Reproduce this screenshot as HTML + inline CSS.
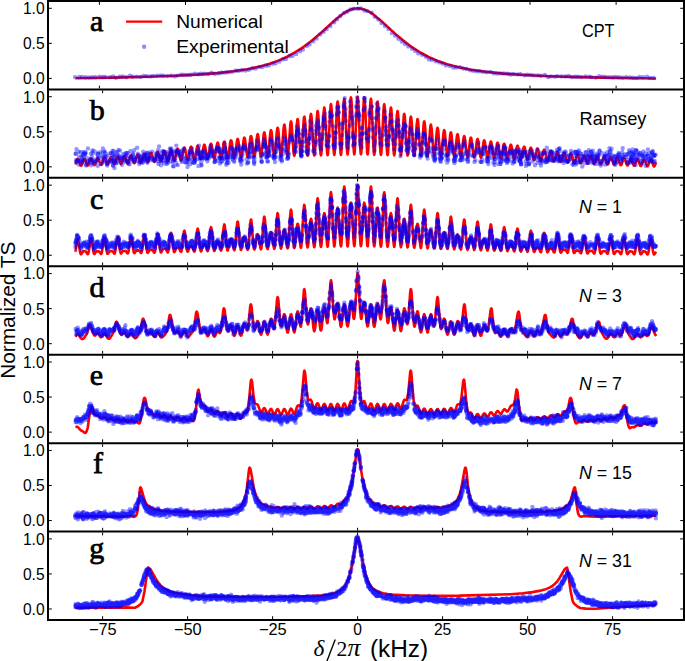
<!DOCTYPE html><html><head><meta charset="utf-8"><style>html,body{margin:0;padding:0;background:#fff;overflow:hidden}svg{display:block}</style></head><body>
<svg width="685" height="661" viewBox="0 0 685 661">
<rect width="685" height="661" fill="#fff"/>
<defs>
<clipPath id="c0"><rect x="48.0" y="1.00" width="636.0" height="88.43"/></clipPath>
<clipPath id="c1"><rect x="48.0" y="89.43" width="636.0" height="88.43"/></clipPath>
<clipPath id="c2"><rect x="48.0" y="177.86" width="636.0" height="88.43"/></clipPath>
<clipPath id="c3"><rect x="48.0" y="266.29" width="636.0" height="88.43"/></clipPath>
<clipPath id="c4"><rect x="48.0" y="354.72" width="636.0" height="88.43"/></clipPath>
<clipPath id="c5"><rect x="48.0" y="443.15" width="636.0" height="88.43"/></clipPath>
<clipPath id="c6"><rect x="48.0" y="531.58" width="636.0" height="88.43"/></clipPath>
</defs>
<g clip-path="url(#c0)">
<path fill="none" stroke="#f00" stroke-width="2.6" stroke-linejoin="round" d="M75.4 78.3l 39-.7 32.4-.8 27.4-1 23.2-1.2 19.5-1.5 16.2-1.8 14.1-2.1 12.5-2.7 10-2.8 9.1-3.3 8.3-3.7 8.3-4.5 8.3-5.4 8.3-6.3 7.5-6.4 15.8-14.3 7-5.6 4.2-2.7 3.7-1.7 3.7-1.1 3.8-.4 3.7 .4 3.7 1.1 3.8 1.8 4.1 2.6 7.1 5.7 15.3 14 7.9 6.7 8.7 6.6 8.3 5.3 8.3 4.5 9.2 4 9.5 3.3 10.4 2.7 13.3 2.7 14.9 2.1 17.5 1.8 20.7 1.4 24.9 1.2 29.5 .9 35.3 .8 42.3 .6"/>
<path fill="none" stroke="#00f" stroke-opacity="0.42" stroke-width="4.4" stroke-linecap="round" d="M75 77.1h0m14 .3h0m13.7-.4h0m13.3 .8h0m14-2h0m13.8 .2h0m13.2-.3h0m14.1 .1h0m12.8-1h0m14.1-.6h0m13.5-1.4h0m13.5-.2h0m13.6-1.8h0m13.7-2.5h0m13.6-2.6h0m13.5-4.1h0m13.2-5.8h0m14.2-9.9h0m13.4-11.5h0m14-12.1h0m13.1-10.5h0m13.5-3.4h0m14 8.4h0m13.6 12.1h0m13.3 12.6h0m13.6 9.5h0m13.6 8.4h0m13.8 4.2h0m13.5 3.9h0m14 2.7h0m13 1.7h0m13.8 1.6h0m13.3 1h0m14.3 .7h0m13.3 .2h0m13.3 1h0m14.1 0h0m12.9 .2h0m13.4 .5h0m14-.2h0m13.5 .4h0m13.9 .5h0m13.9-1h0"/>
<path fill="none" stroke="#00f" stroke-opacity="0.42" stroke-width="4.4" stroke-linecap="round" d="M79.1 77h0m13.1 .2h0m13.3-.3h0m14.3-.2h0m13.1 0h0m13.8-.5h0m13.8-.8h0m14.2 1h0m12.6-1.5h0m13.7-1.2h0m13.8 0h0m13.3-1.4h0m13.9-2.1h0m13.7-1.6h0m13.1-3.2h0m14.1-6h0m13.3-5.3h0m13.4-9.9h0m14.1-12.4h0m13.4-12.6h0m13.5-9.7h0m13.8 1.1h0m13.9 8.8h0m13.6 13.6h0m13.1 11h0m13.3 9.4h0m13.6 6.3h0m14 5.7h0m13.9 1.9h0m13.6 3.5h0m13.4 1.5h0m13.7 1.1h0m13 .6h0m14.1 .7h0m13.4 1h0m13.9 .9h0m13.7-.6h0m13 1.1h0m14.2 .5h0m13.3-.5h0m13.5 .5h0m13.8 .3h0m13.6 0h0"/>
<path fill="none" stroke="#00f" stroke-opacity="0.42" stroke-width="4.4" stroke-linecap="round" d="M82 76.9h0m13.4 .3h0m14.6-.1h0m12.9-.6h0m13.9 .1h0m13.6-.2h0m13-.7h0m14.2-.1h0m13-.8h0m13.7-1h0m14.2-.4h0m13.3-1.5h0m13.7-1.4h0m13.7-3.6h0m13.5-3.1h0m13.4-4.9h0m13.9-7.6h0m13.2-10.1h0m13.5-12.2h0m13.7-13h0m13.3-7.3h0m13.8 2.4h0m13.9 12h0m13.7 12.5h0m13.2 10.8h0m13.9 8.4h0m13.6 6.4h0m14.1 4.8h0m13.2 2.5h0m13.5 2.8h0m13.9 .6h0m13.3 1.6h0m13.5 .9h0m13.6 .5h0m14 .1h0m12.6 1.1h0m14.3 1h0m13.7-.6h0m13.7-.2h0m13.4 .9h0m13.6-.1h0m13.4-.1h0m13.8 1h0"/>
<path fill="none" stroke="#00f" stroke-opacity="0.42" stroke-width="4.4" stroke-linecap="round" d="M85.5 77.2h0m13.9-.6h0m13.7-.2h0m13.3 .8h0m14-.3h0m12.8-.9h0m14 .1h0m13.8-1.3h0m13.5-1h0m13.6 .2h0m13.5-1.2h0m14-2h0m13.3-1.1h0m13.3-2.6h0m13.5-3.9h0m13.9-6.9h0m13.3-6.7h0m13.6-11.1h0m13.9-12.4h0m13.7-13.1h0m13.7-4.2h0m13.8 4h0m13.3 13.3h0m13.5 12.6h0m13.7 10.1h0m13.8 8h0m13.5 5.6h0m13.9 5.2h0m13.3 1.4h0m13.2 2.2h0m13.9 2.1h0m13.6 .5h0m13.2 .5h0m13.5 1.1h0m14.2 1.6h0m13.2-.6h0m13.8 .4h0m14.1-.2h0m13.4 .2h0m13 .1h0m14 .5h0m13.3-.1h0"/>
</g>
<g clip-path="url(#c1)">
<path fill="none" stroke="#f00" stroke-width="2.6" stroke-linejoin="round" d="M75.4 164.5l 1.5-4.5 .5-.8 .4-.2 .4 .3 .5 .9 1.6 4.7 .4 .7 .5 .1 .8-1.3 1.6-4.9 .5-.7 .4-.1 .3 .2 .5 .9 1.7 5 .5 .6 .3 .1 .8-1.3 1.7-5 .4-.7 .4-.2 .3 .2 .5 .8 1.7 5.1 .5 .7 .4 .1 .3-.3 .5-.9 1.7-5.3 .7-.8 .4 .1 .4 .8 1.9 5.5 .3 .5 .4 .1 .3-.2 .5-.9 1.7-5.5 .5-.7 .3-.2 .4 .3 .5 .9 1.7 5.3 .3 .5 .4 .2 .3-.2 .5-.9 1.9-5.8 .3-.6 .4-.2 .3 .3 .5 .8 1.7 5.4 .5 .8 .3 .1 .4-.3 .4-1 1.8-5.7 .3-.6 .4-.2 .3 .1 .5 .8 1.9 5.8 .3 .6 .4 .2 .3-.3 .5-.9 1.7-5.9 .5-.8 .3-.2 .4 .3 .4 .9 1.8 5.7 .3 .6 .4 .2 .3-.2 .4-.6 1.8-6.4 .5-.9 .3-.2 .4 .2 .5 .9 1.7 5.8 .5 .9 .3 .1 .4-.3 .4-1.1 1.8-6.3 .7-1 .3 .2 .5 .9 1.7 6.1 .5 .9 .3 .2 .4-.3 .4-1 1.8-6.6 .5-1 .3-.2 .4 .2 .3 .7 1.7 6.4 .5 1.1 .4 .2 .3-.2 .5-1 1.7-7 .5-1.1 .3-.2 .4 .2 .4 1 1.9 7 .3 .7 .4 .2 .3-.4 .5-1.2 1.7-7.3 .5-1 .4-.2 .3 .3 .5 1.2 1.7 7.1 .4 .8 .3 .2 .4-.3 .4-1.2 1.9-8.1 .3-.8 .4-.2 .3 .3 .4 .8 1.7 7.5 .5 1.3 .3 .3 .4-.3 .4-1.1 1.8-8.2 .5-1.3 .3-.4 .4 .3 .4 1.2 1.9 8.3 .3 .8 .4 .3 .3-.4 .5-1.4 1.7-8.6 .5-1.2 .3-.3 .4 .4 .5 1.4 1.7 8.4 .3 1 .4 .3 .3-.4 .4-.9 1.9-9.5 .4-1.4 .4-.3 .3 .3 .5 1.4 1.7 9 .5 1.2 .3 .2 .4-.5 .4-1.6 1.8-9.5 .3-1.1 .4-.4 .3 .3 .4 .9 1.8 9.9 .5 1.4 .4 .3 .3-.4 .5-1.6 1.7-10 .5-1.5 .3-.3 .4 .5 .4 1.6 1.8 9.9 .3 1.1 .4 .4 .3-.4 .5-1.6 1.7-10.5 .5-1.6 .3-.4 .4 .4 .5 1.6 1.7 10.4 .5 1.5 .3 .2 .4-.5 .4-1.8 1.8-11 .3-1.3 .4-.5 .3 .3 .5 1.6 1.7 10.9 .5 1.6 .3 .4 .4-.4 .4-1.8 1.8-11.6 .5-1.7 .3-.4 .4 .5 .3 1.3 1.7 11.4 .5 1.9 .4 .5 .3-.4 .5-1.7 1.7-12.2 .5-1.9 .3-.5 .4 .4 .4 1.8 1.9 12.7 .3 1.2 .4 .3 .3-.6 .4-1.4 1.7-12.8 .5-2.2 .3-.6 .4 .3 .5 1.8 1.7 12.8 .5 2 .3 .4 .4-.5 .4-2.1 1.9-14.2 .3-1.4 .4-.4 .3 .5 .4 1.5 1.7 13.5 .5 2.2 .3 .6 .4-.4 .5-2 1.7-14.4 .5-2.3 .3-.6 .4 .4 .3 1.4 1.9 15.1 .4 2.2 .4 .4 .3-.7 .5-2.4 1.7-15.4 .5-2.2 .3-.4 .4 .7 .5 2.5 1.7 15.4 .3 1.7 .4 .6 .3-.6 .4-1.7 1.9-17.2 .4-2.6 .4-.6 .3 .6 .5 2.6 1.7 16.5 .5 2.3 .3 .4 .4-.8 .4-3 1.8-17.6 .3-2.1 .4-.8 .3 .5 .5 2.6 1.7 17.7 .5 2.8 .4 .5 .3-.7 .5-3 1.7-19.1 .5-2.8 .3-.6 .4 .8 .3 2.2 1.8 19.1 .4 3.2 .4 .8 .3-.7 .5-3 1.7-20.7 .5-3.3 .3-.8 .4 .6 .5 3.2 1.8 21.9 .4 2.1 .3 .5 .4-1 .4-3.7 1.8-22.8 .4-3.3 .4-.6 .3 1.1 .5 3.9 1.7 23 .4 2.5 .3 .8 .4-.9 .5-3.9 1.8-26.4 .4-2.6 .3-.8 .4 1.1 .3 2.7 1.7 25.4 .5 4.2 .4 1.1 .3-.8 .5-3.8 1.7-26.9 .5-4.2 .3-1.1 .4 .9 .4 4 1.9 28.3 .3 2.7 .4 .8 .3-1.3 .5-4.6 1.8-28.5 .4-4 .4-.7 .3 1.3 .5 4.8 1.7 28.7 .4 3.1 .3 1.1 .4-1.1 .4-4.6 1.9-32 .3-3.1 .4-1 .3 1.2 .4 3.3 1.7 30.5 .5 5.2 .3 1.4 .4-.9 .5-4.5 1.7-32.4 .5-5.2 .3-1.4 .4 .9 .3 3.3 1.9 34.1 .4 4.9 .4 1 .3-1.4 .5-5.5 1.7-34.8 .5-5 .3-1 .4 1.6 .5 5.7 1.7 35 .4 3.9 .3 1.4 .3-1.3 .4-3.7 1.9-39 .4-5.7 .4-1.3 .3 1.4 .5 5.8 1.7 37.3 .5 5.3 .3 .9 .4-1.9 .4-6.5 1.8-38.9 .3-4.4 .4-1.7 .3 1.1 .5 5.7 1.7 39.2 .5 6 .4 1.3 .3-1.7 .5-6.4 1.7-40.9 .5-5.9 .3-1.1 .4 1.9 .4 6.7 1.8 40.9 .3 4.5 .4 1.7 .3-1.3 .4-4.2 1.8-43.7 .5-6.4 .3-1.5 .4 1.6 .5 6.5 1.7 41.7 .5 6 .3 1.1 .4-2 .4-7 1.8-42 .3-4.7 .4-1.9 .3 1.3 .4 4.3 1.8 44.1 .5 6.4 .3 1.5 .4-1.6 .5-6.5 1.7-41.7 .5-6 .3-1.1 .4 2 .4 6.9 1.8 41.7 .3 4.7 .4 1.8 .3-1.2 .4-4 1.8-42.9 .5-6.2 .3-1.4 .4 1.6 .4 6.4 1.8 40.9 .4 5.9 .4 1.2 .3-1.8 .5-6.5 1.8-39.1 .3-4.3 .4-1.6 .3 1.2 .3 4 1.9 40.8 .5 6 .3 1.5 .4-1.4 .4-5.8 1.8-37.3 .4-5.3 .4-1 .3 1.8 .5 6.2 1.7 37.1 .4 4.2 .3 1.6 .4-.9 .3-3.5 1.9-36.7 .5-5.2 .3-1.2 .4 1.4 .4 5.5 1.8 34.7 .4 5.1 .4 1 .3-1.4 .5-5.3 1.7-32.6 .4-3.6 .3-1.3 .4 1 .4 4.8 1.8 32.3 .5 5 .3 1.3 .3-1 .5-4.7 1.8-30.7 .4-4.4 .4-.8 .3 1.4 .4 3.4 1.7 30.5 .5 5 .3 1.4 .4-.7 .4-4.1 1.8-28.7 .4-4.4 .4-1.1 .3 1.1 .5 4.4 1.7 28.5 .5 4.3 .4 .9 .3-1.1 .4-3 1.7-27 .5-4.4 .3-1.2 .4 .7 .4 3.9 1.8 26.8 .4 4.3 .4 1.1 .3-.8 .5-3.8 1.9-26.6 .3-2.5 .4-.8 .3 1.1 .5 4.1 1.7 25.2 .5 3.5 .3 .7 .4-1.1 .4-4 1.8-23 .3-2.4 .4-.8 .3 .9 .5 3.5 1.7 22.8 .5 3.4 .3 .8 .4-.8 .3-2.3 1.8-20.9 .4-3.4 .4-.9 .3 .5 .5 3 1.7 20.8 .5 3.3 .4 .9 .3-.6 .4-1.9 1.8-20.1 .5-2.9 .3-.6 .4 .8 .4 3.1 1.8 19.1 .5 2.7 .3 .5 .3-.8 .5-2.9 1.8-17.7 .3-2 .4-.7 .3 .6 .3 1.8 1.9 18.6 .5 2.7 .3 .6 .4-.5 .4-2.6 1.8-16.5 .4-2.3 .4-.5 .3 .8 .5 2.8 1.7 16.4 .4 1.9 .3 .7 .4-.4 .3-1.5 1.9-16.1 .5-2.3 .3-.5 .4 .6 .4 2.4 1.8 15.4 .4 2.2 .4 .5 .3-.6 .5-2.4 1.7-14.3 .4-1.6 .3-.6 .4 .4 .4 2.1 1.8 14.4 .5 2.3 .3 .5 .4-.4 .4-2.1 1.8-13.5 .4-1.9 .4-.4 .3 .6 .4 1.5 1.7 13.6 .5 2.2 .3 .7 .4-.3 .4-1.8 1.8-12.8 .4-1.9 .4-.5 .3 .5 .5 1.9 1.9 13.5 .3 1.3 .4 .4 .3-.5 .4-1.3 1.7-12 .5-2 .3-.6 .4 .3 .4 1.8 1.8 12.1 .4 2 .4 .5 .3-.3 .5-1.8 1.9-12 .3-1.1 .4-.4 .3 .5 .5 1.9 1.7 11.5 .5 1.7 .3 .3 .4-.5 .4-1.8 1.8-10.9 .3-1.2 .4-.4 .3 .4 .4 1.1 1.8 11.5 .5 1.7 .3 .4 .4-.3 .3-1.2 1.8-10.3 .4-1.8 .4-.5 .3 .3 .5 1.5 1.8 10.5 .4 1.7 .4 .4 .3-.2 .4-1 1.8-10.4 .5-1.5 .3-.3 .4 .4 .4 1.6 1.8 10 .5 1.5 .3 .3 .3-.4 .5-1.6 1.8-9.4 .3-1 .4-.4 .3 .3 .4 1 1.8 10 .5 1.4 .3 .4 .4-.3 .4-1.4 1.8-8.9 .4-1.3 .4-.2 .3 .4 .5 1.5 1.7 9.1 .4 1 .3 .5 .4-.2 .5-1.3 1.7-8.4 .5-1.3 .3-.3 .4 .3 .4 1.4 1.8 8.6 .4 1.3 .4 .3 .3-.4 .4-.8 1.7-8 .5-1.3 .3-.4 .4 .3 .4 1.2 1.8 8.1 .5 1.3 .3 .4 .4-.2 .4-1.2 1.8-7.5 .4-1.1 .4-.2 .3 .3 .4 .9 1.7 7.7 .5 1.3 .3 .4 .4-.1 .4-1 1.8-7.2 .4-1.1 .4-.2 .3 .3 .5 1.1 1.9 7.7 .3 .7 .4 .3 .3-.3 .4-.7 1.7-6.7 .5-1.1 .3-.3 .4 .2 .4 1 1.8 6.9 .4 1.1 .4 .3 .3-.2 .4-.6 1.8-6.7 .5-.9 .4-.2 .3 .3 .5 1 1.7 6.6 .5 1 .3 .2 .4-.3 .4-1 1.8-6.1 .3-.6 .4-.3 .3 .2 .4 .7 1.8 6.6 .5 1 .3 .2 .4-.2 .3-.6 1.8-5.9 .4-.9 .4-.3 .3 .1 .5 .9 1.8 6 .4 1 .4 .3 .3-.2 .5-.8 1.7-5.6 .5-.9 .3-.2 .4 .3 .4 .9 1.8 5.8 .5 .9 .3 .2 .4-.3 .3-.6 1.7-5.5 .5-.9 .4-.2 .3 .1 .5 .9 1.7 5.7 .5 .8 .3 .3 .4-.2 .4-.8 1.7-5.1 .4-1 .4-.2 .3 .1 .5 .7 1.7 5.6 .5 .9 .3 .3 .4-.1 .5-.8 1.7-5.3 .5-.8 .3-.2 .4 .2 .4 .9 1.9 5.7 .3 .5 .4 .2 .3-.2 .4-.6 1.7-5.1 .5-.9 .3-.2 .4 .1 .4 .8 1.8 5.3 .5 .9 .3 .2 .4-.1 .4-.8 1.6-4.8 .5-.9 .4-.3 .3 .1 .5 .7 1.7 5.2 .5 .9 .3 .3 .4-.1 .4-.7 1.8-5 .4-.8 .4-.2 .3 .2 .4 .5 1.9 5.4 .4 .8 .4 .2 .3-.2 .4-.5 1.7-5 .5-.8 .3-.3 .4 .2 .4 .7 1.8 5.1 .4 .8 .4 .2 .3-.1 .5-.7 1.6-4.7 .5-.9 .3-.3 .4 .1 .5 .7 1.7 5 .5 .9 .3 .3 .4-.1 .4-.7 1.6-4.6 .9-1.3 .4 .1 .5 .7 1.6 4.8 .8 1.3 .4-.1 .4-.6 1.3-3.6"/>
<path fill="none" stroke="#00f" stroke-opacity="0.42" stroke-width="4.4" stroke-linecap="round" d="M75.7 153.4h0m.8 8.4h0m1.6-1.4h0m1-3.6h0m1.6 .9h0m1.3 1.6h0m1.4-7.4h0m1.6 1h0m.6 11.5h0m1.7-2h0m2.4-2.8h0m1.4 5.6h0m1.6-12h0m1.1 8.4h0m3.3-.9h0m.9-.7h0m2.3-7.8h0m2.6 4.9h0m1 3.7h0m1.2-4.9h0m1.1 4h0m1.1-3.9h0m3.3-3h0m1.1 7.8h0m1.1 4.3h0m.7-5.4h0m.4 1.3h0m.8-4.5h0m1.6 6.8h0m1.8-7.5h0m1.2 1.4h0m.8-6.6h0m2.3 7.6h0m2.1 1.7h0m1.7-4.1h0m1 6.1h0m2.1-1h0m1.9-1.3h0m2-3.2h0m.7 3.5h0m.8-1.2h0m3.1-5.1h0m1.7 8h0m.6-3.6h0m1.6-1.6h0m1.5-4.7h0m.9 8.3h0m.5-.8h0m1.1-6h0m.7 6.6h0m.8-2.7h0m1.4-3.9h0m1.2-.8h0m2.3-.7h0m2.9 7.7h0m1.2-6.3h0m1.9-2.8h0m.4 4.9h0m1.1 1.3h0m1.4 8.7h0m.2-3.4h0m1.2-4.1h0m1.2-6.1h0m.5 .8h0m.9 .4h0m1.3-.9h0m.4 4.6h0m1.2 6h0m1-8.7h0m1.1-.8h0m.5 1.4h0m.8-5.9h0m1.2 1.9h0m.8 10.4h0m.9-1.1h0m1.8-7.5h0m.6 2.5h0m1.2 10.4h0m1.5-8.8h0m1.9 4.2h0m1.4-4.6h0m1.8 2.7h0m3 3.5h0m.5 .7h0m1.5-8h0m.7 9.5h0m1.7-9.8h0m1.1-.4h0m1.2 8.6h0m.9-4.5h0m2.8-4.5h0m.6 12.3h0m.6-20.3h0m1.8 19.5h0m.6-7.3h0m1.2-6.3h0m1.2 4.1h0m1.3 2.7h0m1.9-1.6h0m.8 .2h0m2-3.8h0m.8-7.5h0m1.1 5.2h0m2.8 .6h0m.8 9.3h0m1.7-12.6h0m1.5 1.2h0m.6 1.5h0m.8 12.7h0m.8-5.1h0m1.6-5.2h0m.9 4.8h0m.5-7.1h0m1.3-3.2h0m.8 11.3h0m.9 4h0m.6-4.3h0m.8-.4h0m2.7-8.9h0m1.2 3.1h0m.6 4.1h0m1-5.1h0m1.8 .7h0m1.1-2.9h0m.4 .1h0m2.1 .2h0m1.5 9.2h0m.6-1h0m1.3-4.4h0m1.3-4.9h0m1-1.6h0m1.8 12.1h0m2.1-1.7h0m1-9.5h0m.7-3h0m.7-.9h0m1.7 8h0m1.3 9.4h0m.5-.1h0m2.1-11.1h0m.7-3h0m3.9 10h0m1.2-2.7h0m1.3-8h0m.4-2.6h0m1.1 3.4h0m1.1 5.7h0m.9 2.8h0m1.5 0h0m.5-4.5h0m1.5-11.3h0m1.2 5h0m1.8 13.3h0m1.1-4.6h0m.8 3.1h0m1.1-8.7h0m1.2-9.5h0m.9 6.1h0m2.1 13.6h0m.9 3.1h0m1.1-12.2h0m2.2-10.6h0m.6 1.2h0m1.3 19h0m1-1.4h0m1.5-15h0m1.5-5.5h0m1.3 3.1h0m3.3 7.5h0m.7-6.5h0m.7-5.9h0m.1-3.2h0m.9-2h0m1.4 12.1h0m1.8 13.3h0m.6-8.3h0m.5 4.6h0m.7-21.6h0m1.2-2h0m1.3 2.5h0m.9 16.7h0m1.1 3.2h0m.9-.8h0m1-10.9h0m1.5-11.2h0m1.8 10.1h0m1.4 9.5h0m1.6-2.4h0m.7-10.8h0m1.4-13.4h0m1.3 19.3h0m1.2 4.6h0m1.5-5.4h0m1.4-14.5h0m.8-5.9h0m1.3 9.9h0m1.3 12.5h0m2.1 5.9h0m1.3-34.6h0m1 5.1h0m1.1 8.2h0m2.3 19.7h0m.8-3.6h0m.4-8.5h0m1.5-19.3h0m.8-2.4h0m.9 1.1h0m2.4 31.8h0m1-20h0m1.6-17.1h0m.9 5.3h0m1.2 8.3h0m1.3 14.1h0m1 6.1h0m1.5-15.5h0m1.9-9.1h0m1.2 7.2h0m.6 13.3h0m1.1 7.3h0m1.8-38.2h0m1.1-4.1h0m1.4 12.9h0m.6 .6h0m.9 28.5h0m1.3-16.2h0m.5 6.4h0m1.8-36.1h0m2.2 34.4h0m2.2 8.8h0m.8-28.2h0m2.5-6.4h0m1.3 31.1h0m1.6 12.6h0m1.1-23.9h0m1.6-16.5h0m1-1.6h0m1.4 20.1h0m1 13.7h0m4.1-24.6h0m.7 10h0m1.1 12.6h0m.4 4.4h0m2.8-7.8h0m1.7-14.8h0m1.3 17.7h0m.8 4.1h0m2.2-13.5h0m1.2-3.4h0m1.7 7.2h0m.9 2.5h0m.7 8.4h0m.3 3.1h0m.8-1.1h0m1.7-13.6h0m1.3-9.6h0m.1 2.7h0m1.6 5.7h0m.4 18.2h0m.9-.1h0m1.5-1.7h0m.5-9.3h0m1.4-9.6h0m1.8 9.5h0m.4 11.3h0m1.2-1.1h0m1.2-1.3h0m1.8-14h0m.3-4.9h0m.5 4.4h0m.6 2.9h0m1.7 18.6h0m1.4-6.5h0m.9-6.7h0m1.4-8.1h0m.9 1.2h0m1.3 9.2h0m.6 10.8h0m.9 3.6h0m2.4-20.5h0m2.5 12.7h0m1-1.6h0m1.2 11.8h0m.7-2.9h0m1.5-9.1h0m2.7 4.8h0m.6 4.7h0m.5 3.4h0m.8-3.4h0m.8-5.3h0m1.1-3.6h0m1.3-4.7h0m1.8 9.5h0m1.4 4.3h0m1.5-7.9h0m.9-5.8h0m1.1-.4h0m.8 8h0m1.8 8.4h0m.7-2h0m.8-2.2h0m.4-7.1h0m1.8-1.9h0m2.3 6.3h0m1.3 3.9h0m.9-1.1h0m1.1-12.5h0m1.1-3h0m1.7 18.2h0m1.8 2.3h0m1.4-10.3h0m2.4-6.8h0m3.2 10.7h0m1.5-2.6h0m2.1-3.7h0m1.8 12.3h0m2.1-11.8h0m1 .5h0m2-3h0m2.3 14.2h0m1-3.8h0m1.1-9.5h0m1.2-.1h0m1.3-.5h0m1.2 5.5h0m1.4 9h0m2.8-12.5h0m.7-3.5h0m.7 6.7h0m1.3 11.3h0m.8-10.9h0m1.1 5.7h0m1.3-4.4h0m.3-6.2h0m.7 6.4h0m.8-6.1h0m1 10.6h0m.5 4h0m1.2-2.2h0m1.4-8h0m1.9 3.9h0m1.1-2.5h0m1.3 7.2h0m.7 .4h0m.9-11.7h0m1.6 2h0m1.5 1h0m1 7h0m.4 .9h0m.5-9.4h0m1 12h0m.9-6.6h0m1-3.9h0m1.7-1h0m1.9 6.2h0m.9-6.1h0m1.2 11.6h0m.8-12.6h0m2.1 4h0m1.8 1h0m1.5-1.8h0m3 2.1h0m1.8 4.4h0m.9 4.5h0m.9-5.4h0m2.9-7.8h0m1 6.7h0m.8 2.9h0m1.9-1.4h0m1.1-.5h0m.8-1.6h0m1.6-6.4h0m1.6 8.8h0m2.5-.6h0m1.4-8.2h0m.9 9.2h0m.7-12.2h0m.8 9.6h0m1.8-2.4h0m1.5 4.1h0m.7-1.1h0m1.8-6.3h0m2 9.2h0m1.3-6.7h0m1.8-.9h0m2.9 10.3h0m1.1-2.9h0m.5-10h0m.7 12.6h0m.9-11.1h0m1.2 9.1h0m2-9.3h0m.9 .6h0m1.3 6h0m1.7-2h0m2-.7h0m.8 1.8h0m1.3 4h0m.9-7.9h0m1.2-1.4h0m1.6 4.8h0m.5-4.1h0m1.3 2.5h0m1.3 4.5h0m.2-2.6h0m1.1 1.9h0m.4-1.6h0m.7-.9h0m1.6-3.1h0m1.5 6.4h0m1.6-.8h0m2.8-4.2h0m.4 2h0m.6-2.2h0m1.7 3.6h0m.8-4.6h0m1.2-6.9h0m.8 7.5h0m2.2 .9h0m1.8 6.1h0m.8-6.4h0m1 6.7h0m2.2-6.9h0m.6-3.3h0m2.5 8.9h0m1.2-4.5h0m2.5-2.9h0m2.7-.4h0m1.4-3.8h0m1.9 5.9h0m.2 3.2h0m.8-7h0m.5 7.2h0m1 2.8h0m.5-2.2h0m.5-5.1h0m.8 .3h0m.7-5h0m1.9 6.5h0m1.4-1.4h0m1.8 7.3h0m1.4-7.5h0m1-3.7h0m2.2 14.2h0m1.9-9.8h0m.8 2.6h0m1.7 2h0m1.4-8.3h0m.6 7.5h0m.6-8.7h0m1.7 4.3h0"/>
<path fill="none" stroke="#00f" stroke-opacity="0.42" stroke-width="4.4" stroke-linecap="round" d="M75.7 153.9h0m.8-4.7h0m2.2 2.5h0m.9 8.9h0m1.9-3.8h0m1.2 4.1h0m1-7.1h0m1.4 .7h0m1.1 11h0m1.7-17.1h0m2.5 12.6h0m1.5-4.3h0m1.2 6.2h0m2.8-1.1h0m1.8-6.5h0m.5-1.5h0m3.6 2.1h0m1.1-7.5h0m1.4 2.6h0m1 6.1h0m1.4 6.9h0m1.1-2h0m2.8-8.2h0m1.2 1.1h0m1.1-2.1h0m.8-1.6h0m.8 16.9h0m.9-6.7h0m1.2-8.9h0m1.9-2.6h0m.9 8.4h0m2.4-1.6h0m.7 3h0m3.1-5.2h0m.8 6.5h0m1.5-8h0m1.5 11.2h0m2-8h0m1.8-2h0m.8 3.4h0m2 3.4h0m2.5-2h0m1.1 1.6h0m1.2 1h0m1.2 1.3h0m1.2-4.4h0m.9 2.7h0m.7-3.1h0m.9-3.3h0m1.1 1.1h0m.5 6.9h0m1.6-3h0m1.1-1.8h0m2.5 2.3h0m2.8-.8h0m1.6-2h0m1.5 .7h0m.3 3h0m1.1-2.7h0m1.2 .4h0m.4-5.4h0m1.7-.8h0m.6 3.4h0m.5-.1h0m1 1.9h0m1.1 2.9h0m.6 3.3h0m1.1-2.9h0m1.2-3.6h0m.9 4h0m.5-7.1h0m.9 0h0m1.4-2.2h0m.7 6.8h0m1.5 .4h0m1.2-13.9h0m.7 5.1h0m1.6 1.5h0m.8 2.3h0m2.1-3.5h0m1.1-.9h0m2.5 11.9h0m2.4 .4h0m1.4-2.3h0m.7-7.1h0m.7 6.6h0m1.7-7.4h0m1.1 10.6h0m1.1-.6h0m1-1.8h0m2.7-9h0m.6 3.4h0m1.4 3.6h0m1-5.7h0m.8 12.5h0m1.9-7.5h0m.6-7.2h0m1.4 3h0m1.4 5h0m1.8 .1h0m1-2.2h0m1.2-4h0m1.1 1.6h0m2.5 8.1h0m.8-11.4h0m2.1-2.9h0m1.1 4.1h0m.5-3.6h0m1 9.5h0m.8 3.5h0m1.5 0h0m1.1-9.8h0m.5 1.1h0m1.3-3.8h0m.7 6.8h0m.7 2.8h0m.6 4.1h0m1.3 0h0m2.3-11h0m1.4 1.9h0m.5 5.9h0m1 1.3h0m1.7-2.8h0m1.1-9h0m1.6 2h0m.9-3.3h0m1.5 12.4h0m.6 4.7h0m1.7-16.2h0m1.1-3.5h0m.8 .8h0m2 17.8h0m2.3-6h0m.5-3.8h0m.8-2.8h0m1.1-2.8h0m1.7 8.6h0m.9 5.9h0m2-14.2h0m.8-.8h0m.8-1.8h0m3.7 15h0m1.3-6.8h0m1-10h0m.9-2.5h0m.7 4.7h0m1.1 11.1h0m1-3.1h0m1.5 1.8h0m.4-3.2h0m1.6-13.8h0m1.6 10.3h0m1.2 7.8h0m1.3 4.9h0m1.2-10.1h0m.6-8.3h0m1.1-.9h0m1 4.1h0m2.4 8.8h0m.8 4.3h0m1.2-16.5h0m2.1-1.7h0m.9 10.3h0m.7 1.6h0m1.1 5h0m1.8-18.7h0m1.3-.9h0m3.4 12.8h0m1.2-5.2h0m.5-9.9h0m.7-10.1h0m.4 6.8h0m.8-.3h0m1.8 8.5h0m1.3 13.7h0m.5-4.1h0m.7-17.4h0m.8-.3h0m1-3.5h0m1.6 3.5h0m.7 17.4h0m1 3.2h0m1.3-10.5h0m.8-7.7h0m1.7-6.5h0m1.9 21.4h0m1.1-.7h0m1.4-24.2h0m1.1 4.6h0m1.5-3.8h0m.8 7.4h0m1.2 13.7h0m2-13.3h0m1-12.3h0m.6-5h0m1.8 8.9h0m1.1 19.4h0m2.2-9.1h0m1-19.6h0m1.2-.7h0m1.9 28.8h0m1.4 3.3h0m.7-10.4h0m.4-5.7h0m1.9-24.2h0m.4-.2h0m1.3 16.3h0m2 24h0m1-19.8h0m1.8-21.6h0m1 8h0m1.6 17.3h0m.6 10.7h0m1.1-5.9h0m1.6-35.3h0m2.1 16.6h0m.9 27.6h0m.6-8h0m1 5.6h0m1.8-35.7h0m1.4-6.2h0m1.2 12.6h0m.8 21.5h0m1 10.1h0m.8 1.9h0m.5-13.2h0m2.7-32.8h0m1.5 32.2h0m2.3 3.4h0m.9-21.5h0m2.5 2.7h0m1.2 10.1h0m1.6 15.3h0m1.3-25.9h0m1.1-5.5h0m1.2 2.5h0m1.4 18.5h0m2 12h0m3.5-27.1h0m.7 16.5h0m.5-8h0m1.8 18.5h0m1.4-19.9h0m1.9-4.6h0m1.2 10h0m1.4 18.8h0m1.6-15.6h0m1.4-8.8h0m1.6 .5h0m.8 24.7h0m.6 .2h0m.4-.5h0m2.1-13.4h0m.4-7.7h0m1.2 .6h0m.3-1.9h0m1.4-1.2h0m.4 14h0m.9 8h0m1.7-5.8h0m1.1-9.7h0m.7 .4h0m1.8 1.4h0m.4 10h0m1.2 10.7h0m1.6-11.6h0m1.3-9.9h0m.3 .9h0m.6 2.8h0m1.1 6.7h0m1.4 10h0m1.2-1.3h0m1-15.7h0m1.4-2.7h0m1.1 7h0m1.1 10.2h0m.4-1.9h0m1.7 1.6h0m2.6-11.6h0m1.6 8.4h0m1.2 10.4h0m1.1 .6h0m.5-10.9h0m1.8-8.5h0m2.9 19.4h0m.3-.8h0m.6-.5h0m.6-3.5h0m1.2-8.6h0m1.1-5.1h0m1.2 .7h0m1.4 15h0m1.5-1h0m1.7-8.4h0m.6-4h0m1.3 4.8h0m1 3.2h0m1.9 12h0m.3-3.5h0m.7 .9h0m.4-5h0m3-10.1h0m1.4 14.9h0m1.3-.1h0m.7-2.2h0m1.3-10.9h0m1.2 .4h0m2.9 12.5h0m.4 .9h0m3.3-13.2h0m.9 7.4h0m3 5.1h0m2.4-11.7h0m.8 .1h0m2.7 13.6h0m1.4-7.6h0m.9-2.9h0m2.9 9.6h0m1.9-2h0m.8-.9h0m.9-.8h0m1.1-9.7h0m2 10.8h0m1.4 6.4h0m1.4-10.6h0m2-8h0m.6 12.4h0m1.6-7.2h0m.3 10.1h0m1.2-.3h0m.9-.6h0m1.2-8.7h0m.5 .3h0m.5-4.5h0m1 6.2h0m.8 4.9h0m.8 1.4h0m.9-1h0m1.5-8h0m2.1 1.3h0m.8 10.8h0m1.4-1.2h0m1-10.5h0m.6 .9h0m1.9-.2h0m1.3 4.9h0m.8 2.1h0m.3 .9h0m.7 1.5h0m.9-5.2h0m.8-4.5h0m1.4 .5h0m1.9 8.5h0m1.5 .1h0m1-2.5h0m.9-.5h0m2-7.7h0m1 .1h0m1.8 7.8h0m3.5 4.4h0m1.1-7.1h0m1.6 7h0m.9 0h0m1-8.7h0m3.1 7.1h0m1 .2h0m.7-1.4h0m1.9-3.5h0m1.2-.6h0m1.1 .2h0m1.6 4.6h0m1.2-7.5h0m3.1-3.3h0m.9 7.1h0m.7-7.9h0m.7 11.7h0m1.3-3.6h0m1.5-.7h0m1.6-2.6h0m.8 5.7h0m1.3-3.7h0m2 4.9h0m1.3-.6h0m2.1-9.2h0m2.8 12h0m1.3-1.7h0m.3-8.8h0m.8 .8h0m.8-1h0m1.1 2.2h0m2.1 7.3h0m1.2 .5h0m.9 4.3h0m2.6-3.4h0m1-11.1h0m1.2 .5h0m1.3 3h0m.7 .6h0m1.6-4.4h0m1.1 2.6h0m.5 8.4h0m1.4-5.5h0m1.1-.9h0m.4 3.6h0m1-3.9h0m.3 3.2h0m1.5-3h0m1.4-5.1h0m1.4 14.4h0m1.4-1.5h0m2.6-8.5h0m.4 8.9h0m.9-1.1h0m1.3-1.6h0m.8-5.9h0m1.5-3.5h0m.7-.6h0m3 7.7h0m1.1-2.8h0m.8 4.1h0m2.1-5.7h0m.8 6.7h0m1.3-7h0m2.1 3.9h0m1.1-10.4h0m3.8 8.7h0m1.2 5.8h0m2-10.5h0m1.3 5.1h0m.3 3.9h0m.8-4.1h0m.4-1.2h0m1-1.8h0m.7 3.5h0m.3 .6h0m1 2.5h0m.8-.6h0m2.1-5.9h0m1.3 6.4h0m1.7-5h0m1.2 7.1h0m2.4-5.6h0m.7-.2h0m2-1.3h0m.9 4.8h0m1.8-2.8h0m1.2-2.4h0m.9-3.3h0m1.4 10h0m.7-6.2h0"/>
<path fill="none" stroke="#00f" stroke-opacity="0.42" stroke-width="4.4" stroke-linecap="round" d="M76.3 160h0m.4 .8h0m2 3.7h0m1.8-.5h0m1.3-1.8h0m1.1-6.9h0m1.1-1.7h0m1.4 .1h0m1.2 7.8h0m2-.2h0m2 1.6h0m1.8-12.4h0m.8 10.4h0m2.8-1.5h0m1.8-4.1h0m.7-1.4h0m3.3 9.8h0m1.2-11.4h0m1.3-.4h0m1.2 4.7h0m1.4 6.3h0m2.7-2.8h0m1.7 1.1h0m1.3-7.8h0m.5 12.4h0m.8-9.3h0m.6 2.7h0m1 2h0m1.5-9.3h0m1.6 3.4h0m1 2.9h0m2.4 6.6h0m1.1-2.4h0m2.7-9.5h0m.6 8.2h0m2.1 2.7h0m1.7-6.7h0m1.2 1.6h0m2 3.1h0m.8-11.5h0m2.4 6.6h0m2.3-1.8h0m.8 7h0m1.2-5.5h0m1.7 2.3h0m.9-4.3h0m1 4.2h0m.5-2.1h0m1.1 2.4h0m1-6.3h0m.7 8.5h0m1.2-3.4h0m2.2 1.4h0m3.2-.8h0m1.2-3.1h0m1.5-1.8h0m1.3 10.4h0m.5-7.4h0m1.9 1h0m.3-.9h0m.8 2.7h0m1.6 1.3h0m.4-.5h0m.4-8.4h0m1.3 8.4h0m.9 1.1h0m1.1-1.6h0m1.1-2.4h0m.9-5h0m.7 1.1h0m.3-3.9h0m.9 3.1h0m1.4 9.5h0m.8 4.3h0m2.3-3.6h0m.4 1.5h0m.6-12h0m1.9 1.5h0m.6-2.3h0m2.2 7h0m1.4-7.3h0m2.1 7.1h0m2.3 8.6h0m1.9-8h0m.5-6.7h0m.9 5.2h0m1.2-8.9h0m1.9 11h0m.5 .9h0m3.3-1.3h0m.6-9.6h0m.4 3h0m1.6 3.5h0m.7 6.2h0m1.1-2.3h0m1.5-3.1h0m.8-3.1h0m2 1.5h0m.8 3.1h0m2.1-3.5h0m.7-6.6h0m1.3 4.8h0m.9 3.2h0m2.4 5.9h0m2.2-1.2h0m.8-12.4h0m1 9h0m.7-5.9h0m1.3 8.5h0m.8 1.4h0m1.3-2.7h0m.8-1.6h0m.9-13.7h0m1 8.4h0m.9 12.8h0m.5-7.7h0m.7 6.4h0m2.2-6.4h0m1.5-8.9h0m1.3 7.4h0m.4-6.2h0m1.4 8.4h0m1.5-3.2h0m.9-3.6h0m1.8-1.6h0m1.5 8.8h0m.9 3.2h0m1.2-.9h0m.9-12.3h0m1.5 1.4h0m.4 .9h0m3.1 12.2h0m1.3-6.4h0m.4-2.6h0m.8-9.4h0m1.1 .1h0m1.7 12.7h0m.9 7.1h0m2.2-14.9h0m.8-3.7h0m.7-1.8h0m3.8 18.4h0m1.4-15.2h0m.9-3.9h0m.8 .9h0m1.2 7.3h0m.7 6.6h0m.7 3.5h0m1.6-6.4h0m.6-7h0m1.4-5.9h0m2.1 13.9h0m.8 .2h0m1.5 1.1h0m1-14.4h0m.7-2.7h0m1.3 5.9h0m1.8 13.5h0m1.1-2.6h0m1.3-6.6h0m1.4-12.7h0m1.5 8.8h0m.9 5h0m1.4 5.4h0m.8-1.5h0m2.1-18h0m.9-.1h0m3.1 13.5h0m1.2-6.3h0m.5-9.7h0m.6-3.5h0m.4 2.1h0m1.2 .8h0m1.9 15.9h0m.8 6.6h0m.8-5.8h0m.6-8.9h0m.8-6.2h0m1.1-10.5h0m1.7 15.6h0m.3 11h0m1.1-.9h0m1.6-11.8h0m1-17.8h0m1.1 1.7h0m2.1 17.9h0m1.7 12.7h0m.8-11.6h0m1.4-18.9h0m1.2 4.1h0m.9 13.8h0m1 3.6h0m1.9-7.1h0m1.1-20.5h0m.5 2.2h0m2.5 14.9h0m.6 10.6h0m2.2-8.8h0m1.3-22.6h0m.9 2h0m2.7 30.4h0m.5-7.2h0m.6 5.4h0m.7-17.1h0m1.8-19.5h0m.4-.6h0m1.8 37.1h0m1.5-.4h0m1.3-20.5h0m1.6-20.5h0m.8 14.2h0m1.9 29.4h0m.2-1.5h0m1.1-7.1h0m2.2-31.2h0m1.9 14.3h0m.5 15h0m.7 8.2h0m1.1-6.9h0m1.7-23.1h0m1.7-6.8h0m.9 12.9h0m1 21.7h0m.8-1h0m1-12.4h0m1.7-17.8h0m1.3-2.9h0m1.8 31h0m2.1-9.5h0m.8-18.5h0m2.4-3.8h0m1.3 23.6h0m1.8 10.8h0m1.3-22.4h0m1.4-11h0m.7 .8h0m1.4 29.3h0m2.8-2.2h0m2.6-18.2h0m.7 13.5h0m.8 13.8h0m1.7-8.4h0m1.9-13.9h0m1.6 6h0m.8 5.1h0m2.7 10.7h0m.8-8.1h0m1.5-11.5h0m1.4 7.5h0m.9 17.3h0m.2-.6h0m.8 1.7h0m1.7-16.4h0m.4-4.5h0m1.1-5.3h0m.7 1.7h0m1.1 17.3h0m.8 2.2h0m1.1 4.2h0m1-2.8h0m1.3-18.5h0m.7 1.2h0m1.7 14.4h0m.6 7.4h0m1 3.1h0m2.4-16.1h0m.5-1.4h0m.2-3.7h0m.8 .8h0m1 10.9h0m2 10.6h0m.7-1.7h0m1.2-10.7h0m1.5-7.3h0m.8 2.9h0m.9 14h0m.7 3.4h0m1.9-4.3h0m2.4-10.8h0m1.3 12.8h0m1.8 2.4h0m.9 2.2h0m.7-9.3h0m1.3-5.8h0m2.8 5.9h0m.4 11.5h0m.8-2.1h0m.5-5.6h0m1.4-9.4h0m.8-2.8h0m2.4 14.7h0m.2 .1h0m1.7 4.7h0m1.4-16h0m.8 .8h0m1.3 4.7h0m1.1-3.2h0m1.6 12.5h0m.4-1h0m.6-2.8h0m.6-8h0m3.1 0h0m1.1 12.9h0m1.3-3h0m1-2.2h0m1.5-11h0m1.6 9.5h0m2.1 5.2h0m.7-4h0m3.2-8.3h0m1.4 9.9h0m3.1-5.4h0m1.5-.6h0m1.8 1.7h0m2.3 9.9h0m.9-8.3h0m1.1-5.9h0m3.1 10.2h0m1.4 3.5h0m.8-10.2h0m1.5 1.4h0m.5-6.7h0m2 3.8h0m1.4 9.6h0m2.3-9.5h0m1.5 7.5h0m.3-2.6h0m1.6 6.9h0m.7-1.3h0m.8-.7h0m1.6-3.8h0m.5-3.3h0m.6-2.5h0m.6 2.8h0m1 7.9h0m.7-3.6h0m.6 2.2h0m1.3-6.9h0m1.4-.8h0m1.9-.9h0m.7 0h0m1.5 7.4h0m.9 1.1h0m.8-2h0m2.2-5.1h0m1.4 .8h0m.3 7.4h0m.6 .4h0m.6 3.9h0m.9-8.5h0m1.2-1.6h0m1.4-2.1h0m1.5 13.5h0m1.2-9.8h0m1.3 5.4h0m.7 2.2h0m2-10.6h0m1.4 8.3h0m2.2-4.6h0m2.7-7.4h0m1.3 8.2h0m1.6 1.1h0m1-6h0m1.3 1h0m2.4 6.6h0m1.2-7.5h0m.6-5h0m2.2 3.7h0m.8 5.4h0m1.3 3.1h0m1.7-6.5h0m2.3 4h0m1.7-2.6h0m1.1 4h0m.5 1.2h0m1.1-8.9h0m1.1 5.3h0m2 .8h0m1-5h0m.8 8.6h0m2.8 0h0m.9 .7h0m1.7-2.1h0m2.1-6.3h0m2.5 8.3h0m.7-9.7h0m.4 10.7h0m1-9.3h0m.7 6.2h0m1.8-8.9h0m1.8 3.2h0m.7 2.5h0m1 3.7h0m2.9-7.4h0m1 7.2h0m.9-3.8h0m1.1 6.9h0m.9-1h0m2-9.8h0m.6 1.1h0m.5 8.1h0m2-6.3h0m.5 9.1h0m.5-4.8h0m.9-5.5h0m.9 10.2h0m1-10.1h0m1.5-3.4h0m2 10.9h0m2-4h0m1.1-.7h0m.7-.5h0m1.8-3.8h0m.4 10.5h0m.6-3.4h0m1.7-.5h0m1.6-10.2h0m2.1 12.4h0m1-1.6h0m.7 5.2h0m2.5-8.5h0m.8-2.1h0m1.5 4.2h0m1.5 .7h0m1.1-3.7h0m3.7-.5h0m1.7 5.2h0m1.9 2.8h0m.9-3h0m.6-3h0m.8-5.5h0m.2-1.9h0m1.2 8.5h0m.5-1.4h0m.5-3.4h0m.9 11.8h0m1.3-13.7h0m1.7 1.5h0m1.5 1.1h0m1.8 1h0m1.2 3.4h0m2.1 2.3h0m.4-4.3h0m2.2-6.8h0m.8 3.2h0m2.2 3.5h0m1-1.4h0m.6 5.8h0m1.4-5.6h0m.9 6h0"/>
<path fill="none" stroke="#00f" stroke-opacity="0.42" stroke-width="4.4" stroke-linecap="round" d="M76.4 160.9h0m.3 .2h0m2.2 .1h0m1.6-9h0m1.4 8.2h0m1.1-6.5h0m1.2 3.1h0m1.4-4.7h0m1 5.8h0m2.1 .6h0m2.1-5.1h0m1.7 6h0m1.3-8.6h0m2.3 1.5h0m1.7 13.3h0m1.3-7.7h0m3.8 2h0m.5 1.3h0m1.4-8.1h0m1.2 .2h0m1.2 12h0m3.2-5h0m1.1 1.5h0m1.1-11.2h0m.8 9.2h0m.5 .7h0m.7-5.6h0m1.1 5.1h0m1.3 2.4h0m1.9-1h0m.9-1.6h0m2.5-2.4h0m.9-3.7h0m2.8 3.1h0m1-3.8h0m1.6 5h0m1.9-7.2h0m2 2.2h0m1 6.7h0m.8-.2h0m2.8-11.9h0m2.1 16.2h0m.9-7.2h0m1.2 3.3h0m1.8 1.9h0m.6-3.1h0m.9 .5h0m.7-3.4h0m.9 1h0m.9-1.4h0m1.1-1.5h0m1.2 3.6h0m2.4-.1h0m2.6 2.1h0m1.2 1h0m1.8-5.4h0m1.1 4h0m.6-12.9h0m1.9 10.2h0m.1 2.2h0m1.1-7.9h0m1.4 3.7h0m.3 8.1h0m.7 .8h0m1.3-1h0m.6-8.5h0m1.3 6.2h0m1.1-3.7h0m.9-7.9h0m.6 9.1h0m.8-4.2h0m1.1 4.4h0m.7 8.2h0m.8-10h0m2.2-4.6h0m.5-1.4h0m1.3 1.9h0m1.1 .1h0m2.2 1.9h0m.9 7.9h0m2-13.5h0m1.8 14.2h0m1.9-3.3h0m1.7-8.3h0m.5 1h0m1.4 .3h0m1.2 9.8h0m1.4-.7h0m1.1 .6h0m2.8-9.6h0m.6 1.9h0m.6-1.1h0m1.3 5.1h0m.9-1.1h0m1.3-5.5h0m1.2 .6h0m1.1 5.1h0m1.9 2.1h0m.6 1.7h0m2.1-5.4h0m1.2-3.8h0m.9-2.3h0m1.9 6.9h0m1.6 3h0m1.8-11.2h0m1.4 1.2h0m.7-1.4h0m.9 9.8h0m.8 .5h0m1.5-.6h0m.7-8.1h0m.9 1h0m.7-.3h0m1.1 3.1h0m1.2 4.4h0m.4-2.2h0m.6 4.2h0m2.7-4.5h0m1-7.8h0m1.2 10.5h0m.4 1.7h0m1.3 1.9h0m2.1-7.2h0m.5-6.5h0m1.7-2.5h0m1.6 15.6h0m.9-1h0m1.2-4.4h0m1.3-8.2h0m.9 1.1h0m.5-.1h0m3.3 13.6h0m1.1-10.1h0m.4-.5h0m.7-4.1h0m1.4 3.1h0m1.8 8.4h0m.8-1.1h0m2-10.5h0m.7-6.9h0m1.5 9.1h0m3 12h0m1.5-6.8h0m.8-15.7h0m1 5.7h0m1.2 2.3h0m.7 9.8h0m1.1 4.5h0m1.1-9.4h0m1.6-7.2h0m.6-3.5h0m2.3 14h0m.7 3.1h0m1.1-6.9h0m1.1-6.2h0m1.3-6.9h0m.9 10.4h0m1.5 7.6h0m1.3-3.1h0m1.2 .6h0m2.3-12.3h0m.5 2.1h0m1 6.1h0m1.4 7.8h0m.9-4h0m2.1-18.3h0m1.3 5h0m2.9 8.3h0m.9 3.1h0m.4-9.6h0m.6-4.4h0m.8-8.2h0m1.3 9.1h0m1.5 14.5h0m1.1 2.4h0m.5-9.8h0m.6-3.3h0m.9-7.7h0m1.4-4.5h0m1.3 8.4h0m1 13.8h0m.3 1.3h0m1.6-15.4h0m1.3-7.8h0m1.7 3.1h0m1.3 17.9h0m2-9.4h0m.5-11.9h0m1.7-7.5h0m1 5.8h0m1 6.2h0m1.4 14.7h0m1.9-22.8h0m.5-6.9h0m1-5.9h0m2 31.5h0m1.9-4.4h0m1.1-19.3h0m1-6.2h0m1.4 .2h0m2.2 31.4h0m.7 .1h0m.6-14.3h0m1.4-18h0m1-8.1h0m.8 5.4h0m2.4 32.2h0m1-9.1h0m1.6-30.1h0m1-6.8h0m.9 10.8h0m1.5 28.8h0m.8 10.3h0m.8-9.8h0m2.6-26.2h0m1.3 21h0m.6 3.7h0m.6 2.7h0m2-23.7h0m1.3-18.3h0m1.3 14.6h0m1 4.2h0m.8 23.4h0m.9-.2h0m.9-6.4h0m1.8-23.4h0m1.2-11.6h0m1.9 40.4h0m1.9-8.5h0m1.1-17h0m2.6 10h0m1.5 23.1h0m1.5-12.4h0m1.2-30h0m1.4 7h0m1.2 20.3h0m.9 13h0m4.4-32.6h0m.7 9.6h0m.8 10.1h0m.8 8.5h0m2.2-3.8h0m1.5-20.9h0m1.6 14.8h0m1.1 10.5h0m2.4-2.8h0m.9-16.1h0m1.5-1.4h0m1.1 11.8h0m1 18.1h0m.2 6.4h0m.8-9h0m1.6-9.8h0m1-9.1h0m.5 1.6h0m.8-3.8h0m1.2 17h0m.9 6.7h0m.9 2.9h0m.9-10.8h0m1.6-7.4h0m1.2-.7h0m1.1 12.7h0m1 7.9h0m1.4-5.8h0m1.6-13h0m.4-1.2h0m.5-2.4h0m.5 1.6h0m1.8 23.8h0m1.1-1.6h0m.9-5.6h0m1.6-16.5h0m1.1 3.5h0m1 7.6h0m.6 8.3h0m.6 2.4h0m2.1-7.9h0m2.3-7.6h0m1.8 16.4h0m1.3 3.6h0m.9-5.8h0m1.3-8.1h0m2.7 6.7h0m.8 3.4h0m.4 2h0m.8-.1h0m.6-.7h0m1.4-13.6h0m1.1-3.4h0m2 19.9h0m.6 2.1h0m1.4-8.5h0m1.5-7.1h0m.8-4.6h0m1.1 5.5h0m1.9 12h0m.8 1.1h0m.8-4.7h0m.4 .6h0m1.7-12.6h0m1.8 8.4h0m1.5 7h0m1.4 .2h0m1.1-5.6h0m.9-8.8h0m1.6 6.3h0m2.1 4.1h0m.6 .4h0m3.2-11.8h0m2.8 17.5h0m1.9-9.2h0m2-9.7h0m1.2 9.2h0m2.7 7.2h0m.7-5.3h0m1.9-6.6h0m2.3 12.1h0m1.1 4.5h0m1-17h0m1.5 2.8h0m1 4.1h0m1.6 8.8h0m1.5-4.1h0m2.8-5.9h0m.7 11.3h0m.3-8.7h0m1.5 8.5h0m.7-1.7h0m1.3-9h0m1.3 0h0m.3-6.7h0m.7 1.7h0m.8-.5h0m.7 12.7h0m.9 .6h0m.9 .7h0m1.6-1.3h0m1.2-6.8h0m1.9-1h0m.9 8.7h0m.9-7.2h0m1 3.5h0m.8-6.2h0m2.1 5.8h0m1.2 3.7h0m.4-10.9h0m.6 11.2h0m.7 2.7h0m1-9.3h0m1.1 1.4h0m1.5-4.1h0m1.9 12h0m.9-8.3h0m1.1 8.8h0m.8-6.4h0m2.4-3.6h0m.7-.4h0m2.4 11.2h0m3-5.4h0m1.2-1.1h0m1.4 1h0m1.2 1.7h0m2.1-8.1h0m1.4 9h0m1.1-.3h0m1.4-.6h0m1.4-1.8h0m.7-6.1h0m1.6-2.3h0m1.5 8.7h0m2.5-2.2h0m1.5 1.3h0m1.3-3.4h0m.5 2.8h0m1-10.1h0m1.3 12.7h0m1.6 .1h0m1.1 2h0m1.8-11.7h0m1.9 10.2h0m1.2-5.8h0m1.7 3h0m2.2 5.4h0m2-8.3h0m.6-.1h0m.6 7.2h0m1-8.4h0m.9-2.8h0m1.8 10.4h0m1.5-2.9h0m1.1-3.1h0m1.9-.3h0m1.6 4.1h0m1.1-.2h0m1.3-4.1h0m.9-5.4h0m.9 8.8h0m1.9-1.7h0m.4-.7h0m.9-6.1h0m1.6 11.3h0m.5-1.6h0m.9 .4h0m.5-5h0m.8 3h0m1.2-3.9h0m1.7 8.8h0m1.7-10.3h0m2.5 .5h0m.7 1.7h0m.5 4.7h0m1.8 1.7h0m.8-1.9h0m1.2-5h0m.8-3.8h0m1.5 3.5h0m2.6 1.6h0m.7 5.3h0m.7-3.8h0m2.5-1.3h0m.7 .2h0m1.5 1.6h0m2-6.1h0m1.9 4.7h0m2.9 5.4h0m1.7-8.5h0m1.9-.6h0m.5 7.9h0m.5-3.3h0m.7 3.4h0m.7-7.6h0m.9 6h0m.4 1.5h0m.6-9.3h0m1-1.7h0m1.7 7.9h0m1.4-4.2h0m1.3-1.1h0m1.9 6.8h0m1.2-3.4h0m1.9-2.6h0m1 .5h0m1.8 5.2h0m.8 2.6h0m2-3.4h0m1.1-5.7h0m.5 9.3h0m1.5-6.2h0m1.6-1.2h0"/>
</g>
<g clip-path="url(#c2)">
<path fill="none" stroke="#f00" stroke-width="2.6" stroke-linejoin="round" d="M75.4 251.8l 1.5-10.2 .5-2 .3-.5 .4 .5 .3 1.4 1.5 10.2 .8 2.9 .3 .2 .3-.2 1.2-1.9 .6-.7 .5-.2 1.2 0 1.1 .3 1.5 2.4 .3 .2 .2-.1 .5-1.1 .4-1.6 1.6-11.1 .3-1.4 .4-.4 .6 1.6 1.6 11 .5 2.1 .3 .7 .2 .2 .4-.2 1.1-2 .6-.5 2-.2 .9 .4 1.3 2 .4 .4 .2-.1 .5-.9 .3-1.4 1.6-11.5 .4-1.6 .3-.6 .4 .3 .3 1.4 1.5 10.7 .8 3.3 .3 .2 .3-.1 1.2-1.9 .6-.6 2.2-.1 .8 .3 1.3 2 .4 .3 .5-.7 .3-1.3 1.8-12.4 .3-1.6 .4-.6 .3 .5 .4 1.5 1.5 11.1 .8 3.1 .2 .2 .4-.1 1.1-1.9 .6-.5 2.4-.1 .6 .3 1.3 2 .5 .2 .5-.8 .3-1.4 1.6-12.1 .5-2.3 .3-.5 .4 .6 .3 1.6 1.6 11.4 .4 2.3 .4 .8 .2 .2 .3-.1 1.1-1.8 .6-.7 2.4-.2 .7 .3 1.2 2 .4 .4 .5-.6 .5-1.9 1.6-12.6 .5-2.2 .3-.4 .4 .7 .3 1.7 1.4 11.1 .8 3.6 .4 .4 .3-.2 1.2-2.2 .5-.6 2.1-.3 .9 .4 1.2 2.4 .5 .3 .5-.7 .4-2.1 1.6-13.2 .4-1.8 .3-.7 .4 .4 .3 1.6 1.6 12.3 .8 3.7 .3 .3 .4-.3 1.1-2.4 .6-.7 .6-.3 1.3-.1 .4 .1 .5 .4 1.4 2.8 .5 .3 .4-.9 .4-1.5 1.7-14.6 .4-1.8 .3-.7 .4 .6 .3 1.7 1.5 13 .8 3.8 .4 .2 .3-.3 1.2-2.8 .6-.9 .5-.4 1.1-.1 .6 .1 .4 .5 1.4 3.2 .5 .5 .5-.6 .4-2.2 1.7-15.1 .4-2.7 .4-.6 .3 .7 .4 2 1.5 14.2 .4 2.8 .4 1.1 .3 .2 .4-.4 1.7-4.5 .6-.6 .8-.2 .6 .2 .6 .7 1.5 4.1 .5 .6 .4-.9 .4-1.7 1.7-17.1 .5-2.7 .3-.5 .4 .9 .3 2.2 1.4 14.2 .8 4.9 .4 .5 .3-.4 1.8-5.5 .7-1.1 .7-.4 .5 .3 .5 .7 1.6 5.4 .4 .7 .2 0 .5-1 .3-1.9 1.8-17.8 .3-2.3 .4-.9 .3 .6 .4 2 1.5 15.8 .8 4.9 .3 .4 .4-.4 1.8-7 .6-1.2 .6-.4 .6 .3 .6 1.2 1.5 6.1 .6 1.2 .4-.8 .5-2.7 1.6-18.5 .5-3.4 .3-.9 .4 .8 .3 2.3 1.5 17.3 .8 5.3 .4 .4 .3-.6 1.9-8.4 .6-1.5 .6-.4 .5 .5 .5 1.2 1.6 7.7 .6 1.3 .5-1.1 .3-2.2 1.8-21.1 .4-3.5 .4-.8 .3 1 .4 2.6 1.5 19 .8 5.5 .4 .3 .3-.7 1.9-10.1 .5-1.8 .6-.5 .5 .5 .5 1.5 1.6 9.1 .3 1.4 .4 .4 .4-1.3 .4-2.5 1.7-22.4 .5-3.5 .3-.6 .4 1.2 .3 2.9 1.6 20 .4 4.1 .4 1.6 .3 .2 .4-.9 1.8-11.7 .6-2.1 .5-.6 .4 .5 .5 1.6 1.7 11.2 .4 1.4 .3 .4 .4-.9 .4-3.5 1.7-22.8 .4-4.3 .4-1.1 .3 .8 .4 2.6 1.6 22.9 .7 5.5 .4 .6 .4-1.2 1.9-13 .6-2.3 .4-.5 .5 .6 .5 1.9 1.6 11.7 .3 1.8 .4 .7 .2-.2 .2-1 .4-2.7 1.7-26.2 .5-4.4 .3-1.1 .4 1.1 .3 3 1.6 23.5 .8 7.2 .3 .6 .5-1.5 1.8-14.6 .6-2.6 .5-.5 .4 .8 .5 2.2 1.6 13.3 .4 1.9 .3 .7 .5-1.5 .4-3.1 1.7-28.5 .5-4.6 .3-.9 .4 1.3 .3 3.5 1.5 25.4 .8 7.7 .4 .4 .4-1.9 1.9-18.3 .5-2.9 .4-1.1 .3 .1 .2 .7 .5 2.6 1.7 17.7 .3 2.2 .4 .6 .3-1.1 .5-4.5 1.6-29.9 .5-5.7 .3-1.7 .4 .8 .5 4.8 1.5 28.3 .4 6 .4 2.3 .1 .4 .2-.1 .5-2.3 1.9-21.7 .4-3.3 .5-1.2 .3 .7 .5 2.8 1.7 20.8 .4 2.8 .3 1.3 .4-.9 .5-4.4 1.7-35.7 .5-6.1 .3-1.7 .4 1.2 .3 3.9 1.6 33.9 .5 6.7 .3 2.5 .2 .3 .2-.2 .5-2.9 1.8-25.6 .5-3.8 .2-1 .2-.2 .4 .9 .5 3.6 1.7 24.7 .4 3.1 .3 1.2 .3-1.1 .5-5.3 1.8-40 .4-6.6 .4-1.5 .3 1.7 .4 4.5 1.6 38.1 .7 9.2 .3 .8 .5-2.6 1.9-29.5 .4-4.9 .5-1.9 .3 .7 .5 3.6 1.7 28.4 .5 5 .4 1.1 .3-1.5 .5-6.3 1.7-44.1 .5-6.7 .3-1.2 .4 2.2 .3 5.4 1.5 39.2 .8 12.1 .2 .6 .1 .2 .1-.1 .5-3.2 1.8-33 .5-5.4 .4-1.9 .4 1 .5 4.5 1.7 31.8 .5 5.2 .3 1 .4-1.9 .4-6.9 1.7-42.6 .4-7.6 .4-2 .3 1.4 .5 7 1.7 44.9 .5 6.3 .3 1.4 .4-1.4 .5-5.6 1.6-30.2 .4-4.9 .4-1.4 .2 .3 .3 1.2 .4 4.9 1.9 33.2 .4 3.7 .3 .2 .2-1 .7-10.5 1.6-41.6 .4-4.9 .3-1.6 .4 1.8 .4 7.3 1.8 43.9 .4 5.7 .4 1.1 .3-1.5 .4-3.8 1.7-28.5 .5-4 .4-1 .4 1.5 .5 4.5 1.8 29.7 .5 3.1 .1 .2 .1-.2 .2-.4 .3-2.9 .5-7.8 1.5-35.8 .4-6.1 .4-1.1 .3 2 .5 7.1 1.6 37.9 .5 5.9 .3 1.5 .4-.8 .5-4.2 1.7-24.6 .5-3.2 .3-.7 .5 1.5 .4 4.1 1.9 25.5 .5 2.6 .2-.2 .1-.4 .8-9.9 1.5-32 .4-4.3 .3-1.7 .4 1.2 .4 5.6 1.8 35.8 .5 5 .3 1.2 .3-.9 .4-2.6 1.7-20.9 .5-3.1 .4-.9 .2 .2 .2 .7 .6 4.1 1.9 21.6 .4 2 .4-.6 .7-7.2 1.6-30 .3-3.6 .4-1.2 .3 1.2 .5 5.2 1.7 31.6 .5 4.1 .4 .9 .3-1 .4-2.3 1.7-17.7 .5-2.4 .3-.6 .5 .8 .4 2.7 2 19.2 .5 1.6 .3-.8 .7-6.6 1.7-26.9 .3-3.1 .4-1 .3 1.3 .5 5 1.6 27 .5 4.1 .2 1 .2 .2 .4-.9 .3-2.1 1.6-13.2 .5-2.1 .5-.6 .4 .7 .6 2.7 1.9 14.6 .3 1.1 .3 0 .1-.3 .3-1.8 .5-4.9 1.6-24.8 .4-2.7 .3-.8 .4 1.4 .4 4.9 1.6 24.8 .4 3 .5 1.5 .3-.5 .4-1.6 1.7-12.4 .5-1.7 .4-.5 .5 .6 .6 2.5 1.8 12.9 .4 .9 .3-.3 .8-6.4 1.6-21.6 .3-2.9 .4-1.1 .3 .8 .5 3.9 1.7 24.1 .4 2.6 .4 1.2 .4-.5 .3-1.6 1.6-10.6 .5-1.7 .5-.7 .4 .5 .6 1.9 2 12.2 .3 .8 .4-.5 .8-6.1 1.5-20 .4-2.6 .3-.9 .4 .9 .4 3.8 1.8 22.3 .3 2.3 .5 1 .6-1.5 1.7-9.7 .5-1.3 .4-.4 .5 .4 .6 1.7 2 10.5 .3 .5 .4-.5 .8-6 1.5-18.8 .3-2.4 .4-.7 .3 1 .5 3.8 1.6 20.1 .4 2.4 .4 1.4 .4-.4 .3-1.1 1.6-7.7 .5-1.1 .6-.4 .6 .5 .6 1.6 1.7 8 .3 .8 .4-.2 .3-1.4 .5-3.5 1.5-17.4 .4-2.5 .3-1.1 .4 .6 .4 3.1 1.8 19.5 .3 2.1 .5 1 .2-.1 .4-.9 1.6-6.4 .5-1 .5-.4 .7 .5 .6 1.2 1.8 6.8 .3 .5 .4-.2 .3-1.3 .5-3.3 1.5-15.8 .3-2.2 .4-.9 .3 .7 .5 2.9 1.6 16.9 .5 2.6 .4 .9 .6-1 1.5-5 .6-.9 .6-.3 .7 .4 .6 1 1.8 5.7 .4 .2 .2-.3 .8-4.4 1.5-15.2 .4-2.1 .3-.7 .4 .8 .4 3 1.7 16.2 .4 2.3 .5 .7 .5-.7 1.5-4.1 .6-.7 .5-.1 .7 .2 .6 .5 .6 1.1 1.3 3.6 .3 .4 .4-.4 .8-4.3 1.5-14.1 .3-1.8 .4-.5 .3 .8 .4 2.1 1.6 15.1 .5 2.4 .4 .8 .5-.4 1.5-3.4 .5-.4 .6-.1 .9 .1 .6 .4 .6 .8 1.2 3 .4 .2 .3-.4 .8-4 1.4-12.2 .4-1.9 .3-.8 .4 .4 .4 2.5 1.7 13.8 .4 2.1 .5 .7 .5-.4 1.2-2.6 .5-.5 .6-.1 1.3 .1 .6 .3 .5 .8 1.2 2.4 .3 .2 .3-.2 .3-.9 .5-2.5 1.5-12.3 .3-1.8 .4-.6 .3 .5 .5 2.4 1.6 13.1 .5 1.9 .5 .6 .4-.4 1.2-2.2 .8-.5 2.2 .3 .6 .7 1.2 2.1 .3 .2 .2-.3 .8-3.3 1.6-11.8 .3-1.6 .4-.5 .3 .6 .4 1.6 1.7 13.3 .3 1.4 .5 .7 .5-.2 1.2-2.1 .7-.3 2.4 .2 .5 .6 1.2 1.9 .4 .1 .2-.3 .8-3.3 1.5-11.4 .4-1.4 .3-.5 .4 .7 .3 1.7 1.6 12.1 .5 1.9 .5 .7 .4-.3 1.2-1.9 .7-.3 2.4 .1 .6 .6 1.2 1.9 .3 0 .3-.3 .8-3.4 1.4-10.4 .3-1.6 .4-.7 .3 .5 .5 2 1.6 11.8 .5 1.7 .4 .6 .5-.4 1.2-1.8 .8-.4 2.2 .1 .6 .6 1.1 1.9 .4 .1 .2-.2 .3-.8 .5-2.1 1.5-10.8 .4-1.5 .3-.5 .4 .4 .4 2.2 1.7 11.4 .3 1.3 .5 .7 .4-.2 1.4-2.1 .8-.4 1.7 0 .4 .2 .6 .6 1.2 2 .3 .1 .3-.3 .8-3 1.5-10.5 .3-1.3 .4-.5 .3 .6 .4 1.5 1.7 11.7 .4 1.2 .4 .7 .5-.3 1.4-2.2 .9-.4 1.9 .2 .6 .6 1.1 2 .4 .2 .3-.3 .8-3.1 1.5-10.2 .6-1.6 .4 .3 .3 1.2 1.6 10.9 .5 2 .5 .8 .2 0 .4-.3 1.5-2.3 .4-.3 .7 0 1 0 .5 .2 .6 .7 1.2 1.9 .3 .2 .3-.1 .3-.8 .5-1.9 1.6-10.6 .6-1.5 .3 .4 .4 1.3 1.5 10 .7 2.8 .3 .5 .4-.1 1.7-2.6"/>
<path fill="none" stroke="#00f" stroke-opacity="0.42" stroke-width="4.4" stroke-linecap="round" d="M75.4 246.9h0m.7-5.2h0m.6-2h0m.4-3.9h0m.4 1.5h0m.7 .3h0m1.3 3.1h0m1.4 5.7h0m1-1.2h0m1.7 .8h0m.4-2.8h0m1.1 .6h0m1.1 1.3h0m.4-.6h0m.4 .4h0m.7 1.5h0m1.3-.1h0m1.1-8.6h0m.5-2h0m.5 2h0m.8-.3h0m1.1 4.8h0m1.2 5.5h0m.6-1.9h0m.2 .5h0m.8-.7h0m.4-2.5h0m.8-1.6h0m.5 2.3h0m.6 .2h0m.8 1.2h0m1.3-.2h0m.6 2.4h0m1.5-3.3h0m.5-3.1h0m1.2-3.7h0m.6-1.4h0m.6 3.3h0m.5 2.3h0m.7-.7h0m.5 6h0m.6 2.1h0m.3 .1h0m.9-.7h0m.9-1.6h0m1.6-.1h0m.7-1.2h0m.5 .8h0m.7 .4h0m.7 0h0m.5-1.9h0m.2 3.6h0m.9-3.2h0m.8-5.4h0m2.3-1.5h0m.5 2h0m1 4.6h0m.5 2.9h0m.9 .4h0m1.2-3.7h0m1.1-.1h0m1-1h0m.4-.7h0m.9 3.3h0m.9-.3h0m1.2 .9h0m.4-.1h0m1-3.5h0m1.4-8.3h0m.7 3.2h0m.8 4.5h0m.8 3.3h0m1.1-2.3h0m.2 1.5h0m1.6 3.2h0m.4-4.8h0m1.3-1.3h0m.5 3.1h0m.7-.7h0m.4-.8h0m.6 1.8h0m.5-.3h0m.3 2.1h0m1.1-.7h0m2-11.1h0m1.2-.1h0m.1 3.5h0m.7 1.2h0m1 3.9h0m.2 4.2h0m1.1-2h0m.6-.8h0m.7 1h0m.4-2.5h0m.7 1.3h0m.5-1h0m.3-1h0m1.1 .5h0m.4 2.3h0m1.4 1.1h0m.6 1.8h0m.8-5.1h0m.5-3.4h0m.6 .5h0m1-5.9h0m.9 2.5h0m.7 4.5h0m.8 5.1h0m1.1-.2h0m.9-.8h0m.7-.7h0m.9-2.1h0m.6-.4h0m.6 1.3h0m1.3 0h0m.7 .6h0m.4 1.2h0m1.4 2.1h0m.9-8.9h0m.2 .3h0m.3-2.5h0m.4-1.8h0m.4 1.1h0m1.1 1.8h0m1.1 5.9h0m1 3h0m1.3 .5h0m1-4h0m.8 .6h0m.8 .8h0m.7 .8h0m.8-.9h0m.7 .7h0m.3 2.2h0m1-2.9h0m.7-1.2h0m1.5-7.8h0m1.2 .7h0m1.3 5.8h0m.6 2.5h0m.5 1.6h0m.9 1h0m.6-3.1h0m1.8-1.9h0m.7-.9h0m.3 2.5h0m.4 2.6h0m.3-4.7h0m.2 3h0m.6 .8h0m.4 .8h0m.5-1.1h0m.9 1.3h0m.9-4.1h0m1-8.5h0m1.2-.8h0m1.2 6.9h0m.5 4h0m.7 1.4h0m1.4-.2h0m1.5-4h0m.8 1.4h0m.3-.1h0m.4 .9h0m.6 1.9h0m.4-1.1h0m.9 .7h0m.5 1.2h0m.3-.9h0m.9-.6h0m.7-3.7h0m.5-8h0m.4 4.1h0m.5-3.6h0m.6 .9h0m.6 1.1h0m.2 1h0m.5 3.4h0m.7 5.8h0m.5 1.2h0m.3-2.2h0m.7 3h0m.7-2.9h0m1-2.8h0m.3 .8h0m.6 .3h0m.7-.9h0m.3 .4h0m1.6 2.9h0m.6 2.8h0m.5-1.3h0m.6 .5h0m.7-4.5h0m.8-7.7h0m1.4-1.5h0m.6 2.3h0m.5-.3h0m.6 6.7h0m.4-.7h0m.3 1.4h0m1.7 2h0m.6-3.7h0m.4-.1h0m.7-1h0m.8 1.7h0m.7-2.6h0m.5 2.9h0m.9 2.6h0m1 1.2h0m.7-.5h0m.6-2.3h0m1.2-10.3h0m.5-2.6h0m.7-1.1h0m.4 3h0m.7 7h0m1.3 4.5h0m1.2 .9h0m.3-1.8h0m.9-4.3h0m.8 1.2h0m1.1-3.3h0m.5 1.1h0m1.6 9.3h0m1 .9h0m.7-2.2h0m1.4-12.2h0m.6-4.6h0m1 .2h0m1.5 13.5h0m.5-.5h0m1.1 4.1h0m.8-4.4h0m2.6-4.8h0m1.3 2.3h0m1.5 2.9h0m1.1 0h0m1-6.2h0m.7-8.7h0m1.1-.4h0m.3-.1h0m.7 5.7h0m.2 2.4h0m.8 5.8h0m.7 2.5h0m.7 1.9h0m.1 .5h0m1.3-7.1h0m.3-3.4h0m1.9-1.6h0m1.3 5.2h0m.6 3h0m1.2 3.2h0m.7-4.9h0m.8-5.5h0m.9-12.6h0m.2-.7h0m.9 3.1h0m.9 9.5h0m.9 3.7h0m.7 7.1h0m.9-.5h0m.6-6.2h0m1.7-5.7h0m.8 1.8h0m1.3 1.2h0m.4 4.6h0m.8 3.5h0m.4 3.2h0m1.2-8.9h0m.4-1.4h0m.7-14.4h0m.5 1.6h0m.8-2.7h0m.5-1.2h0m.6 9.5h0m.7 .6h0m.5 11h0m.2 1.5h0m1.2-.7h0m.6-5.1h0m1-2h0m.3-5.5h0m.3 3.5h0m1.2-4.1h0m.6 5.2h0m.8 1h0m.8 4h0m.5 1.9h0m.7-4.5h0m1.9-21.5h0m.6 3.1h0m.3-5.8h0m1.4 15h0m.1-.4h0m1 12.6h0m1.5-4.2h0m.8-4.2h0m.7-2.5h0m1.1-3.2h0m.9 2.5h0m.8 3.4h0m.9 7.9h0m.5 .8h0m.1-1.4h0m.9-3.9h0m.5-2.6h0m.8-18.9h0m.6-4.5h0m.9-.9h0m.4 7.9h0m.9 7.8h0m1 9.1h0m1.4 2.2h0m1-8.5h0m.7-5.4h0m.8-3.9h0m.5 2.2h0m1 3.9h0m.7 4.9h0m.2 8.7h0m1.4 2.3h0m1.3-21.2h0m1-17.8h0m.3-1h0m.8 1.3h0m.5 8.3h0m.5 8.1h0m.7 12.2h0m.9 9.1h0m1-4.4h0m1.1-12h0m.8-7.4h0m.8 .2h0m.4-3.7h0m.2 3.5h0m1 7.2h0m.5 7.8h0m.7 4.2h0m1.1-1.9h0m.3-6.6h0m.3-1.7h0m1.1-23.1h0m.4-7.7h0m1.2 1.5h0m.5 8.1h0m.8 17.2h0m.4 3.3h0m.4 10.6h0m.4 1.5h0m.9-2.2h0m.6-8.5h0m1-7.2h0m.4-8.4h0m.7-3.9h0m.3 4.8h0m1.2 8.5h0m1.5 16.6h0m.7-1.3h0m1-12.1h0m.3-6.7h0m.4-10h0m.5-8.3h0m.7-9.4h0m.9 20.1h0m.3-.9h0m1.1 19.9h0m1 8.3h0m.9-3.2h0m.2-8.2h0m.6-4.7h0m1-4.5h0m1.6-2.5h0m.7 11.7h0m1 7.6h0m.6 5.6h0m.6-3.8h0m.5-2.3h0m.8-19.1h0m.7-10.7h0m.1 2h0m.8-6.8h0m.6 3.6h0m.4-1.1h0m.7 16.5h0m.2 3.5h0m.4 11.1h0m.7 4.6h0m.7 2.5h0m.8-9.5h0m.5-.6h0m.9-15.7h0m.5 4.8h0m.9-.2h0m.7 2.8h0m.1 1.5h0m.4 5.1h0m.3 1.4h0m.4 5.7h0m.2 4h0m.6-1h0m1.9-24.9h0m.8-8.4h0m.4-.6h0m.4 1h0m.7 6h0m.7 7.6h0m.8 19.3h0m.9 7.4h0m.8-7h0m1.3-6.7h0m.6-7.7h0m.6-.4h0m1 3.2h0m.4 5.4h0m.5 .6h0m.9 8.1h0m.5 3h0m.6-3h0m1-16.2h0m.3 .1h0m.8-12.1h0m1.9 8.3h0m.7 13.8h0m.7 6.8h0m1 3.2h0m.3-2.4h0m.5-2.7h0m.3-3h0m.6-2.1h0m.5-2h0m.5-7.9h0m1.1 7.3h0m.5-.4h0m.3 4.4h0m.4 2.1h0m.6 5.3h0m.6 2.2h0m.2 .8h0m.4-2.8h0m.6-3h0m.7-9h0m1-14.1h0m.7-1.6h0m1.1 8h0m2 23.9h0m1.4-4.4h0m.8-7.8h0m.6-3.7h0m1.1 1.3h0m2.1 9.4h0m2.6-9.6h0m.6-4.4h0m.8-4.3h0m.4-1.2h0m1 11.1h0m.9 6h0m.5 7.5h0m.8-2.4h0m1.2-5.9h0m.3 1.2h0m1-5.2h0m.4 3.5h0m1.7 3h0m1.1 5.8h0m.8 4.5h0m.6-5.5h0m.6-4.9h0m.6-4.7h0m1.5-9.2h0m.3-1.7h0m.6 6.8h0m.4 1.1h0m.7 6h0m.5 8.6h0m.9 3.8h0m.5-7.5h0m.7 .4h0m.3-.5h0m.7-3.4h0m1.7-3.2h0m.8 8.4h0m1-1.2h0m.7 3.1h0m.8-.6h0m.9-3.8h0m.8-8.2h0m.8-4.5h0m.9 .3h0m.8 10.9h0m.2-2.1h0m.3 6h0m.8 1.9h0m1.1-.6h0m1-4.9h0m.2 3.2h0m.5-2h0m1-1.9h0m.7 0h0m.8 3.7h0m.5-.9h0m1.1 5.8h0m1.4-4.8h0m1.4-10.3h0m1.2-4h0m.5 .8h0m.8 5.3h0m1.8 14.1h0m1-3.6h0m.8-1.7h0m.2-2.2h0m1-.1h0m.4-1h0m.2 1.1h0m1.4 3.5h0m.3-1.9h0m.8 4.3h0m.4-.4h0m1.7-4.7h0m1.1-7.9h0m.3-3.1h0m.8-1.5h0m.7 5.5h0m.1 1h0m.8 7h0m.9 4.1h0m2-3.2h0m1.4-1.6h0m.9-2h0m.5 .4h0m.9 3.1h0m1 3.2h0m.9-1.4h0m1.1-4.2h0m.9-5.2h0m.3-1h0m.5-2h0m.9 4.3h0m.7 6.8h0m.8 .7h0m1 2.1h0m.7 2.2h0m.4-2.8h0m1-4.4h0m.5 .8h0m.8 .3h0m.8-1.1h0m.5 3.9h0m.6-.9h0m.6 1.7h0m.3 3.3h0m.8-.5h0m1-6.5h0m.4 1.1h0m.7-10.3h0m.8 1.1h0m1 2.1h0m.6 6.3h0m1.2 2.3h0m.4 1.1h0m.2 1.6h0m.8-2.4h0m.8-1h0m.3 .9h0m.6 1.1h0m1-3.7h0m.2 1.8h0m1-.7h0m1.2 3.8h0m1.1-.6h0m.7-.2h0m.4-1.2h0m.4-5.4h0m.2-2.5h0m.4 .3h0m.2-1.2h0m.4-2.8h0m.6 1.2h0m.6 .5h0m.7 8.3h0m1.3 2.9h0m.4-.4h0m.9 .3h0m1.4-3.2h0m.2-.1h0m1.1-.2h0m.8 3.7h0m.9-1.8h0m.6 .8h0m.9 1.9h0m1.2-2.6h0m1.7-9.7h0m.9-.4h0m.3 3h0m.3 4h0m.7 3.5h0m.5 1.6h0m.9 .3h0m1.5-.8h0m.8-3.1h0m.5 .5h0m1-3.2h0m1.2 5.5h0m1.3 1.9h0m.4-1.4h0m.6-1.6h0m.7-2.3h0m.9-4.4h0m.3-.8h0m1.5-1.5h0m.8 1.8h0m.4 5.8h0m.6 3.5h0m1.2-.6h0m.4 .9h0m1.7-2.7h0m.9-.7h0m.2 .8h0m.7-4.1h0m.7 6.7h0m.8-1h0m.7 .7h0m.8-1.2h0m.9-3.8h0m.5-1.7h0m1-6.4h0m.4 2h0m.2 .4h0m.5 3.2h0m.9-1.6h0m.5 8.3h0m.5 .1h0m.1-.7h0m.9-.3h0m.3 2.5h0m.7-1.4h0m.5-1h0m.4-2.2h0m1.2 1.5h0m.5 .1h0m.5-1h0m.5-.6h0m.5 3.6h0m1.5-2.4h0m.6-.6h0m.7-1h0m.8-4.6h0m.4-.5h0m.4-1.6h0m.2-.8h0m.4 2.7h0m.5 .7h0m.5 3.1h0m.4 5.9h0m2-.7h0m.7-.7h0m.6-1.2h0m.5-.6h0m1.9 1h0m.4-2.1h0m.7 3h0m.6-1.1h0m.8 1.9h0m.8 .6h0m.5-4h0m.8-6.4h0m1.6 .2h0m1.4 6.5h0m1.5 4.5h0m.9-3.6h0m1.3 .2h0m1.9 .1h0m1.5-.3h0m1 1.4h0m.6 .4h0m.3-1.5h0m.6-1.6h0m.8-2.3h0m1.2-3.7h0m.5 .1h0m.9 2h0m1.5 6h0m.8 1.5h0m.6-2.3h0m.7 .4h0m.6-1.4h0m2 1.9h0m1.1-.8h0m1.2 4.4h0m.6-3.6h0m1.4-6h0m.6-2.6h0m1.2 1.5h0m.6 2.9h0m.8 2.4h0m1 4.1h0m.5-1.8h0m1.2-2.5h0m1.5 .1h0m.7-2.2h0m1.2 2.4h0m.5 1.4h0m.8 1.7h0m.4-.5h0m.4-1.7h0m1.2-1.7h0m.8-3.6h0m.3-1.8h0m.5 1.2h0m1-4.7h0m1.1 9.2h0m.6 2.7h0m.5 2.4h0m.8-2.1h0m.8-.8h0m.7 .7h0m.6-3.9h0m1.3 2.8h0m.4 1.7h0m.7-4.1h0m.4 2.5h0m1.1 1.9h0m.7-1.4h0m1.1-1.3h0m.8-3.9h0m.6-4.2h0m.3 .8h0m.4-1.8h0m1.2 5.2h0m.7 3h0m.9 5.9h0m.4-1.6h0m1.7-2.4h0m.8-2h0m.6 1.8h0m.7 1h0m.3-3.3h0m.6-.2h0m.4 3.2h0m.9 .1h0m.8 1.1h0m.5-1.7h0m.8-5.4h0m.8 .2h0m.5-3h0m.2 1.1h0m1.3 2.2h0m.4 1.7h0m1.3 4.5h0m1.8-.7h0"/>
<path fill="none" stroke="#00f" stroke-opacity="0.42" stroke-width="4.4" stroke-linecap="round" d="M75.4 242.5h0m.7 .1h0m.6-1.3h0m.5-1.7h0m.3-2.8h0m.8 .8h0m1.9 7.4h0m.7 2.4h0m1.3-3.9h0m1.6 .1h0m.5-1h0m1.1 .4h0m.9 .9h0m.5-2.1h0m.6 4.9h0m.5-1.3h0m1.5-3.9h0m.9-3.7h0m.4-2h0m.5 .8h0m.9 2.8h0m1.5 7.3h0m.8 2.8h0m.4-2h0m.6-1.4h0m.5-1.2h0m.6 2.1h0m.7-4.1h0m.5-.2h0m.6 2.3h0m.6 1.6h0m1.5 .1h0m1.4-1.2h0m.6-3h0m.9-1.6h0m.7-5h0m.6-.7h0m.7 3.7h0m.7 1.9h0m.5 5h0m.5-.9h0m.5 2.1h0m.7-3h0m1 .7h0m1.1 1.4h0m.9-2.7h0m1.1-.9h0m.5 4.5h0m.4-.6h0m.6-.3h0m.6 2.4h0m.3-2.1h0m.9-4.2h0m.7-.8h0m2.4-2.7h0m.6 3.5h0m.8 4.6h0m.4 .7h0m1.2-1.8h0m1.2-1.6h0m.8 2.9h0m1.1-1.7h0m.4-.8h0m.9-.1h0m.9 2.9h0m1.3-1.5h0m.3 .4h0m.9-3.1h0m1.6-6.1h0m.7 .1h0m.8 1.1h0m1 7.9h0m.7-.8h0m.5-.9h0m1.4 1.3h0m.3-2.9h0m1.4-2.1h0m.5 4.1h0m.9-1.9h0m.1 1.6h0m.7-.4h0m.4 .9h0m.7 2.4h0m1.4-2.7h0m1.4-9.9h0m1.1 3.4h0m.1 .3h0m1 4.2h0m.7 2h0m.5 1.8h0m.8-1.1h0m.7 2.1h0m.7-3.1h0m.5-1.7h0m.7-.8h0m.4 .4h0m.2 1.5h0m1.2 .5h0m.4 .6h0m1.7 1.3h0m.6-4.3h0m.5 .4h0m.5-2.3h0m1-6.5h0m.9 1.8h0m.7 4.6h0m.6 3.9h0m1.1 .7h0m.7 1.4h0m1.4-3.3h0m.3 .2h0m.8-.7h0m.6 1.4h0m1.2 2.8h0m.7 0h0m.8 2.1h0m.4-1.9h0m1.3-.7h0m1-6.2h0m.2-1.1h0m.3-3h0m.3-1.1h0m.5 3.3h0m1.3 2.6h0m1.1 3.9h0m1.2 3.9h0m.9-4.4h0m1-.2h0m1-.9h0m.8 .1h0m.6 .1h0m.8 2.8h0m.5 .3h0m.3-1.8h0m1.2 2.3h0m.9-6.8h0m1.3-2.9h0m1.3 .4h0m1.1 6h0m.7 3.3h0m.7-1.1h0m.6-1.4h0m1.3-.6h0m1.1-.4h0m.7 .6h0m.4-1.4h0m.2 1.6h0m.4-1.2h0m.2 2.7h0m.5-2.9h0m.5 5.8h0m1-3h0m.6-.8h0m.7-.4h0m1.8-9h0m.6-.9h0m1.1 9h0m.5 1.1h0m1.1 2.4h0m.9 .4h0m1.5-4.3h0m.8 .6h0m.4 1.9h0m.3-3.2h0m.7 2h0m1 1.1h0m.2 .3h0m.4 2.3h0m.4-.1h0m1-.9h0m.6-3.9h0m.5-5.7h0m.6-1.8h0m.3-1.9h0m.6-.5h0m.6-.7h0m.4 6.9h0m.3 3.9h0m.8 1.3h0m.4 1.6h0m.6-1.7h0m.4 3.3h0m.7-2.5h0m.9-2.8h0m.7 1.3h0m.3-2.6h0m.7 .7h0m.9 1h0m1 1.7h0m.6 1.1h0m.6 .8h0m.7 .2h0m.7-7.8h0m.6-2.1h0m1.7-4.8h0m.4 1.7h0m.7 7.6h0m.4 2.7h0m.3-1.5h0m.8 3.5h0m1.2 .3h0m.6 .1h0m.7-5.8h0m.5 1.3h0m.8-1.2h0m.5-1.1h0m1 3.5h0m1 2.1h0m.5 1.1h0m.7-1.8h0m.7-3.1h0m1.1-7.8h0m.6-3h0m.6-1.1h0m.4 3.5h0m.6 2h0m1.4 10.9h0m1.2-.5h0m.2-.5h0m1-3.8h0m.7-1.1h0m1.3-1.5h0m.4 1.9h0m1.8 5.6h0m1 1.3h0m.5-3.1h0m1.6-14.2h0m.5-4.7h0m.9 5.7h0m1.5 12.8h0m.5-3.7h0m1.1 7.3h0m1.1-6.6h0m2.4-3.2h0m1.8 6h0m1 .2h0m1.5-1.6h0m1-17.4h0m.1 6h0m1.1-4.7h0m.4 2h0m.7 6.3h0m.3 2.9h0m.8 8.9h0m.6-3.1h0m.7-.3h0m.2 .5h0m1.3-4.6h0m.8-2h0m1.8-2.1h0m.7 4.8h0m.8 5.3h0m1.1-3.7h0m.7-1.9h0m.8-7.8h0m.8-9.2h0m.4-2.6h0m1.1 3.6h0m.6 10.3h0m1 8.2h0m.5 3h0m1.1-4.2h0m.6-2.2h0m1.6-5.5h0m.8-2.7h0m1.2 8.1h0m.5 3.1h0m1 1.5h0m.4 .4h0m1-2.7h0m.3-4.8h0m1.1-12.5h0m.1 .5h0m.8-4.7h0m.6 2.5h0m.6 8.1h0m.6 4.4h0m.5 5h0m.9 7.5h0m.6-4.7h0m.7-3.3h0m.8-7.3h0m.4-2h0m.5 0h0m1 1h0m.5 1.8h0m.9 5.2h0m.7 2.7h0m.7 1.5h0m1-6h0m1.5-17.9h0m.5-4.4h0m.6 3.6h0m1.1 11.8h0m.2-1.9h0m1.1 16.1h0m1.4-5.4h0m1.1-8.2h0m.8-5h0m.8 .9h0m.7 1.3h0m.8 8.5h0m1 3.1h0m.4 4.6h0m.2-2.4h0m1-6.6h0m.3-9.3h0m.9-9.6h0m.8-5.1h0m.7-5.7h0m.5 11.2h0m.8 6.4h0m1 14.4h0m1.5-2.5h0m.8-3.6h0m.7-7.8h0m.9-3.4h0m.8 1.4h0m.7 5h0m.6 8.2h0m.7 2.5h0m.9 3.1h0m1.6-22h0m.8-9.1h0m.6-8.1h0m.7 8h0m.2-.6h0m.6 8.1h0m.6 13.7h0m1.1 7.8h0m.8-5.1h0m1.1-12h0m.9-5.7h0m.8-3.3h0m.3 .8h0m.3 3.4h0m1 13.1h0m.8 1.5h0m.9 4.4h0m.5 .7h0m.4-7.8h0m.8-16.8h0m.5-11.3h0m.5-6.6h0m1.2 5h0m.7 21.9h0m.7 3.9h0m.2 6.3h0m.4 3.8h0m.5 3.2h0m1-5.3h0m.9-16.6h0m.5-1.7h0m.4-6.3h0m.7 2.2h0m.5 2.5h0m1.5 13.9h0m1.2 8.5h0m.7-4.4h0m.8-14.5h0m.4-2.3h0m.5-16.9h0m.4-9.2h0m.7 2h0m.9 14.6h0m.5 2.7h0m1.2 28.7h0m.8-1.5h0m.7-4.2h0m.3-1h0m.7-9.1h0m1.8-10h0m.6 0h0m1 18.5h0m1 4.5h0m.3 4.7h0m.8-9.4h0m.6-5h0m.6-10.3h0m.7-10.8h0m.4-5.4h0m.6-2.4h0m.4 11.1h0m.5 0h0m.7 18.8h0m.2-1h0m.6 12.2h0m.5 8.3h0m.9-4.7h0m.5-8.6h0m.9-9.5h0m.8-6h0m.2 0h0m1.2 2.2h0m.4 4.3h0m.2-.4h0m.4 12.5h0m.3-3.1h0m.3 7.8h0m.4 .8h0m1.6-11.4h0m.7-6.4h0m.8-19.1h0m.4 1.1h0m.4 .5h0m.7 3.8h0m.7 12.2h0m1 19.2h0m.9 .7h0m.8-5.9h0m1.1-5.2h0m.7-8.8h0m.6 2.9h0m1 3.9h0m.4 1.4h0m.4 1.7h0m1.1 9.1h0m.3 1.3h0m.9 0h0m.8-11.4h0m.5-9.2h0m.7-11.2h0m1.7 12.2h0m.8 6.6h0m.7 9.8h0m.9 2h0m.5 6.4h0m.3-6.2h0m.4-5h0m.7-5h0m.7-1.5h0m.5-1.7h0m1.1 4.1h0m.2-1.2h0m.3 3.6h0m.3 1.8h0m.8 6.2h0m.4 2.5h0m.4 .2h0m.4-4.2h0m.8-6.2h0m.7-6.4h0m.7-6.6h0m1-4.2h0m1.1 18.5h0m1.6 10.3h0m1.4-6.6h0m.8-5.8h0m1.1 .5h0m.7 .3h0m2.4 10.7h0m2.2-10.4h0m1.1-13.9h0m.5 2.5h0m.5 1.1h0m.9 9.2h0m.8 4.9h0m.6 6.7h0m.6-.8h0m1.2-.2h0m.5-.8h0m.9-4.5h0m.4-2.8h0m2.3 6.6h0m.8 7.3h0m.4-1.6h0m.7-3.5h0m.5-2.8h0m1-10h0m1.3-7.5h0m.1 2.2h0m.6 2.5h0m.4 3.8h0m.9 6.6h0m.4 5.5h0m.9 4.1h0m.8-2.8h0m.4 2.2h0m.7-10h0m.9-1h0m1.1 2.6h0m.8 2.4h0m1 4.9h0m.8 3.8h0m.9-5h0m.8-7.2h0m.7-6.2h0m1.3-3.4h0m.5-.2h0m.6 6h0m.3 1.5h0m.8 12.9h0m.3-.9h0m1.3-1.4h0m.8-1h0m.2-5h0m.5-.4h0m1.4 .2h0m.7 .3h0m.5 .6h0m.5 6h0m1-.6h0m1.5-2.3h0m1.3-11.6h0m1.2-2.3h0m.4 5.9h0m1.5 11.4h0m1.2 .9h0m1-1.9h0m.9-2.4h0m.1-1.3h0m1-2h0m.3-2.4h0m.6 2.5h0m1.3 3.5h0m.1 .7h0m1 2h0m.5 3h0m1.5-8.5h0m1-10.7h0m.3 2h0m.8 3.4h0m.6 .1h0m.2 1.1h0m.8 7h0m.9 6.1h0m2.1-4.1h0m1.4-4h0m.9 .5h0m.6 1.4h0m1.1 5.1h0m.7-2.5h0m.8 2.2h0m1.1-8.1h0m.8-2.2h0m.6-5.7h0m.4 .8h0m.8 5.8h0m.9 7.1h0m1.1 2h0m.4 1h0m1-3.3h0m.2 .7h0m1-4.4h0m.4 1.6h0m.8-.2h0m.8 0h0m.6 .6h0m.7 3.6h0m.4 .6h0m.4 .4h0m.7-3.6h0m1.2-2.3h0m.2-2.6h0m1.3-4h0m.4-1h0m.9 2.4h0m.8 5.3h0m1.1 6.3h0m.2 .2h0m.2-1.7h0m.8-1.1h0m.9-1.7h0m.2 .8h0m.6-.7h0m1-.7h0m.9 .2h0m.8 4.2h0m1.5 .2h0m.4 1.8h0m.6-4.6h0m.6-5.1h0m.3-.5h0m.2 1.4h0m.4-3.1h0m.1-3.4h0m.4 2.6h0m.8-1.1h0m.4 4.8h0m.8 .7h0m1.3 9h0m.9-3.9h0m.3-2.9h0m1.5 1.3h0m.2 .9h0m1.5-.8h0m.5 1.8h0m.7-1h0m.8 3.8h0m1-3.4h0m1.2-3.1h0m1.7-6.6h0m.7 2.4h0m.3-3.1h0m.5 8.6h0m.4 1.4h0m.5 1.2h0m1.6 2.6h0m1.2-2.9h0m.4-4.3h0m.6 3.2h0m1.9 .9h0m.7 1.3h0m1 .5h0m.4-2.4h0m.7 .1h0m.5-2h0m.8-2.2h0m.6-6.1h0m1.8 5h0m.4 1.6h0m.3 2.3h0m1.1 4.2h0m.7-.4h0m.8-1.9h0m1.3-1.1h0m.9 1.8h0m.2-2.7h0m1 .3h0m.5 2.7h0m.8-1.9h0m.9 3.8h0m.6-2.9h0m.8-2.9h0m.7-1.1h0m.9-6.5h0m.2 3.7h0m.4-3h0m.4-.6h0m1 8.6h0m.5 1.3h0m.3 .4h0m.4 .2h0m.7 2.3h0m.4-1.9h0m.6-.1h0m.5-1.3h0m.8 .7h0m.8-1.4h0m.4 .5h0m.8 .7h0m.3-1.4h0m.6 2.6h0m1.7-.3h0m.3-.1h0m.8-3.7h0m.8-6.1h0m.4-1.8h0m.2 3.1h0m.4-1.1h0m.3-.5h0m.5 2.8h0m.5 2.1h0m.5 2.4h0m1.8 4.7h0m.8-3.4h0m.5 .6h0m2.1-.2h0m.4-.1h0m.6-1h0m.5 2.8h0m.7 1.3h0m.8-1.2h0m.7-.6h0m.8-1.8h0m.6-4.8h0m1.9-1.6h0m.9 5.2h0m1.5 3.7h0m1.1-.1h0m1.6-4.3h0m2 1.4h0m1.2 .9h0m1 3.6h0m.4-2.9h0m.3 .3h0m.5-.5h0m1.2-7.8h0m1-.8h0m.4 2h0m1.5 3.7h0m1.1 2.5h0m.7 1.1h0m.5 .9h0m.9-2.6h0m.5 1.2h0m1.8 1.8h0m1.1-1.8h0m1.4 3.7h0m.7-2.9h0m1.4-6.6h0m.8-4.3h0m.8 1.2h0m.8 5.5h0m.7 2.9h0m.8 2.1h0m.8-2.4h0m1.1 2.9h0m1.8-2.7h0m1.1-1.2h0m.3-.1h0m.5 3.2h0m.8-.1h0m.5 1h0m.3-.1h0m1.5-4.4h0m.6-2h0m.3-1.2h0m.6 .1h0m.8-2.6h0m1.5 7.2h0m.5 3.3h0m.3-3h0m1.3 1.1h0m.5-1.3h0m.6 1.1h0m.6-.8h0m1.2-.8h0m.3-1.3h0m.8-1.8h0m1 5.1h0m.6 .7h0m1.2 1h0m.7-4.5h0m.8-2.2h0m.6-3.9h0m.1 1.5h0m.6-3.8h0m1.1 6.4h0m.5 3.5h0m1.1 4h0m.3-2h0m1.6-2.1h0m.9-.7h0m.9 0h0m.4 .1h0m.5 1.5h0m.6 1h0m.5-.8h0m.5 2h0m1-.6h0m.5-2.2h0m.7 .1h0m1.1-8.7h0m.1 3.5h0m1.2-.7h0m.4-2.3h0m.7 5.8h0m1.2 3h0m1.6 .8h0"/>
<path fill="none" stroke="#00f" stroke-opacity="0.42" stroke-width="4.4" stroke-linecap="round" d="M75.7 244.2h0m.6-5.1h0m.5-1.7h0m.4-2.4h0m.9 1.5h0m.3 .8h0m2.1 9.6h0m1.1 2.4h0m1.2-3.8h0m1-2h0m.8-1h0m1.4 2.4h0m.5 .3h0m.4 .2h0m.6 2.3h0m.5-1.9h0m1.4-4.3h0m1-4.1h0m.5 .1h0m.5-2.4h0m.8 3.5h0m1.8 10.2h0m.5-3.9h0m.4 2.4h0m.6-1.9h0m.4 1.2h0m.8 .3h0m.6-4.8h0m.4 1.9h0m.9-2.3h0m1 1.8h0m.9 2.4h0m1.3 1.1h0m.7-3.9h0m.9-3h0m.7-1.7h0m.6 .8h0m.7-.8h0m1 7.9h0m.1-5.5h0m.6 4.3h0m.5 3.4h0m.7-5.2h0m1.1 2.2h0m1.1-2.1h0m.9-.1h0m1 1.9h0m.5-.7h0m.6 2h0m.6-1h0m.3 .9h0m.5-.3h0m.9-2.9h0m1.5-6.4h0m1.5 2.9h0m.6 4.1h0m1.1 1.3h0m.6 2.8h0m.8-1.6h0m1.2-.3h0m.8-1.7h0m1-.3h0m.7 .2h0m.9 1.4h0m.5-1.7h0m1.3 1.5h0m.4-.8h0m1.2-6.4h0m1.6 1.4h0m.6-.3h0m.6 4.7h0m.9 1.6h0m.8 .8h0m.9 0h0m1.1-3.6h0m.3 3.3h0m1.4-2.3h0m.5-.3h0m.7-.1h0m.3 .9h0m.6 0h0m.4 3.1h0m.9 2h0m1.3-7.9h0m1.5-5.9h0m.8 2.2h0m.3 3.6h0m1 1.4h0m.5 1.6h0m.5 2.4h0m.9-.4h0m.8 .3h0m.6-1h0m.6-2.5h0m.8 1.1h0m.2-1.1h0m.1 .6h0m1.3 1.5h0m.4 1.3h0m1.6 .1h0m.7-2.5h0m.6-2.4h0m.6-3.7h0m.9-3.6h0m.7 3.3h0m1.1 1h0m.3 4.7h0m1.3 5.5h0m.5-2h0m1.4-5.6h0m.5 3.1h0m.8 .3h0m.4-2.3h0m1.6 4.9h0m.2-2.1h0m.9 .1h0m.6 2.4h0m1.3-6.8h0m.8-2.9h0m.1-1.4h0m.4-1h0m.2 1.4h0m.9-1.3h0m1.1 4.6h0m.9 6.5h0m1.3-.7h0m1-2.4h0m.8 .7h0m1-3.3h0m.9 0h0m.8 3.6h0m.9 1.4h0m.1-1.6h0m.4 1.6h0m1.2 .6h0m1.1-8.3h0m1.1-3.8h0m2 6.5h0m.7 4h0m.3 .6h0m1 .1h0m.3-2.2h0m2.1-1.4h0m.3 .6h0m.7-2h0m.6 1.2h0m.1 .7h0m.3 .9h0m.2 1.8h0m.7 2.1h0m.4-1.4h0m.9 1.3h0m1.2-7.4h0m.3-1.6h0m1.6-1.7h0m.9 .5h0m.8 6.5h0m.6 3.4h0m1 .6h0m2.2-6.3h0m.3 2.3h0m.8-2.5h0m.3 3.4h0m.3-.8h0m.8-2h0m.9 3h0m.3 2.1h0m.4 1.8h0m.6-2h0m.9-6.5h0m.5-2.7h0m.5-1.8h0m.6-5.1h0m.5 2.8h0m.4 .5h0m.5 2.4h0m.5 .6h0m.7 6.9h0m.5 2h0m.2 .7h0m.7 1.6h0m.9-.6h0m.5-4.8h0m.7-.7h0m.5 1.5h0m.4-1.4h0m.6-2.7h0m1.2 2.8h0m.9 2.3h0m.5 1.7h0m.6 .2h0m.8-1.8h0m.8-9h0m.5-3h0m1.6-.1h0m.5 3.4h0m.5 5.3h0m.5 2.8h0m.2 1h0m1.5-.4h0m.9-1.3h0m.3-.4h0m.6-2.3h0m.7-.3h0m.9-.8h0m.6 .9h0m.7 1.6h0m1.1 2.2h0m.3 2.1h0m.7-2h0m1.5-8.5h0m.4-4h0m.6-3.2h0m.6 3.3h0m.5 .8h0m1.2 9.4h0m.7 2.9h0m1.2 .6h0m.7-3.9h0m.6-3.5h0m.6-.1h0m1.3-.7h0m.4 2h0m2 5.2h0m.8 2.2h0m.7-6.4h0m1.4-8.8h0m.5-2.5h0m.9-1.5h0m1.4 14.4h0m.8 1.9h0m.9 1.1h0m2.3-10h0m1.2 3h0m1.8 4.6h0m1.6-.4h0m.8-4.5h0m1-9.9h0m.3 .4h0m1.1-.9h0m.3 1.9h0m.7 2.9h0m.4 9.6h0m.8-.3h0m.6 2.3h0m.5-2.1h0m.8-2.7h0m.8-.7h0m.8-5.3h0m1.7 5.5h0m1 2.6h0m1.1 2.1h0m.6 1.4h0m.8-9.5h0m.9-10.1h0m.6-2.9h0m.4-1.7h0m1 6.1h0m.8 11.9h0m.8 1.8h0m.9 2.4h0m.8-1.1h0m.7-4.7h0m1.4-4.4h0m.8 .6h0m1.2 5.1h0m.8 4.7h0m.7 1.2h0m1.2-6.2h0m.3 2.4h0m.6-11h0m.7-7.5h0m.1-2.4h0m1 .6h0m.5 4.5h0m.8 8.3h0m.3 .5h0m.6 7.8h0m1.1-.2h0m.4 0h0m.8-6.2h0m.7-3.2h0m.4-.7h0m.8-1.3h0m.8 4.4h0m1 2h0m.3 1.8h0m1 3.1h0m.5-3.2h0m1.6-12h0m.9-11.2h0m.5-3.9h0m.8 9.6h0m.7 6h0m.3 4.6h0m2 6.2h0m.6-.2h0m.9-7.9h0m1-5.8h0m.7 2.6h0m.8 2.6h0m1.1 5.2h0m.7 6.3h0m.3-2.1h0m.2 1h0m1.1-8.1h0m.4-5.7h0m1-19.3h0m.4 2.6h0m.9 5.3h0m.6 5.1h0m.7 11h0m1 11.1h0m1.9-11.6h0m.5-5h0m1-4.2h0m.5-1.4h0m.7 5.5h0m.7 3.5h0m.6 7.2h0m1 3.1h0m1.2-10.8h0m1.1-16.5h0m.6-9.5h0m.8-.8h0m.5 1.4h0m.4 5.8h0m.8 21.7h0m.4-1.5h0m1.5 5.5h0m.8-5.2h0m1-13.8h0m.5 2.3h0m.7-6.1h0m.3 3.4h0m.5-.9h0m1 12.6h0m.6 6.9h0m1.2 2.5h0m.4-1.5h0m.2-5.8h0m.9-15.6h0m.5-10.5h0m.6-7.1h0m1.2 3.5h0m.6 14.5h0m.7 8h0m.1 8.5h0m.5 2.7h0m.5 3.1h0m1-7.7h0m1-9.5h0m.6-7.8h0m.4-1.7h0m.5-2.1h0m.6 1h0m1.3 15.2h0m1.4 15.1h0m.8-12.9h0m.7-11.8h0m.4-8.1h0m.3-10.8h0m.4-3.8h0m.8-1.6h0m.9 12.2h0m.5 5.4h0m1.3 26h0m1-3.4h0m.3-1.1h0m.6-5.8h0m.7-4.2h0m1.6-9.9h0m.8 3.9h0m.9 13.1h0m.8 7.8h0m.4 1.2h0m.8-1.8h0m.7-14.4h0m.9-20.7h0m.2 .9h0m.6-1.8h0m.4 0h0m.5-1h0m.4 14.9h0m.8 13.1h0m.2-5.6h0m.6 21.5h0m.6-3.2h0m.8-3.9h0m.4-5.7h0m1.2-11.9h0m.5-1.3h0m.5 1.1h0m1.1 8.2h0m.2-2.9h0m.4 4.8h0m.2 5.2h0m.5 1h0m.2 7.2h0m.4-.6h0m1.6-19h0m.6-7.7h0m.9-9.1h0m.5-4.4h0m.4 4.9h0m.8 9.6h0m.9 20h0m.9 4.5h0m.7 1.2h0m1-7.4h0m.7-6.3h0m1.1-4h0m.4 1.5h0m.9 3.5h0m.4 1h0m.4 4.8h0m1 9.5h0m.4 1.3h0m.8-7.3h0m.9-11.2h0m.6-9.5h0m1.5-1.3h0m1.1 16.4h0m.6 3h0m.5 10h0m.9-.8h0m.5-3.8h0m.4-3.7h0m.3-3.2h0m.8 .1h0m.7-3.7h0m.5-3h0m1.1 6.7h0m.2 2.8h0m.2-3.4h0m.4 5.7h0m.8 6.1h0m.4-1.3h0m.4-.4h0m.4-1h0m.7-2.8h0m.7-12.7h0m.7-8.1h0m1.1 2.3h0m1.5 16.6h0m1.4 7.8h0m1.4-4.7h0m1-6.2h0m.8 1.3h0m.9 .5h0m3.2 4.3h0m1.5-13.4h0m.8-5.7h0m.3 2.8h0m.7 .8h0m1 10.7h0m.8 6.8h0m.5 3.7h0m.5 .3h0m1.2-4.7h0m.6-3.5h0m.7-.7h0m.5 2.1h0m2.6 6.4h0m.5 1.9h0m.3 3h0m.7-3.6h0m.8-8.6h0m1.6-12.4h0m.4-.4h0m.4 1.3h0m.4 4.7h0m.5 5.2h0m.8 9.1h0m.3-2.9h0m1.2 5h0m.5 1.8h0m.5-3.8h0m.6-2.7h0m1-4.7h0m1.4 3.1h0m1 5.3h0m.9 2.2h0m.7-2.4h0m.7-2.8h0m1.1-11h0m.3-1.1h0m1.3-4.1h0m.5 5.5h0m.6 5.3h0m.3 1.7h0m.7 6.4h0m1.2 2.7h0m.9-5.9h0m.4 .5h0m.2-.7h0m.7-2.6h0m1.2 2.1h0m.6-1.1h0m.6 2.3h0m.6 2.6h0m1 2.4h0m1.8-7h0m1-10.1h0m1.2 1.8h0m.4 2.1h0m1.4 11.5h0m1.2 4.1h0m1-4.7h0m.8-2.9h0m.3 .6h0m1-1h0m.2-2.3h0m.9 3.8h0m.9-.6h0m.3 .3h0m.9 4.4h0m.7 .7h0m1.3-9.2h0m.9-6.5h0m.3 .7h0m1.1 .5h0m.3 4.1h0m.3 .2h0m.9 9.2h0m1.4 1.6h0m1.5-5.1h0m1.8 .3h0m.5-.9h0m.6 .1h0m1.3 4.3h0m.6 .6h0m.9-.8h0m1.2-5.7h0m.6-7.1h0m.4-.3h0m.6-.6h0m1 7.1h0m.6 4.6h0m1 3.4h0m.8 .8h0m.6-3.6h0m.7 1.3h0m.8-1.2h0m.2-2.4h0m.7 .3h0m1.2 .6h0m.3 1.4h0m.8 3.9h0m.4 .1h0m.5 2.4h0m.7-5.7h0m.9-2.5h0m.6-7h0m.9-.7h0m1 .1h0m.3 1.6h0m1.3 8.9h0m.7 .3h0m.3 1.9h0m.1 1.8h0m1.1-1.7h0m.5-2.3h0m.5-.2h0m.3-2.5h0m1.2 1.2h0m.7 .6h0m.9 2.7h0m1.5 .7h0m.5-3h0m.5-.6h0m.5-4.8h0m.4 .2h0m.3-2.5h0m.2-.5h0m.2-2.7h0m.4 3.8h0m.7-.9h0m.6 .1h0m.9 7.2h0m1 1.6h0m1 3.4h0m.8-2h0m.9-1.1h0m.4-1.6h0m1.4-.4h0m.5 3.2h0m.9-1h0m.7 3.8h0m1.1-3.8h0m1.2-4.2h0m1.5-5.7h0m.7 4.1h0m.2-3.8h0m.6 10.4h0m.5-3h0m.4 1.8h0m1.6 3.2h0m1.2-4.4h0m.6-2.4h0m.5 .5h0m1.8 3.3h0m.9 .5h0m.8 1h0m.5 .6h0m.6-3.9h0m.8-4.2h0m.7-3h0m1.1 1.4h0m1-.5h0m.5 4h0m.3 3.5h0m1.3 2.3h0m.5-1.4h0m1.1-.3h0m1.1 .4h0m.7-1.9h0m.5 1.5h0m.7-.4h0m.6 1.2h0m.8 2.7h0m.8-.2h0m.7-1.4h0m.8-4.4h0m.8-5.9h0m.8-.4h0m.2-1.6h0m.4 2.8h0m.9 3.1h0m.5 4.5h0m.5-.1h0m.2 .9h0m.6 2.2h0m.5-1.7h0m.7-2.6h0m.3 4.3h0m.5-3.9h0m1-.7h0m.6-.2h0m.5 .7h0m.7 1.4h0m.3-.3h0m1.1 2.9h0m1.3-2.5h0m.3-.1h0m.7-3.1h0m.9-2.6h0m.4-3h0m.1-.5h0m.5 2.3h0m.3-.5h0m.5 1.1h0m.4 3.2h0m1.4 4.7h0m1.2 .7h0m.5-2.6h0m.5-.7h0m2.3-2.5h0m.2 5.4h0m.8-2.5h0m.5 .3h0m.6-.3h0m.9 2.9h0m.8-4.4h0m.5-2.8h0m1.2-4.1h0m1.5 2.3h0m1.1 7.2h0m1.1 1.9h0m1.5 .3h0m1.9-3.2h0m2 .7h0m.9 2.8h0m.6-2.1h0m.5 2.7h0m.2-3.6h0m1-3.5h0m.8-4.3h0m1-2.5h0m.6 5h0m1.2 4.6h0m1.4 1.5h0m.5 .1h0m.6 .5h0m.8-3.7h0m.5 1.3h0m2 1h0m.8-.9h0m1.4 3.8h0m.8-4h0m1.5-5.1h0m.7-2.3h0m.8 .3h0m.7 3.9h0m.7 2h0m.8 2.8h0m.8 1.4h0m1.7-3.7h0m1.3 .4h0m1.2 .7h0m.4-.3h0m.2 2.6h0m.9-1.1h0m.5 .3h0m.3-.8h0m1.6-4.2h0m.4 1h0m.7-3.2h0m.6-3.1h0m.8 2.2h0m1.1 8.4h0m.5 1.3h0m.8 .3h0m.9-1.5h0m.4-2.2h0m.6 .2h0m.8-.6h0m1.2-.3h0m.6 3.5h0m.6-.2h0m.9 .2h0m.5-.1h0m1.1-2.7h0m.8-2h0m.8-3.6h0m.5-.6h0m.1 2.1h0m.7-3.9h0m1 5.9h0m.7 2.2h0m.9 2.7h0m.9-.4h0m1.1-3.3h0m1 1.6h0m.8-1.4h0m.3 1.1h0m.6 .5h0m.5-.2h0m.5 2.6h0m.9-.6h0m.9-2.1h0m.5 .3h0m.4-.5h0m1.2-4.7h0m0-4h0m1.2 2.3h0m.6 3.3h0m1 2.1h0m1 .9h0m1.5 2.2h0"/>
<path fill="none" stroke="#00f" stroke-opacity="0.42" stroke-width="4.4" stroke-linecap="round" d="M75.7 241.9h0m.7-2h0m.7-4.3h0m.3 3.3h0m.7-1.3h0m.7 .7h0m1.9 6.8h0m1.1 .4h0m1.1-1h0m.9 .4h0m.8 0h0m1.5 0h0m.5 2.8h0m.4-3.4h0m.6 1.5h0m1.2-2.4h0m.7-2.3h0m.9-1.3h0m.6-.6h0m.5-.7h0m.9 2.4h0m1.7 5.6h0m.6-.9h0m.3 2.5h0m.5-4.4h0m.6-1.3h0m.7-.3h0m.5 3.4h0m.8-.4h0m.5-.5h0m1 .9h0m.9 .9h0m1.5-1.5h0m.7-4.9h0m.9-1.7h0m.7-1.7h0m.5 1.4h0m.6 1.3h0m1 5.3h0m.3-1.9h0m.6 5.2h0m.5-1.8h0m.8 1.1h0m.9-2.6h0m1.2 1.1h0m.9-1.3h0m.8-.8h0m.6-.3h0m.5 .7h0m.8 1.8h0m.1 .5h0m.8-.2h0m.7-2.8h0m2.5-6.4h0m.4 2.2h0m1 5.6h0m.7 1.3h0m.9 2.3h0m.9-3.7h0m1.4-2.8h0m.6 2.7h0m.7 .1h0m1-1h0m.8-.3h0m1.1 3.9h0m.6-.8h0m.6-1.7h0m1.3-8.9h0m1.1 2.6h0m.9 3.7h0m.5 .9h0m1.2 3.1h0m.4 2h0m1.1-3.1h0m.9 1.4h0m1-2.4h0m.7-2.1h0m.7 1.2h0m.4-.4h0m.4 2.7h0m.5-1.3h0m.5 2.2h0m1.1-1.4h0m1.6-8.3h0m1.5-1.4h0m.3 3.8h0m.6 .6h0m1 5.5h0m.3-.2h0m.4 1.6h0m1 .7h0m.7-3.5h0m.6-.3h0m.7-1.1h0m.6 .4h0m.2 .8h0m.5-1.5h0m1 1h0m.8 3.8h0m1.2-1.8h0m.9-1.6h0m.3 0h0m.7-4.3h0m1-4.2h0m.9 4h0m.7 .3h0m.8 5.1h0m1-.3h0m1-.1h0m.7 .1h0m1-.1h0m.6-1.4h0m.1 .8h0m1.7 2h0m.4-2h0m.7 3.3h0m.9-3h0m1-2.1h0m.7-2.1h0m.2-2.7h0m.4 .7h0m.2-1.2h0m1.4 .6h0m.9 5h0m.7 3.7h0m1.7 2.3h0m.4-.7h0m1.3-2h0m1-2.6h0m.5 1.4h0m.8 1h0m.9 .3h0m.1 .4h0m1 .3h0m.6 .9h0m1.3-10.2h0m1.4 .5h0m1.5 8.3h0m.7 2.7h0m.4-2.9h0m1 2h0m.4-.9h0m1.9-1.1h0m.3-1.6h0m.8-2.5h0m.4 2.7h0m.3-3h0m.1 2.2h0m.4 3h0m.6-.6h0m.4 3.8h0m1.1-3.1h0m.9-2.4h0m.7-6.9h0m1.4-3h0m1 3.7h0m.6 4.4h0m.5 1.1h0m1.6 4h0m1.7-3.5h0m.7-3.4h0m.3 1.9h0m.4-.6h0m.6 1.3h0m.4 .7h0m1-1.2h0m.3 3.1h0m.4 1.7h0m.9-3.9h0m.5 .3h0m.8-6.4h0m.3-.8h0m.5-2.3h0m.6-1.9h0m.6 3.6h0m.3-1.4h0m.5 3.6h0m.7 5.5h0m.4 2.2h0m.4 .3h0m.6 .3h0m.8-.1h0m.7-3h0m.6-1h0m.6-.9h0m.6 1.4h0m.3-.2h0m1.5 1.7h0m.7 1.5h0m.4-.4h0m.6-1.6h0m.7 1.3h0m.9-7.2h0m1.4-3.8h0m.7-1.7h0m.4 2.5h0m.6 4.6h0m.5 6.8h0m.2-2.9h0m1.7 3.1h0m.6-3.6h0m.4 .4h0m.7-3.6h0m.5 .2h0m1.1 2.2h0m.4-.5h0m.8 1h0m1.1 5.1h0m.6-3.8h0m.7-2.4h0m1.2-8.8h0m.6-3.5h0m.7 .8h0m.3 .1h0m.6 5.9h0m1.5 7.1h0m.8 1.8h0m.7 2.3h0m.9-5.8h0m.6-.4h0m1.1-2.2h0m.6 .7h0m.5 1.1h0m2 5h0m.9-1.4h0m1.3-8.7h0m.6-2.2h0m.9-6.2h0m.5 3.8h0m1.5 9.7h0m1.1 4.7h0m.9-1.4h0m2.3-6.6h0m1.2-.2h0m1.9 5.4h0m1.1-1h0m1-3.7h0m.7-9.2h0m1.1-1.2h0m.3 1.4h0m.7 .5h0m.3 7.7h0m.4 3.3h0m1.1 5h0m.3 .3h0m.5-1.4h0m1.1-3.9h0m.5-4.5h0m1.1 .8h0m1.9 6.2h0m.6 .3h0m1-1.4h0m.8-1.2h0m1-5h0m.9-9.7h0m.3-5.5h0m.7 1.9h0m1.1 9.6h0m.8 9.3h0m.8 2.1h0m.4 .6h0m1.1-7.1h0m.5 2h0m2-7.4h0m.3 3.8h0m1.3 2.7h0m.9 5.5h0m.3-.3h0m1.2-3.6h0m.4-5.7h0m.5-5.1h0m.8-7.2h0m.7 .1h0m.6-1.1h0m.2 .9h0m.8 12.5h0m.6 2.6h0m.3 5.4h0m1.1 1.9h0m.8-6.7h0m.8-4.4h0m.4-2.4h0m.4-.6h0m1 3.4h0m.6 1.5h0m1 0h0m.6 6.7h0m.7-.7h0m.5-.8h0m2.1-22.3h0m.5-3.3h0m.3 1.5h0m.9 4.4h0m.7 6.2h0m.7 6.7h0m1.7 4.4h0m.5-1.1h0m1-7.5h0m.9-3.8h0m.7 1.5h0m1.1 5.7h0m.9 4.6h0m.5 3.3h0m.3-.8h0m.5 0h0m.8-11.2h0m.6-9.6h0m.9-11h0m.3-2.1h0m1 4.3h0m.8 19.3h0m.4 5.1h0m1.8 .4h0m1.3-5.6h0m.3-5.6h0m1.1-3.7h0m.6 1.9h0m.7-1.6h0m.5 2.6h0m.7 6.9h0m1.3 9.1h0m1-14.8h0m1.1-10.2h0m.4-9.8h0m1-2.3h0m.5 7.1h0m.3-.6h0m.7 16.8h0m.6 7.6h0m1.4 5.7h0m1.1-12.3h0m.7-8.7h0m.9-6.5h0m.4 .9h0m.1 3.4h0m1.2 8.7h0m.5 6h0m.4 2.3h0m1.3 1.9h0m.4-4.1h0m.2 2.1h0m.9-29.3h0m.4-3h0m.8-3.3h0m1 5.9h0m.6 6.3h0m.8 18.9h0m.2 6.9h0m.4 2.7h0m.6 1.6h0m1-10.2h0m1-12.7h0m.4-5.2h0m.5-3.8h0m.6-.2h0m.7 2.1h0m1.6 18.3h0m1.1 3.7h0m.7-5.2h0m.6-14h0m.3-3h0m.3-9.4h0m.6-9.2h0m.8-2.5h0m.8 16.7h0m.7 10.1h0m1.3 18.6h0m.9-2.7h0m.3-6.9h0m.5-4.9h0m.9-8.5h0m1.7 .5h0m.6 7.9h0m1.1 8.3h0m.6 10.7h0m.3-4.6h0m.8-2.6h0m.7-20.5h0m.9-11.2h0m.1 4.3h0m.7-9.2h0m.4 2.4h0m.5 1.1h0m.6 18.3h0m.5 7.3h0m.3 3.9h0m.5 3.9h0m.9 3.9h0m.6-3.1h0m.4-4h0m1.1-13.7h0m.7 .8h0m.6 1h0m.9 6.4h0m.2-1.4h0m.3 5.7h0m.4 1.8h0m.3 6h0m.2-.5h0m.5 4h0m1.9-15.9h0m.4-11.8h0m.8-9.6h0m.5 .1h0m.4 3.3h0m.7 5.5h0m.9 15.4h0m1.1 13.6h0m.6-1.7h0m1-7.2h0m1.1-8.6h0m.7-.2h0m.4 .7h0m.8 3.6h0m.6 2.9h0m.6 8.2h0m.7 4.5h0m.3-1.4h0m1.2-11.6h0m.5-6.2h0m.7-5.8h0m1.5-5.4h0m1 19.9h0m.7 1.5h0m.9 8.3h0m.7-2.7h0m.4-1.9h0m.3 1.8h0m.4-9.2h0m.8-2.3h0m.5 .6h0m.8-1.1h0m.8 6.1h0m.3 4h0m.2-1.7h0m.7 5.9h0m.5 3.5h0m.3-.4h0m.5 .6h0m.4-3.2h0m.7-13.8h0m1.2-6.6h0m.2-6h0m1.4 10.6h0m1.8 17.6h0m1.5-4h0m.7-5h0m.9-.8h0m1.1 .4h0m1.6 7.4h0m3-1.6h0m.8-13.5h0m.7-5.8h0m.4 2.2h0m.8 4.9h0m1.2 10h0m.5 8.2h0m.7-2.5h0m.4 .6h0m1.1-.4h0m.8-7.9h0m.6-1.8h0m.6-1.9h0m2.3 14.5h0m.7-1.5h0m.3 1.6h0m.6 1.2h0m.9-11.6h0m1.6-13.4h0m.3 1.8h0m.5 5.6h0m.2 .1h0m.5 .7h0m1 14.2h0m.2-1.5h0m1.1 4.6h0m.7-9.4h0m.4 4.4h0m.7-4h0m1.7 .2h0m.6-2.7h0m1 6.7h0m.9 5h0m.7-1.6h0m.9-7.1h0m.8-9.6h0m.6 .3h0m1.1-.3h0m.5 3.7h0m.6 3h0m.3 4.4h0m.8 4.9h0m1 2.3h0m.9-2.9h0m.4-2.7h0m.4 .1h0m1.1-3.7h0m.7 1.2h0m.6 2h0m.5 1.4h0m.6 6.1h0m1.6-3.4h0m1.8-10.3h0m1.3-4.4h0m.4 1h0m.4 4.1h0m1.4 10.5h0m1.5 .5h0m.9-3.5h0m.5-.9h0m.6-1.4h0m.8 0h0m.2 0h0m1.1 .3h0m.6 3h0m.3-2.3h0m.9 5.3h0m1.7-6.1h0m.6-6.5h0m.6-3.3h0m.7 1.3h0m.8 2.5h0m.3 .7h0m.4 3.8h0m1.1 7h0m1.3-2.2h0m1.4-.9h0m1.6-2.1h0m.6 1.8h0m.8 1.6h0m1 4.5h0m.6 .2h0m1.1-6.8h0m1.1-8.7h0m.6-1.5h0m.4 1h0m.8 4.2h0m.7 2.9h0m.7 3.1h0m1.2 5.8h0m.6-3.8h0m.5 1.1h0m.9-.1h0m.6-4.1h0m.6 1h0m.5 2.6h0m1-1.3h0m.7-.2h0m.4 2.9h0m.4 .1h0m.7-1.7h0m.8-1.4h0m.7-4.1h0m.7-1.9h0m.8-4.4h0m1 2.9h0m.5 2.4h0m1.1 6.8h0m.6 1h0m.3 .6h0m.5 .7h0m.9-3.1h0m.4-.2h0m.6-1.3h0m.2 3.9h0m1.1-3.8h0m.7 3.2h0m1.4-.9h0m1 2.1h0m.7-3.8h0m.4 .9h0m.5-6.9h0m.3-.8h0m.3-.8h0m.3-2.7h0m.1 .9h0m.8 1.6h0m.4-.3h0m1 7.1h0m.9 3.9h0m.7 .9h0m.8-.5h0m1.3-4.5h0m.5 2h0m1.1-1.2h0m.7 .1h0m1 4h0m.3-.5h0m.8-.1h0m1.2-3.2h0m1.2-4.4h0m1.7-2.1h0m.4 2.5h0m.2 2.1h0m.8 .9h0m.4 2.4h0m.5 3.7h0m1.6-3.3h0m1.1-.1h0m.5-.6h0m1-.9h0m1.2 5.1h0m1.2-2.7h0m.5 1.6h0m.6-1.6h0m.7-.8h0m.8-4h0m.5-4.1h0m1.4-.9h0m.7 6.2h0m.5-1.3h0m.4 5.5h0m1.3 2.6h0m.5-3.1h0m1.2-.3h0m1.4 .1h0m.3-2.5h0m.4 .2h0m1 1.4h0m.5 2h0m1 1.2h0m.5-1.3h0m1-3h0m.7-4.7h0m.7 0h0m.7-5.9h0m.1 2h0m.5 3.5h0m.9 2.3h0m.6 4.5h0m.4 .4h0m.1-1.9h0m.7 5.1h0m.5-2.6h0m.8-2.3h0m.1 2.8h0m.8-1.8h0m1 .4h0m.6-.2h0m.3-2.8h0m.8 1.4h0m.3 2.5h0m1.3 1h0m1-.9h0m.4-2.2h0m.9-7.8h0m.5 .4h0m.4-1.6h0m.1 .9h0m.6 1.2h0m.2-1h0m.6 2.9h0m.6 2h0m1.1 6.3h0m1.2-1.4h0m.7 0h0m.7-3.6h0m1.9 2.3h0m.4-2.1h0m.6 2.7h0m.7-.3h0m.5 2.6h0m.9 1.9h0m.8-5.3h0m.5-4.6h0m1.4-3.4h0m1.2 3.9h0m1.9 6.1h0m.6 1.4h0m1.7-1.4h0m1.5-.5h0m2-.9h0m1 .4h0m.5 0h0m.4 2.6h0m.3-3.1h0m1-6.1h0m.8-3.2h0m1 2.4h0m.7 1h0m1.4 6.6h0m1.1 .7h0m.4-1.3h0m.6 .1h0m.9 1h0m.6-1.6h0m2.4 2.3h0m.7-.4h0m1.2 .4h0m.8-2.1h0m1.2-5.3h0m1-3.7h0m.7 1.3h0m.8 5.9h0m.9 5.1h0m.4-1.3h0m1.2 .4h0m1.7-4.3h0m.9 2.1h0m1.2-.6h0m.3 1.6h0m.6-.5h0m.6-.2h0m.4 2.8h0m.6-.4h0m1.4-7.1h0m.4-1.8h0m.6-1.5h0m.9 1h0m.6 .4h0m1.1 8.2h0m.5-.8h0m.8 .6h0m.8 0h0m.8-1.9h0m.3-1.3h0m.9 1.6h0m1-1h0m.7-.6h0m.5 2.4h0m1.1-.3h0m.4 .7h0m1.3 .1h0m.6-5.8h0m.9-4h0m.3 0h0m.3 0h0m.8 1.4h0m.9 5.7h0m.6 1.8h0m.9 1h0m1.6-.3h0m.8-.7h0m.6-.3h0m.8-.3h0m.4 .2h0m.6-.3h0m.3 2.8h0m.6-1.8h0m.8 2.4h0m.9-.3h0m.5-2.8h0m.7-2.4h0m.9-4.6h0m.1-.5h0m1.3 .9h0m.5 2.1h0m1 5.4h0m1.4 1.4h0m1.3-1h0"/>
</g>
<g clip-path="url(#c3)">
<path fill="none" stroke="#f00" stroke-width="2.6" stroke-linejoin="round" d="M75.4 336.8l 1.5-2.1 .5-.3 .5-.1 .8 .6 1.8 2.9 .9 .9 1.1 .4 .9-.4 1.2-1.4 2.2-3.6 .8-2.1 1.4-5.7 .4-.8 .4-.3 .5 .3 .5 .9 2.4 7.4 .6 1.3 .6 .8 .4 .1 .4-.1 1.7-1.8 .9-.3 .7 .7 1.8 2.7 .5 .4 .3 .1 .8-.6 1.8-2.5 .5-.4 .3 0 .9 .7 2.2 3.5 .8 .6 .9 0 .7-.5 .7-1 2.6-4.5 .9-2.7 1.5-6.9 .4-1 .3-.3 .5 .4 .5 1.2 2.5 9.1 .6 1.5 .6 .9 .4 .1 .4-.1 1.7-1.9 .8-.2 .9 .8 1.7 3 .5 .4 .4 .1 .7-.7 1.7-2.7 .5-.4 .4-.1 .8 .8 2.2 3.7 .6 .5 .7 .1 .8-.5 .8-.9 2.8-5.2 .9-3.4 1.5-8 .4-1.2 .4-.4 .4 .5 .5 1.4 2.5 10.4 .6 2.1 .6 1 .4 .3 .5-.2 1.6-1.9 .5-.3 .4 .1 .8 .8 1.7 3.4 .5 .4 .4 .1 .8-.6 1.7-3.1 .5-.5 .4 0 .8 .8 1.9 3.6 .6 .5 .5 .1 1.1-.7 1.8-1.8 1.3-1.8 .8-1.7 1-4.4 1.6-10.6 .3-1.2 .4-.5 .4 .3 .4 1.5 2.4 12.5 .6 2.6 .6 1.3 .4 .3 .4-.1 1.7-2.3 .4-.3 .4 0 .8 1 1.7 4.1 .5 .6 .4 .2 .8-.8 1.7-3.8 .5-.5 .4-.1 .8 .9 1.8 4.1 .5 .6 .6 .2 .8-.7 3.4-4.4 1-1.8 1-4.4 1.6-12.5 .3-1.1 .4-.6 .4 .5 .5 1.7 2.3 14.3 .6 2.6 .6 1.5 .3 .4 .5-.3 1.7-3.2 .5-.4 .3 0 .8 1.3 1.8 5.4 .4 .7 .4 .1 .8-1.1 1.7-5.2 .4-.6 .4-.1 .4 .3 .4 .8 1.7 5.4 .5 .7 .4 .2 .7-.8 1.3-3.1 .7-1 .4-.1 .4 .1 1.6 1.4 .5-.3 .4-.8 .6-2.4 .5-3.2 1.6-15.6 .3-1.6 .4-.8 .4 .5 .4 1.7 2 15.9 .6 3.1 .5 1.4 .4 .3 .3-.4 1.7-4.7 .5-.8 .4 0 .7 1.7 1.8 7.4 .5 1.1 .3 .2 .4-.5 .4-1.1 1.8-7.2 .4-.8 .3-.2 .4 .4 .4 1.1 1.8 7.2 .3 .9 .4 .1 .4-.5 .4-1.1 1.6-8.1 .8-2.1 .4-.1 .5 .8 1.7 5.4 .4 .2 .4-.7 .9-5.1 1.6-17.3 .4-2.3 .3-.5 .4 .8 .4 2.1 1.8 17.2 .5 3.2 .5 1.7 .4 .3 .4-.5 1.7-7.1 .4-.8 .4-.2 .4 .7 .5 1.8 1.7 9.8 .5 1.3 .4 0 .7-2.3 1.7-9.4 .4-1.2 .4-.4 .3 .5 .5 1.8 1.7 9.4 .4 1.2 .4 .4 .3-.6 .4-1.5 1.8-11.3 .4-1.6 .3-.9 .4 .1 .5 1.4 1.8 8.4 .2 .5 .2 0 .4-.9 .9-6.5 1.6-20.8 .4-3 .3-.8 .4 .8 .4 2.6 1.7 20 .5 3.9 .5 1.9 .2 .2 .2-.1 .4-1 1.6-9.6 .5-1.5 .2-.1 .2 .1 .4 1 .4 2 1.7 13.2 .5 1.8 .2 .2 .2 0 .4-1.1 .4-2 1.6-12.8 .5-2.1 .4-.3 .4 .9 .4 2 1.6 12.9 .4 1.8 .4 .6 .4-.7 .3-1.8 1.8-15.1 .5-2.7 .4-.8 .3 .4 .4 1.6 1.8 12.3 .5 1.1 .3-.7 .9-7.4 1.8-26 .3-3 .3-.5 .4 1.4 .4 3.5 1.9 25.3 .3 3.2 .4 1.6 .3 .2 .4-1 1.7-12.7 .5-2 .2-.2 .2 .1 .4 1.2 .4 2.4 1.7 16.2 .5 2.4 .3 .4 .2-.2 .8-4 1.6-14.7 .4-1.9 .4-.4 .4 .9 .4 2.2 1.7 15.3 .4 1.8 .3 .4 .4-.6 .4-2 1.7-16.6 .5-3.1 .4-1 .2 0 .2 .3 .4 1.6 1.7 12.8 .5 1.2 .4-.9 .8-8.2 1.8-29.2 .4-3.7 .3-.8 .3 1.3 .4 3.6 1.8 26.7 .5 4.9 .3 2.1 .2 .4 .2 0 .4-1.2 1.8-12.9 .4-1.6 .1-.3 .2 0 .4 1.1 .5 3.2 1.8 16.8 .4 2.1 .2 .3 .2-.2 .4-1.3 .4-2.7 1.6-15.7 .4-2 .4-.6 .4 .9 .5 3 1.6 15.5 .4 2.1 .4 .6 .4-.9 .4-2.2 1.6-16.7 .5-3.3 .4-1.2 .2-.1 .2 .3 .5 2.2 1.7 13.5 .3 .9 .2 0 .4-1.2 .9-9.3 1.6-29.9 .4-4.2 .3-1.1 .3 .8 .4 3.9 1.7 31.4 .9 8.7 .4 .9 .4-1.1 1.8-13.6 .4-1.8 .2-.4 .2 0 .3 1.1 .5 3.2 1.8 17.4 .4 2 .3 .7 .3-.5 .4-1.9 1.8-16.2 .4-2.4 .3-1 .2 0 .2 .4 .4 1.9 1.8 16.4 .3 2.4 .4 1.2 .2 0 .2-.3 .5-2.4 1.7-16.8 .4-2.6 .4-1.2 .2-.1 .2 .2 .5 2 1.6 12.4 .4 1.3 .2 .1 .2-.3 .5-2.6 .5-5.2 1.7-26.7 .4-3.3 .3-.9 .3 .6 .4 3.4 1.7 29.2 .9 8.5 .4 1 .2-.1 .3-.8 1.7-12.8 .5-1.9 .2-.3 .2 .1 .4 1.3 .4 2.5 1.7 16.6 .4 2.2 .4 .8 .4-.7 .3-2 1.7-14.6 .5-2.7 .4-.7 .3 .6 .4 2 1.7 14.8 .4 2.5 .4 1.2 .1 .1 .2-.3 .5-2.2 1.8-16.2 .5-3 .3-1 .2 0 .2 .3 .4 1.6 1.8 12.8 .3 1.2 .2 0 .2-.3 .4-1.9 .5-4.5 1.7-24.2 .4-3.3 .4-1 .3 .8 .4 3.3 1.6 24.9 .9 7.7 .4 .9 .5-1 1.7-12.2 .5-2 .2-.2 .2 0 .4 1 .5 2.9 1.6 14.4 .4 2 .4 .8 .4-.5 .4-1.7 1.6-12.9 .5-2.4 .4-.7 .4 .5 .4 1.6 1.6 12.8 .8 3.3 .2 .1 .2-.1 .4-1.7 1.8-13.1 .5-2.5 .4-.9 .3 .2 .4 1.3 1.8 9.9 .4 .9 .2 0 .2-.3 .3-1.6 .5-3.7 1.8-20.1 .4-2.7 .3-1 .3 .6 .4 2.8 1.7 20.8 .4 4.5 .5 2.6 .4 .7 .5-.6 1.7-8.5 .4-1.1 .4-.2 .4 .7 .5 2.1 1.7 11.3 .4 1.3 .4 .5 .3-.3 .4-1.2 1.7-9.8 .4-1.4 .4-.6 .4 .3 .4 1.1 1.7 9.8 .4 1.5 .4 .7 .4-.2 .5-1.4 1.7-9.8 .4-1.5 .4-.7 .4 0 .5 1.1 1.6 6.8 .4 .6 .4-.2 .5-1.7 .4-3 2-17.9 .4-1.9 .3-.6 .3 .8 .3 1.7 1.7 17.2 .8 5.4 .4 .8 .2 0 .3-.3 1.8-5.5 .3-.6 .4 .1 .8 2 1.8 8.4 .3 1.1 .4 .4 .4-.3 .4-1 1.6-6.9 .4-1.1 .4-.5 .4 .1 .5 1.1 1.6 6.9 .4 1.1 .4 .6 .4-.1 .5-1 1.7-7.4 .5-1.4 .4-.5 .4 .1 .4 .6 1.6 4.7 .4 .5 .4-.2 .5-1.3 .6-3 2-16 .4-1.8 .4-.6 .4 .6 .2 1.6 1.7 15.5 .5 3.3 .6 2.5 .3 .9 .5 .3 .5-.2 1.3-1.2 .6 0 .7 .9 1.5 3.3 .7 .7 .3-.2 .4-.6 1.8-5.4 .7-1.2 .4 .1 .5 .7 1.8 5.2 .3 .7 .4 .3 .4-.1 .5-.8 1.6-5.2 .5-1 .4-.4 .4 0 .4 .4 1.7 3.3 .4 .2 .4-.3 .6-1.4 .6-2.6 2.3-14.3 .5-1.8 .4-.6 .4 .5 .3 1.6 1.6 11.9 1 4.5 .9 1.9 3.4 4.4 .9 .6 .6-.1 .4-.5 1.9-4.1 .8-1 .4 .1 .4 .5 1.8 3.7 .8 .8 .3 0 .5-.6 1.8-4.1 .7-1 .4-.1 .4 .2 1.8 2.4 .3 .1 .4-.3 .6-1.2 .7-2.5 2.3-12.5 .5-1.6 .4-.4 .4 .4 .3 1.1 1.6 11.1 1 4 .7 1.7 1.3 1.7 1.8 1.9 1.1 .7 .6 0 .6-.5 1.9-3.5 .9-.9 .4 .1 .4 .3 1.7 3.1 .5 .6 .4 .1 .4-.1 .4-.5 1.7-3.2 .9-1 .7 .3 1.8 2 .4 .1 .3-.2 .6-1 .7-2.1 2.5-10.7 .5-1.3 .4-.3 .4 .2 .4 1.1 1.4 8 1 3.5 2.8 5.2 .9 1.1 .7 .4 .7-.1 .7-.6 2-3.5 .9-.9 .4 .1 .5 .4 1.7 2.8 .8 .6 .4-.1 .5-.4 1.7-3.1 .8-.7 .4 0 .4 .3 1.7 1.8 .5 .1 .4-.2 .5-.9 .6-1.5 2.4-8.9 .5-1.2 .5-.5 .4 .3 .4 .9 1.5 7.2 .9 2.7 2.7 4.6 .8 .8 .7 .4 .7 0 .8-.6 2.2-3.4 .8-.8 .4 0 .5 .3 1.7 2.6 .8 .6 .4-.1 .5-.4 1.7-2.7 .9-.7 .8 .3 1.7 1.8 .4 .1 .4-.1 .6-.7 .5-1.3 2.5-7.4 .5-.9 .4-.4 .5 .4 .4 .9 1.4 5.3 .8 2.4 2.6 4 .6 .8 .7 .4 .9 0 .8-.5 2.5-3.5 .8-.7 .9 .4 1.7 2.1 .7 .6 .9-.4 1.8-2.5 .8-.5 .8 .2 1.7 1.6 .5 .1 .4-.1 .6-.7 .6-1.2 2.3-6.3 .5-.8 .5-.4 .3 .2 .4 .6 1.9 6.1 1.5 2.9"/>
<path fill="none" stroke="#00f" stroke-opacity="0.42" stroke-width="4.4" stroke-linecap="round" d="M75.6 329h0m1.2 2.2h0m.7 .7h0m.8 .5h0m1.5 1.5h0m1.1-.5h0m.9 .6h0m1.1-2.6h0m.8-.4h0m1.4-.5h0m.7-.5h0m2-3.1h0m1.3-2.1h0m.6-.3h0m2 1.6h0m1 3.7h0m.6 1.9h0m1.8 .4h0m1-2h0m1.2 1h0m1-2.3h0m.9 4.7h0m1 .9h0m.9-.6h0m1.5-2h0m.8-.2h0m.9 2.4h0m.7-4.3h0m1.2 .5h0m1.3 4h0m.7 .4h0m1.2-3.1h0m.8-1.6h0m.3 .9h0m2.9-1.6h0m.8 .6h0m.8-3.5h0m1.7-2.9h0m1.3 2.1h0m1.3 3.1h0m.2 1.2h0m.8 .8h0m1.3 .7h0m1.2-2.1h0m.8 1.7h0m.9-.9h0m.9-4.8h0m.8 6h0m1.5 4.8h0m.6-2h0m1 .2h0m2-4.3h0m.9 4.6h0m.4-3.2h0m2.2 3.3h0m.6-1.8h0m1 .5h0m.4-3.2h0m1.1-2.9h0m.6 1.5h0m.4-.1h0m.9 2.7h0m1.2-2.4h0m.9-1.4h0m.4-2.3h0m1.5-2.3h0m1.1 2h0m1.3 6.4h0m1.2 .4h0m1 .7h0m.9-.4h0m1.4-.6h0m1.1 1.3h0m.5-1.3h0m1.3 2.4h0m1.8 2.4h0m1-3.9h0m.7-2.1h0m1.9-1.2h0m1.8 4.7h0m.6 .6h0m2.3-4.7h0m.7 1.8h0m.6-3.2h0m.5 2.5h0m1.2 .1h0m1.8-7.5h0m1.3 1.6h0m.3-3.9h0m1.7 5h0m1 1.8h0m.7 2.1h0m2.1 1.5h0m1.2 .2h0m1.4-2.7h0m.4 2.1h0m1.2-.6h0m.9 3.2h0m1.1-2.8h0m.9-1.2h0m.3 1.5h0m1.6-.3h0m1.2-.5h0m.5 2.3h0m1.1 4.8h0m2.1-7.1h0m1.6-2.7h0m.5 1.5h0m.7 1.2h0m1-1.5h0m1.3-.8h0m.8-5.7h0m.9-.5h0m1.2 .7h0m.8 3.1h0m2.5 6h0m1.3-1.8h0m1.2-.3h0m.9 1.1h0m1.8-.3h0m.5 1.9h0m1.1 1.4h0m1-2.7h0m1.1 .1h0m1.3-3.2h0m.4-.9h0m1.1 2.4h0m1.4 1.8h0m1.4-2.2h0m.5 .6h0m.7-1.8h0m2.7-1.5h0m1 4.1h0m1.7-4.6h0m.4-.2h0m.2-4.9h0m1.8-1.4h0m.6-.7h0m1.3 4.4h0m1 6.7h0m1.2 .7h0m.8-3.3h0m.4-.9h0m1.5 .5h0m1.3 .6h0m.5 3.3h0m1.2 1.5h0m.8-3.7h0m1.5-1.7h0m.6 .3h0m1.5-2.2h0m1.3 4.9h0m2.2-.2h0m.6-1.2h0m1.1-2.6h0m.8-1.3h0m1.4 .5h0m2.3 3.2h0m1.4-8.9h0m1.9-2.7h0m1.9 10.2h0m.3 4.5h0m2.9-5.7h0m.9-1.6h0m1.7 5h0m.9 2h0m1.6-.5h0m.5-.7h0m1.6-7h0m1.1 2.5h0m.2-.2h0m2.2 3.9h0m.8-.5h0m1.5-3.4h0m.8-.1h0m.5-1.3h0m.7-1.9h0m1.1 3.1h0m.8 1.6h0m.4 1h0m1.4-7.1h0m1.2-6.8h0m1.9-2.1h0m.4 4.6h0m1.2 4.3h0m1.3 7h0m1.2-5h0m.3-.7h0m1.5-3.8h0m.9 2.3h0m.9 5.4h0m1.7 2.7h0m1.2-3.7h0m1.1-2h0m.8-4h0m2.3 5.5h0m.6 1h0m.8 .8h0m.7-1.9h0m.6-1.8h0m1.3-4.4h0m1.2-1.3h0m.5 .9h0m1.5 4.2h0m.7-2.3h0m1.1-6.7h0m.9-4.4h0m.8-3h0m1.4 2.6h0m1.2 5.8h0m.4 .6h0m.9 7h0m.4-4.3h0m1.2-2h0m.9-1.3h0m1.4-1.5h0m.2 2.7h0m.5-1.4h0m.5 3.8h0m1.7 2.7h0m1.2-2.8h0m1.4-6.5h0m.6-2.7h0m.7 4.7h0m.7 4h0m.7 .9h0m.8 3.9h0m2.1-9.1h0m.4-3.8h0m.9 .2h0m1.1 1.6h0m1.7 5.1h0m.5-.3h0m1-6.6h0m.8-8.7h0m1.8-12.7h0m1.1 5.5h0m.7 8.2h0m1.2 9.8h0m1.3 1.7h0m1.3-1.8h0m.7-4.9h0m.7-2h0m1.1 6h0m.4 8.3h0m1.3 1h0m1.5-2.3h0m1-7.5h0m.4 0h0m.6-3.9h0m.8 5.6h0m.8-.5h0m.3 3.5h0m1.2 4.1h0m.7 3.1h0m.9-6.7h0m1-7.2h0m1.2-5.2h0m.9 2.2h0m.3 .7h0m.5 3.3h0m.8 .6h0m1.2-5h0m1.5-22.3h0m1.9-4.2h0m1 11.1h0m.7 12.5h0m1.1 6.2h0m.9 3h0m.7-4.6h0m1.1-1.1h0m.8 .3h0m1.2 7.1h0m.5 2.3h0m1.2 5.4h0m.7-.1h0m.8-3.4h0m.1-3h0m.3-1.5h0m1.2-6.1h0m.6 3.6h0m.5-.4h0m.3 2.7h0m.3 1.6h0m.5 3.7h0m1.7 .6h0m.4 2.5h0m.5-5h0m.7-1.8h0m.5-3.9h0m1.3-2.2h0m1.4 4.3h0m.5-1.4h0m1.9-2.9h0m1-9.9h0m1.2-10.8h0m1.2 3.4h0m.8 10.8h0m1 10.7h0m.4 1.8h0m.9 1.6h0m1.5-3.7h0m.3-1.3h0m.6-.3h0m1.7 5.8h0m.8 4.7h0m.8 3.7h0m.7 1.8h0m.9-5.9h0m1.4-10h0m.3 3.7h0m.7 .8h0m.6-.3h0m1 5.9h0m.2 .7h0m1.2 1.3h0m.9 2.3h0m.9-8.4h0m2.1-1.8h0m1.2 3.6h0m.6 3.1h0m1.5-2.5h0m.4-.2h0m1.6-10.5h0m.1-2.9h0m.8-2.4h0m.9 5.8h0m1.3 10.4h0m2.3 4.3h0m.9-4h0m.4-.7h0m2.2 5.2h0m.5 1.3h0m1.1 1.8h0m1.3 1.7h0m1.9-9.2h0m.8 3.6h0m1.7 2.5h0m.8 3.5h0m.7-1.2h0m1.3-1h0m.3-4.7h0m.7-1.6h0m.6-3h0m.7 4.3h0m1.1 2.6h0m.9 1.7h0m.8-.1h0m1.1-4.4h0m1.5-7.1h0m.4-3.8h0m1.7 5h0m1 7h0m1.2 5.4h0m1.9-4.3h0m2-1.1h0m1.7 9h0m.6-2h0m3.1-5.4h0m1.2 .9h0m.4 1.7h0m1.4 5.4h0m.8 2.5h0m1-3.1h0m1.1-4.3h0m2-.3h0m1 1.9h0m1.4 2.4h0m2.1-5h0m.6-6.4h0m.6-.1h0m1.6 1.2h0m.6 3.3h0m.7 4.9h0m.9 1.7h0m.9-.6h0m.7-.1h0m1-4.5h0m.7 2.5h0m1.1 .8h0m1 4.1h0m.3-.5h0m1-.6h0m.4 .6h0m.8-1.5h0m1-.1h0m1.8-4.4h0m1.6 5.4h0m.4 1h0m2.3-2.2h0m2-3.1h0m.8 1.7h0m.9 1.7h0m.7 0h0m.6-1.6h0m2.9-8h0m1.4 2.2h0m1.1 4.2h0m1.5 2.7h0m.5 .5h0m.8 1.3h0m1.1-3.5h0m1.2-1.1h0m.5 3.2h0m.4 2.6h0m1.3 2.1h0m.7-.1h0m.7-.2h0m.8 .2h0m.6-2.5h0m1.7-2.6h0m1 3.1h0m.7 .4h0m1.7 1.3h0m1.5-3.9h0m1.2 2.3h0m1.4-3.4h0m1.7 2.1h0m1.3 .5h0m1.5-5.5h0m1-4.2h0m.4-.4h0m.9 2.2h0m.8 1.2h0m.9 4.9h0m1.9 1.3h0m2-1.1h0m.8 1.2h0m.9 1.3h0m.3-.7h0m.5 .7h0m1 0h0m1.8-.2h0m1.2-1.5h0m.7 .5h0m1.5 .4h0m.9 2.1h0m.7 1.3h0m.3 .2h0m2.2-4.2h0m1.5 2.8h0m.9-2.6h0m1.5 .1h0m.9-.8h0m.4-1.8h0m.8-3.6h0m1.2-3.4h0m1.1 4.6h0m1-.2h0m.4 1.3h0m1.5 2.5h0m.5-.4h0m.8 .1h0m1.2 .1h0m1 .5h0m1.5 2.7h0m1.2 1.8h0m.9-5.1h0m1.2 2.1h0m1.8-1.1h0m1.3 3.7h0m1.6-4.2h0m.7 3.9h0m.9-3.2h0m1.5-1.1h0m.5 .9h0m1.1 .2h0m1 1.8h0m1.2-1.7h0m.7-2.1h0m.7-.7h0m1.2-4.3h0m1.5 2h0m.8 .4h0m1.1 3.9h0m.8 .5h0m1.1 .4h0m.6-1.8h0m.7 4.8h0m1.5-1.9h0m.7 4.1h0m.4-3.4h0m1.2-1.3h0m1.5 .3h0m1.3 0h0m1.9 1.7h0m1.3 3.1h0m2-6.9h0m.6-.8h0m1.3-.7h0m.8 4.3h0m.5 1.9h0m2.7-3.6h0m.6-2.2h0m.8-4.3h0m.6-2h0m2.6 5.7h0m1.3 .8h0m1.6-1h0m.6 3h0m.7-.5h0m.5-.7h0m.8 2.8h0m1.2 2.2h0m1.3 1.2h0m1-1.9h0m.3-2.2h0m2.1-1h0m1.2 .4h0m1.6 3.1h0m2.2-1.3h0m.6-1.2h0m1.5-.1h0m1.5-.1h0m.6 2.4h0m1.2-4.3h0m1.1-4h0m1.7-1.4h0m1.1 1.4h0m.8 4.3h0m1.6-.6h0m.5 1.7h0m1-.3h0m.9-2.9h0m1.5 4.1h0m.3-1h0m1 2.4h0m.8-.4h0m.2 2.9h0m1.9-4.3h0m.3-1.4h0m.8-.3h0m1 .2h0m1.6 3.1h0m2.2-.9h0m.7-3.3h0m.9 1.9h0m1.2 1.7h0m.6-1.5h0m.9 1.5h0m.5-1.4h0m.8 3.2h0m1.1-5.1h0m1-2.3h0m.9-2.5h0m.8 .9h0m1.1 .1h0m.5 1.3h0m.5 1.3h0m1.4 2h0"/>
<path fill="none" stroke="#00f" stroke-opacity="0.42" stroke-width="4.4" stroke-linecap="round" d="M76.2 334.4h0m.7-3.6h0m.9-3.2h0m.6 5.3h0m1.7 2.2h0m.9 .4h0m.9-1.1h0m1.1-2.1h0m.8-3.4h0m1.6 2h0m1.2 1.4h0m2-4.1h0m.6-3.3h0m1.8-.6h0m1.1 1.7h0m.7 2h0m.9 3.9h0m1.6 1.4h0m1.4-1.2h0m1-2.7h0m.7 3.5h0m1-3.1h0m1.3 4.1h0m1 1.5h0m1-4.1h0m.8-1.7h0m.9-.7h0m1.1 2.5h0m1 1.9h0m1.1 1.5h0m.7 .4h0m1.2-5.7h0m.8 .9h0m.3 .5h0m2.9-.7h0m.7-2h0m1.9-2.8h0m1.1-.4h0m1.4 1.2h0m.7 1.2h0m.5 2.7h0m1.7 2.9h0m.8-.8h0m.6-1.3h0m.8 .2h0m.8 .7h0m1-.8h0m.9 1.6h0m1.4 .6h0m1 .4h0m.5-1.5h0m2.1-2h0m.9 1.1h0m1.5 3.1h0m1.1-.2h0m.5-1.5h0m1.1-3.3h0m.7 .4h0m.7-1.7h0m.8 1.6h0m.5 1.3h0m.8-.4h0m1.2-.6h0m.8-4.3h0m.5-.5h0m1.3-3h0m1.5 4.9h0m1.2 5.5h0m1 2.2h0m1-.7h0m1.3-.2h0m1.2-3.6h0m.9 .5h0m.6 1h0m2.1 3.9h0m1.1-.8h0m.9-3.9h0m.9-.2h0m1.9 1.3h0m1.4 3.4h0m.9-3.8h0m2.1-2.1h0m.6-1.9h0m.8 2.9h0m.6-.6h0m1-.9h0m2.3-2.2h0m.8-3.1h0m.3-.5h0m1.6 2.4h0m1.3 3.8h0m1 3.3h0m1.7-1.1h0m1.1-4.3h0m1.4-.5h0m.6 6.3h0m1-.6h0m1.2 1.5h0m.8-.4h0m.9-2h0m.6 .1h0m1.3 0h0m1.2-1.7h0m.5 2.3h0m2.3-.2h0m1.2-1.8h0m1.4-1.1h0m.5-1h0m.6-1.4h0m1 1.7h0m1.6 .8h0m1-6.7h0m.7-.9h0m.9-.4h0m2.2 7.6h0m1.1 4.1h0m1.4-1.8h0m1.2-3.5h0m1.6 1h0m1.2 3h0m.3 0h0m1.4-.1h0m1.1 .2h0m1-.3h0m1.1-3.3h0m.5 2.4h0m1.5 .5h0m.8 3.5h0m1.3-3.6h0m.6-1.7h0m.9-.6h0m2.8-1.4h0m.8 1.8h0m1.5-3.3h0m.4-3.1h0m1.4-5.5h0m.9-.2h0m.4 1.2h0m1.6 8.4h0m.6 1.9h0m1.3 .7h0m.7-1.5h0m.5-1.5h0m2-2.2h0m.7 3.5h0m.6 2.5h0m1.4 1.6h0m1.1-.4h0m1.2-4.6h0m.4 3.2h0m1.5-2.1h0m2.1 3.5h0m1.3-1.7h0m1-2.8h0m1.3-2h0m.4-.7h0m2.6 3.1h0m1.4-2.2h0m1.2-9.4h0m1.8 1.9h0m1.7 10h0m.9 1.9h0m2.6-4h0m1-1h0m1.6 5.9h0m1.3 .1h0m.9-1.1h0m.6 .3h0m1.7-5.3h0m.9 1.2h0m.5 0h0m1.9 6.2h0m1.1-1h0m1.2-5.6h0m1-.4h0m.3-2.9h0m.9 1.9h0m1 1.3h0m.8 3.3h0m.4 .2h0m2-11.8h0m.8-4.5h0m1.6 2.1h0m1.1 5.9h0m1 3.8h0m1.6-1.5h0m.5 2h0m.4-3.2h0m1.4 1h0m1 0h0m1.2 5.2h0m1.3-2.5h0m1.2-1h0m1.1-3.2h0m1.4-1.5h0m1.7 6.9h0m.8 3.1h0m.5-2.5h0m.7-2.7h0m1.7-9.2h0m.5 .4h0m1.1 1.8h0m.9 2.1h0m.9 3.4h0m1-2.4h0m.9-8.1h0m.8-7.5h0m.8-3.1h0m1.7 7.1h0m1 7.3h0m.5-.1h0m.7 2.9h0m1.2-1.3h0m.7-4h0m.7-1.4h0m1.3 .7h0m.2 2h0m.7 1h0m.3 2.5h0m2.2 2.5h0m1.5-7.9h0m.8-1.4h0m.6 .6h0m.8 1.3h0m.5 2.4h0m.7 3.8h0m1.9-.2h0m1-6.8h0m.5-2.5h0m.9-5h0m1.9 6.5h0m.7 4.3h0m.7 .5h0m1-8.6h0m.7-9.5h0m1.8-13.8h0m1 10.7h0m1.1 11.6h0m1 4.5h0m1.1-.1h0m1.4-5h0m1 .5h0m.4-1.2h0m1.3 11.3h0m.4-.8h0m1.6 3.6h0m1.2-8.9h0m.8-.8h0m.4-1.1h0m.6-.7h0m.8-1.7h0m.7 7.4h0m.7 3.1h0m1.1 2.5h0m.7-3.8h0m.9-4.4h0m1-6.6h0m1.3-1.3h0m.7 .1h0m.2 4.4h0m.5-.7h0m.9 2.9h0m1.2-8.6h0m1.5-21h0m2-1.3h0m.9 13.2h0m.7 8.4h0m1 7.7h0m1 1.2h0m1.2-7h0m.7 .3h0m.8 2.3h0m.9 6.8h0m1.1 5.6h0m.7 4.6h0m1-5h0m.4-2.7h0m.2-3h0m.9-2.6h0m.7 .3h0m.5-1.6h0m.4 1.8h0m.4-1.2h0m.5 6.5h0m.2 1h0m1.9 1.8h0m.3 1.1h0m.5-3.3h0m.7-4.9h0m.6-3.9h0m1.8 3.5h0m.8-1.6h0m.5 3.3h0m1.9-3.8h0m1.5-15.8h0m.9-1.7h0m1.4 5.6h0m.4 6.3h0m1 7.2h0m.9 6.5h0m.6-1.3h0m1.2-3.4h0m.3-2.1h0m1.2 1.1h0m1.2 4.1h0m1 6.7h0m.6 1h0m.6 .3h0m1.3-4.1h0m1.1-4.3h0m.3 2.7h0m.8-4.1h0m.6 1.7h0m.9 5h0m.2 .6h0m1.4 1.1h0m.6 .8h0m1.5-4.7h0m2.2-4.5h0m.5 7.1h0m1.6 2.8h0m.6-5.5h0m.6-2.6h0m1.3-10.3h0m.3-1.8h0m1 1.3h0m1.1 8.6h0m1.5 7.6h0m2.1-1.3h0m.5-2.6h0m.4 .3h0m2.3 6h0m.3 1.4h0m1.2 1.2h0m1.2-.6h0m2.2-5.5h0m.7-.9h0m1.5 8.4h0m.7 1.7h0m.7 .4h0m1.3-6.6h0m.5-2.6h0m.5-.5h0m.7-1.5h0m.8 2.5h0m1.1 5h0m.8 1.5h0m1-1.8h0m1.2-4.6h0m1.3-9.7h0m.5-2.6h0m1.4 7.7h0m1.7 8.2h0m1 1h0m1.6-1.8h0m2.2 1.8h0m1.3 5.9h0m1 1.3h0m2.9-6.2h0m1-.9h0m.5 2.9h0m1.3 1.3h0m1 3.7h0m1.3-4.2h0m1.6-1.8h0m1.4-3.4h0m.7 4.3h0m1.7 2.2h0m1.8-8.4h0m.7-1h0m.5-2.8h0m1.5 3.8h0m.7 2.7h0m.9 3.6h0m.6 1.8h0m1.2 1.6h0m.8-4.8h0m.7-.5h0m.7-1.2h0m1.1 2.2h0m.9 5.3h0m.3-2.1h0m1.1 4.3h0m.7-1.7h0m.6-3.7h0m1.3-3.1h0m1.4 2.6h0m1.7 3.6h0m1.1-.4h0m2.4-7.7h0m1.1 3.8h0m1.2 2.3h0m.6-1.5h0m.7 1.4h0m2.4-6.1h0m1.5-3.8h0m1 1.5h0m1.1 7h0m1.3 .9h0m.7 2.7h0m.7-2.8h0m1.3 .8h0m1.1-.6h0m.4 1h0m.5 3.5h0m1.2-.5h0m.8 .7h0m.5-2.3h0m1 2.3h0m.9-3.6h0m1.5 .5h0m.8 1.5h0m1.3 2.3h0m1 2h0m1.8-5.5h0m1.2-1.9h0m2.1 2.6h0m1.4-.5h0m.7-.4h0m1.6-7.8h0m.9 1.1h0m.4-2.3h0m.9 1.8h0m.8 .6h0m1.5 6.2h0m1.3 2.6h0m1.9-3h0m.8 2.8h0m1 .4h0m.4 1.8h0m.6-1.6h0m1.1-2.3h0m1.6 1h0m1.3-2.4h0m.6 0h0m1.3 4.3h0m.9-.9h0m.8 .6h0m.5-3.6h0m2.1-3.4h0m1.4 4.5h0m1.7 2.9h0m.8-4.1h0m.8-1.7h0m.3-.4h0m1-3.7h0m1.1-1.7h0m1.6 4h0m.5 2.6h0m1.4 1.9h0m.6-1.1h0m.7-1.1h0m.8-1.1h0m1 2.9h0m1.2 1.9h0m2 3h0m.4-2.8h0m.9-1.8h0m1.4 1h0m1.8 1.2h0m1.2 2.1h0m1.4-.9h0m.7-.7h0m1.6-3h0m.8 1.3h0m.5 2.2h0m1.3-1.2h0m1.1-1.2h0m1.1-4.2h0m.7 .9h0m.6-1.4h0m1.8 2.3h0m1.2-2.6h0m.4 5.5h0m1.5-1.1h0m1.1-.8h0m.6-2.1h0m.7 .9h0m.7 4.7h0m1.6 2.6h0m.4 0h0m.4 .1h0m1.3-2.5h0m1.3-.2h0m1.4-3.1h0m1.8 3h0m2.4-1h0m1 .1h0m.7-1.5h0m1.1 1h0m1-.1h0m.7-.4h0m2.5-3h0m.5-.4h0m.8-3.8h0m1.8 2.3h0m1.3 .8h0m1.4 2.1h0m1.5 1.2h0m.7 .1h0m.6-.9h0m.6-.1h0m.8 1.5h0m1.3 2.4h0m1.5 .6h0m.7-3.4h0m.8-2.6h0m1.7 2.5h0m1.3 1.8h0m2.1 2.2h0m1.5-3.7h0m.9-3h0m1.8 7.7h0m1.2-1.2h0m.3-3.4h0m1.1 .7h0m1.5-3.9h0m1.9-3.9h0m.9 1.3h0m.5 1.2h0m1.6 5h0m.6 .7h0m1.4-3.6h0m1.2 3.2h0m.6 2.7h0m.6 .3h0m.9 .5h0m.6-1.3h0m.3-1.7h0m2 .7h0m.2-2.4h0m1-1.2h0m1.1 5.8h0m3.3-2.3h0m.2 2.1h0m.7-3.5h0m1.2-.6h0m1 1.2h0m.4 1.6h0m1-1.8h0m.6 2h0m.9-.5h0m1.4-5.9h0m.4-1.3h0m.9 .8h0m1-1.8h0m1.1-.8h0m.6 3.1h0m.2 2h0m1.4-.7h0"/>
<path fill="none" stroke="#00f" stroke-opacity="0.42" stroke-width="4.4" stroke-linecap="round" d="M76.6 330.5h0m.7-.6h0m.8 .3h0m.7 .7h0m1.4 1.4h0m1 1.7h0m1.2-1.8h0m.7-2.4h0m1.2-.1h0m1.3-1.3h0m1.1 .5h0m2.2-4.7h0m.4-.4h0m1.8-.9h0m1.3 6.5h0m.6 1.5h0m1.7-.4h0m.8 3h0m1.3-2.1h0m.9 .7h0m.9-1h0m1.1-.1h0m1.2 1.4h0m1.2 3.3h0m1.2-6.3h0m.9 1.5h0m.6-.5h0m1.1 3.8h0m.8-.9h0m1.4 2h0m.3-3.3h0m1.1-2.8h0m.8 2.1h0m2.5-1.3h0m1-1.5h0m.5 1.9h0m1.9-5.1h0m1-.3h0m1.6 1.7h0m.5 1.7h0m.9 2.9h0m1.3 .7h0m.9 .9h0m.5-2.7h0m1.3-.4h0m.6-2.1h0m1.3 3h0m.3 4h0m1.7-.1h0m.8-1.1h0m1.1-2.4h0m1.9-.4h0m.6 4.6h0m1.6-1h0m.9-1.6h0m.6-.9h0m1 .4h0m.9-3.1h0m.7 2.1h0m.6-1.8h0m.7 3.8h0m.7-4.2h0m1.5-.7h0m.6-1.8h0m.4-3.3h0m1.2 .7h0m1.6 2.4h0m1.2 4.6h0m.8 2.6h0m1.6-2h0m.8-1.8h0m1.6 3.8h0m.6-2.1h0m.6 1.5h0m2.3 2.8h0m1-3.8h0m.6 0h0m1.7-.9h0m1.8 1.7h0m1 2.2h0m1.6-2h0m1.4-6.4h0m.4 1.7h0m.8 1.2h0m.9-1.2h0m1.2 .1h0m2.3-3.2h0m.3-.9h0m.7-4.7h0m1.6 7.7h0m.9 2.4h0m1.2 2.4h0m1.7-1.5h0m1-1.5h0m1.3-.7h0m.7 4.2h0m1.4 3.1h0m1-1.7h0m.6-1.5h0m.8-.8h0m1.2-1.9h0m.7 1.1h0m1.2 4.5h0m.9-2.8h0m1.9 .1h0m1.9-5h0m.7 .1h0m.6-1.6h0m.9 .3h0m.8 3.4h0m1.4-3.6h0m1-3h0m1.2-3.8h0m.4 1h0m3 11.3h0m.7-3h0m1.1 .6h0m1.3-.5h0m1.4-.8h0m1.1 1h0m.8 2.9h0m1.1-.4h0m1.1-3.2h0m1.4 .7h0m.6-3.2h0m.6 2h0m1.5 1.8h0m1.4 1.5h0m.5-.9h0m.7-.8h0m.9-2.2h0m2.8 3.2h0m.7-1.8h0m1.6-5.7h0m.3 1.4h0m1.4-5.3h0m.9-1.5h0m.9 5h0m1.1 2.4h0m1.7 6.1h0m.2-1.7h0m.7-3.8h0m.6 .8h0m2.2-.2h0m.4-2.2h0m1 10.4h0m1.2-2h0m1.3-4.9h0m1-2.2h0m.7 0h0m1.7 3.1h0m1.6 1.3h0m1.4 2.2h0m.9-5.8h0m1.1-1.8h0m.6 1.8h0m2.6 3.7h0m1.3-4.8h0m2-8.6h0m2.1 6.3h0m.6 4.1h0m2.4-.4h0m1.4-1.3h0m.8-1h0m1.9 3.7h0m1.3 3.4h0m.7-1.9h0m.7-2.2h0m1.4-2.6h0m.9-.7h0m.9 2.4h0m1.7 4.3h0m1.5-6.4h0m1.1-1.3h0m.4 .1h0m.7-2.6h0m1 .5h0m.5 5h0m.8 0h0m.7 1.2h0m1.8-9.8h0m1.1-8.2h0m1.4 1.3h0m1.2 10.5h0m1.1 3.7h0m1.3 1.2h0m.5-4.6h0m.6-.9h0m1.3-3.3h0m.9 5.4h0m1.2 3h0m1.6 1.2h0m1.6-4.5h0m.5 .1h0m1.9-1.6h0m1.3 6.6h0m.6 .7h0m.5-2.1h0m.8-1.3h0m1.6-6.2h0m1.1-3.5h0m.6 3.4h0m.9-.1h0m.9 4.3h0m.8-2.4h0m1-7.1h0m1-6.8h0m1-4.6h0m1.5 9.2h0m.7 2.8h0m.6 6.3h0m.7-1.3h0m1.1-2.7h0m.8-1.8h0m1.5-3.4h0m.4 2.2h0m.3 .4h0m.7 4.4h0m.4-1.4h0m2.2 3.2h0m1.5-7.8h0m.9 1.5h0m.4-3h0m.7 1.5h0m.5 8.5h0m1 .3h0m2.1-4.8h0m.6-4.3h0m.4-.6h0m1.4-6.4h0m1.5 7.3h0m.8 5.6h0m1.2-8h0m.4-4.2h0m1.1-11.3h0m1.3-6h0m1 6h0m1.5 13.9h0m1.1 4.8h0m1.7-4.3h0m.4-3.3h0m1 1.3h0m.7 1.9h0m1 7.2h0m.9 3.9h0m1 0h0m1.5-8.7h0m.6-2.2h0m.8-5.2h0m.1 4.8h0m1.2 2.4h0m.3 .9h0m.7 6.5h0m1.1 2.2h0m.8-3.2h0m1.4-8.3h0m.6-3.9h0m1.2-.8h0m.6 1.8h0m.4 2.1h0m.5 1.5h0m1 1.1h0m1.7-19h0m1.8-19.1h0m1.4 14.9h0m.5 4.9h0m.7 9h0m1.2 8.9h0m.8-2.9h0m1.4-3.1h0m.8 .4h0m.5-.8h0m.9 7.3h0m1.2 8.8h0m.5-1.3h0m1.1-.4h0m.3-3.6h0m.2-1.9h0m1.2-4.8h0m.8-1h0m.4 1.1h0m.2 .8h0m.4 4.6h0m.5 .2h0m.5 2.3h0m1.6 1.9h0m.4-1.1h0m.7-3.1h0m.4-1.5h0m.8-7.6h0m1.7 5.7h0m.9 2.1h0m.9 1.2h0m1.7-8.8h0m1-14.1h0m1.3-1.9h0m1.1 8.7h0m.7 8.5h0m.6 6.1h0m1 2.5h0m1.3-3.6h0m.5-3.2h0m.3 2.5h0m1.2-2h0m1.2 6.3h0m.9 4.4h0m.8 4h0m1-2.2h0m.7-2.4h0m1.2-6.6h0m.6 .4h0m.5 3.1h0m1.2 3h0m.3 1.2h0m.1 2.9h0m1.6 1.4h0m.8-1.5h0m1.7-6.5h0m1.7 .2h0m.7 5.9h0m1.3-2.2h0m.8-2.1h0m.8-3.6h0m1-9.3h0m.4-1.1h0m.9 1h0m1.4 9.9h0m1.3 6.1h0m2.1-1.7h0m.4 .5h0m.6-1.5h0m2.1 3h0m.6 4h0m1 2.6h0m1.4-3h0m1.8-4.7h0m1.1-.1h0m1.4 6h0m.7 .7h0m1.2-4.1h0m.7 2.7h0m.3-2.5h0m.6-2.7h0m.6 .5h0m.9 2.1h0m1.1 .8h0m1-.4h0m1.2-2.1h0m1.7-9.4h0m.4-.7h0m.6 1.2h0m2 7.5h0m1.3 8h0m.9 .1h0m2-3.6h0m2 4.7h0m1 .4h0m1.9 .5h0m2.7-2.8h0m.2-1.1h0m.6-1.2h0m1.5 7.3h0m1.1 .9h0m.8-2.2h0m1.6-3.8h0m1.7-.2h0m.6 2.5h0m2.1-2.2h0m1.2-4.4h0m.9-1.8h0m1.3-.7h0m.7 3.3h0m.5 4.3h0m1 5.6h0m1.1-2.1h0m.9-2.4h0m.8-1.8h0m.5-.5h0m1 2.3h0m.7 1.9h0m1-.7h0m.3 2h0m1.1 2.7h0m1-3h0m.7-2.5h0m1.3-3.1h0m1.3 .5h0m1.3 5.3h0m1.5-1.7h0m2.4-3.4h0m.7-.7h0m1.3 3.4h0m.6 .7h0m.7 .2h0m2.7-9.4h0m1.2 .8h0m1.4 3.1h0m1.1 3h0m.8 1.8h0m.9-.2h0m1.3-1.2h0m.6 1.8h0m1.1 .9h0m.5 1h0m1.3 5h0m.3-1.9h0m.8-2.9h0m.8 1.9h0m.7-2.8h0m1.1 1.4h0m1.3 .1h0m.9 2h0m1.6 2.5h0m.8-4.6h0m1.9-.4h0m1-2h0m2.2 1.6h0m1.3 1.7h0m.8-4.1h0m2-5.8h0m.3-.7h0m.4 .3h0m1 2.4h0m.7 2.5h0m2.5 .5h0m1.6 1.7h0m.6 .4h0m1.5 3.8h0m.3 .2h0m.4 .2h0m.7 1h0m1.7-2.9h0m1.1 .5h0m1 2h0m1.4-1.8h0m1.2-.1h0m.4 0h0m.7 1.9h0m1.8-3.5h0m.9-3.6h0m1.7 7.2h0m1.3-1.3h0m1.1-4.2h0m.4-2.4h0m.9-.8h0m1.1-1.9h0m.6-1.1h0m1.4 4.3h0m.6-.4h0m1.5 3h0m.4 2.2h0m.9-3h0m1 1.1h0m.8 2.1h0m1.8 1.8h0m1.3-.2h0m.4 2.4h0m1.5-6.1h0m1.8 .7h0m.7 .9h0m1.6 1.8h0m1.1-.8h0m.6-1.9h0m2.1-.8h0m.4 .9h0m1.1 1h0m.8 .8h0m1.4-1.6h0m.9 .3h0m.5-4.4h0m.6 .8h0m1.7-4.8h0m1.2 4h0m.6-1.7h0m1.4 6.7h0m1-3.1h0m.6 .2h0m.8 1.4h0m.8 1.6h0m1.5 3.4h0m.4-2.1h0m.6 .4h0m1.1-1.8h0m2.3 .5h0m1.3-.9h0m1.9 2.4h0m1.6-.7h0m1.1 0h0m.7-3.3h0m.8 .8h0m1.1 4.2h0m1.4-1.8h0m1.7-2.8h0m.5-2.3h0m.8-4h0m2.2 3.5h0m1.4 3.1h0m1.4-.9h0m1.4 .1h0m.4 .5h0m.7 1.7h0m.8 1h0m.6-1.4h0m1.4 3.4h0m1.2-4.1h0m.6 1.2h0m1-.4h0m2 2.2h0m1.3-1.7h0m1.9 3.9h0m1.6-4h0m.6-1.4h0m2.4 1.5h0m.5-1.1h0m.7 .3h0m1-2.7h0m1.6-4.9h0m1.6 .3h0m.8 .9h0m.6 5.7h0m1.6-1.6h0m.6-.3h0m1.4 2.2h0m1.5 1.6h0m.4-1.8h0m.5 2h0m.8 3.7h0m.7-2.9h0m.8-2.1h0m1.4 4.1h0m.6-5.1h0m.8-2.5h0m1 6.9h0m3.3-.4h0m.3-2.6h0m1 1.9h0m1-1.7h0m1 .6h0m.2-.7h0m1.2 1.2h0m.6-.7h0m1.2-.4h0m.9-3.3h0m.7-4.5h0m.7 1h0m.8-4.2h0m1.3 4.9h0m.5 .4h0m.6 4.2h0m1.3-1.6h0"/>
<path fill="none" stroke="#00f" stroke-opacity="0.42" stroke-width="4.4" stroke-linecap="round" d="M76.7 332.9h0m.7-1.7h0m.7-1h0m1.6 .6h0m.9 3.9h0m1 .1h0m.8-1.8h0m1-1.1h0m.9-1h0m1.4-1h0m1-1h0m2.3-2.5h0m.7 .1h0m1.7 0h0m1.2 3.3h0m.5 .6h0m1.6 1.6h0m1.1-1h0m1.4 .3h0m1-2h0m.8 2.9h0m.9 1.8h0m1.1-1.3h0m1.5 .2h0m.8-1.4h0m.9-2h0m.7 .9h0m1.2 2.6h0m1 1.5h0m1.1-.7h0m.5-.4h0m.9-1.2h0m.7-2.3h0m2.9-.2h0m.6 .7h0m.6-2.3h0m2.2-4h0m1.4 3.9h0m1.1 .9h0m.3 .6h0m.9 2.7h0m1.3 1.3h0m.9-.5h0m.6-1.1h0m1.2-1.3h0m.9 2h0m.9 0h0m1.3 3h0m.7-1.2h0m.9-.1h0m1.5-3.4h0m1.7-1h0m.3 1.2h0m1.7 2.2h0m1.2 3.1h0m.4-4.5h0m1 2.1h0m1-5.6h0m.4 .2h0m.7 1.1h0m.6 .5h0m1.4 .5h0m1-3.5h0m.4-1.9h0m1.2-3.2h0m1.4 2.3h0m1 6h0m1.2 3.6h0m.6-.8h0m1.5-2.2h0m1 .2h0m1.6-1.4h0m.5 3.1h0m1.1 1h0m1.9 .3h0m.7-2.4h0m.8 .6h0m2.1-.4h0m1.4 2.4h0m.8 .3h0m1.9-4.7h0m1.3-.6h0m.3 1.7h0m.8-3.5h0m1.1 2.6h0m1.3-2.8h0m1.9-3.8h0m.4-2.1h0m1.4 .4h0m1.3 5.8h0m.4 2h0m1.4 3.7h0m1.9-.9h0m1.5-2h0m.5 .8h0m.8-1.1h0m1.4 6.8h0m1.1-3.6h0m.7-2.1h0m.5-.9h0m1.4-.6h0m1 1.4h0m.9 .9h0m1 2.8h0m1.9-4.3h0m1.6-1.9h0m.6-1h0m.7 1.4h0m1-.1h0m.6-.8h0m1.6-3.3h0m.8-2.8h0m1.4-1.4h0m.7 4.4h0m2.5 7.2h0m1.3-1.9h0m1.3 1.8h0m.6-4.4h0m1.5 .3h0m.9 4h0m1-.4h0m1.2 1.9h0m.9-6h0m1.5 .5h0m.4-.8h0m.8 2h0m1.3 3.9h0m1.8-2h0m.3 .4h0m.6-2.2h0m1.3-4.5h0m2.4 4.8h0m1.5-3.7h0m.9-2.2h0m.2-1.2h0m1.3-4.3h0m.9 .2h0m1 3h0m1.6 6h0m1.2 .7h0m.2-1.8h0m.8 2.2h0m.8-3.7h0m1.9 1.3h0m.8 2.9h0m1.2 1.6h0m.8-.5h0m1.4-3.3h0m.6-2.1h0m.9 1.8h0m2 6.7h0m1.8-2.9h0m.9-3h0m1.2-1.3h0m.8-3.1h0m.5-.5h0m2.9 4.1h0m1-2h0m2.2-10.3h0m2.1 9.8h0m.3 6h0m2.5-3.5h0m1.5-2.7h0m1.2 .4h0m1.3 6.9h0m1.4-2h0m.6-.6h0m1.5-2.3h0m1.1-4.5h0m.5 3.3h0m1.4 4.4h0m1.5 1.3h0m1.5-3.9h0m.9-4.6h0m.5-.4h0m.4 0h0m1.2 2.7h0m.6 1.3h0m.7 .1h0m.6 1.7h0m1.9-11h0m1.1-3.3h0m1.2 2.6h0m1.3 5.2h0m1.1 3.2h0m1.2-1.4h0m.6-1.6h0m.8-2.5h0m1.2 .6h0m.9 2.3h0m1.2 4.4h0m2-2.1h0m1.1-5.6h0m.7 .8h0m2 4.4h0m1 2.4h0m.6 1.5h0m.9-4.5h0m.6 1.1h0m1.4-7.7h0m1.2 1.4h0m.5 1h0m1 2.7h0m1.1-3.5h0m.7-.6h0m1-5h0m1.1-9.6h0m1-3.2h0m1.3 9.6h0m.8 10.7h0m.8 0h0m.3 .1h0m1-4.3h0m1-2h0m1.6-4.2h0m.1 2.8h0m.5 .4h0m.5 2.5h0m1.6 6.5h0m1.1-2.9h0m1.6-9.5h0m.8-.4h0m.4-1h0m.7 6.2h0m.8 4.4h0m.6 1.3h0m2.2-3.1h0m.6-5h0m.8-5.6h0m1 2.8h0m2 3.8h0m.3 .6h0m1.2-5.6h0m.6-1.5h0m1-14.2h0m1.4-1.7h0m1 6.1h0m1.6 13h0m1.3 3.1h0m1.2-3.7h0m.6-3.6h0m.7-.7h0m.8 1.9h0m.9 10.3h0m.9 2.4h0m1.9-4.5h0m.9-4.8h0m.4-2.5h0m.7 .6h0m.7-.7h0m.9 5.4h0m.3 1.6h0m.9 5h0m.9 .2h0m.6-1.5h0m1.4-10.8h0m1.2-5.4h0m.5 2.4h0m.7 .9h0m.4 1.2h0m.6 .5h0m1.2-2.2h0m1.4-14.9h0m2.3-13.2h0m.9 9.7h0m.4 8.1h0m1.3 13.8h0m.8 3.5h0m.9-3.6h0m1.1-4.3h0m.9 .3h0m.5 2h0m.8 5.6h0m1.4 9.7h0m.8-1h0m.8-6.8h0m.2-1.5h0m.2 3.2h0m1.1-8.2h0m.8 .1h0m.5 1.4h0m.2 .8h0m.3-.2h0m.6 6.6h0m1.5 5.9h0m.5-4h0m.6-3h0m.6-6.3h0m.6-1.6h0m.7 2.4h0m1.8 1.5h0m.7 .4h0m1.3-1.5h0m1.4-8.6h0m.9-13.2h0m1.5 3.1h0m.8 6.3h0m1 12.7h0m.3 .1h0m1.1 5.4h0m1.5-5.6h0m.2 .5h0m.6 0h0m1-4h0m1.5 12.6h0m1 2h0m.3 1.5h0m1.1-3h0m1.2-6.1h0m.6-2.3h0m.7 2h0m.5 2.2h0m1.1 3.3h0m.3-.1h0m1 3.7h0m1 2.9h0m.9-5.6h0m1.8-6.7h0m1.3 2.5h0m.7 5.9h0m1.4-1.5h0m.7-1h0m1.1-10.2h0m.6-4h0m.7-2.1h0m1 4.5h0m1.3 9.9h0m1.6 5.3h0m1.5-4.7h0m.5-.4h0m1.4 1.5h0m1.3 2h0m.5 6.9h0m1.1 1.9h0m1.9-8.1h0m1.4-2h0m1.4 4h0m1 3.1h0m.7 1.1h0m1.5-4h0m.3-2.4h0m.5 2.1h0m.8-4.5h0m.3-.6h0m1.5 4.4h0m.7 .6h0m1.1 1.3h0m1-2.1h0m1.6-9.1h0m.3-3.7h0m1.1 1.4h0m1.5 8.7h0m1.4 6.2h0m1.3 .2h0m1.5-4.3h0m2.5 6.7h0m.8 1.1h0m1.6 .6h0m2.7-3.7h0m.4-2.5h0m.7 4.8h0m1.6 2.3h0m.9-1.1h0m.7-1.1h0m2.4-5.4h0m1 2.9h0m.7 4.6h0m2.7-7.8h0m.5-3.5h0m.8-1.3h0m1.3 1.1h0m.6 1.9h0m1 5.7h0m.7 2.5h0m1 .6h0m.9 .2h0m.9-4.5h0m.4 1.2h0m1.4-.3h0m.4 1.2h0m.9 1.4h0m.5 3.1h0m1 3.3h0m.8-5.7h0m.7-3.6h0m1.7 1.1h0m1.3 .5h0m.9 3.4h0m1.9-1.1h0m2.1-5h0m1.1 .3h0m.9 3h0m.9 2.5h0m.4-.8h0m3.1-11h0m1.1 2.5h0m1.1 3.9h0m1.1 4.1h0m1.1-1.6h0m.8-.1h0m1.1 .2h0m1.2 2h0m.5 .7h0m.4 1.4h0m1.4 .8h0m.3 1.2h0m.9-1.5h0m.9 .9h0m.6-3.9h0m1.3 .4h0m1.1 2.8h0m.9 1h0m1.9-1.7h0m.6-1.7h0m1.7-.2h0m1.7 2.4h0m1.6-.5h0m1.2-1.5h0m1.4-3.5h0m1.4-4.8h0m.3 .9h0m.5-2.9h0m1.2 5.5h0m.7 3.2h0m2.2 1h0m1.7-.9h0m.5 1.8h0m1.4-1.2h0m.3 3.7h0m.4 .8h0m.9 2.2h0m1.6-7.4h0m1.3 .1h0m.8 .8h0m1.7 5.9h0m.9-.3h0m.4-2.8h0m.6-.3h0m2.2-3.9h0m1.4 5h0m1-.7h0m1.2 .1h0m1.1-1.4h0m.6-3.2h0m.7-3.3h0m1.1-3.4h0m1.1 3.1h0m.9 2.7h0m.5-1.4h0m1.6 4.7h0m.5-.7h0m.7-.9h0m1.2 1.2h0m1.2 .3h0m1.3 3.1h0m1.3-1.6h0m.7-.8h0m1.4 .5h0m1.8 .2h0m.9 .9h0m1.8 4.4h0m.5-6.8h0m1.1 2.4h0m1.8-2h0m.5 2.2h0m.8 .4h0m1.1 .5h0m1.2-5.2h0m.8 .9h0m.5-2h0m1.3-3.3h0m1.5 1.8h0m.8-.2h0m1.1 4.6h0m.7 .3h0m1.2-1.6h0m.5 1.5h0m1-.2h0m1.2 2.5h0m.9 1.5h0m.4 .1h0m.9-1.2h0m.8-1.4h0m2.3 .1h0m1.8 3.2h0m1.3 1h0m2.2-4.4h0m.6 0h0m1.2-1.7h0m.4 .7h0m.9 .9h0m1.7 3h0m1.5-3h0m1-6h0m.4-.4h0m2 1.6h0m1.5 2.3h0m1.6-.8h0m1.2 3.2h0m.4 .4h0m.8-.8h0m.8 1.3h0m1 1.7h0m1.4-.9h0m1-1.1h0m.3-.3h0m1.2 .2h0m2.1 1.4h0m1.3 1.1h0m2.2-4.3h0m.9 .5h0m1.5 1.3h0m1.5 1.8h0m.6 2.3h0m1.2-4.6h0m1.1-6h0m1.4-2.9h0m1.3 2.7h0m.8 1.1h0m1.7 1.8h0m.3 .7h0m.7 .9h0m1.4-1.6h0m1.4 2.2h0m.5 2.5h0m.7-.1h0m.7 .3h0m.6 1.9h0m.7-4.3h0m1.5 .3h0m.6 1.8h0m.8-3.2h0m1.3 5.6h0m2.9-1.1h0m.7-3.1h0m.8-2.2h0m1.1 1.8h0m.7-.6h0m.9 3.1h0m.6-2.4h0m.6 2.9h0m1.1-2h0m1.1-3.2h0m.8-3.6h0m.7-1.3h0m.9-.6h0m.9 4.2h0m.6 .7h0m1.3 2h0m.6-.6h0"/>
</g>
<g clip-path="url(#c4)">
<path fill="none" stroke="#f00" stroke-width="2.6" stroke-linejoin="round" d="M75.4 426.7l 1.5 0 .9 .3 3 3.4 2.5 1.3 1.6 1.3 .6-.2 .5-.5 1-2 .8-3 1.7-12.4 1-4.7 .6-1.9 1-1.6 1.3 5.2 1.2 2.5 .8 .7 1.8 .2 .7 .3 2.2 2.1 .8 .5 .8 .1 1.9-.9 .7-.1 .9 .4 1.9 1.6 .8 .2 .8-.2 1.5-.9 .9-.1 .8 .4 1.7 1.4 .8 .3 .9-.2 1.6-1 .8-.1 .9 .3 1.7 1.5 .8 .2 .9-.2 1.6-1 .8-.2 .8 .3 1.6 1.4 .9 .4 .8-.2 1.9-1.3 .8-.1 .7 .3 2.1 1.6 .6 .1 2-.3 1.8 1.4 .7 .1 .5-.4 .5-.9 .8-3.1 .9-5.1 1.7-13.5 .5-2 .5-.6 .4 .3 .5 .8 1.3 7.2 .6 2.2 .7 1.6 .9 1 1.6 .4 .7 .4 2.2 3 .8 .7 .9 .1 1.7-1.2 .9-.1 .9 .5 1.7 2.1 .9 .4 .7-.3 1.7-1.4 .8-.1 .8 .5 1.8 2 .7 .4 .9-.3 1.7-1.5 .7-.2 .9 .5 1.8 2.1 .7 .4 .8-.3 1.7-1.7 .8-.2 .9 .5 1.6 2.1 .8 .4 .9-.4 1.7-1.8 .8-.3 .8 .5 1.5 1.9 .7 .4 .8 0 1.6-1.5 .7-.3 .7 .5 1.3 1.7 .7 .3 .5-.5 .5-1.2 .8-4 1.6-11.9 1-10.8 .4-2.3 .3-.6 .3-.2 1.7 10.2 1 4.1 .9 1.3 1.6 .3 .7 .6 2.3 4.4 .7 .9 .4 .2 .5-.2 1.7-1.8 .5-.3 .4 0 .9 .9 1.7 3.1 .5 .4 .4 .2 .8-.5 1.6-2.2 .8-.2 .9 .8 1.7 3.1 .8 .6 .8-.5 1.7-2.5 .8-.2 .9 .8 1.6 3.1 .8 .7 .4-.1 .4-.4 1.8-2.7 .8-.3 .7 .7 1.8 3.3 .8 .6 .3-.1 .5-.5 1.8-3 .4-.3 .3-.1 .8 .7 1.8 3.2 .3 .4 .4 .1 .4-.3 .5-.7 1.5-3.6 .7-1.1 .8-.3 1.2 .4 .4 0 .5-.5 .5-1.4 .6-2.8 .7-5.3 1.9-20.9 .3-1.7 .4-.6 .6 1.6 1.6 15.4 1.1 5.8 .4 1.1 .5 .6 1.5 .1 .8 .7 2.2 6 .8 1.2 .4 0 .4-.3 1.8-3.2 .5-.5 .4 0 .7 .8 1.9 4.3 .5 .5 .3 0 .8-.9 1.7-3.5 .4-.4 .3-.1 .8 .9 1.8 4 .4 .6 .4 .1 .8-.9 1.7-3.9 .4-.4 .4-.1 .8 .8 1.7 4.1 .4 .5 .4 .2 .4-.2 .5-.8 1.6-3.9 .4-.6 .4-.2 .4 .2 .5 .7 1.7 4.2 .4 .5 .4 .1 .4-.3 .5-.8 1.7-4.4 .4-.5 .4-.1 .8 .8 1.6 3.8 .4 .5 .4 .1 .4-.3 .4-.9 1.7-5.2 .7-1.5 .4-.4 .3-.1 1.2 .8 .5 .1 .5-.6 .5-1.5 .5-3.4 .6-5.2 1.9-22.2 .2-2 .3-.8 .4 .8 .5 3.1 1.5 16.6 1 7.3 .4 1.2 .5 .7 .5 0 1.1-.7 .4 .1 .4 .5 .8 1.9 1.4 5 .8 1.5 .4 .2 .5-.5 1.7-4.2 .5-.7 .4-.2 .4 .3 .5 .9 1.8 5.1 .5 .6 .4 0 .8-1.2 1.5-4.2 .4-.6 .4-.2 .4 .2 .5 .9 1.7 4.8 .5 .7 .4 0 .7-1.1 1.7-4.6 .4-.6 .4-.2 .3 .3 .5 .8 1.8 4.9 .4 .5 .3 .2 .4-.3 .4-.7 1.8-5 .4-.6 .3-.2 .4 .3 .5 .8 1.8 4.9 .3 .5 .4 .2 .8-1.1 1.7-5.2 .4-.6 .4-.2 .4 .2 .5 .9 1.6 4.5 .4 .5 .4 .1 .4-.3 .5-1 1.5-5.4 .8-1.7 .4-.3 .4 .1 1.2 1.7 .5 .2 .5-.5 .5-1.7 1.1-9 1.6-26.3 .3-3.3 .3-1.3 .3 1 .3 3 1.7 27.6 1 8.1 .5 1.8 .4 .6 .5-.2 1.4-1.7 .4-.1 .4 .4 .6 1.5 1.7 5.6 .5 1 .3 .2 .4-.1 .4-.7 1.7-4.5 .4-.6 .3-.3 .4 .2 .4 .6 1.8 5.1 .4 .9 .4 .3 .4-.2 .4-.6 1.7-4.9 .4-.7 .4-.3 .4 .2 .4 .6 1.7 4.9 .8 1.1 .4-.1 .5-.7 1.6-4.7 .5-.9 .4-.3 .4 .2 .4 .5 1.7 4.9 .8 1 .4-.2 .4-.5 1.7-4.8 .5-.9 .4-.3 .4 .1 .4 .6 1.6 4.4 .8 1.1 .4 0 .4-.7 1.8-4.9 .5-.9 .4-.3 .3 .1 .5 .7 1.8 4.2 .5 .5 .3-.1 .8-1.5 1.6-5.3 .6-1.7 .4-.4 .4-.2 1.3 .7 .4 0 .4-.6 .4-1.1 1.1-7.1 1.6-17.4 .3-2.6 .4-.9 .3 .6 .4 2.7 1.8 22.3 .6 5 .6 3.2 .4 1.2 .5 .7 .5 0 1.1-.8 .4 0 .4 .3 .8 1.7 1.6 5.2 .5 .9 .4 .2 .7-.5 1.7-4 .4-.5 .4-.2 .4 .2 .4 .5 1.7 4.4 .5 .8 .4 .2 .4-.2 .3-.5 1.7-4 .5-.7 .4-.3 .3 .2 .4 .5 1.8 4.1 .8 .9 .3-.1 .4-.5 1.8-4.1 .5-.7 .3-.3 .4 .2 .4 .5 1.7 3.7 .4 .8 .4 .2 .4-.2 .4-.4 1.7-4.1 .5-.7 .4-.2 .4 .1 .4 .5 1.6 3.5 .8 .9 .4-.1 .5-.6 1.7-4.1 .5-.7 .4-.3 .4 .1 .5 .6 1.7 3.2 .5 .3 .4-.2 .8-1.3 1.5-4.4 .7-1.5 .7-.6 1.2 0 .4-.2 .5-.7 .4-1.1 1-6 1.6-14.7 .4-1.5 .3-.4 .4 .9 .2 1.8 1.9 20.2 .7 5.3 .5 3 .5 1.4 .5 .6 .5 .1 1.3-.5 .7 .4 .7 1.2 1.5 3.3 .8 1 .4 0 .5-.4 1.6-3.1 .8-.7 .4 0 .4 .3 1.7 3 .5 .5 .4 .1 .8-.5 1.7-3.3 .9-.9 .8 .4 1.6 2.6 .5 .5 .4 .1 .8-.6 1.7-3.3 .8-.7 .8 .2 1.7 2.5 .8 .5 .4-.1 .4-.5 1.8-3.2 .8-.7 .7 .2 1.7 2.1 .8 .6 .3-.1 .5-.5 1.9-3.2 .7-.8 .4 0 .5 .2 1.8 1.9 .4 .2 .4-.1 .8-1 2.2-4.3 .8-.7 1.6-.4 .9-1.3 1.1-4.3 1.5-9.9 .3 .1 .3 .6 .6 2.8 .9 10.1 1.6 12.5 .9 3.8 .5 1.1 .4 .5 .6-.2 1.4-1.8 .8-.5 .6 .3 1.6 1.4 .9 .1 .6-.5 1.5-1.8 .8-.5 .7 .2 1.8 1.9 .8 .4 .8-.4 1.8-2.1 .7-.5 .8 .1 1.8 1.7 .8 .4 .8-.4 1.6-2 .9-.6 .8 .1 1.7 1.6 .8 .3 .8-.3 1.7-2.1 .9-.5 .8 .1 1.6 1.4 .8 .3 .9-.4 1.7-2 .9-.6 .8 .1 1.8 1.2 .9 0 .7-.7 2.3-3 .7-.5 1.6-.4 .9-.9 .6-1.6 .6-2.1 1.5-7.6 .7-.9 .5 .5 .5 1.9 1.8 13.4 .8 5.2 1 3.4 .5 .8 .5 .4 .5-.1 1.3-1.1 .7-.3 1.8 .3 .8-.1 2-1.6 .8-.3 .8 .1 1.7 1.3 .9 .2 .8-.3 1.6-1.4 .9-.4 .8 .2 1.7 1 .8 .2 .7-.2 1.8-1.4 .9-.4 .7 .1 1.8 1 .7 .2 .8-.3 1.8-1.4 .8-.4 .8 .1 1.7 .9 .7 .2 .9-.3 1.7-1.4 .9-.5 .9 .1 1.7 .9 .9-.1 .8-.5 2.2-2.1 .8-.3 1.6-.2 .9-.7 .7-1.2 .6-1.5 1.2-4.9 .8-1.2 .5-.4 .3 .1 .2 .5 .6 2.1 1.4 10.7 .9 4.9 .8 3 1 1.7 2.2-.9 2.5-.2 3-2.1 .8 0 1.9 .8 .8 0 .8-.3 1.6-1.4 .8-.4 .9-.1 1.7 .7 .8 .1 .9-.4 2.3-1.8 .9 0 1.7 .6 .8 .1 .9-.4 1.2-1"/>
<path fill="none" stroke="#00f" stroke-opacity="0.42" stroke-width="4.4" stroke-linecap="round" d="M75.5 421.9h0m1.3-.2h0m.7-1.2h0m1 .3h0m.8-1.1h0m1.1 3.4h0m1.4-4.4h0m1.4-1.4h0m.8 .9h0m.8-1h0m.6-.8h0m1-.6h0m.3 1.2h0m.9-1.2h0m.6-3.1h0m1-6.4h0m.7 .5h0m.4 2.3h0m.3-3.3h0m.7 2.5h0m.3 2h0m.5-.3h0m.5-1.7h0m.7 1.9h0m1.3 4.3h0m.8-1.2h0m1.4-1.7h0m.7 1.3h0m1.6 .5h0m1.3 3.7h0m.6-1.9h0m.5-.8h0m.6 .9h0m1.5 4.3h0m1.1-3.3h0m.7-1.7h0m.1 4.3h0m.4-1.9h0m1.2 .4h0m.8 1.4h0m.5 2.4h0m.2-5.9h0m.4 2.6h0m1.1 2.7h0m.4-2.6h0m1.4-2.5h0m1.2 3.9h0m.4-.7h0m.9 0h0m1 1.9h0m.5-1.7h0m.4-.7h0m.9-1.4h0m.3 2.8h0m.7 0h0m.5 1.9h0m1.8-4.8h0m.6 3.8h0m1.4 .1h0m.4 1.1h0m.4-3h0m1 4.1h0m1.4-2.2h0m1 1.9h0m.9-2.4h0m1.1-.6h0m1.6-1h0m.7 1.2h0m1.1 2.7h0m.7-1.6h0m.4-.6h0m.8 2.1h0m1.4-1.9h0m.5-.9h0m.6 .2h0m.5-4.6h0m1.1 1.2h0m1.3 2.8h0m.8-3.6h0m.4 .9h0m.8-4.7h0m.8 1.6h0m1-8.5h0m1.7-2h0m2 7.2h0m.9 .3h0m.7-.4h0m.9 4.3h0m.6 .5h0m1.1-2.7h0m2.5 5h0m1.6-2.2h0m.5 1h0m.7 .7h0m.6-3.6h0m1.1 3.5h0m.7-1.8h0m.9-1.4h0m1.4 4.7h0m1 0h0m.6-1.4h0m.4 .2h0m.7-.4h0m.5-.5h0m1.1 .1h0m.6 1.1h0m.7-2.2h0m.8 2.3h0m.5 2.5h0m.2-3.1h0m.6 2.1h0m1.1-2.3h0m1.7 2.1h0m1.4 3h0m1.4-2.7h0m.7-.3h0m.9-.5h0m.1 .2h0m.7 .8h0m.3-1h0m.9 .9h0m1.5 .7h0m.9-.1h0m1 .5h0m.5 0h0m.6 .2h0m.8-.5h0m.3-.6h0m.3 .9h0m.5 1h0m1.4-.5h0m.9-2.8h0m.4 2.1h0m.8-.4h0m1.4 2.5h0m.7-6.4h0m.7 2h0m.6-1h0m.3 1.2h0m.3-1.6h0m.5 1.6h0m.7-1.9h0m.5 1.4h0m.8-1.8h0m1.3-3.5h0m.9-9.9h0m.3-1.9h0m1.2-3.6h0m.3-1h0m1.2 5.6h0m1 1.5h0m.7 .6h0m.5 3.2h0m.1-1h0m1.7 2.2h0m.3-2.4h0m1.2 1.5h0m.7 1.2h0m1 2.8h0m1.2 0h0m.6 0h0m1.1 .1h0m.3-.5h0m.6-1.3h0m.6 4.4h0m.8-.8h0m1.3-3.3h0m.9 3.4h0m.9-.6h0m.6 .2h0m1.7 1.1h0m1 .8h0m1.6-1.2h0m.6 .5h0m.5 2.7h0m1.2-.4h0m1.3 2.5h0m1.3-4.4h0m.9 2h0m.5-2.6h0m.6 4.7h0m.4-1h0m.9 2.6h0m1.1-5.3h0m.9 1.7h0m1.6 .9h0m.3-2h0m.8 .6h0m.5 2.1h0m.8-.1h0m.6 1.3h0m.5-1.5h0m.9-.9h0m.8-1.7h0m.8 2.4h0m.3-2.4h0m.9 1.4h0m.6-1.1h0m.5 2.8h0m1.3-.6h0m1.6-.2h0m1.8-4.1h0m.9-1.3h0m1.1-.7h0m.3 0h0m2.2-6.2h0m.7-5.2h0m.8-1.5h0m.8 1.2h0m.6 .5h0m.8 4.2h0m.6 3.7h0m1.6 5.4h0m1.7 1.2h0m.8-.7h0m2 4.1h0m.7-2.6h0m.3 2.2h0m.5-.8h0m1 3.3h0m1.1-2.8h0m.9-2.5h0m1 .9h0m.8 .7h0m.8 1.2h0m1.2 2.3h0m.5-2.8h0m.6-.6h0m.4-.5h0m.3 .5h0m.5-.7h0m1 3.3h0m.7-3.4h0m1.3 2h0m1.2 3.3h0m1.6-1.3h0m.7-3.5h0m.9 5.2h0m.4-2.1h0m.8-2.4h0m.8 2.8h0m.3 3.1h0m.9-1.9h0m.7 2.5h0m.7-4h0m.7 .9h0m1.5 .2h0m.8-1.8h0m1.4 1.8h0m.8 .8h0m1.3-2.6h0m1.2 1.4h0m.9-2.7h0m.3-.7h0m.9 2.3h0m.7-.3h0m.6 0h0m1 .4h0m.5 0h0m.8-1.3h0m.3 .8h0m1.1-4.1h0m1.4 .1h0m.7-1.3h0m.6-1.4h0m.8 1.9h0m1.1-8.1h0m.7-2.7h0m1-13.3h0m1-3.5h0m.5 1.1h0m.5-.8h0m1.1 9.4h0m1.4 9.1h0m.9 .1h0m.9 2.3h0m.9-.6h0m1 3.4h0m.7 .1h0m.8 .1h0m.7 1.7h0m.9 .4h0m.5-1.3h0m.5-.3h0m.8 .7h0m.4-1.6h0m1.2 3.3h0m.3-2.1h0m.7 1h0m.9 2.3h0m1-.4h0m1-3.3h0m.4 1h0m.5-1.2h0m.6-.4h0m.2-2h0m.7-.2h0m1.3 3.9h0m.7-.5h0m.8-1.9h0m.8 3.8h0m.4-2.7h0m1.3 1.3h0m1.3-2.5h0m.5 1.1h0m.5 .4h0m1.3 3.5h0m.8-2h0m.9 .8h0m1.2-2.5h0m1.5-2.1h0m1.2 2h0m.7 2.4h0m.7 2.7h0m.6-2.6h0m.4-.1h0m.4 2.4h0m1.2-5.1h0m1 .9h0m.8-.7h0m.5-.6h0m.5 .1h0m.7 .9h0m.3 2.6h0m1.1-2.9h0m.7 1h0m.4-.5h0m.4 .2h0m.5-.7h0m.6 0h0m.9-4.2h0m.7 3.9h0m1.1-3.4h0m.7 1.4h0m.7-6.9h0m.8-4.1h0m1.6-28h0m.9-6.1h0m1.4 20.9h0m.4 10.1h0m.5-.1h0m.7 10.7h0m.3 1h0m.4-.7h0m.9 .8h0m.6 3.8h0m.2-.7h0m.8-1.9h0m1.2 4h0m.5-.5h0m1 2.2h0m.8-.1h0m1.5 .3h0m1.1-1.4h0m.7-1.4h0m.5-.2h0m.7 3.7h0m.9 .2h0m.5-1.3h0m1.1 2.5h0m.3-.8h0m1-2.5h0m.6-.1h0m.6-.2h0m1.4-1.4h0m.8-1.1h0m.3 3.1h0m1.7-1.2h0m.7 .9h0m.4 1.2h0m.9 .7h0m.9-2.4h0m1.6-1.4h0m.6 4.6h0m1.2-.5h0m1-4.1h0m1.5-.2h0m.6 .7h0m.6 2.3h0m.3-4h0m1.5 1.5h0m.8 4.8h0m1.2-2h0m.4 1.1h0m.9-3.8h0m1.2-2.9h0m.5 2.9h0m.3 2.2h0m1.2 .2h0m1-.4h0m1 .5h0m1.3-2.9h0m.9-.3h0m.9-.9h0m.5 .2h0m.6-1.4h0m.7 .9h0m.7-.5h0m1.5-10.6h0m.5-1.3h0m.5-7.4h0m.9-2.1h0m1.1 3.6h0m.9 7.8h0m2.1 12.9h0m.6-1.6h0m.7 3.5h0m.9-.3h0m.5 2h0m1.5-3.5h0m1 6.2h0m.6-2.6h0m.8 1.8h0m.9 1.8h0m.8-2.9h0m.7-.1h0m1 .2h0m.6-.6h0m.7 1.1h0m1.5 .4h0m.8 .3h0m.5-2h0m.3 1.7h0m.5 .5h0m.5 .3h0m.7-2.7h0m1.9 .1h0m.6 1h0m1 1.1h0m.4-.6h0m.6-2.7h0m1.6-.4h0m.6-.9h0m.8 1h0m.8 2.7h0m1.1-1.1h0m.5 3h0m1.3 .1h0m.7-2.7h0m1-3.8h0m.7 3h0m.7 3.3h0m1.7 .5h0m.9-2.3h0m.6-.1h0m.9-1.2h0m.9-.7h0m1 .9h0m1.7-1.9h0m.6 2.8h0m.1 1.5h0m.2-.1h0m.2-.9h0m.8-3.5h0m.8 3.6h0m1.1-1.4h0m.9-1.9h0m.4 1.7h0m1.9-2.6h0m.8-.6h0m.5-3h0m.5-1.1h0m.2-1.1h0m1-4.9h0m1.3-3.2h0m1.2 6.1h0m.8 4.3h0m.5 3.1h0m.9 7.2h0m.7-.4h0m.9-2.8h0m1.6 2.6h0m.8-1.3h0m.7 4.7h0m.8-.3h0m.4-.1h0m.4 2h0m1.2-1.3h0m1.3-2.9h0m.6 .3h0m.8-.2h0m.7 3.1h0m.9-.2h0m.9-1h0m.3 0h0m.3 4.8h0m.8-2.9h0m2-2h0m.6-1.5h0m.6-2.4h0m.4 3.5h0m1.6 4.1h0m1.6-1h0m.3-2.2h0m.9-.6h0m2 .4h0m.7 .1h0m1.2-.1h0m.3-.6h0m.9 2h0m.6-1.7h0m1.1-2.4h0m.6-1h0m.2 1.2h0m.6-.2h0m1 4.1h0m.5-1.8h0m1-2h0m.6 .4h0m.9-2.1h0m.6 3h0m1-.2h0m.5 .2h0m.8 .8h0m.6-1.3h0m.8 2.7h0m.9-1.5h0m.6-.9h0m1-.3h0m.8-2.3h0m1.4-1.3h0m1.4 .4h0m.3-1.1h0m.5 1.8h0m.7-3.3h0m1.2-3.2h0m.2 1.5h0m.2-6.3h0m1-1.1h0m.3-1.4h0m.8 1.1h0m.2-2.8h0m.6 4.7h0m.7 2h0m.6 7.3h0m.5-1h0m1.7 5.7h0m.7-1h0m.8 .3h0m.9-1.3h0m.3 2.6h0m.6-1.4h0m1.4 .1h0m.8 .7h0m1.3-.3h0m1.9-.8h0m.5 4.3h0m.8-3.1h0m.6 .7h0m.5 .1h0m.4-.1h0m.7-1.2h0m.6 .4h0m.9 0h0m1.1 .7h0m1.2 1.4h0m1.2-1.7h0m.4-1.1h0m1.1 2.6h0m1.1 1h0m.8 .3h0m.3 .7h0m.4-1.5h0m.4 .5h0m.5-1.2h0m.6-2.9h0m1.5 2.6h0m.8-1.5h0m.4 1.7h0m.9 2.4h0m1-2h0m1.4-1.9h0m2-3.5h0m.1 .8h0m1.1 4.4h0m.7-5.3h0m.6 4.2h0m1.3 1h0m.4-3.8h0m1 2.7h0m.3-4.4h0m.4 1.5h0m.7 .2h0m.3 2.8h0m.8-2.7h0m.6 3.1h0m1.8-4.1h0m.8-.3h0m.3-.8h0m1.4-3h0m.3 1.7h0m.7 2.6h0m.7-2.6h0m.5 1.9h0m.7-5.1h0m.9-1.7h0m.3 2.6h0m.8-6.3h0m.2 3.9h0m.7-5.3h0m1.2 5.1h0m.6-.2h0m1 .7h0m.6 2.6h0m.9 4.1h0m1.1-.2h0m.7 0h0m1.4 3.8h0m.8-1.9h0m1.4 .3h0m1.2-.7h0m1.1 2.8h0m.3-2.5h0m1.2-.3h0m.8 1.9h0m1.1-2.2h0m1 3.5h0m.8-.5h0m1-3.7h0m.2-1.9h0m.6 5.2h0m.8-1.4h0m.7-.4h0m1.2 1h0m.5-1.1h0m.7-.1h0m.7 3.9h0m.7-4.5h0m1.1 2.9h0m1-3.7h0m.6 2.1h0m.6-1.3h0m1 1.6h0m.9-1.3h0m.7 2.9h0m.9-5.2h0m1 3.4h0m.9-1.5h0m.8 .3h0m.7 1h0m.9-2.1h0m.4-1.2h0m1.2 5.4h0m.2-2.5h0m1.1 .1h0m1 2.6h0m1-3.6h0m1.2 2.2h0m1.1 .3h0m1.4-3.5h0m1.3 5.5h0m.7-6.4h0m.9 4.2h0m.5-3.3h0m1.1 .1h0m1.1 1.2h0m.8-1.3h0m.5-5.5h0m.8 2.1h0m1 .3h0m.4-2.3h0m1 2.2h0m.8-4.5h0m.5-.1h0m.9 8.1h0m.4-1.8h0m.5 1.7h0m1 1.8h0m.3 1.3h0m1.3 2.4h0m1.2-.9h0m.5 .5h0m1 .5h0m1.1-.6h0m.9-1.2h0m1.1 1.2h0m.8-2.1h0m.7 .4h0m1.5 2h0m.5 .8h0m.9 2.3h0m.8-5.4h0m.4 1.2h0m1.5 1.3h0m.6-1.1h0m1-.7h0m.9 2.9h0m.6-2.8h0m.5 3.2h0m.8-1.1h0m1.4-2.3h0m1.1 1h0m1.5 .5h0m.5 .6h0m.3-1.2h0m.6 4.1h0m.4-1.7h0m.8-2.4h0m.7 .3h0m.3 .5h0"/>
<path fill="none" stroke="#00f" stroke-opacity="0.42" stroke-width="4.4" stroke-linecap="round" d="M75.9 419.8h0m.9 2.5h0m.9-.9h0m.8-2.5h0m.9 2.2h0m1.2-2.1h0m1.3 .7h0m1.4-.3h0m.9-2.8h0m.8-1.9h0m.4 4.7h0m1 .5h0m1-6.9h0m.3 1h0m.6-3.1h0m1-1.8h0m.7-1.6h0m.4-.5h0m.5 .6h0m.5 1.7h0m.2-1.6h0m.7 1.5h0m.4 1.7h0m.8 1.8h0m1.5-.6h0m.6 1.2h0m1.5-3h0m.5 5.1h0m1.5-.8h0m1.5 1.3h0m.6 .1h0m.4 1.1h0m.7 .8h0m1.5-1.9h0m1-2.4h0m.6 2.2h0m.3-.8h0m.8 .3h0m.7 4.8h0m.7-.1h0m.6-1.9h0m.2 1.8h0m.4-2.4h0m1.1-.1h0m.3-.1h0m1.5 .3h0m1.2 2h0m.6-.2h0m.7-1.2h0m1.1 1.3h0m.5 1h0m.7-1.3h0m.5 1.3h0m.3-1.5h0m.7 .1h0m1.2 .8h0m1.1 2.2h0m.8 1.2h0m1.3-3.7h0m.4-.4h0m.4 .4h0m.9 1.1h0m1.5-1h0m1.5-3.3h0m.2 5.7h0m1.6-2h0m1.1 2.6h0m1.1-3h0m1.1-.4h0m.5 1.1h0m.4 .1h0m1.3 .5h0m.9-.7h0m.4-2.8h0m.5 1.3h0m.6-2.1h0m1.4 .5h0m1.1 .8h0m.7-1.7h0m.8-1.6h0m.4 0h0m.7-4.2h0m1.7-6h0m1.4 .1h0m1.6 5.3h0m1 3.3h0m.8 .3h0m1-3.3h0m.7 3.5h0m.9-.1h0m2.9 1.7h0m1.1 .8h0m.8-.3h0m.4-4.3h0m1.3 1.1h0m.4 2h0m.8 0h0m.8 2.3h0m1.8-1.6h0m.6 2h0m.8-1.1h0m.3-2.9h0m.8 2.7h0m.5-2.5h0m.9 5.1h0m.6-2.7h0m.7 2.3h0m.8 1h0m.4-2.7h0m.3 .1h0m.5 1.8h0m1.2-4h0m1.7 4.6h0m2 1.5h0m1.3-1.2h0m.3-3h0m.7 1.1h0m.3 1.1h0m.6 1.6h0m.2-3.6h0m.9 0h0m1.9 5.6h0m.7-5h0m1 3.6h0m.7-.1h0m.6 1.8h0m.5-4.9h0m.2 .2h0m.5 2.7h0m1 1.3h0m1.3-2.1h0m.6 1.9h0m.3 .5h0m1.5-2.7h0m.6 .3h0m.7-1.8h0m.7 1h0m.6-1.3h0m.3 1h0m.5-1.7h0m.2-1.8h0m.9 5.1h0m.4-1.1h0m.8-4.8h0m1.2-2.5h0m.9-9.6h0m.9-3.7h0m.7-.7h0m.5-1.7h0m1 3.4h0m1.1 5.2h0m.6 1.7h0m.4-.7h0m.6 .9h0m1.3 .2h0m.5 .2h0m1.2 1.1h0m.5 2.6h0m1.1-2.3h0m1.1 7h0m1.2-3.5h0m.4-.9h0m.6 1.2h0m.4-3.4h0m.5 4.7h0m1.1-2.9h0m1.4 2.5h0m.6 2.3h0m1.1-2.7h0m.6 .9h0m1.4-5h0m1.5 5.8h0m1.2 3.2h0m.8-.6h0m.3-.2h0m1.1-3.4h0m1.4 .1h0m1.3-.5h0m1.1 4.7h0m.4-1.1h0m.6 2h0m.3 .2h0m1.6-3h0m.5-.5h0m.9 .6h0m1.4 1.9h0m.5 .1h0m.7-2.4h0m.5 .5h0m.9 .6h0m.4 2.6h0m.6-3.1h0m1.1-1.6h0m.5 .7h0m.9-1.8h0m.2 1.5h0m1.1-.1h0m.6 1.1h0m.5 1.9h0m2.5-1.3h0m1.3-2.6h0m.8 1h0m.9-2.2h0m1.1-2h0m1.4-3.1h0m1.1-2.3h0m.9-7.1h0m.7-3.4h0m.6 4.1h0m.6 .4h0m1.1 4.4h0m1.1 6.5h0m.8 1.8h0m1.8 .9h0m1.3 .8h0m1.4 1.3h0m.8 3h0m.2-2.4h0m1.1 1.2h0m.7-3.4h0m1.4 2.2h0m.7 .6h0m.8 3.1h0m.8-4.1h0m1 1.7h0m.9 0h0m.4-.1h0m.7-.3h0m.3 3.4h0m.3-1.4h0m.7-2.8h0m1 2.3h0m1.5-1h0m.8 .2h0m.8 2h0m1.8-.3h0m.9 .4h0m.5-1.7h0m.5 .8h0m.9-1.5h0m.5-1.2h0m.4 6.3h0m1.2 2.6h0m.4-5.1h0m1 .7h0m.5-.7h0m1.5-2.7h0m.9 .7h0m1.1 4.3h0m1.1-.9h0m1.1-2.7h0m1.5-2.5h0m.5 4h0m.8-4.6h0m.4 2.2h0m1.1 .5h0m.8 1.8h0m.7-2.4h0m.4 2.4h0m.7-.7h0m.8-2h0m.9-.4h0m1.2-4.9h0m.5 1.1h0m1-1.7h0m1.2-2.2h0m.5-2.3h0m1-9.6h0m.5-5.3h0m1.1-5.1h0m.4 2h0m1.1 5.7h0m.6 6.4h0m1.7 4.7h0m.8 2.6h0m.9 1.1h0m.9-4h0m.7 4.4h0m.7 .2h0m.9 .7h0m.6 1.5h0m1 .7h0m.5-1.9h0m.6-2h0m.7-.9h0m.4 2.7h0m1.2 .3h0m.7 1.8h0m.6-2.7h0m1 .9h0m1.1 .5h0m.6-1.4h0m.3 3h0m.6-1.2h0m.4-2.8h0m.4 .1h0m1-1.1h0m1 2.5h0m.6 .9h0m1.3 2.8h0m.4-1.7h0m.6-1.4h0m1.3-.4h0m1 .5h0m.6-2h0m.9 6h0m.9-1.7h0m.7-1.2h0m.8-.6h0m1.8-.6h0m1 0h0m1.1 .8h0m1.1 3.3h0m.7-1.1h0m.3 1.6h0m.4-5.2h0m.3 4.8h0m1.9-5.3h0m.4 .6h0m.8-.8h0m.6 .1h0m.4 .6h0m.6 1.7h0m.8 .1h0m.8 .4h0m.6 1.1h0m.4 .1h0m.5-4.3h0m.3 2.2h0m.7-4.1h0m1 2.1h0m.8-1.6h0m.9 1h0m1-6.1h0m.3-2.1h0m1.1-7.6h0m1.4-29.2h0m1.3 4.8h0m1 18.5h0m.5 5.2h0m.4 4.5h0m.6 7.5h0m.3 1h0m.4 2.5h0m1.1 .1h0m.4 1h0m.2-1.1h0m1.3 .7h0m.8-1h0m.8 3.5h0m.6 0h0m1 2.2h0m1.4-2.8h0m1.4 .9h0m.5-.7h0m.3 .6h0m1 2.3h0m.6-.5h0m.6 .3h0m1.1-2h0m.4-.2h0m.9 1.6h0m.5-.9h0m1-3h0m1 3h0m.8 .5h0m.9 2h0m1.2-1.4h0m.6-.9h0m.8 2.4h0m.6-6h0m1 2.5h0m1.6 .5h0m.4-.4h0m1.7 1.2h0m1.1-4.3h0m1 .6h0m.6 3h0m.5-2.6h0m1.1 4.1h0m.7 0h0m.8 1.4h0m1.4-.7h0m.8-3.4h0m.6 .4h0m1 1.7h0m.4 0h0m.6-.6h0m1 2h0m.9-.2h0m1.5-2.5h0m1.2-.1h0m.7-2.8h0m.7-1.6h0m.5 1.2h0m.7-.4h0m.7-.2h0m1-.2h0m1.4-8.2h0m.4-5.9h0m.5-2.6h0m.7-2.9h0m1.2-1.3h0m1.4 17.6h0m1.7 4h0m1-.9h0m.2 5.2h0m.9-.4h0m.8-.2h0m1.1 .2h0m1.2 2.5h0m.7 3.3h0m.9-4.7h0m.5 2.2h0m.9-1.4h0m.6-.8h0m1.2 .7h0m.8 .7h0m.5 2h0m1.5-.7h0m.7 1.5h0m.5-4.4h0m.2 3.8h0m.7-3h0m.7 4.2h0m.4-4.1h0m1.8 4.8h0m1.2-2.8h0m.5-.8h0m.5 1.8h0m.8-.8h0m1.4-3h0m.4-.1h0m1.1 2h0m.5-2h0m1.3 4.1h0m.4-.2h0m1.3-2.2h0m.9-.8h0m.8-.2h0m.7 .6h0m.9 3.1h0m1.4-1.9h0m1-2.1h0m.9 3h0m.6-2.1h0m1.3-1h0m1 .6h0m1.3 1.3h0m.5-.5h0m.1 1.6h0m.2 1.9h0m.3-3.7h0m.8 2.5h0m.7-3.6h0m1.2 .8h0m.9-2.8h0m.9-.9h0m1.4 .6h0m.8-3.4h0m.5 .8h0m.4-.2h0m.5-4.9h0m.8-1.4h0m1.5-2.6h0m.9 5.3h0m.9 6.5h0m.5 1.9h0m.8 1.6h0m1.2 0h0m.8 4.1h0m1.5 .9h0m.7 0h0m.6-1.5h0m.8 4.7h0m.4-1.9h0m.3-1.4h0m1.4 2.5h0m1.1-1.5h0m.7-2h0m1.1 2.5h0m.6 .6h0m.6-3.4h0m1 2.1h0m.2 3.5h0m.5-3.2h0m1.3-.8h0m1.4-1.8h0m.7 3.9h0m.5-3.4h0m1-.4h0m1.5 2.6h0m1.1 .1h0m.7 .2h0m1-1.6h0m1.6-.1h0m.5 1.1h0m1.2 2.3h0m.7-4h0m.6 2.6h0m.8-1.9h0m1.1-.3h0m.3 .2h0m.2-2.1h0m.7 2h0m1.2 .3h0m.3 1.2h0m1.2-.6h0m.4 2h0m1.1-1.5h0m.5-.8h0m.9 .2h0m.8 .7h0m.4-3.3h0m.9 .9h0m.9 .4h0m.6 1.4h0m.9 1h0m.7-4.3h0m1.2 .3h0m1.7-3.2h0m.6 1.8h0m.4 1.2h0m.8-.2h0m.5-2.4h0m1.1-6h0m.1 4h0m.4-7.1h0m.9-3.1h0m.2-.4h0m.8-1.8h0m.7 2.4h0m.2 7.3h0m.8 3.4h0m.8 1.1h0m.1 1h0m1.9 3.6h0m.6-2.9h0m.8 3.9h0m.9-.2h0m.3-3.6h0m.9 5.6h0m1.1-2.7h0m.9 3.3h0m1.8-.4h0m1.3-2.8h0m.5-1.1h0m.9 2.4h0m.4-.8h0m.6 .3h0m.3 3.2h0m.8-3.6h0m.7 1.6h0m1-2.7h0m1.3 4.5h0m1-3h0m1 1.5h0m.5-.1h0m1.2-1.5h0m.9-.3h0m.8-.5h0m.2 1.4h0m.5 .4h0m.4-2.2h0m.5 3.5h0m1.7-.7h0m.4-1.7h0m.9 1.1h0m.2-1.1h0m1.2 2.6h0m1-2.4h0m1.3-1.2h0m1.9 .5h0m.5 2.2h0m.8 2.6h0m.8-2.1h0m.9-1h0m.8 1.1h0m.7-4.6h0m.6 2.3h0m.3-.1h0m.6 .9h0m.7-1.8h0m.4-.1h0m.7-.8h0m.4 1h0m1.9-1.8h0m.9 .4h0m1.1-.8h0m.4-1.5h0m.4-.1h0m.6 2.5h0m.9-1.6h0m.4 .6h0m.6-3.3h0m1-2.8h0m.8 .3h0m.3-.2h0m.5-2.1h0m.9-2.5h0m.7 2.1h0m.5 .5h0m1.4 4.8h0m.2 .4h0m1.2 3.7h0m1.3-1.3h0m1.1 2.6h0m.6 .2h0m.8-2.3h0m1.3 .9h0m1.2 3.7h0m1.2 1.1h0m.7-1.5h0m.7 0h0m.8 .3h0m1.2-1.4h0m1.4-1.9h0m.7 2.7h0m.6-3.4h0m.2 1.4h0m.7-1.7h0m.8 .4h0m.7 .9h0m1.2 .3h0m.5 3h0m.7-.8h0m.7-.2h0m.8-1.4h0m1.3-.7h0m1-1h0m.3 .6h0m1 2.1h0m.7-2.6h0m.7 3.8h0m1-1.7h0m.8 1.6h0m1-4.2h0m.7 .5h0m.8 1.6h0m.7 1.1h0m1-2h0m.8 1h0m.7 .5h0m1.1 1.8h0m.3-3.8h0m1.1-.1h0m1.2 1.6h0m1.1-.3h0m1.4 2.8h0m1.6-2.2h0m.5-.7h0m1-1.1h0m.8-.2h0m.5-1.2h0m1.2-.1h0m.9 1.4h0m.9-2.1h0m.3-.4h0m.8-1.9h0m1-1h0m.5-1.1h0m1-1.3h0m.8 1.7h0m.5-3.1h0m.8 7.9h0m.5 1.8h0m.6 1.8h0m.8 1.6h0m.8-3.7h0m1.5 1.5h0m.6 4.4h0m1.1-.1h0m.5-1.1h0m1-1h0m1 2.9h0m1-5.1h0m1 5.5h0m.6-3.5h0m1.4 3.3h0m.6-4.2h0m.9 .9h0m.6-.5h0m.6 2.9h0m1.4-2h0m.6 1.2h0m1.3-4.8h0m.6 3.9h0m.7-.4h0m.4-.9h0m1 1.1h0m1.1-.9h0m1.8 2.3h0m.8-1.9h0m.5 4.3h0m.4-5.1h0m.7 2.8h0m.6-.5h0m.6 .1h0m.5 0h0m.4-1.7h0"/>
<path fill="none" stroke="#00f" stroke-opacity="0.42" stroke-width="4.4" stroke-linecap="round" d="M76.1 420.3h0m1.1-3.2h0m.6 2.9h0m.9-.3h0m.7-.5h0m1.7 1.5h0m1.3-1.9h0m1.1-1.7h0m.9 0h0m.6 .5h0m.6-.9h0m.9-2h0m1 .3h0m.4-1.5h0m.5-3.8h0m1-3.4h0m.6 2h0m.5-1.3h0m.5 1.7h0m.5-2.8h0m.2 3.5h0m.6 2.8h0m.7 .5h0m.6-1.4h0m1.5-.5h0m.9 2.7h0m1.1 .3h0m1 1.8h0m1.9-1h0m.8 .1h0m.5 .5h0m.6-1.5h0m.7 3.5h0m1.8-1.1h0m.7 .4h0m.3-2.5h0m.4 .8h0m1 2.4h0m.9-1h0m.4 .8h0m.4 1.6h0m.3 .3h0m.4-2.9h0m1.2 1.5h0m.8 .9h0m1.2 .4h0m.9 5.1h0m1-2h0m.7-.9h0m.9-4.5h0m.3 3.1h0m.7 1.3h0m.6 .3h0m.1-1.5h0m.7-2.7h0m1.5 4.9h0m1 0h0m.6-1.8h0m1.5 .4h0m.4-1h0m.2-.3h0m1 2h0m1.9-.2h0m1.1-.5h0m.8 .6h0m1.2 1.2h0m1-.9h0m1.2-.8h0m.8-.7h0m.5-2.9h0m.5 3.8h0m1.5-.8h0m.7-.4h0m.4 .9h0m.8-.3h0m.2-4.2h0m1.6 1.1h0m.9 1.5h0m.8-2.2h0m.9-4.2h0m.2-1.1h0m1.1-3.3h0m1.8-4.9h0m.9 .9h0m1.8 5.4h0m1 .4h0m.9 3.4h0m.9-.1h0m1.1-1.2h0m.8 1.5h0m2.5 1.5h0m1 1h0m.9-.3h0m.7 .8h0m1-.8h0m.6-4h0m.8 1.4h0m1.6 6.1h0m.9-2.4h0m.9 .4h0m.3-3.3h0m.3 5.9h0m1-3.9h0m.5 3.6h0m.7-2.4h0m.8 3.8h0m.9-2.1h0m.6-1.6h0m.3 1.3h0m.7-1.4h0m.1 2.4h0m2.3-2.7h0m1 2.7h0m1.9 2.3h0m.9-3.9h0m.3 1.5h0m.8-1.7h0m.4-.5h0m.4 2.3h0m.7-.1h0m.8-1.4h0m1.7 1.3h0m.9 1.1h0m.8-.6h0m.6 .3h0m.8 1.2h0m.3-1.6h0m.2 .4h0m.4-2.3h0m1.2 2.1h0m1.2 .9h0m.5-3.1h0m.4 2.2h0m1.4-1.4h0m.7 .3h0m.7 .1h0m.9 .5h0m.3 .8h0m.4-.7h0m.4-2.4h0m.6 1.4h0m.6-.3h0m.4-.6h0m1-5h0m1.2-2.6h0m.8-8.2h0m1-2.7h0m.4-4.7h0m.7 1.6h0m.9 4.9h0m1.2 5.3h0m.5-.5h0m.4 2.4h0m.9-4.1h0m.9 2.5h0m.9 .1h0m.8 4.7h0m.5-2.2h0m1.2 2.2h0m1.2 .1h0m1.2-2h0m.4 1.8h0m.5 .8h0m.6 .3h0m.4-1.8h0m1.3 4.2h0m1-2h0m.8 .5h0m1-1.5h0m.8 .6h0m1.2 3.7h0m1.8-1.9h0m1.1 .3h0m.6 5h0m1.2-3.1h0m.7-2.3h0m1.5 2.6h0m.6-3.4h0m1.3 3.1h0m.3 1.9h0m.7-1.2h0m.5 .6h0m1.2-2.9h0m.8-2h0m1 2.1h0m1.1 4.1h0m.6-3.9h0m.7 .9h0m.8 2.1h0m.7 .4h0m.1 .3h0m1-2.8h0m.9-1.2h0m.7-.3h0m.5 1.1h0m.6 1.6h0m.8-.9h0m.7 1.3h0m.6-.4h0m2.3-3.8h0m1.3-.7h0m.8-.2h0m1.4-2.4h0m.5 4.5h0m1.5-5.1h0m1.2-7.5h0m1-4.2h0m.4 1.6h0m.9 .4h0m.7 1.5h0m.9 5.6h0m.9 1.2h0m2.3 4.8h0m.3-.2h0m2.2 2.5h0m1.1 .8h0m.3 .5h0m.1-1.2h0m1.3-.1h0m.6 2.3h0m1.5-1.3h0m.8-.6h0m.7 2.7h0m.8 .3h0m1.5-1.9h0m.3 2.9h0m.6-1.7h0m.4 2.9h0m.4-5.6h0m.4 3h0m.5-4h0m1 1.7h0m1.6 1.1h0m1 1h0m1.3-2.9h0m1.1 4h0m1-.4h0m.3-.7h0m.6-.4h0m1.1 1.7h0m.3 1.2h0m.3-.6h0m1.2-1.7h0m.5 3.4h0m.9-.2h0m1.2-3.2h0m.9 .7h0m1.8-1.4h0m.7 3.1h0m.7-.2h0m1.5-1.4h0m1.3-.6h0m.2-1.8h0m.9 1.8h0m.2-.5h0m1.1 .5h0m1.1 2.9h0m.5-2h0m.5 .1h0m.5-2.5h0m.9-.9h0m.9-.6h0m1.2-1.6h0m.5 1.7h0m1.1-.4h0m1.1-7.5h0m.6-5.9h0m.8-7.1h0m.7-3.5h0m1.1-4.6h0m.2 .4h0m1.2 5.9h0m.9 11.1h0m1.4 6.7h0m.8-4.5h0m1 2.6h0m.8 .7h0m.7-.4h0m1.1 .9h0m.4 2.7h0m.7-.8h0m1.2 .1h0m.5 .3h0m.4 2.3h0m.6-4.8h0m1.1 .7h0m.5 1.1h0m.8 .7h0m.8 .7h0m1 .5h0m.8-3.6h0m.6 4.1h0m.4-3.4h0m.6 .3h0m.3 .3h0m.5 1h0m1-3h0m.9 1.3h0m.6 3.7h0m1.3-1.5h0m.5 1.2h0m.5 1.3h0m1.8-6.3h0m.7 .8h0m.5-1h0m1.1 4.2h0m.9 1.3h0m.4 .3h0m2-3.4h0m1.2-1.1h0m.6 1.6h0m1 2.7h0m1 1.4h0m.8 0h0m.3-4.7h0m.3 1.3h0m1 0h0m1.3-1.5h0m.4 1.9h0m1-1.4h0m.4-.3h0m.4 1.4h0m.6 0h0m.9 .1h0m.7 .5h0m.6-1.7h0m.3 .2h0m.6-.4h0m.5 1.7h0m.5-1.8h0m1-3.3h0m.9 1.3h0m.9-3.3h0m.8-2h0m.6-5.5h0m.9-5.7h0m1.4-23.1h0m1.5 5.3h0m.8 15h0m.6 4.3h0m.2 5.5h0m.7 5.1h0m.2 1.4h0m.9 3.3h0m.7-3.5h0m.3 1.5h0m.5 2.8h0m1.5-1.5h0m.4 2.6h0m.8-.1h0m.5-.6h0m1.2 1.7h0m1.3-2.2h0m1.3-.5h0m.5 2h0m.7 2.1h0m.9-2.6h0m.5 3.8h0m.6-1h0m1 .1h0m.8-2.3h0m.5 .9h0m.5 .1h0m.9-2.1h0m1.2 1.1h0m.7 .6h0m1.4 .2h0m.8-1.9h0m.5 3.7h0m.9-2.8h0m.6-2.5h0m1.1 1.7h0m1.5 2.2h0m.8 .7h0m1.3 .5h0m1.5-1.9h0m.4-1.4h0m.8-.1h0m.4 1.7h0m1.2-2.3h0m.5-2.5h0m1.3 6.1h0m.9-2.3h0m.8 .7h0m.8-.3h0m.9-2.6h0m.3 1h0m1.2 2h0m.6-.8h0m.8 3.4h0m1.6-4.3h0m1.2 3h0m.6-1.3h0m.9-1.9h0m.4-3.4h0m.5 1.6h0m.8-.7h0m1.3-3.1h0m1.2-8.3h0m.4-5.7h0m.6-4.2h0m.6-3h0m1.2 8.9h0m2.3 11.9h0m.8 6.6h0m.8-.3h0m.4 2.8h0m.7-1.6h0m.8 .4h0m1.7 5.5h0m.9-4.2h0m.7 4h0m.6-4h0m1.1 3.3h0m.5-1.6h0m.7-2.6h0m1 2.4h0m.7-1.1h0m1.2 1.8h0m1.1 2.5h0m.6 1.9h0m.3-3.1h0m.5-3.5h0m.4 1.5h0m.8-1.3h0m.6 1.1h0m1.8 1.2h0m1.2 1.6h0m.3-1.2h0m.5-1.6h0m.9 .1h0m1.4 .7h0m.3-1.3h0m1.1-.3h0m.6-.5h0m1.1-.2h0m1.1 2.1h0m.7-1.3h0m1.1 2.6h0m.6-2.2h0m1-1.4h0m.8 .4h0m1.5 .7h0m.6 3h0m.9-.8h0m1 .8h0m1.1-3.5h0m1.8 1.7h0m.5-3.8h0m.4 5h0m.1-1.4h0m.2 2.1h0m.4-3h0m.7 1.1h0m1 .2h0m.8-2.5h0m1 .8h0m1.5-2h0m.8-.5h0m.8-2.2h0m.5-4h0m.3-.8h0m.8-2.4h0m.6-1.5h0m1.4-1.9h0m1.3 6.4h0m.6 4.9h0m.9 8.1h0m.9-1.2h0m.6-1h0m.8 3.3h0m1.8-3.7h0m.4 5.4h0m1.1 .2h0m.5-1.9h0m.4 3.1h0m.7-1h0m.9-.5h0m1.2 .2h0m1-2.7h0m.7 3h0m.6-1h0m1 3.2h0m.6-3.5h0m.2 3.5h0m.7-2.5h0m1.8 2.5h0m1-2.2h0m.7 .2h0m.3-.4h0m1.2 2.4h0m1.3-2.5h0m1-1.2h0m.9-.7h0m1.6 .4h0m.9 .4h0m.5 .4h0m1.1 1.4h0m.8 .8h0m.4-.3h0m1.2-2.1h0m.9-.7h0m.2 .8h0m.4-2.9h0m.6 1.7h0m1.1 2.4h0m.8 .5h0m.7-2.4h0m.8-.1h0m.7-.5h0m.7 2.1h0m.6-.2h0m1.1-1.1h0m.4 2.8h0m.7-4.7h0m1 2.6h0m.4-2.3h0m1.2 2.3h0m.7-1.3h0m1 1h0m1.8-1h0m.4-1.8h0m.4-1h0m1-1.3h0m.4-2.3h0m1-.5h0m.2-.8h0m.9-5h0m.3-2.2h0m.4 .5h0m.7-.5h0m.6 .7h0m.6 5.9h0m.4 .3h0m.8 2.9h0m1.1 1.8h0m.9 3.9h0m1-2.1h0m.6 .8h0m.7 .6h0m.4 .8h0m1.6-.9h0m.5 2.3h0m.7-1.2h0m2.1 .5h0m1-.2h0m.8 .3h0m.6-.7h0m.8-.6h0m.2 1.7h0m.6-2.4h0m.6 4.1h0m.9 .1h0m1-2.1h0m1.3-.8h0m1.1-.1h0m.7-.3h0m.8 1.4h0m.8 2.5h0m1-1.2h0m.8 1.6h0m.3-2.7h0m.5-1.7h0m.4 .7h0m.5 .3h0m1.7-1.8h0m.2 .8h0m.9 5.8h0m.2-3.4h0m1.4-.3h0m.9-1.1h0m1.3 1.9h0m1.8 .3h0m.5-2.1h0m1-.7h0m.6 1.7h0m.9 .1h0m.9-1.3h0m.7-3.5h0m.7 1.2h0m.1 2.5h0m1-1.2h0m.4 .3h0m.4 2.3h0m.6-3.1h0m1 .8h0m1.6 1.9h0m.6-4h0m1.2-.4h0m.3-2.4h0m.5-.7h0m.6 1.6h0m.9 1.1h0m.7-5.8h0m.9 .8h0m.4-.6h0m.8-4.2h0m.2 .2h0m.6-1.3h0m1-1.4h0m.7 3.7h0m1.2 7.2h0m.6-.5h0m.2-.9h0m1.2 3.9h0m1.2 .7h0m1.6 .9h0m.3 1.3h0m.6-1.2h0m1.4 1.1h0m1.2 1.3h0m1.2-1.2h0m.9-3.1h0m.5 .5h0m1.1 1.9h0m.9-.6h0m1.5 .6h0m.7-1.1h0m.5-.9h0m.5 2.4h0m.8-2.1h0m.4-.2h0m.7 2.8h0m1.2-2.3h0m.6 .3h0m.7 2.7h0m.5-1.7h0m1 .5h0m1.3 1.9h0m.8-5.9h0m.7 6.8h0m.9-4.4h0m.9 1.6h0m.4-.6h0m1.2-4.6h0m.5 6.3h0m1.3 .9h0m.7-4.4h0m.6 1.5h0m.9 .2h0m.6 1.6h0m1.2-3.1h0m.5 2.4h0m1-1.5h0m.4-1h0m1.3-2h0m1.1 5.4h0m1-1.9h0m1.7-1.2h0m1.5-1.4h0m.4 .8h0m.8 1.5h0m.9 1h0m.9-4.1h0m.8 2.1h0m1.1-.1h0m.5-1.2h0m.4-4.6h0m.9-.5h0m1.1-1.1h0m.8-1.1h0m.4-.7h0m.9 2.5h0m.5 1.1h0m.7 3.4h0m.6 1.4h0m.8 .1h0m.7 3h0m.7 1.6h0m1.5 .6h0m.9 .4h0m.8-2h0m.9-.7h0m1.3-1h0m.8 2.5h0m.4-.5h0m1.3-2.4h0m.4 .4h0m1.4 5.3h0m.5-.7h0m1.3-.3h0m.4-3.8h0m.5 2.7h0m1.3 .4h0m.7-3.5h0m1.5 .4h0m.3 2.1h0m.8 0h0m.7 1.7h0m.8-2.8h0m1.3 4h0m1.9-4.3h0m.6-.1h0m.5 3.1h0m.1-.3h0m.9-3.1h0m.4 3.8h0m.6-3.6h0m.7 .9h0m.4 1.4h0"/>
<path fill="none" stroke="#00f" stroke-opacity="0.42" stroke-width="4.4" stroke-linecap="round" d="M76.2 419.6h0m1-1h0m1.3 1.7h0m.6 .1h0m.7-.8h0m2 .4h0m.8 1.5h0m1.2-3.1h0m.8-.4h0m.6 .1h0m.9-1h0m.5-1.5h0m.9 .6h0m.7-4.1h0m.9-2.2h0m.4-4.1h0m.6-2.2h0m.5 1.6h0m.6-.6h0m.4 4.4h0m.2 3.4h0m.5-2.4h0m1 2.7h0m1.2 .6h0m.7 2h0m.9-1.6h0m1.2 .7h0m1.7-.4h0m1.2 5h0m.8-1.4h0m.3-1.2h0m.7 .3h0m1.1-1.2h0m1.3-4.4h0m.8 6.2h0m.2 1.2h0m.5-3.5h0m1 3.1h0m.9-1.9h0m.3-.4h0m.4-.4h0m.5 5.4h0m1.1 0h0m.3-1.7h0m1.4-3.5h0m1.1 5.1h0m.4-1.4h0m1 2.5h0m.8 .2h0m.8-3.8h0m.3 3.1h0m.8-2h0m.5 .7h0m.4-1.7h0m.5 3.4h0m1.7-.3h0m.8-1.6h0m1-1.5h0m1 3.5h0m.4 1.1h0m.4-4.4h0m1.4 2.9h0m1.5-3.9h0m1 .4h0m.7 3.7h0m1.9-5.2h0m.6 4.2h0m1-3.4h0m.8 .9h0m.5 1.6h0m.7 2.7h0m1.4-3.8h0m.5 1.9h0m.5 .6h0m.7-3.7h0m.2-1.7h0m1.8 4h0m1.1-2h0m.5-5h0m.9 1.2h0m.3-2.1h0m1.1-3.8h0m1.6-3.8h0m2.2 3h0m.7 1.3h0m1.1 2.7h0m.7 2h0m.9 .6h0m1-2.9h0m2.4 6.5h0m1.7-2h0m.2-.4h0m1.1-2.6h0m.6 1h0m1 5.8h0m.6-3.6h0m1-.9h0m1.5 1.9h0m.8-1.7h0m.8-.5h0m.3 2.6h0m.6-3.1h0m.7 1.4h0m.8 4.3h0m.7-2.4h0m.9 1.5h0m.6-5.3h0m.6 3.4h0m.3 4h0m.6-3.9h0m.3-.9h0m2.3 2h0m1-4.7h0m1.7 4.2h0m1 2.2h0m.7-.6h0m.3 0h0m.5-.1h0m.4 .5h0m1-4.2h0m1.4 4.9h0m.9-3.3h0m.8 3.6h0m.7-3.4h0m.7 1.2h0m.8-1.3h0m.2 3.5h0m.2 1h0m.6-.7h0m1.3-.4h0m.9-4h0m.6 3.8h0m.6-1.5h0m1.1 0h0m.8 1.4h0m1.1-2.2h0m.5 2.7h0m.4-4.4h0m.2-1.5h0m.5 3h0m.6 .7h0m.6-.2h0m.8-1.7h0m.9-3.8h0m1.2-10.4h0m.5 1.3h0m1.1-5.1h0m.4-3.9h0m.9 6.2h0m1.1 4.8h0m.8-2.3h0m.6 2h0m.1 1.9h0m1.1 .4h0m.8-.9h0m1.1 2.2h0m.7-1.7h0m1 .8h0m1.3 1h0m.6 2.6h0m1.1-1.3h0m.3 1.6h0m.6 .6h0m.6-1h0m.8-3.6h0m1.1 1.9h0m.9 .3h0m.8 5.6h0m.8-3.1h0m.8 .6h0m1.5-.7h0m1.7 1.5h0m1 1.3h0m.6 .2h0m1.2-1.9h0m1.2 2.3h0m1.3 .6h0m.9-.5h0m.6-.4h0m.4-.7h0m.6 1.8h0m.9 2.2h0m1-3.1h0m.8 .9h0m1-2.7h0m1.1 5.1h0m.4-2.4h0m.7-1.6h0m.8 3.5h0m.7-3.5h0m.2 .4h0m1 3h0m1-3h0m.8 2.3h0m.2-.9h0m.6-1.8h0m1 .7h0m.5 2.3h0m1.1-1h0m1.9-2h0m1.4-1.5h0m.7-1.3h0m1.3-1h0m.6-.1h0m1.5-1.7h0m1.2-6.7h0m1.1-4.8h0m.8-.8h0m.6-.3h0m.6 5h0m.7 6h0m1.6 6.1h0m1.6-1.1h0m.5 1.8h0m2.4-1.9h0m.8 5.5h0m.2-.6h0m.2-1.4h0m1.3-.8h0m.8 2.8h0m1.3-1h0m.7-4.6h0m.8 4.4h0m1.1 .8h0m1.2-1.7h0m.4 1.4h0m.4 1.1h0m.4-3.4h0m.5 .4h0m.5 .5h0m.4 .8h0m.9-1.6h0m1.7 2.3h0m1.2 2h0m1.1-1.7h0m1.2-2h0m.9 2.2h0m.3-1.2h0m.6 1.2h0m1.1 .4h0m.4 2.8h0m.1-1.4h0m1.3-.9h0m.5-3.3h0m1 .9h0m1.3 1.4h0m.8-2.1h0m1.6 2.5h0m.8 3.7h0m1.3-4.3h0m1.1 .2h0m1.1-1.4h0m.2 1.2h0m.8-.9h0m.6 1.6h0m.8-1h0m1.1 .6h0m.4-.3h0m.8 4.9h0m.3-7h0m1.1-.7h0m1.3-3.5h0m.7 3.5h0m.7-5h0m.7 3.6h0m1.2-7.9h0m.6-1.5h0m.8-4.6h0m1.3-10.3h0m.6-1.3h0m.5-.6h0m.8 6.7h0m.8 8h0m1.5 3.9h0m1 2.8h0m1 1.5h0m.7-2.4h0m.7 1h0m1-1.7h0m.5 5.2h0m.9 .4h0m.9-1.2h0m.5-2.1h0m.3 2h0m.8-2.6h0m1.1 .6h0m.4 .4h0m.7 2.9h0m.8-3.8h0m1 1.6h0m.9 2.3h0m.7-2h0m.2-.9h0m.8 .3h0m.2 .5h0m.6-2.9h0m.9 3h0m.9 .9h0m.6 .6h0m1.4 1.3h0m.4-2.7h0m.6 .7h0m1.8 0h0m.6-1.9h0m.4 2.6h0m1.5-2.3h0m.7 3.2h0m.2 1.1h0m2-5.1h0m1.4 2.3h0m.4-.9h0m1.4-1.9h0m.8 3.8h0m.6 .7h0m.3 .8h0m.3-2.6h0m1.2-.5h0m1.2-.4h0m.6 .3h0m.8-1.6h0m.3 2.2h0m.8-.9h0m.3 3.5h0m1-.1h0m.6-.3h0m.5-1.3h0m.5-2.9h0m.5-2.1h0m.6-.7h0m.5 3.1h0m.9-.2h0m1-.7h0m.8-3.1h0m.9-6.7h0m.5 2.6h0m2-32.5h0m.4-3.7h0m1.6 16.3h0m.5 6h0m.7 9.9h0m.4 1.3h0m.5 4.1h0m.4-.5h0m1 4.3h0m.5-.4h0m.3 .1h0m.3 .1h0m1.6 .8h0m.5 1.4h0m.7-.4h0m.9 2.1h0m1.6 1.5h0m1.2-2.2h0m.7-.5h0m.4 3.1h0m.7-.5h0m.8 0h0m.6 2.1h0m.9 1.8h0m.6-3.9h0m.8-1.3h0m.6 .8h0m.7-.6h0m1.2-3.9h0m.9 2.8h0m.5 1.5h0m1.4 1h0m.8-.9h0m.6 3.5h0m.8-2.2h0m1-5.2h0m.7 2.2h0m1.5 2.1h0m1.1-2.1h0m1 1.2h0m1.5-2.4h0m.4 1.3h0m.8-2.1h0m.4 2.5h0m1.5 4.4h0m.5-1.7h0m1 1.1h0m.9-4.6h0m1 .7h0m.8 3.8h0m.6-3h0m.6 .8h0m.9 1.4h0m1.2 1h0m.2-.4h0m2.1-3.1h0m.7-2.7h0m.7 .6h0m.8-.9h0m.4 .2h0m.7 0h0m.9-1.4h0m1.5-3.7h0m.7-8.9h0m.4-1.2h0m.8-5.5h0m.7-3.4h0m1.3 11h0m2 14.6h0m.8 2.4h0m.7 .5h0m.8 .2h0m.7-3.8h0m1 6h0m1.1-3.3h0m.9 4.4h0m.8 1h0m.7 .4h0m1.1-.8h0m.3-1.8h0m1.4-1.3h0m.5 2.8h0m.8-2.5h0m.9 .1h0m1.4 4.4h0m.4-2.8h0m.3 1.2h0m.5-2.5h0m.4 0h0m.9 .6h0m1.8-2.3h0m.5 2.2h0m1.2 1.5h0m.3 .1h0m.7-.1h0m1-1.3h0m1-3.9h0m.4 4.8h0m1.4 2h0m1.1-2.6h0m.3 1.2h0m1.2-2h0m1-1.4h0m.8 3.1h0m.7-4.6h0m.8 .7h0m1.6 1.7h0m1 .5h0m.3 1.1h0m.9-1.4h0m1.2-2.4h0m1.1 0h0m1.7 .7h0m.4 3.5h0m.3-.7h0m.1-1.8h0m.2 4.1h0m.6-.2h0m.9-3h0m.6-.2h0m1.3-1.2h0m.6-.8h0m1.5-2.2h0m1.1 1.1h0m.6-2.1h0m.4-3.6h0m.4 2.8h0m.7-4h0m1.2-4.5h0m1.2 2.5h0m.9 5.2h0m.6 3.9h0m1 2.8h0m.8 0h0m.5 2.6h0m1.9 2.8h0m.8-2.8h0m.5 4.6h0m1-1.5h0m.5 2h0m.4-1.4h0m.8 1.2h0m1.5-3.3h0m.7-.5h0m.8 1.6h0m.8 .4h0m.5 1.6h0m1-.8h0m.6-.4h0m.2 .8h0m.7-1.4h0m1.8 2.4h0m.9-2.3h0m.7 3.4h0m.3-1.8h0m1.3 1.3h0m1.8 .1h0m.5-2.6h0m.8 1.9h0m2-1.7h0m.7 .8h0m.4-.5h0m1.2 1.8h0m.6-4.2h0m.4 3.4h0m1.6-1.5h0m.6-1.1h0m.1 .5h0m.5 2.6h0m.7-3.8h0m.9-1.6h0m1 3.9h0m.5-.1h0m.9-.1h0m.8 1.2h0m.6-.8h0m.7-4.1h0m1 .1h0m.6 1.9h0m.7-.4h0m.8 1.2h0m.4-1.5h0m1.1 .9h0m.9 .3h0m1.1-2.1h0m1.8-1.8h0m.2-.8h0m.6-3.1h0m.8 1h0m.5 .7h0m.9-3.4h0m.2-1.9h0m.9-4h0m.3 .3h0m.8-2.4h0m.3 1h0m.6 1.4h0m.6 3.7h0m.6 4.7h0m.5 .4h0m1.8 6.1h0m.5-1.2h0m.8 1.4h0m.7-.5h0m.7 0h0m.4 .6h0m1.5 1.7h0m.5-1.8h0m.6 2.5h0m2.8-.5h0m.4 .3h0m.8 .4h0m.8 1.6h0m.5-3.5h0m.4 3.7h0m.5-3h0m.8 1.6h0m.8 .1h0m.9-1.3h0m1.3-2.2h0m1.3 .4h0m.5 2.7h0m.9-1.7h0m.9 .4h0m1-.9h0m.5 4.1h0m.4-2.3h0m.4-.8h0m.5-1.3h0m.5 2.5h0m1.6-2.5h0m.5 4.2h0m.7-1.4h0m.7-.1h0m.9 .2h0m1.7-3h0m.9 3.1h0m1.3 .9h0m.9-7.6h0m.8 6.1h0m.4-.8h0m1.3-1.5h0m.5 .7h0m1.1-5h0m.3 2.2h0m.2-.4h0m.9 3.1h0m.4 .4h0m.6 .4h0m.5-.8h0m1.4-.8h0m1.2-6.8h0m.6 2.2h0m1.3 .3h0m.2 .2h0m.6-1.6h0m.8 3.8h0m.7-.4h0m.5-4.4h0m1-1.3h0m.3 0h0m.9-2.6h0m.1-3.6h0m.6-.2h0m1.1-1.2h0m.7 4.9h0m1.2 4.3h0m.5 1.7h0m.7 2.6h0m.9-.7h0m1.1 2.6h0m1.5 .4h0m.6-.2h0m1.4 .7h0m.7-1.1h0m1.6-.5h0m.4-.3h0m1.2 1.4h0m.5-4h0m1.5 3.4h0m.9 .7h0m.8-3.1h0m.7 1.4h0m.6 3.3h0m.5-2.9h0m.8-.7h0m.3 1.9h0m1-2.9h0m1 4.2h0m.9-.8h0m.6-1.7h0m.5-.5h0m1.3 2.2h0m.9-.6h0m.8-2.8h0m.5 2.2h0m1-1.9h0m.9 0h0m.4 1.2h0m1.3 .3h0m.8 0h0m1.1 .2h0m.5 .6h0m.9-1.4h0m.7 .2h0m.6 1.9h0m1.1-1.4h0m.4-.4h0m1.1 .5h0m.7-2.5h0m1.3 3h0m1-2.4h0m1 2.5h0m1.6-.5h0m1.3 .1h0m.5-.9h0m.8 2.7h0m.9-2.4h0m1 .2h0m.7-.2h0m1-5.6h0m.6 2.1h0m.4-.2h0m1.4-.9h0m.6-1.4h0m.9-2.4h0m.3 1.6h0m.9 1.8h0m1 4h0m.5-.2h0m.4-.1h0m.6 3.9h0m.7-2.2h0m1.1 4.1h0m1.3-4.5h0m.7 2.4h0m.9-.7h0m.9 .9h0m1.2-1.1h0m1 2.8h0m.5 0h0m1-1.3h0m.8 1.1h0m1.1-1.6h0m.6 1.4h0m1.2-.4h0m.4-1.4h0m.8 0h0m1-1.3h0m1.3 3.1h0m.9 .5h0m.7-.4h0m.5 1.8h0m.7-6.5h0m1 1.6h0m1.5 4.1h0m1.5-.8h0m.4 .6h0m.5-1.9h0m.2 .2h0m.8 4h0m.6-1.1h0m.4-2.7h0m.8 1.1h0m.3-3.7h0"/>
</g>
<g clip-path="url(#c5)">
<path fill="none" stroke="#f00" stroke-width="2.6" stroke-linejoin="round" d="M75.4 516l 42.9 .6 7.8-.1 4.7-.5 2.4 .6 1.7-.2 1-.7 .8-1.2 .9-3.7 1-7.3 1.3-14.3 .2-1.3 .3-.5 .4 .3 .6 1.4 3.2 11.3 .9 2.1 1 1.6 1.2 1.3 .9 .4 .9 .2 1.3 1.3 1.6 1 2 .9 2.4 .8 5.4 .9 7.8 .6 11.7 .3 17.3 .3 15.6-.1 12.1-.7 7.3-.9 3.8-1.8 2.8-2.1 2.2-2.7 1.5-3.3 1.1-3.7 1-4.9 2.5-21.4 .4-2.2 .3-.7 .5 .5 .6 2 3.1 17.6 1.1 4.5 1 3.3 1.4 3.1 1.6 2.5 2 1.9 2.3 1.5 4.5 1.8 3.5 .3 2.9 1.2 1-.1 1.8-.7 .9 0 .9 .2 1.6 1 .9 .2 .8-.2 1.6-1.1 .8-.2 .9 .4 1.7 1.3 .7 .2 .9-.3 1.7-1.5 .7-.2 .9 .4 1.7 1.5 .9 .3 .7-.4 1.7-1.5 .8-.3 .8 .4 1.8 1.6 .7 .2 .8-.4 1.8-1.6 .7-.2 .9 .3 1.8 1.6 .7 .2 .8-.4 1.7-1.6 .8-.3 .8 .3 1.7 1.6 .8 .3 .9-.4 1.7-1.7 .8-.3 .8 .3 1.7 1.6 .8 .2 .9-.4 1.7-1.8 .8-.3 .8 .3 1.6 1.5 .8 .2 .8-.4 1.9-2 .8-.3 .7 .2 1.7 1.4 .8 .1 .8-.5 1.7-2.1 .7-.6 .9 0 1.9 1.1 .8-.3 .8-.9 2.2-3.7 .8-.5 1.4-.4 .5-.3 .6-.7 .6-1.2 1.4-4.5 3.4-14.6 1.3-7.5 2.2-16.9 .7-3.3 .6-1 .3 .2 .3 .7 .6 3.1 2.4 17.6 1.1 6.9 3.6 15 1.3 4.2 .5 1.2 .7 .8 2 .7 .7 .6 2.2 3.6 .7 .9 .5 .3 .5 0 1.7-1.1 .9 0 .8 .6 1.7 2.2 .8 .5 .8-.2 1.6-1.3 .8-.3 .9 .3 1.7 2 .9 .4 .8-.2 1.6-1.5 .9-.3 .9 .4 1.7 1.8 .8 .3 .7-.2 1.7-1.6 .9-.3 .7 .3 1.7 1.6 .9 .5 .7-.2 1.8-1.6 .8-.4 .8 .3 1.7 1.6 .8 .4 .8-.2 1.7-1.6 .9-.3 .8 .3 1.6 1.5 .8 .4 .8-.2 1.8-1.6 .9-.4 .8 .3 1.5 1.4 .8 .4 .9-.1 1.8-1.7 .8-.3 .9 .3 1.7 1.5 .8 .2 .6-.2 1.7-1.3 .9-.4 .7 .2 1.7 1 .8 .3 .8-.2 1.8-1 .8-.2 .8 0 1.9 .7 .9 .1 3-1.2 3.5-.3 4.5-1.8 2.4-1.6 1.9-1.9 1.7-2.5 1.3-3.1 1.1-3.4 1-4.6 3.1-17.1 .5-2.1 .5-.6 .4 .6 .5 2.7 1.5 14.3 1 7 1 4.9 1 3.5 1.6 3.3 2.1 2.6 2.7 2 3.9 1.9 7 .9 11.7 .7 15.9 .1 17.4-.3 11.9-.3 7.8-.6 5.4-.9 2.6-.8 2-.9 1.5-1 1.3-1.3 1.8-.7 1.3-1.3 1.1-1.8 1-2.8 3-10.7 .5-1 .5-.3 .5 2.3 1.2 14.4 1 7 .6 2.5 .5 1.2 .8 1.1 .9 .6 1.7 .1 2.4-.6 5.1 .5 9.2 .1 57.3-.9"/>
<path fill="none" stroke="#00f" stroke-opacity="0.42" stroke-width="4.4" stroke-linecap="round" d="M75.4 516.5h0m.1 1.6h0m1.4-.6h0m.7-3.1h0m.4-2h0m1.7 3h0m.4 .5h0m.5-1.5h0m.7 1.6h0m1.1 2h0m.3-1.2h0m.6-4.5h0m2 2.5h0m.4 3h0m1 1h0m.3-5.2h0m.9 4.3h0m.3-1.6h0m1.6-.6h0m1 .2h0m.5 .8h0m1-2.6h0m.4 1.2h0m.8 3.1h0m.4-.2h0m.9-3.3h0m1.1-2.6h0m.8 2.8h0m1.1-3.4h0m.9 3.8h0m1 .7h0m.6 .6h0m.4-3.9h0m.7 4.1h0m.5-.7h0m.7 .1h0m.9 2.1h0m.3-4.2h0m.4 3.7h0m.7-1.9h0m.6 .7h0m1.2-1.7h0m.6 .2h0m2.6 .1h0m.6 .7h0m.9-2.2h0m.6 2.7h0m1.3 .3h0m.6-3.3h0m.6 3.8h0m1.5-1.6h0m.5-.4h0m.6 .2h0m.4 1.8h0m.5-1h0m.6-1.8h0m.5 .9h0m.6-.2h0m1 .4h0m1-2.8h0m.6 2.8h0m.6-4.8h0m.5 5.4h0m1.3-1.5h0m1.4-3.2h0m.6 1.7h0m1.2-1.8h0m.8 3.2h0m.3-.9h0m.8-1.3h0m1.1 .4h0m.6 1.2h0m1.1-3.9h0m.6 .5h0m1.3 .6h0m.5-1.5h0m.9-4.7h0m.5 2.1h0m1.3-5.2h0m.9-1.9h0m1.3-2.7h0m.6-.4h0m.6 1h0m.8 4.7h0m.4-2.6h0m1.1 5h0m.9-.2h0m.2 .7h0m.7 2.3h0m.5 .7h0m.3 2.3h0m1-.4h0m.4 1.5h0m.6-2.1h0m1.2-.5h0m.3-.9h0m1.1 1.4h0m.6 3.9h0m.8-1.3h0m.5 1.2h0m.1-1.1h0m.8-1.4h0m.4 .2h0m.2 .5h0m.9-.1h0m.7 1.5h0m.8-2.9h0m.8 .5h0m.4-.6h0m.9 1.9h0m.5-1.7h0m1.4 4.4h0m.6-2.2h0m1.5-.5h0m1.2-1.6h0m.7 2.1h0m.7-.9h0m1.2 .8h0m.7-.4h0m.3 .3h0m.9-.6h0m1.3-1.1h0m.8 1.9h0m1.8 .1h0m.7 .9h0m1.2-2.7h0m.5 .3h0m.8 1.7h0m.6 .7h0m.4-3.8h0m1.4 3h0m.5-1.4h0m.8 2.6h0m1.3 .2h0m.3-2.9h0m.4 4.9h0m.5-4.3h0m1 .6h0m.8-.6h0m1 2.5h0m.4-.8h0m.2 1.4h0m.5-1.9h0m.9-1.7h0m.5 .2h0m.4 .9h0m.4 2.1h0m.7-2.1h0m.5-.1h0m1.7 1.4h0m2-.3h0m.9 1.7h0m.6-1.6h0m.6 .6h0m.8-.1h0m.5 2.9h0m1.7-2.9h0m.7-.3h0m.6-2h0m1 2.9h0m.6 .8h0m.9-2h0m1.6 1.2h0m1.8-3.1h0m.3-1.3h0m.4 3.6h0m1.3-.8h0m2.4 1.1h0m.7 .9h0m1.3-.7h0m.4-.8h0m1.3 0h0m.4 1.7h0m.5-4.7h0m.6 2.3h0m1.1-1.5h0m2.3 4.2h0m.3-5h0m.9 2.5h0m.5-1.4h0m.7 1.1h0m.8-.9h0m.4-.3h0m.5 .8h0m.7 1.3h0m1.1-1.1h0m.9-2.1h0m.6 1.7h0m.9 .3h0m.5-.7h0m.7-1.4h0m.4 2.7h0m.6-.9h0m.8 1.3h0m1.2-2.8h0m.6 2.8h0m.7-.6h0m1.4-3h0m.4-.4h0m.3 1.9h0m1.3 .1h0m1-2.9h0m.3 3.5h0m.6 1.5h0m.6-8.1h0m.8 4.7h0m.5-1.1h0m.5 .6h0m.6-4.4h0m.9 4.5h0m.7-1.2h0m.8-1.9h0m.7-2.2h0m.5-.2h0m.4 .4h0m.5-4.4h0m.7-3h0m.2 4.3h0m.4-2.7h0m.4-2.1h0m1.1-6.1h0m.9-3.7h0m.6-.4h0m1.2-5.2h0m.3 .1h0m1 1.9h0m.5 5.4h0m.9-.2h0m.5 .7h0m.4 1.6h0m.7 5.1h0m.8 1.7h0m1.1 .8h0m.7 3.7h0m.5-4h0m1.3 5.5h0m.5-.5h0m.6 3.2h0m.8-1.3h0m.9 .5h0m1 2h0m1.5-1.7h0m1.1 3h0m1.2-.3h0m1.3 1.7h0m2.2-.9h0m1.1-.8h0m.8 3.6h0m.5-3.4h0m.6-.1h0m.5 0h0m.4 1.1h0m.3-.5h0m.6-.7h0m1 1.2h0m1.4 1.1h0m.4-1.2h0m.6 0h0m.9 0h0m.9 .1h0m.4-1.1h0m1.4 .4h0m.5-.6h0m.8-.7h0m.8 1.6h0m1.4-1.4h0m.5 3h0m.6-1.3h0m.5 1.1h0m1.4 .8h0m1.3-2.2h0m.8 1.1h0m.6-1.1h0m.9-.6h0m1 2.3h0m1.1-1.4h0m.7-.6h0m.3 .5h0m1.9-.3h0m.8 1.5h0m.7 1.1h0m.7-3.5h0m1.7 .4h0m1-.4h0m1.2 3.9h0m.8-.5h0m.2-4.1h0m.6 5.5h0m.3-3.4h0m.7 2.7h0m.7-1.5h0m.3 2.3h0m.7-3.5h0m.6-.1h0m.8 .2h0m.2 1h0m.9-4.9h0m.9 5h0m1.1 .2h0m.4 1.5h0m.7-4.8h0m.7 1.6h0m1.1 .5h0m.6 2.4h0m1.1-2.7h0m.6 1.7h0m1 .3h0m.6 0h0m.5-1.6h0m1 .4h0m.8-2.4h0m.8 1.3h0m1.4 2.2h0m1.2-.5h0m.8-1.8h0m.8 3h0m.5-2.2h0m.6-1.5h0m.8 3.5h0m.8-2.5h0m.5 1.3h0m.7-.9h0m.8 1.5h0m1.8-3.6h0m.8 2.9h0m.7-3.3h0m.7 4.2h0m.8-2h0m2.8-.9h0m.6-.1h0m1.2-1.7h0m.8 3.7h0m.5-2.9h0m.6-1.8h0m1.3-3.2h0m1.2-1.2h0m.5 .2h0m.9 2h0m.4-5.3h0m.5-.1h0m1 2.4h0m.9-6.5h0m.4 .6h0m1.1-4.3h0m.5-2.2h0m.4-1.7h0m.6-.4h0m.4-1h0m.5-3.4h0m.5-6.8h0m1.1-4.4h0m.4-1.3h0m.7-6.2h0m1.4-8.7h0m.6-4.2h0m.9 .9h0m1.1 4.6h0m.5 1.6h0m1.3 9.1h0m2.1 13.8h0m.8 3.2h0m.5 3h0m1.2 4.2h0m.8 2.7h0m.2 0h0m1 4.9h0m.9-.9h0m.7 2.7h0m1.4 2.8h0m1.1 2.8h0m.6-3.2h0m1 3.2h0m.5-1.7h0m.4 3.3h0m.5-1.8h0m.7-1.7h0m.3 2.9h0m.9 2.4h0m.7-3.7h0m.8 1.5h0m.8-2.9h0m1 4.3h0m1 2h0m1-1.7h0m.5-1.7h0m.6 2.6h0m.6-1.1h0m.5-.7h0m.2 1.9h0m.4-2.5h0m.9 .2h0m.4 2.5h0m.4-1.4h0m.2 .1h0m.7 2.4h0m.4-1h0m.9 .4h0m1-.6h0m.7-.4h0m.4 2.2h0m.9-.5h0m1 .7h0m1.4-.9h0m1.2-1h0m.5-.2h0m2 1.5h0m.5 .1h0m.8 1.1h0m1 .8h0m.6-3.7h0m1 1.7h0m.7 3.7h0m.6-5.7h0m.7 .1h0m1.2 2h0m.3-1.3h0m1.3 1.3h0m.2-1.6h0m.3 2h0m1-1h0m.8-.9h0m.8 .7h0m1.2 1.5h0m1.5-.4h0m1.9-.8h0m.8-2.7h0m1 5.3h0m.2-4.9h0m.8 .3h0m.9 .8h0m.7-1.5h0m.6 6.1h0m1-4h0m.6 .7h0m.4-4.3h0m.2 4.8h0m.8-.9h0m.5-.7h0m.5 1.6h0m.2-4.9h0m.8 .9h0m.2 2h0m.6-.6h0m.7 .2h0m1.4-.2h0m.9 .7h0m1-3.2h0m1 .3h0m.3 4.4h0m1.7-1.8h0m1.2 1.3h0m.7-2.5h0m.5 4.6h0m.7-4.3h0m.5 .7h0m.6 .1h0m1.2 .9h0m.4-.4h0m.6-.2h0m.5 0h0m.7 2.8h0m.7 1.4h0m1.3 .2h0m.5-2.5h0m1.1-.4h0m1.3-1.7h0m.4-1.2h0m.5 4h0m1.6-3.2h0m.7 1.4h0m.8 1.4h0m.8-2.4h0m.8 .8h0m1.6-2.4h0m.8-3.7h0m.8 4.2h0m.6-1.3h0m.8-.8h0m.5 3.3h0m.8-6.6h0m.7 1.5h0m.8 .9h0m.5-3.6h0m.4-.8h0m1.8-2.5h0m.4 0h0m.7-.6h0m.3-3.5h0m1.3-3.6h0m1-3.3h0m.5-1.5h0m1-4.3h0m.8-.7h0m1.1 6.4h0m1.1 5.1h0m1.4 3.2h0m.4 2.6h0m.7 2.5h0m.6 3.8h0m.7-.9h0m1.7-.5h0m.5 5.6h0m.6 .1h0m.6 1.5h0m.2-3.5h0m.3 1.9h0m.6-.9h0m.5 1.1h0m1.2-1.7h0m1 1.9h0m.9-.8h0m.2 2.8h0m.5 .3h0m1.3 .4h0m.3-4h0m.8 .7h0m.7 2.6h0m.4 .8h0m.2-3.1h0m.5 1.5h0m1.1 .3h0m.7 2.2h0m.6-2.6h0m.8 3.3h0m.6-2.5h0m1.2 3.8h0m.4-2.7h0m.8 .4h0m.4-.8h0m.9-.8h0m1.4-1h0m1 .2h0m.4 .9h0m1.6 .3h0m.8 .8h0m.8 .1h0m.9-1h0m.5 .9h0m.2 0h0m.5-3.7h0m1.3 4.4h0m.5-1.6h0m.5 3.2h0m.9-1.7h0m1.2-1.2h0m.2-3.2h0m1 4.3h0m1-2.5h0m.8-1.1h0m.5 2.1h0m.5 2.8h0m.6-1.1h0m.1 2.5h0m1-.2h0m.8 .5h0m.7-2.4h0m.5-1.1h0m.8 3.8h0m.3-1.3h0m.4-1.2h0m1-.3h0m.4 1.5h0m2.3-1.9h0m.4-.9h0m.7 3.9h0m.4-4.1h0m.9 4.4h0m.5-2h0m1.4-1.4h0m1.2 1.4h0m.7 .9h0m.7-2.2h0m1-.2h0m.2-2.3h0m.6 2.3h0m.6 .6h0m.6-.5h0m.6-.8h0m.7 1.8h0m.5-1.4h0m.4 1.8h0m1.1 1.5h0m.2-4.4h0m1 1.5h0m.3-5.5h0m.6 5.2h0m.4 1.8h0m.7-1.8h0m.3 5h0m.8-3.1h0m.9-3.4h0m.6-.2h0m.3-.4h0m.8 1.7h0m.4 .7h0m1.4 1.4h0m.8-.4h0m.5-2.4h0m1.1 2.1h0m.5 .4h0m2.9-5.5h0m.8 5.6h0m.2 .6h0m.4-2.3h0m.5 1.4h0m.6-3.3h0m1 .2h0m1.2 5.1h0m1.6-2.9h0m.6 .4h0m.3-.2h0m.4 1.1h0m.4-1.2h0m.6 1.1h0m.2-.5h0m.3-1.5h0m.8 1.2h0m.3-1.1h0m.6 2.4h0m.9 0h0m1-3.2h0m.7 5.7h0m.4-5.1h0m.5 .4h0m.6 3.6h0m.5-5.4h0m.3 1.7h0m.5-.1h0m1.6-2.1h0m.5 1.6h0m.2 .1h0m.1 2.3h0m1.4-4.3h0m.5 1.3h0m.4-2.1h0m.3-1.4h0m.4 .6h0m1.1 2.4h0m.7-3.6h0m1.2-2.8h0m.9-.8h0m1.3-2.2h0m.7-3.2h0m1.2-1.2h0m.7-3.1h0m1.2-.2h0m1 5.8h0m.6 .6h0m.6-.3h0m1.4 4.4h0m.4 2.3h0m.6 1.2h0m.9 1.7h0m.8 .1h0m.4-1.3h0m1.1-.2h0m.7 2.9h0m.3 .5h0m1.5 .6h0m.4 .3h0m.9 2h0m.6-3.3h0m.5 3.7h0m.8-1.3h0m1.4-1.2h0m.5 1.3h0m.8-1h0m.6 .4h0m.3 .6h0m1.8-1.2h0m1 2.6h0m.8 .6h0m.4-.4h0m.9-1.5h0m1.3 1.7h0m1-.1h0m1.1-2.6h0m.5 1.6h0m.8-3.2h0m1.1 3.2h0m.6-1.1h0m.2-.5h0m.4-2.4h0m.8 1h0m.4 1.8h0m.4 1.1h0m.5-.1h0m1.6 1.5h0m1.1-3.1h0m.6 2.5h0m.4 .6h0m.2-3.3h0m.7 2.1h0m.3-.2h0m1.1 2.8h0m1.7-1.5h0m.2-3.8h0m.4 1.3h0m.7 .7h0m.7 2.1h0m1-3.8h0m.9 1.4h0m.5 1.3h0m1-.3h0m1 .2h0m.7 1.5h0m.7 .6h0m.4-1.9h0m.4-.9h0m.3-1.1h0m1.2 2.5h0m.4-1.3h0m1.6 3.6h0m1.1-3.6h0m.3 1.8h0m.8 2h0m.7-1.7h0m.3-2.2h0m1.4 .2h0m.8 1.1h0m1.2-.8h0m.8 0h0m.9 2.2h0m.4-2.5h0m1.9-1.5h0m.6 1.3h0m.8-1h0m.9 3.7h0m.5-1.1h0m.2-.2h0m.5 2.3h0m1.1-2.5h0m.2 .3h0m.8-.2h0m.5-1.6h0m1 1.4h0m.6 1.5h0m1 .4h0m.9-1.5h0m.1-.4h0m.8 3h0m.9-3h0m.5-1.9h0m.5-1.1h0m.8 2.9h0m1.7-1.6h0m.2 .4h0m1.7-.9h0m1.3-1.5h0m.3 .9h0"/>
<path fill="none" stroke="#00f" stroke-opacity="0.42" stroke-width="4.4" stroke-linecap="round" d="M75.4 515h0m.6-1.2h0m1.1 .5h0m.8 2.4h0m.8 .2h0m1.1-1.8h0m.3 .3h0m1 1.1h0m.5-1.7h0m.8 .7h0m.7 3.7h0m.2-1.1h0m2-3.2h0m1.3 1.8h0m.2-1.1h0m.3 .5h0m1-2.1h0m.3 1h0m1.5 1.5h0m.9-.5h0m.6-.4h0m1.1-1.2h0m.7 1.8h0m.3-3.1h0m.4 1.1h0m1.3 1.3h0m.8 2.3h0m.7-2h0m1.7-1.8h0m.7 2.1h0m.7-1.2h0m.5-.2h0m.5-.9h0m.7 .3h0m.8-.7h0m.5 1.5h0m.8 .6h0m.3-.8h0m.6-1.7h0m.5-1.6h0m.8 2.8h0m1.1 1.8h0m1.4-1h0m1.7-.2h0m.6 .1h0m1.2 .6h0m.2 .7h0m1.6-3.4h0m.4 1.1h0m1.2 2.9h0m1 1.5h0m.6-2.7h0m.3 0h0m.5-1.4h0m.5 .2h0m.7 1.7h0m.3 3.1h0m.8-3.1h0m1.2-1.3h0m.7 3.3h0m.7-4.6h0m.5-.9h0m.6 2.5h0m1.5-.9h0m1.1 3.3h0m.9-2.5h0m1.1-.3h0m.5-.6h0m.6 1.3h0m.6-6.3h0m1 3.7h0m1.1-.9h0m.7 .9h0m.6 3.3h0m1.6-6.7h0m.6-.8h0m.5 .8h0m1.1-1.6h0m.9-4.7h0m.7-2h0m1.3-7.8h0m.7 2.8h0m.5 1.6h0m.8 2.4h0m1 .7h0m.4 2.2h0m.9-.3h0m.5 2.3h0m.5 1.4h0m.4 .9h0m.6 .7h0m.9 1.5h0m.4-.7h0m1.4 2.6h0m.3-3.8h0m.3 5h0m1.1-3.3h0m.5-.9h0m1 2.1h0m.4 2.7h0m.2-1.8h0m.6 .1h0m.5-.8h0m.2 4.4h0m.9-5.6h0m1.1 1.9h0m.5 .3h0m.8-.2h0m.5-2.3h0m.8 1.5h0m.5 5.4h0m1.2-1.9h0m.6-2.9h0m1.5 0h0m1.7 2.1h0m.5 1.2h0m.6-4.3h0m1.3 6.8h0m.5-3.7h0m.4-3.9h0m1.1 6.1h0m1-3.5h0m1-.5h0m1.5 .7h0m1-.4h0m.9 .4h0m.6 2.1h0m.9 .4h0m.7-2.4h0m.7-1h0m.9-1.3h0m.9 .5h0m.4 1.4h0m1.2 2.2h0m.4-4.6h0m.7 4h0m.4-4h0m.8 1.8h0m1 4.7h0m.7-1.2h0m.4-4h0m.3 3.1h0m.5-1.5h0m.9-.5h0m.5 2.3h0m.5-4.4h0m.3 4.3h0m.8-1.4h0m.7 1h0m1.6-1.2h0m2 .8h0m.8 3.8h0m.4-4.5h0m1.2 .1h0m.3 4.6h0m.8-3.7h0m1.7 3.7h0m.5-2.3h0m.8-1.7h0m.7 5.3h0m1.3-2.5h0m1-4.5h0m.8 .7h0m1.9 5.6h0m.1-2.4h0m.8 1.5h0m.9-5.1h0m2.5 .4h0m.8-1.4h0m1.1 3.2h0m.6-.4h0m1.4-.8h0m.1-.1h0m.7-1.1h0m.6 0h0m1.2 2.3h0m2.1 1.1h0m.3-1.3h0m.9-.2h0m.6 1h0m.8-.3h0m.5-1.9h0m.5 1h0m.6 1.8h0m.5-2.1h0m1.3 1.1h0m.8-.9h0m.7 1.7h0m.8-2.4h0m.6-.3h0m.5-.8h0m.5-1.1h0m.6-1h0m.8 4.6h0m1.3-2.6h0m.7-.5h0m.5 .9h0m1.3-1.6h0m.5-1.4h0m.3 1.8h0m1.5-.6h0m.7 1.3h0m.4 0h0m.6-1.5h0m.7-1.7h0m.8 2.6h0m.6-2.7h0m.3 1.7h0m.6-1.5h0m1.1-4h0m.7 3h0m.8 1.9h0m.8-3.4h0m.3-2.4h0m.2 1.6h0m.7-3.5h0m.5 1.1h0m.4 0h0m.2-3.6h0m1.2-6.9h0m.4 .5h0m.9-4.4h0m.6-4.7h0m1.2-1.5h0m.3-.1h0m1.1 1.8h0m.4 .4h0m.8 5h0m.5 3.9h0m.5-.6h0m1 3.3h0m.9-.4h0m.7 4.9h0m.7-.5h0m1 3.9h0m.9-.1h0m.5-2.3h0m.5 1.8h0m.8 3.3h0m.9-1.1h0m1.3 2.7h0m1.2-.9h0m1.6-1.7h0m.7 2.3h0m1.5 1.1h0m2 2.9h0m1.5-2.3h0m.5-.5h0m.4-.2h0m.6 1.6h0m.6 1.7h0m.2-.6h0m.5-1.3h0m.6 .9h0m.9-.5h0m1.6-.8h0m.1 .4h0m.7 1.1h0m.8-2.4h0m.9 1.4h0m.4 .9h0m1.5-1.1h0m.7-.8h0m.8 3.9h0m.7-2.8h0m1.3-3h0m.4 2.6h0m.7 .4h0m.9 3.1h0m1.3-5.2h0m.9 2.6h0m1.2-2.6h0m.3 1.2h0m.9 1.8h0m1.2-2.5h0m.8 2.3h0m.8-1.2h0m1.1 .6h0m1.1-1.2h0m.8 2h0m.6-.1h0m1.1-3.2h0m1.7 5.5h0m.9-4.6h0m1.1 3.3h0m.6-1.5h0m.2 0h0m.7-.8h0m.6 .6h0m.3 2h0m.7-1.4h0m.3-.1h0m.9-2.1h0m.6 3.7h0m.7-1.1h0m.2 1.2h0m.9-4.2h0m1.2-1.4h0m.8 3.5h0m.4-1.4h0m.6 .4h0m1.1 2.3h0m.7-.2h0m.8-1.6h0m1 .7h0m.5 .5h0m1.1 1.3h0m.7-2.3h0m.6 .5h0m1-.9h0m.8 2.7h0m1.4-1.6h0m.6-1.6h0m1.2 2.5h0m.7-3.8h0m.9 4.8h0m.5-4.7h0m.6 2.5h0m1-1.8h0m.5 1.8h0m.5 3.1h0m.9-2.9h0m1.4 .2h0m1.2-.9h0m.8-.9h0m.6-.4h0m.8 1.4h0m1-2.9h0m2.6 3.9h0m.9-2.1h0m.8-3.7h0m.8 2.2h0m.5-4.9h0m.7 4.8h0m1.3-2.5h0m1.1-2.7h0m.5 1h0m.8-1.9h0m.5-.3h0m.8-2.2h0m1 .9h0m.8-5.4h0m.4-2h0m.9 2.2h0m.5-4.5h0m.3-4.3h0m.6 1.3h0m.4-2.5h0m.5-3.3h0m.7-4.6h0m1-5.6h0m.6-3.9h0m.8-4.7h0m1.1-7.2h0m1-4.2h0m.5 .7h0m1.1 6h0m.6-.5h0m1.1 11.6h0m2.2 12.5h0m.8 4.7h0m.6 2.5h0m1.3 2.9h0m.5 5.9h0m.4-3.5h0m.9 3.3h0m1.1 2.6h0m.9 .4h0m1.3 3.8h0m.9-.7h0m.5 1.7h0m1.2 0h0m.2-.8h0m.4-.3h0m.6 3.2h0m.6-2.5h0m.3 .5h0m.9 4.6h0m.8-2.7h0m.8-2.8h0m.8 2.7h0m1.1 1.6h0m1 3.8h0m1.1-1.8h0m.3-1.6h0m.6-1.3h0m.6 1.8h0m.4-3.3h0m.4 4h0m.2-1.7h0m.9 .5h0m.4 1.9h0m.5-.1h0m.1-.3h0m.7-.4h0m.4 .8h0m1.3-1.6h0m.9 2.5h0m.4-.6h0m.7 2h0m.7-1h0m1.6-.7h0m.8 .1h0m1.2-3.4h0m1.1 3.4h0m1.3-1.7h0m1 4.3h0m.6-3.4h0m.7 .1h0m.6-.8h0m1.1 1.4h0m.7 1.8h0m.7-.6h0m.6-1.2h0m1.1 1h0m.7-.5h0m.9 1.8h0m.3 .1h0m.2-3.8h0m1.1 1h0m.7 1.6h0m1.6 .2h0m.5-1.6h0m1.5-1h0m1.8-1.7h0m1.4 1.3h0m.4 1.4h0m.4 .6h0m.9-1.1h0m.7 .1h0m.6-2.3h0m1.2 2.3h0m.4-.4h0m.8-3.5h0m.2 4.2h0m.5-2.1h0m.6 1h0m.5-.9h0m.4 .2h0m.4-.7h0m.6 .9h0m.5-1.6h0m.6-.6h0m.7 1.5h0m1.2-1.8h0m.9 0h0m1 .9h0m.9 4.8h0m.5-1.3h0m1.7-2.1h0m1 .9h0m.7-3.2h0m.6 4.8h0m.6 0h0m.6-2.5h0m.6 .2h0m1.1-1.4h0m.6 .5h0m.6 2.7h0m.4-.8h0m.6 1.3h0m.7 2.4h0m1.4-3.9h0m.7-1.5h0m1-1.2h0m1.3 1.3h0m.4-.8h0m.4 3.5h0m2 .4h0m.5-1.1h0m.7-2.4h0m.8-1.5h0m1-.6h0m1.3 2.3h0m.8-1.6h0m.8 .7h0m.7-3.2h0m.7 3.8h0m.5-3.9h0m.9 2.3h0m.5-3.5h0m.9 .7h0m.5-1.6h0m1.2-5h0m1 2h0m.4-2.9h0m.7-4h0m.6 3h0m1.2-3.7h0m.8-5.8h0m.5-3.3h0m.9-4.5h0m1 6.8h0m.9 2.8h0m1.4 4.2h0m1.1 3.6h0m.6 6.8h0m.6-1.8h0m.6 .1h0m1.3 5.8h0m1 1.3h0m.6-.2h0m.6-.4h0m.5 1.1h0m.4 .1h0m.3-1.4h0m.8 .1h0m.6-.2h0m.9 1.2h0m1.4 .2h0m.4 2.1h0m.2-1.1h0m.4 1.5h0m1.3-2.1h0m.6 4.2h0m.8-3.4h0m.6-1.1h0m.2 3.3h0m.3-.1h0m.9-.3h0m1.1 1.1h0m.5-.4h0m.6-.3h0m.6-.1h0m.5-2h0m1.3 4h0m.6-3.7h0m.5 1.6h0m.7-2.8h0m1.1 5.4h0m1.4-3.7h0m.5-.5h0m1.4 4.7h0m.6-4.1h0m1.2-1.9h0m1 1.9h0m.3 1.4h0m.5 2.9h0m.3-2.6h0m.7-3.6h0m1.1 3.4h0m.5-1.1h0m.4-.6h0m1.2 1.8h0m.9-2.3h0m.3 2.2h0m1.7-1.5h0m.2 3h0m1.1-3.3h0m.4 2h0m.3 0h0m.6 2.3h0m.7-5.3h0m.5 3.7h0m.8-2h0m.6 3.4h0m.7-1.3h0m.7 3.7h0m.2-4.3h0m.5-1h0m1 4.2h0m1-4.5h0m1.8 2.7h0m.7 .2h0m.3-2.2h0m.9 1.8h0m.3-3.3h0m.6 2.1h0m1.8 1.8h0m.7 3.2h0m1-2.5h0m.4-.5h0m1-3.3h0m.4 3.1h0m.7 .8h0m.4-2.2h0m.5 .1h0m.8 1.7h0m.6-2.2h0m.5 .7h0m.9 .2h0m.5-2.3h0m.2 2.9h0m1.1 1.5h0m.4-1h0m.7-3.3h0m.2 .8h0m.6-.8h0m.7 3.3h0m.4-4.3h0m1.2 1.8h0m.3 .9h0m.4 1.9h0m.8-4.4h0m1 2.2h0m1.1 .1h0m.5-.3h0m.6-2.6h0m1-1h0m.5 4.1h0m2.8-.1h0m.9 2.1h0m.3-.9h0m.3-1.5h0m.4 1.1h0m.8-1.3h0m.9-.7h0m2 .3h0m.9 1.7h0m.5-1.8h0m.2 1h0m.5-1h0m.5 3.1h0m.4-2h0m.2-1.5h0m.6 .1h0m.5 3.4h0m.5-2h0m.4-.6h0m1.6 1.7h0m.9-1.4h0m.3-.1h0m.7-1.4h0m.2 1.2h0m.6 .7h0m.3-1.5h0m.5 .9h0m.8 2h0m1.4-1.1h0m.3-1.5h0m.1 .8h0m.2-1.5h0m1.4 0h0m.5-3h0m.4-1h0m.3 2.7h0m.3-2.2h0m1.2 .6h0m.7-.1h0m1.2-3.1h0m1.1-3.1h0m1.1-1.5h0m1.2-4.5h0m.8-.3h0m.7 1.1h0m1.3-.6h0m.9 5.4h0m.5-1.3h0m.5 2.3h0m1.5 .3h0m.7 4.5h0m.7 1.2h0m.5 .2h0m.7-1h0m.9 .8h0m.6 0h0m.7 3.2h0m1.1 1.2h0m.7-1.5h0m.6-.7h0m.9 1.4h0m.4 .5h0m.9-1.6h0m.5 .1h0m1.3 2.3h0m.8 1.5h0m.6-.5h0m.5-2.5h0m.6 .8h0m1.7 1.7h0m1.2-.8h0m.5 1.8h0m.5-3.8h0m1.1 2.6h0m1.5 .3h0m.7-3.9h0m1 5.9h0m.4-1.9h0m1-3.2h0m1.1 2.8h0m.4-.4h0m.2-.6h0m.4 1.9h0m.8-1.1h0m.4 .4h0m.5-.5h0m.4 1.2h0m1.8-2.1h0m.9-1.4h0m.7 2.5h0m.3 .4h0m.2 .9h0m.6-.3h0m.5-5h0m1.2 2.2h0m1.4 3.3h0m.2-4.5h0m.6 3.6h0m.5 0h0m.7-.6h0m1 1h0m.9-1.4h0m1-1.3h0m.6 .6h0m.9 3h0m.8-4.6h0m.6 1.9h0m.4-.5h0m.4 1.8h0m.8 .8h0m.8-3h0m.8 3h0m1.3-2.5h0m.9 1.5h0m.5 .8h0m.6-.8h0m.9 .7h0m.3-4h0m1.2 2.2h0m1.5 .1h0m.9-1.6h0m.6 5h0m.7-1.8h0m1.2-1.9h0m1.2 .1h0m.8 .6h0m.5-1.3h0m1.1 2.2h0m.3 .6h0m.6-4.7h0m.4 6.1h0m.8-2.5h0m.2 2.7h0m.9-1h0m1-1.3h0m.5-2h0m.5-.3h0m1.5 1h0m.4 3.2h0m.2-2.2h0m.8-1.3h0m.9 3.7h0m.5-2.3h0m.4-1.4h0m.8 3.4h0m1.8-3h0m.1-.3h0m1.9 1.1h0m1.1-1.5h0m.3 5.7h0"/>
<path fill="none" stroke="#00f" stroke-opacity="0.42" stroke-width="4.4" stroke-linecap="round" d="M75.4 516.6h0m1-1.2h0m1.2-.7h0m.3 4.5h0m1-3.2h0m1 0h0m.4-1.7h0m.8-1h0m1 1.5h0m.4 .3h0m.6 3.9h0m.3-3.6h0m2.1 .5h0m1.1-1.4h0m.3 1.8h0m.2 1.3h0m1-.3h0m.5-2.5h0m1.6 1h0m.7-.4h0m.6-1.2h0m1.1 2.4h0m.7-3.2h0m.2 2.4h0m1 .1h0m1.3 1.7h0m.2-.6h0m.9-1.3h0m1.5 0h0m.8-2.9h0m.8 2.5h0m.4 1.1h0m.9-1.1h0m.2-.1h0m.8 2.8h0m.9 0h0m.5-3h0m.3 .1h0m.5 .1h0m.5 2.3h0m1.2-3.6h0m.7 2.5h0m2 .1h0m1.3-1.4h0m.8 .1h0m.9 .9h0m.4-.4h0m1.4 1.2h0m.5-3.7h0m1.5 .7h0m.5 1.3h0m.6 .5h0m.5 1.1h0m.3-3.1h0m.7 2.5h0m.5-2.6h0m.5 .7h0m.6 1.6h0m1.6 .1h0m.4-2.4h0m.6 1.5h0m.8-.9h0m.7-.3h0m2 1.6h0m.2 .4h0m1.1-1.8h0m.9 .9h0m.6 1.8h0m.5-3.2h0m1.3-.9h0m.5 .7h0m1 .5h0m.9-.9h0m.6 1.1h0m1.4-6.2h0m.6 .7h0m.6 0h0m.9-5.2h0m1-1.4h0m.8-2.7h0m1.4 .9h0m.8-3h0m.4 3.3h0m.5 0h0m1.1 2.3h0m1-1.3h0m.3 3.7h0m.5 1.6h0m.6 1.3h0m.4-2.1h0m.4 3.1h0m.9 0h0m.5-.4h0m1.4 3.4h0m.3-.5h0m.5 1.9h0m1.2-1.3h0m.5-3.8h0m.8 2.1h0m.2-2.5h0m.2 4.3h0m.7-2.6h0m.4 1.8h0m.4-.4h0m1 4.1h0m.8-.3h0m.9-2.8h0m.5 1.5h0m.4-5.4h0m.8 4.1h0m1-1h0m.8 1.5h0m1.4 2.6h0m1.1-2.7h0m1.2-1.1h0m.6 2.5h0m1-3.9h0m.9 2h0m.5-.6h0m.6-.9h0m1.2 1.4h0m.8 .1h0m1.1 .1h0m1.6 .3h0m1 0h0m.9-2.1h0m.7 1.2h0m.5-.4h0m.6 2.1h0m.8-1h0m1.1-1.3h0m.8 4.7h0m.4-4.8h0m1-2.4h0m.5 4.8h0m.7-.8h0m.4-.3h0m1.3 .5h0m.4 .3h0m.9 1h0m.3-.3h0m.6-.5h0m.6 1.5h0m.5-3.1h0m.5 4.2h0m.5-3.8h0m.5 3.7h0m.6-.8h0m1.5-2.5h0m.9 1.5h0m2.3-1.2h0m.4 2.1h0m.3-.8h0m1.3-.3h0m.4 1.4h0m.6-.9h0m1.8-2.1h0m.5 2.1h0m.7-1.9h0m.8 .9h0m1.2 2h0m1.1-1.5h0m1.2 0h0m1.4-.2h0m.4 .1h0m.6-1.3h0m2.1-.2h0m1.3 2.4h0m1.1-1.9h0m.8 1.5h0m1 .2h0m.9 .5h0m.1-4.2h0m.9 3.6h0m.7 .7h0m1.2-1.4h0m1.9 .5h0m.3-.4h0m.9-1.2h0m.7 1.1h0m.9-.5h0m.4-2.5h0m.4 2.4h0m.5 .1h0m.6 .1h0m1.6-.7h0m.4-2h0m.8 .9h0m1 .6h0m.6 .2h0m.5 1.1h0m.2-.4h0m1.2 .1h0m.4-2.7h0m1.3 1.5h0m.5 .2h0m1 .6h0m1.2-1h0m.1-2h0m.6 .3h0m1.5-1.4h0m.5 1h0m.3-.3h0m.8 .4h0m.7-.5h0m.6 1.3h0m.6-.3h0m.4-.8h0m.7 .2h0m1.2-1.9h0m.7-2.1h0m.6-.8h0m.7-2.6h0m.3 .2h0m.3 2.4h0m.7-4.2h0m.5-1.1h0m.4-.7h0m.3-2.4h0m1.1-4.1h0m.3 .8h0m1-5.7h0m.6-3.1h0m1.2-1.5h0m.5-1h0m1 3.7h0m.2-.2h0m1 3.3h0m.5 3.4h0m.3 1.5h0m1.2 4.1h0m1 3h0m.7 1.1h0m.4-.9h0m1.4 5.5h0m.7-.7h0m.5-1.7h0m.5 1h0m.7 2.4h0m1 .4h0m1.1 1.7h0m1.3-.6h0m1.6-4h0m.9 2.4h0m2 2h0m1.8-.9h0m.9 2.2h0m.5-5.2h0m.7 3.5h0m.3 1.8h0m.7-4.6h0m.2 1.4h0m.7 2.1h0m.4-.8h0m1.3-.1h0m1.2 .6h0m.3 3h0m.9-3.4h0m.4 1.4h0m1.1 2.3h0m.6-2.9h0m1.2 6h0m.6-2.8h0m.8 0h0m.7-4.1h0m1.3 2.2h0m.7 .9h0m.4-3.6h0m1.1 3.4h0m1.6-.5h0m.5-.3h0m1.1-2.5h0m.4 .3h0m.8 2.5h0m1.5-2.8h0m.6 4.1h0m.6-8h0m1.2 7.2h0m1.4-2.9h0m.7-1h0m.5 2.5h0m1.4 .1h0m1.2 2.6h0m1.1-2.1h0m1.1-1.2h0m.5-1.8h0m.4 2.9h0m.5 3.7h0m.6-5.1h0m.8-3.2h0m.3 4.1h0m.3-2.7h0m.8 1.3h0m.8 .2h0m.4-.6h0m.5 .5h0m.8 3.5h0m1.1-1.7h0m.8 .8h0m.6-1.6h0m1 1.8h0m.5-1.9h0m.8 2.3h0m1.1-2.9h0m.9 .1h0m.4 .2h0m.9-2.1h0m.7 4h0m.7-4h0m1 4.2h0m.6-.2h0m1.8 .5h0m.7-2.5h0m.7 .2h0m.8 1.3h0m.8-2h0m.9 .1h0m.4 .8h0m1-.4h0m.6 3h0m.4-2.8h0m.7 1.4h0m1.5-2.3h0m1.4 2.6h0m.9-1.4h0m.4-2.5h0m1.1 1.2h0m1-1.4h0m2.2-.5h0m1 .1h0m.8-2.3h0m.7 2.9h0m.5-.7h0m1 .5h0m1.3-3.5h0m.7 .6h0m.9-2.3h0m.4-1.2h0m.8 4h0m.9-6.6h0m.8 .1h0m.7-3.1h0m.5-1h0m.9-4.9h0m.3-1.8h0m.4 1.2h0m.6-6.3h0m.5 2.3h0m.6-5.1h0m.6-3.7h0m.8-5.5h0m.7-6.7h0m1.4-10.2h0m.5-2h0m1 1.2h0m.6 .5h0m1.2 2.2h0m.4 4.6h0m1.3 7.2h0m2.1 13.6h0m.7 5.7h0m.8 3.6h0m1.1 1.3h0m.5 4.7h0m.5-2.1h0m.7 7.2h0m1.3 .1h0m1-1h0m1.1 5.6h0m1-.7h0m.5-.9h0m1.1 2.7h0m.2-.1h0m.4-.8h0m.7 2.6h0m.5 .7h0m.6 .1h0m1.1-3.8h0m.3 3.8h0m.8-2.3h0m.8-.7h0m1.1-1h0m1 4.2h0m1 .2h0m.4-1.6h0m.6 .6h0m.8-1.3h0m.2 2.3h0m.3-2.7h0m.8 3.2h0m.6 .1h0m.3-3.7h0m.3 2.6h0m.2 .7h0m.8-1.4h0m.4-1.6h0m1.6 6h0m.6-2.7h0m.5 0h0m.7 .8h0m.4 .2h0m1.7-2h0m1.4 1.3h0m.6-1h0m1.1 2.7h0m1.4-2h0m.9 2.5h0m.6 .5h0m.8-3.1h0m.6 1.5h0m.9-1.3h0m1-1.2h0m.5 5.2h0m.8-.3h0m1-3.7h0m1 2.5h0m.5-2.7h0m.2 3.6h0m.8-3.4h0m.5-.4h0m1.1 .1h0m1.2-2.2h0m.7 2.3h0m2.6 1.8h0m.6-2.7h0m1.4 1.2h0m.4 2.6h0m.4-5h0m.8 .9h0m.7-1.8h0m.9 3.1h0m1.1-3.9h0m.3 4.4h0m.8-.7h0m.2-2.8h0m.4 3.3h0m.7-1.9h0m.5 .2h0m.4 .1h0m.4-2.1h0m.6 1.6h0m.5-.2h0m.7-1.2h0m1.2 1.8h0m.6-.4h0m1.4 2.9h0m.9 .9h0m.6-3.7h0m.6 .9h0m1.6-.9h0m.9 1.8h0m.7-.1h0m.5-.6h0m.7 .8h0m.6-1.5h0m.8 2.3h0m1.1 .2h0m.4-1.6h0m.6 .3h0m.5-2.2h0m.9 1.2h0m1.1 1.1h0m.6 0h0m1.3 .7h0m.5 2.1h0m1.1-5.2h0m.5 1.7h0m.9 1.2h0m1.6-1h0m.3-4.1h0m.7 2.7h0m1.2 .3h0m.7-.7h0m1.6 1h0m.5-2.4h0m.7 0h0m.7-1.1h0m.9 2.1h0m.7-4.7h0m.6 1.4h0m.5-1.8h0m1 2.4h0m.5-2.5h0m1-1.3h0m1.1-2.4h0m.6-1.3h0m.5-5.1h0m.9 .1h0m1-4.1h0m.9-3.9h0m.5-2.5h0m1.3-.7h0m.5 .5h0m1.2 6.5h0m.9 3.8h0m1.1 5.3h0m.7 2.3h0m.9 3.1h0m.2-1.1h0m1.4 2.6h0m1-.1h0m.6 3.6h0m.5-1.7h0m.5 3.5h0m.5-.5h0m.2-4.8h0m.8 4.7h0m.7-1.9h0m1.2 .9h0m1 1.6h0m.5-.3h0m.2-1.2h0m.3 3.3h0m1.4-.9h0m.5-1.1h0m1 1.8h0m.4-1.1h0m.2 4.6h0m.5-5.7h0m1 3h0m.9-1.4h0m.4 .9h0m.8 1.9h0m.6 .5h0m1-2.9h0m.6-2.9h0m.7 4.2h0m.6-1.1h0m.8 .2h0m.9 .7h0m1.7 .2h0m.2-.9h0m1.6 3.1h0m.8-2.1h0m.9 .7h0m.8-.7h0m.4-2.1h0m.5-1.7h0m.3 3.5h0m1.2 2h0m.8-2h0m.5-2.7h0m.8 1.8h0m.7-1.4h0m.8 2.3h0m.5-1h0m1.5 .6h0m.2 1h0m1.1-2.3h0m.4 2.2h0m.3-.3h0m.6-2.9h0m.6 4.3h0m.5-.8h0m1.2-.8h0m.4 2h0m.9-.7h0m.4-.8h0m.5-.6h0m.2 .2h0m1.1-1.5h0m1.4 5.3h0m1.2-1h0m.7-2.3h0m.3 2.2h0m.9-3h0m.4 1.4h0m.8-2.9h0m1.6 4.8h0m.8-2.1h0m.9-1.4h0m.5 3.8h0m.9-2.1h0m.3-1.5h0m.9 2.1h0m.5 .5h0m.6 .6h0m.7-.5h0m.5-1.6h0m.3-.6h0m1.1 .2h0m.4 1.2h0m.1-.4h0m1.2-.1h0m.5-2.6h0m.6 3.7h0m.4-3.4h0m.4 2.3h0m.7-1h0m.5-.3h0m1.1-1.3h0m.5 3.5h0m.1-3.6h0m.8 1.5h0m1 1.9h0m1.4-2.8h0m.2-.5h0m.7 .1h0m1.1 1.7h0m.7-.7h0m2.4-2.4h0m.9 3.3h0m.3-4.1h0m.3 2.3h0m.4 3.4h0m1-3.6h0m1.1 1.1h0m1.7 1.5h0m.9-4h0m.4 1.6h0m.4 0h0m.5 1.3h0m.3 .8h0m.4 1.1h0m.3-2.3h0m.6 0h0m.5 1.1h0m.4 1.1h0m1-1.1h0m1.2-2.3h0m.7 1.7h0m.3 4.3h0m.7-7h0m.3 2.5h0m.5 .3h0m.4-1.3h0m.4-.7h0m1.3 2.2h0m.9-2.1h0m.3-1.7h0m.2 1.2h0m.4 2.7h0m1.2-1.9h0m.4 1h0m.5-3.7h0m.3-2.1h0m.3 2.3h0m1.2 .6h0m.9-1.8h0m1.3-3.1h0m.8-.5h0m1.1-4.8h0m1.2-5.4h0m.7 2.3h0m1 1.7h0m1.3 .8h0m.7 5.2h0m.6-1.3h0m1.1 1.7h0m.7 3.1h0m.8 1.2h0m.9 2.2h0m.3-2.9h0m.9 2h0m.6-.5h0m1 2h0m.4 1h0m1.3-3h0m.7 2.7h0m.6-.6h0m.6-1.4h0m.6 2.6h0m.8-2.7h0m.8 4.6h0m.9-3.4h0m.8 1.6h0m.6 0h0m.7 1.1h0m.7-1.2h0m1.5-.8h0m1.1-.1h0m.5 4h0m1-2.9h0m.9 1.8h0m1.5-4.4h0m.9 5h0m.6-.3h0m.7 .9h0m.9-2.8h0m.9 .8h0m.3 1.5h0m.4-1.7h0m.5 .4h0m.6-.6h0m.3 .4h0m.7-1.5h0m.2-1.2h0m2.3 1.6h0m.4 2.5h0m.7 .5h0m.3-4.6h0m.4 5.3h0m.6-2.9h0m.6 .8h0m1.1 1.2h0m1.3 .4h0m.2-.5h0m.6-2.8h0m.4 2.1h0m1.1 .7h0m.9-1.2h0m.9-1.6h0m.8-.3h0m.7 0h0m.8 1.1h0m.9 4.4h0m.5-1.7h0m.6-3.1h0m.4 .4h0m.7 .6h0m.8 2.7h0m.8-2.1h0m1.4 1.8h0m.8-.7h0m.3-1.7h0m.9 .1h0m.6-2.1h0m.7 4.3h0m1.2 .9h0m1.3-4h0m.8 1.8h0m.6 .9h0m.7-1.3h0m1.6 .3h0m1.1-1.2h0m.5 4.1h0m.5-6.2h0m1.1 2.5h0m.2 1.4h0m.6-1h0m.4 .6h0m.8-1.9h0m.4 2.3h0m.8 .7h0m1-5.4h0m.7 4.6h0m.5-1.6h0m1.2 .6h0m.5-.4h0m.4 2h0m.7-1.1h0m.8-1.8h0m.5 3.3h0m.3-2.6h0m1.6 1.6h0m1-4h0m.7 2.6h0m2.2 1.1h0m.2-1.3h0m.4 1h0"/>
<path fill="none" stroke="#00f" stroke-opacity="0.42" stroke-width="4.4" stroke-linecap="round" d="M75.5 515.6h0m1.2-.7h0m.9 .9h0m.3 .3h0m1.2 .4h0m.8-1.1h0m.7 .7h0m.7 .6h0m1-3.5h0m.2 2.1h0m.8-3h0m.9 3.9h0m1.4-1.7h0m1-1.4h0m.3 2.4h0m.8 .2h0m.5 .8h0m1.5-1.9h0m.8-.3h0m.6 .4h0m1.1 4.4h0m.5-2.7h0m.7-2h0m.4 .1h0m.9 .9h0m1.1 1.2h0m.6 .9h0m.9 .4h0m1.4-3.3h0m.8-.5h0m.7 1.2h0m.2-2.4h0m1 3.3h0m.4-1h0m.7-.5h0m.9-1.5h0m.3 .7h0m.3-1.4h0m.6 1.3h0m.6-.1h0m1.2 1.6h0m.7 .8h0m2.6-2.6h0m.8 1.9h0m.9 .6h0m.5-1.1h0m1.3 .9h0m.6 .1h0m.5-1.7h0m1.7 .6h0m.3 1h0m.6-1.1h0m.4-.1h0m.5 .7h0m.7 .1h0m.3 0h0m.9 2.4h0m.3 .8h0m1.6-2.8h0m.6 .7h0m.6-.8h0m.6-1.4h0m1.2 .1h0m1.4-.1h0m.4 .7h0m1.2-.4h0m.8-1h0m.5 1.4h0m.6-.7h0m1.1-2.7h0m.6 2.5h0m1-2h0m.9-.7h0m1.2-1.1h0m.7-4h0m.6-1.2h0m.7 3.9h0m.8-5.7h0m1.3-4h0m1.2 0h0m.9-2.7h0m.6 1.8h0m.4 .8h0m.6 2h0m1.3-1.3h0m.8 5.4h0m.2 1.8h0m.6 .4h0m.6-2.6h0m.3 2.4h0m.7 1.8h0m.6 2h0m.7-2.9h0m1.2 .8h0m.3 2.2h0m1 .8h0m.7-.3h0m.9-.4h0m.5 1.3h0m.1 1h0m.3-1.3h0m.7 .2h0m.4-.2h0m.6-1.1h0m.9 .6h0m.9 1.1h0m.6-1.7h0m.6 2.8h0m.6-3.3h0m.7-1h0m1.1 2.1h0m.5 0h0m1.8 .9h0m1 2h0m1-1.2h0m.5 .5h0m1.3-1.8h0m.7 .4h0m.4-2.3h0m.6 .4h0m1.6 1.7h0m.7 2.8h0m.9-5.4h0m1.7 2.4h0m.8-.4h0m1 2.2h0m.7-1.6h0m.6-2.1h0m.5 2.7h0m.9 .1h0m.9-2.1h0m.9 .9h0m.8 1.6h0m.6 .9h0m.4-2.7h0m.7 1.8h0m.4-.5h0m1.4-1.5h0m.8 3.6h0m.4-2.6h0m.3 2h0m.6-3.9h0m.8 1.2h0m.5 .6h0m.4 2.1h0m.4-3.3h0m.7 1.9h0m.5 .8h0m1.6 .1h0m1.3-1.4h0m1.8 1.5h0m.3 1.3h0m.4-4h0m1.2 2.3h0m.4-.5h0m1.8-.1h0m.8 1.5h0m.4-1.9h0m1 2.9h0m.8-1.5h0m.9-2.5h0m1.5 3.1h0m1.5-.1h0m.6-.4h0m.5-.3h0m1.2-.5h0m1.6 2.4h0m1.2-3.7h0m1 1h0m1 .6h0m1.2 .8h0m.5-.9h0m.2 1.1h0m1-1.2h0m.7-.3h0m1.9 1.3h0m1-3.2h0m.7 1.6h0m.6 .8h0m.6-3.5h0m1 2.1h0m.3 1.7h0m.6-3.2h0m.4 .1h0m1.3 .7h0m.9 3.1h0m.8-5.2h0m.6 1h0m.7 1.7h0m.6 .4h0m.6 3.3h0m.4-3.6h0m1 1.6h0m1-.2h0m.7-3.1h0m.8 .9h0m.7-.1h0m1.1 .4h0m.2 .9h0m1.3-4.5h0m.9 2.7h0m.3-.2h0m.4 1.2h0m1-.9h0m.6 .4h0m.6-2.8h0m.4-2.3h0m.7 2.5h0m.5-1.8h0m1.2 .7h0m.6-2.5h0m.7-.7h0m.6 0h0m.4-2.8h0m.4 2.3h0m.6 .2h0m.5-6.2h0m.4 2.9h0m.3-4.7h0m1-4.3h0m1.1-5.9h0m.4-2.7h0m1.1 .6h0m.6-.3h0m1 1.7h0m.4 1.5h0m.9 .6h0m.4 2h0m.4 3.7h0m.7 .7h0m.9 5.6h0m1.1 2.8h0m.8-.9h0m.2 1.5h0m1.4-1.3h0m.6 3.7h0m.7-1.5h0m.5 1.8h0m1.1 4.2h0m.6-5h0m2 2.1h0m.9 2.2h0m1.2-1.5h0m1.3-1.4h0m1.6 5.8h0m1.7-2.7h0m.8 3.1h0m.5-2.7h0m.6-.9h0m.5 .2h0m.6 3.2h0m.2-1.4h0m.6-1.3h0m1 1.1h0m1.1-.1h0m.8-1.5h0m.4-1h0m1 2.5h0m.4 .8h0m.9-1.5h0m.8-.4h0m1 .2h0m.9-1.4h0m.9 2.8h0m1.2-1.9h0m.6-.3h0m.7-.6h0m.2 1.9h0m1.5-2.8h0m1.3 .6h0m.9 1.7h0m.6 4.6h0m.6-3.7h0m.7 .6h0m1.5-3.7h0m.9 .7h0m.3 1.6h0m1.7-2.3h0m1 5.5h0m.8-2h0m.6 .1h0m1.4 1.5h0m1.1-2.5h0m1.3-.8h0m.9 2.4h0m.3-2.3h0m.5-.4h0m.3 2.2h0m.6-1.1h0m.8 2.8h0m.3-3.4h0m.7-1.2h0m.4 4.2h0m1-5.6h0m.2 5.8h0m.7-2.3h0m.6 .6h0m1.4 1.6h0m.6-2.1h0m.7-.8h0m.8 .9h0m.8-.5h0m.8-.6h0m1 2.8h0m.8 0h0m.5 0h0m.8-.3h0m.6-.7h0m.7-2.1h0m1 2.2h0m.7 .3h0m1.8 1.2h0m.7-2.2h0m.6 3.4h0m.9-6.5h0m1.1 2.4h0m.6-.8h0m.6 4.7h0m.7-1.6h0m.7 0h0m.4-3.2h0m.8 3.9h0m1.8-1.7h0m1.1-1.8h0m.7-1.9h0m.5 2.2h0m1-1.3h0m1.1 .6h0m2.2-.4h0m.9-.2h0m1.1-2.3h0m.5-.5h0m.7 1.1h0m1.3-1.6h0m1 0h0m.7-2h0m.6-1.8h0m.7 1h0m.5-2h0m1-2.7h0m1-1h0m.4-4.7h0m.9 1h0m.6-4.5h0m.4 .3h0m.5-1.6h0m.4-3h0m.5-1.8h0m.5-3.9h0m1-7.3h0m.7-3.8h0m.5-2.8h0m1.4-9.1h0m.7-1.2h0m.8-3.5h0m.7 2.3h0m1.1 7h0m.8 3.1h0m2.2 17h0m.7 2.3h0m.9 3h0m.7 3.1h0m1.4 3.4h0m.1 5.9h0m.6-2.4h0m.7 3.9h0m1.3 3.1h0m1.2-.3h0m.9 1.7h0m1 2h0m.9 .9h0m.7-2.1h0m.2-.7h0m.5 1.1h0m.8 3.9h0m.3-3.1h0m.5 1.8h0m1.2 .6h0m.6-1h0m.7-2.4h0m1.1 3.4h0m1-.7h0m.9 1.5h0m.8 1.6h0m.3-2h0m.7 .6h0m.7 1h0m.2 .5h0m.3-1.9h0m.9 .4h0m.4 1.8h0m.4 1.1h0m.3-1.4h0m.4-2.7h0m.6 4.5h0m.8-4.1h0m1.2 4.3h0m.7-.2h0m.4-4.7h0m.7-.6h0m.9 4.3h0m1.6-.6h0m1 2.1h0m.7-1.5h0m1.8 0h0m.8-1.5h0m.6 .8h0m.7-.5h0m1 1.3h0m1-1.7h0m.6 1.6h0m.8-2.6h0m.6 2.3h0m.8-.6h0m.8 2.7h0m.9-4.3h0m.5 2.2h0m.3 .8h0m.7-2.9h0m1.1 .3h0m.5 1.3h0m1.3-1h0m1.8 1.1h0m1.7 1.6h0m.9-.1h0m1 .2h0m.3-1.5h0m.4-2.3h0m1-.6h0m.7 1.9h0m.8 0h0m.9 .6h0m.6-1h0m.6 .2h0m.1-1.2h0m.5 1.6h0m.8 2.6h0m.3-2.7h0m.5-1.8h0m.7 1.1h0m.2 .1h0m.7 .2h0m.6 .3h0m1.2-2h0m.9 2.3h0m1.3-1.3h0m.8 1.2h0m.4-3h0m.9 1.1h0m1.3 0h0m1 .8h0m.7 .6h0m.5-1.9h0m1-.7h0m.3 3.2h0m1.3 2.4h0m.5-2.5h0m.6 1.9h0m.6-3.7h0m.3 1.7h0m1-.4h0m1.1 .9h0m.6 2.7h0m1.2-1.2h0m1.4-1.9h0m.3 2.8h0m.6-2.1h0m1.2 .1h0m1.1-3.2h0m.7-.4h0m.5 1.9h0m1.1-.5h0m1.5-.8h0m1 .9h0m.5-2.4h0m.9 .6h0m.7-2.2h0m.5-2.1h0m.8-.1h0m.5 4.4h0m.8-1.4h0m.7-4.4h0m.4 3.1h0m1.6-3.9h0m.7-3.4h0m.6-1.8h0m.4-.1h0m.9-6.8h0m1.3-2.7h0m.5-.9h0m1-2.6h0m.9 .5h0m1 4.7h0m1.1 3.1h0m1.3 7.2h0m.4-.9h0m.8 7.2h0m.6-3.3h0m.4 3h0m1.9 2.4h0m.5-.1h0m.7 5.6h0m.4-6.4h0m.4 3.6h0m.4-.9h0m.5-.5h0m.5-.1h0m1 2.6h0m1-.4h0m1.1 .3h0m.3-1.2h0m.4-.6h0m1.3 2.4h0m.3 .2h0m.7-1.9h0m.9-.8h0m.3 .9h0m.3 1.4h0m.3-.7h0m1.2 .9h0m.7 1.5h0m.5 .5h0m.8 2.5h0m.7-1.3h0m1.2-6.8h0m.3 6.4h0m.6-.4h0m.8 0h0m.9 .2h0m1.1-1.4h0m1.2-.2h0m.5 .8h0m1.5 2.5h0m.8-4.1h0m.8 1.3h0m.8-.2h0m.3-4.6h0m.5 4.5h0m.6 2.3h0m.9-2.4h0m.8-.2h0m.5 1h0m.9-1.9h0m1.1 2.4h0m.4-.1h0m.5-.9h0m1.4 1.1h0m.4-.8h0m1-1.7h0m.3 4.2h0m.7-3.9h0m.2 1.8h0m.7-1.7h0m1 1.7h0m.6 .7h0m.7-.4h0m.7-2h0m.3 2.1h0m.5-1.5h0m.7 1.9h0m.6-1.2h0m2.4-1.1h0m.4 1.1h0m.6-1.5h0m.2 1.5h0m1.1-2.6h0m.4 4.7h0m1.1-1.5h0m1.4-.8h0m.7 2.4h0m.9 .7h0m1-3.7h0m.2 1h0m.5 .8h0m.7 3.4h0m.5-5.6h0m.6 2.5h0m.8 .2h0m.5 1.5h0m.4 .1h0m1-2.2h0m.4 .5h0m.1-1.3h0m1.2-1.3h0m.5 .7h0m.5 1.6h0m.5-.1h0m.4 .6h0m.7 0h0m.4-2.7h0m1.2 3.1h0m.4 1.9h0m.4-2.3h0m.6 .2h0m1.4-1.2h0m.9-2.4h0m.3-.3h0m1.2 4.1h0m.7-2.3h0m2.1 1.3h0m1.5 .5h0m.2-1.5h0m.5-.6h0m.4 2.3h0m.4-.6h0m1 .6h0m1.3-.2h0m1.3-.1h0m.8-1.2h0m.6 1.5h0m.3-1.2h0m.4-.4h0m.5 1.2h0m.3-.1h0m.3-.6h0m.6-.5h0m.4-1.7h0m.6 2.9h0m.8-4.1h0m1.2 2.9h0m.8 1.1h0m.3-2.4h0m.6-2.3h0m.5 1.9h0m.6 2.2h0m.1-2.2h0m.7 2.9h0m1-2.5h0m1.1 1.7h0m.1 0h0m.2-1.9h0m.6-1.9h0m1.3 3.3h0m.3-1.9h0m.4-1.2h0m.3-1.6h0m.8 .5h0m1 1.8h0m1-6.4h0m.9 1.1h0m.9-3.1h0m1.2-1.8h0m1.3-4.1h0m.6-2h0m1.3 5h0m.9-.9h0m.5 3.7h0m.9 2.7h0m.9 .8h0m.8-1h0m.7 2h0m.9 1h0m.5 1.9h0m.6 .2h0m1.1 .2h0m.6-.5h0m.5 4.9h0m1.2-2.5h0m.6-.2h0m.9 0h0m.5-2h0m.6-1h0m.8 6.1h0m1.3-.7h0m.6-.3h0m.7-1.8h0m.6 2.7h0m.5-2.1h0m1.7 1.6h0m.4 1.2h0m1.3-2.4h0m.4 1h0m1 .7h0m1.3 2.3h0m1.1-1.3h0m1-3.8h0m.5 7.1h0m.7-2.6h0m1-2h0m.9-1.2h0m.1 4h0m.4-3.8h0m.7 1.1h0m.5 1.7h0m.4-2.7h0m.5 2.4h0m.6-.9h0m1.9-.2h0m.7 1.4h0m.5-1.6h0m.2-.8h0m.5 .7h0m.6 .7h0m.7-1.3h0m1.8 1h0m.4-2h0m.4 3.4h0m.6-2.3h0m.9-1.1h0m.5 3.5h0m1.2-2.6h0m.5-.1h0m1.1-.5h0m.7 2.2h0m.9-.4h0m.6 1.4h0m.6 .2h0m.5-1.7h0m.3-1.1h0m1.1 3h0m.4-2.6h0m1.5 1.5h0m.8-1.3h0m.7 2.3h0m.9-1.6h0m.3-.1h0m.7-.8h0m1 .1h0m.9 2.3h0m1.4-3.5h0m.8 1.5h0m.9 .1h0m.5 .8h0m1.3 0h0m1.1 .7h0m.8-.1h0m.7-2.1h0m.7 .6h0m.2-1.3h0m.5 1.7h0m.8 2.5h0m.6-4.2h0m.6-.5h0m.4 1h0m1.1-.2h0m.7 1h0m.4 .2h0m1.5 .5h0m.2 2.2h0m.7-5.9h0m.5 5.5h0m.8-3.2h0m.5-.6h0m.6 3.5h0m2-1.4h0m.3-.9h0m1 .4h0m2 .6h0m.2-.5h0m.3-.3h0"/>
</g>
<g clip-path="url(#c6)">
<path fill="none" stroke="#f00" stroke-width="2.6" stroke-linejoin="round" d="M75.4 607.6l 35 .1 16-.3 7.4 .4 1.1-.1 2-.9 1.8-1.2 1.5-1.2 1.2-1.4 1-1.4 2.1-10.3 2.8-19.8 .9-3.9 1.3 .7 1.3 1.6 4.8 8.6 2.5 3.9 2.3 2.7 2.6 2.4 3.5 2.3 4.2 1.9 5.2 1.3 6.6 1.1 9.4 1.2 12.7 1.1 51 .6 33-.3 21-.6 14-.9 4.8-.6 4.1-.9 2.7-.7 2.4-1 2.2-1.1 1.8-1.3 1.7-1.5 1.5-1.9 1.4-2.1 1.2-2.5 1.8-4.6 1.6-6 1.6-8 3.3-19.2 .9-3.5 .5-1.1 .5-.4 .1-.7 .4 .4 .4 1 .9 3.4 3.3 19.1 1.8 8.5 1.7 6.2 1.8 4.7 1.3 2.4 1.3 2 1.6 1.8 1.7 1.6 2 1.2 2.2 1.1 2.5 1 2.9 .7 4.2 .8 5 .6 12.9 .7 21 .4 33-.1 50.9-1.3 12.5-1.1 9.4-1.1 6.9-1.2 5.3-1.3 4.4-1.7 3.5-2.1 2.6-2.1 2.2-2.4 2.4-3.6 4.7-8.1 1.4-1.5 1.2-.5 .4 1 .4 2.6 2.9 20.4 2.1 9.8 1.1 1.9 1.7 1.7 2 1.6 2.6 1.4 5.7 .6 9.7 .1 60.5-3.9"/>
<path fill="none" stroke="#00f" stroke-opacity="0.42" stroke-width="4.4" stroke-linecap="round" d="M75.5 607.1h0m.6-1.9h0m.9 1h0m1.1-.9h0m.8 1.2h0m.7-1.5h0m.4 2.4h0m1.2-2.2h0m.8-.1h0m.7 2.4h0m.8-3.5h0m.7 .4h0m1 2.3h0m.8-.7h0m.8 .7h0m.5-3.6h0m1.5 4.1h0m.3-2.1h0m1.1-.6h0m1.4 .3h0m1-2.8h0m.4 2.4h0m.1 .5h0m1 .6h0m.7 1.5h0m.5 .3h0m.8-2.4h0m.1 0h0m.8 .5h0m.2 .4h0m.8-1.8h0m1.1 .4h0m.7-.3h0m.6 1.1h0m1.1-.2h0m1 1.2h0m.9-.4h0m.9-.6h0m.4-2.2h0m.6 3.7h0m.7-2.4h0m.7 1.3h0m.7-2.7h0m1 1.4h0m.3 .4h0m.5 .4h0m.7-.5h0m.5 1.5h0m1.2-1.9h0m.7-1h0m.3 1.1h0m.8 .3h0m.8-.6h0m1-.2h0m.8 1.3h0m.6-2.6h0m.7 3.8h0m1.2-1.6h0m1.3-.9h0m.5-1.5h0m.6 .4h0m.9 .4h0m.2-1.4h0m1.1 3.2h0m.8-1.1h0m1.7-.3h0m.4-.5h0m1.4 .3h0m.4-.4h0m.5-.5h0m.4-1h0m.6 1.6h0m.9-2.1h0m1.2 .1h0m.9-1.7h0m.3 1.4h0m.7 .3h0m.6-1.3h0m1.2-2h0m.7 .7h0m1.2-2.1h0m.6-.9h0m.7-1.6h0m1-2.9h0m2.1-6.5h0m.5-1.2h0m1-2.7h0m1-3.8h0m.5-2.3h0m1.2-1h0m.8-3.4h0m.7 1.4h0m1.2-.5h0m.5-1.1h0m.6 4.2h0m.3 1h0m.7 .1h0m.8 2.4h0m1.2 1.1h0m.3 .7h0m.4 2.1h0m1.6 .4h0m.2 1.8h0m.6 .4h0m.4 1.5h0m.3-1.4h0m.3 1.5h0m1 1.6h0m1.5-.7h0m.2 3h0m1.2-1.7h0m.6 2.5h0m1.4 1.8h0m.4-2.8h0m1.3 1.5h0m.3 .4h0m.2 .9h0m.3-2.3h0m.6 2.3h0m.5-1h0m1.4-.1h0m.6 3h0m1.5-.9h0m.9 1.1h0m.2-2.3h0m.9 1.6h0m1.2-.2h0m.4 1.3h0m.9 .6h0m1.1-.3h0m.8 1.5h0m.9-1.1h0m1.1-3.2h0m.4 3.3h0m1.2 1.3h0m1-2.8h0m.7 .9h0m1.1 1.1h0m1.1 .9h0m.6 .7h0m1.5-2.5h0m.6 1.3h0m.9-1.2h0m.6 1.8h0m.4-.4h0m1.3 .5h0m.5-1.6h0m.1 0h0m.4 2.2h0m.6-1.1h0m.7 1.6h0m.3 .6h0m1.7 .3h0m1-3.2h0m.7 1.3h0m.5 .9h0m.4-1.1h0m.9 .8h0m1-.6h0m.5 1.8h0m.3-2.1h0m1 .7h0m.5 .6h0m.4-1.3h0m.6 .1h0m.5 0h0m.7-.2h0m.6 1.8h0m1-1.8h0m.8 1.5h0m1.5-.3h0m1.2 0h0m.7 2h0m1-2.5h0m.9-1.1h0m.1 .5h0m.6 .3h0m1-.4h0m.6 1.8h0m1.3-1.5h0m1.2 .5h0m.8-.1h0m.1-2h0m.6 3.7h0m.4 .3h0m.5-2.3h0m.9 .7h0m1.2-1.1h0m.6 2h0m.9-3.2h0m1.6 3.1h0m1.5-2.5h0m1.3 3.6h0m.8-2h0m.8-1.1h0m.6 1.3h0m.4-1.9h0m1 2.3h0m.8-1.2h0m1 2.2h0m1.3-1.5h0m.4 1.7h0m.6-1.2h0m.5 .5h0m.8-1h0m1-.7h0m.2 .9h0m.8 .7h0m.6-1.6h0m.6 3.5h0m.4 0h0m1.3-2.4h0m.6 .2h0m.2 .2h0m1.3 1h0m.9-.4h0m.6-1.4h0m.9 1.9h0m1-2.1h0m.7 2.8h0m.9-2.6h0m1.8-.3h0m.7-.4h0m.5-.3h0m.6 2.7h0m1.4-1.5h0m.9 1.6h0m.8-1h0m.5-1.3h0m1.7 .2h0m.6 0h0m.7 1.6h0m.3 .7h0m1.3 .3h0m.3-1.4h0m1.1-1.4h0m.6 .6h0m1.2 .8h0m.2 .5h0m1.9 .1h0m.8-1.3h0m.4 0h0m.8 .9h0m.9-1.9h0m.9 2.1h0m1-1.1h0m1.1 0h0m.8 .8h0m.9-1.4h0m.5-.5h0m.5 1.3h0m1.2-1.6h0m.7 4.1h0m.6-1.6h0m.2-.8h0m.8 1.4h0m2.7-1.2h0m1.1 .6h0m.9-1.3h0m.5 .1h0m1.8 0h0m1.5 .3h0m.3-1.1h0m.6-.5h0m.8 1.8h0m2 .5h0m.7-.2h0m.4-.6h0m.4 2.5h0m.8-4.1h0m.9 2.2h0m.6-1.4h0m.5 3.1h0m.6-1.7h0m.3 .2h0m.3-2.9h0m.2 .6h0m.6 0h0m.4 2.3h0m.1-.6h0m1.5 .2h0m.3-1.8h0m1.3 1.1h0m.5 1.7h0m1.6-2.6h0m.9 3h0m.6-2h0m.5 .5h0m.8-.2h0m1.1 1.7h0m.7-.8h0m.8-1.8h0m.8 1.6h0m1.1-1.1h0m.9 1.4h0m.7 .5h0m1.2-1.6h0m1 .3h0m.8-.5h0m1.5-.3h0m.2 3h0m.9-.6h0m1.2-.9h0m.9 3.4h0m1.1-5.1h0m1.5 .5h0m.2 .3h0m.3 .8h0m.8-.8h0m1.2-1h0m.4 .8h0m.6 .9h0m.6-3.1h0m.5 1.6h0m1-1.3h0m.3 1.5h0m1 .2h0m.9-1.8h0m.6 1.6h0m1.1-1.2h0m.9-.1h0m.8-.6h0m.6 1.7h0m.9-1.1h0m.2-1.2h0m1.6 1.3h0m.6 .6h0m.3-.6h0m1.2-1.5h0m.5 1.8h0m.3-1.7h0m.6-1.5h0m1.1-1.7h0m.4 1.8h0m1.4-2.1h0m.7-.3h0m.5-1.1h0m.4-.7h0m1.5-1.2h0m.7 .4h0m1.2-2.2h0m1.5-2.3h0m1.4-2.2h0m1.3-3.9h0m.4-2.6h0m1-4.1h0m2-10h0m.9-3.6h0m.6-4.6h0m.9-5.2h0m.6-4.9h0m.5-1.9h0m.6-1.5h0m.5-2.9h0m.4 .2h0m1.1 4.6h0m.9 2.3h0m.8 2.3h0m.3 6.5h0m.7 2.3h0m.3-.5h0m1.1 11h0m.6 .3h0m.2 2.1h0m.6 3.1h0m.4 4.1h0m.8 1.3h0m.8 3.8h0m.6-1.4h0m1 4.4h0m.2 1.1h0m.3 .7h0m.8 .9h0m.5 1.5h0m.7 1.3h0m.7 1.7h0m1.2 .4h0m.7 1h0m.5 1.1h0m.2-1.9h0m.6 1.5h0m.6 .8h0m.3 .9h0m.9 .2h0m.5-.2h0m.3 1.9h0m.5 .1h0m.6-3.4h0m.5 2.5h0m1.1 .6h0m1-1.3h0m1.5 1.7h0m1.5-.1h0m1.8 0h0m.5 1.5h0m.2-2.4h0m.6 3.2h0m.5-2.4h0m1 1.4h0m.5-1.9h0m1.4 1.3h0m.9-.7h0m.9 1.6h0m1.4 1.5h0m1.5 1.3h0m.7-2.1h0m.9 1.3h0m.6-1.7h0m1.6-.3h0m.6-.5h0m.8 2h0m.5-1.1h0m.3 1.9h0m.5-.9h0m.3 .8h0m1.3 1.6h0m.8-1.2h0m.3 .3h0m.5-1h0m.2 .7h0m.6-.1h0m1.2-.7h0m.8 1h0m.6-1.9h0m.5 .2h0m.8 1.6h0m.3 1.3h0m.8-2.8h0m1.5 1.5h0m.7-.1h0m.6-2.5h0m.1 1.3h0m1.6 1.3h0m.8-4.3h0m.7 2.9h0m1.1 1.7h0m.6-2.2h0m.3 2h0m1.4 .6h0m1.3-2.7h0m.4 .6h0m.6-1h0m1.3 1.7h0m.6-1.2h0m.9-1.8h0m.7 1.7h0m.5 0h0m.9 .5h0m.5-.7h0m.4 1.3h0m.7 1h0m.2 .2h0m.5-2.7h0m1.4 .9h0m1.2-.6h0m.8-.5h0m.5 2.5h0m.4-1h0m.7 1h0m.5 1.6h0m1.4-2.9h0m.3 1.5h0m.1 1.3h0m.4-2.1h0m.5 .4h0m1-.9h0m.6 .5h0m.2-.2h0m.8 1.4h0m.4-.2h0m1.4-.9h0m.5 1.3h0m.6-.7h0m.5 1.7h0m.8-.4h0m1-.3h0m.5-2.3h0m.7 1.7h0m.7 .5h0m.4-.1h0m.4 1.2h0m1.2-.7h0m.8-.2h0m.7-2.1h0m1.5 1.1h0m.4-1.2h0m1.6 1.1h0m.3 .8h0m1.3 .6h0m.5-.6h0m.6 1.1h0m.6-1h0m.6-1.4h0m.4-.6h0m.2 2.5h0m.8 2.5h0m.2-3.8h0m.4-.2h0m1.4 1h0m.9-.4h0m.9 .1h0m.5-.6h0m.5 .8h0m.9 .7h0m.4-1.1h0m1.4 1.5h0m.7-.4h0m.6 .5h0m.5-2.3h0m.4 1.4h0m.7 .5h0m.9 2.2h0m1.2-2.2h0m.2-.2h0m.4-2.4h0m1.2 1.9h0m1-1h0m.8 1.5h0m.4 0h0m1.4-1h0m.9-.7h0m.6 0h0m.3 1.9h0m.9-1.1h0m.2-.1h0m.3-1.3h0m.7-.5h0m.5 1.4h0m1.2-1.5h0m.6 3.8h0m.5-2.9h0m1.7 0h0m1.9 .6h0m1.5 .5h0m.6-.6h0m.5 .6h0m.6-.9h0m.1 .9h0m.8-1.7h0m.4 .5h0m.8 .2h0m1.4 2.9h0m1.2-1.3h0m.4-.3h0m.4-1.3h0m.7-.5h0m.8 3.2h0m1-2.2h0m.8 1.9h0m.5-1h0m.5-1.7h0m1.3-.1h0m1.3 1h0m.7-1h0m1.4 2.2h0m.4-2.1h0m.5 3h0m.5-1.6h0m.5-.1h0m.9-1.2h0m.3 1.5h0m1-.6h0m.8-.5h0m.6-.7h0m.5 1.6h0m.5-2.8h0m1 2.2h0m1.1-.5h0m1.2-2h0m.6 1.8h0m.5 .2h0m.8-1.6h0m1-1.2h0m.5 1.2h0m1.1 1.4h0m.6-.6h0m.8 2.8h0m1.6-4.5h0m1.1 1.6h0m.4 .4h0m.8 .3h0m1-2h0m.9 2.1h0m.4-1.7h0m.3-.3h0m.5 .9h0m.9-1.1h0m1.3-2.3h0m.6 3.2h0m.5 .4h0m1.2 .6h0m.7-2h0m1.7 1.2h0m1.1-1.2h0m1.1 1.2h0m.4-1.6h0m.5 1.7h0m.5-.6h0m1.3 .8h0m1.4-.9h0m.4-.2h0m1.3-2.3h0m1.6 2.4h0m.5-2.6h0m.6 .1h0m.8 1.2h0m.3-1.8h0m.6-.6h0m.7 1.8h0m.1-.4h0m.8-1.7h0m.8 .4h0m1.1-1.6h0m.5-.7h0m1-.9h0m.2 3h0m1.4-1.8h0m.2 .8h0m1-1.8h0m1.3-.9h0m1.9-.3h0m.2-3h0m.3 2.8h0m.6-2.9h0m1-1.6h0m1.3-2.8h0m.6 1.1h0m1.2-1.9h0m.8-4.7h0m.9 0h0m1.7-2.4h0m.3-.8h0m.6-2h0m.4 2.2h0m1.2 .9h0m1.1 2h0m.6 1h0m.4 .6h0m.9 3.8h0m.5 2.8h0m.6 0h0m.6 .3h0m1.2 3.9h0m.9 1.3h0m1.5 7.3h0m.9-1.8h0m.3 .7h0m2 1.8h0m.9-1.6h0m.4 .9h0m1.3 .4h0m.6 2h0m.7 .1h0m.8 .2h0m.6-.4h0m.3 .9h0m.5 1.6h0m.4-.8h0m.7-1.3h0m.6 .9h0m.4 0h0m.2-1.1h0m1.2-.3h0m.7 1.9h0m.9 2.7h0m.5-1.4h0m.3-3.8h0m1.1 3.4h0m.3 1.1h0m.9-1.3h0m.6 1.8h0m1-2h0m1 1.3h0m.3-.4h0m.5 2.2h0m1.1-2.2h0m1 2.4h0m.5-1.6h0m.3 1h0m.8-.8h0m1.2 1.4h0m.8-1.2h0m.7-.6h0m1.7 2.2h0m.6-3.4h0m1.3 1.8h0m.4 .7h0m.7-1.7h0m.7 1.8h0m.7-1.6h0m.4 1.3h0m.3 .2h0m.7-.2h0m.2-.8h0m.6 0h0m.5 .1h0m1.6 .9h0m.7-1.4h0m.7-1.3h0m.3 2.2h0m.8-.7h0m.8 1.4h0m.3-.5h0m1.1 .6h0m1.1-3.1h0m.4 3.1h0m1.1-.8h0m1.3-.8h0m.5-.9h0m.5 2h0m.5-.3h0m.3-.9h0m.4 .8h0m.4-2.2h0m.8 1.2h0m.5-.9h0m1 .9h0m.5 2.3h0m.5-1.5h0m.2 1.1h0m.8-2.8h0m.7 2.1h0m1.2-.8h0m.5 .1h0m.8 2.3h0m1.1-2.1h0m.9-.7h0m.6-.1h0m.6 1.6h0m.3 2.3h0m1-6.2h0m.8 1.8h0m.6 2.2h0m.9-.9h0m1.1 .7h0m.4-2.8h0m.9 3.9h0m1.7-2.3h0m.9-1.5h0m1.5 1h0m.7 3.1h0m1.1-3.4h0m.6 .9h0m.2 0h0m1.5-.3h0m1.4 1.9h0m.6-1.6h0m.4 .9h0m.6-1.1h0m.6-2.1h0"/>
<path fill="none" stroke="#00f" stroke-opacity="0.42" stroke-width="4.4" stroke-linecap="round" d="M75.6 606.5h0m.9 .7h0m.7-.5h0m1 1h0m1.2 .4h0m.4-2.1h0m.6-.7h0m1.1-.1h0m.6 2h0m.9-2.8h0m.5 2.3h0m1.1-.5h0m.7-.7h0m.7-2.2h0m1 2.2h0m.6 2h0m1.2-3.1h0m.5 2.7h0m1.5-1.8h0m.8-.4h0m1 2h0m.5-4.3h0m.3 2.7h0m.7 .7h0m.7-.6h0m.9-1.9h0m.4 4.3h0m.6-3.4h0m.3 1.1h0m.5-1h0m.6-1.8h0m1.1 1h0m1 1.5h0m.5-.6h0m1.4 .3h0m.4 .1h0m1.5 1h0m.4-.1h0m.4-.7h0m.6 1.1h0m.7-1.2h0m1-.7h0m.9 2.1h0m.4-3.1h0m.6 1.4h0m.5-3.3h0m.5 2.8h0m1.2 2.5h0m.6-2.3h0m.7 1h0m.2 .3h0m.9-1.7h0m1.3 .6h0m.7 1.5h0m.5-1.9h0m.6-.8h0m1.1 .1h0m1.3 .5h0m.8 2.2h0m.5-1.6h0m.6-.5h0m.8 0h0m.4-1.2h0m1.5 .2h0m1.3-.8h0m.6 1.1h0m.7 .3h0m1.3-2.5h0m.3-.4h0m.6 2.9h0m.2-2.3h0m.8 1.1h0m.7-3.2h0m1.3 2h0m.9-2.1h0m.2-.3h0m1 0h0m.5 .4h0m1.3-1.1h0m.8-1.9h0m.9 .1h0m.9-3.4h0m1-1.3h0m.5-.9h0m2-5.9h0m.6-.6h0m1.1-4.4h0m.8-2.4h0m1.2-5.4h0m.5 .6h0m.7-2.3h0m.8 1.1h0m1.2 2h0m.5-2.5h0m.6 1.9h0m.3 1.7h0m.8 .5h0m.9 2.4h0m.9 .8h0m.5 .6h0m.5 1.1h0m1.3 2.6h0m.3 .4h0m.6 1.1h0m.4-1.2h0m.2 2.5h0m.5-.4h0m1.5-.5h0m.8 1.1h0m.3 2.7h0m1.3 .5h0m.6-.2h0m1.2 2.8h0m1.1-.8h0m.7-.3h0m.3 .9h0m.3-1.3h0m.2 1.4h0m.6-1.4h0m.6 2.3h0m1.5-1.1h0m.6 2.9h0m1.2 .6h0m1-1.9h0m.1-.3h0m1 3.3h0m1.2-.7h0m.9-2.1h0m.7 2.2h0m1.1-2.2h0m.5 3h0m1.1-.6h0m.8-.5h0m.9-.8h0m1 1.3h0m1 .5h0m.5-.4h0m1.6 .1h0m.9-1.5h0m1.1 1.9h0m.7 .2h0m.6-.1h0m.8-.4h0m.7 1.7h0m.3 0h0m1.3 .1h0m.5-1h0m.1 .9h0m.5-.7h0m.5 1.5h0m.8 1.9h0m.8-4.1h0m1.2 .4h0m.9 .4h0m.7-.4h0m.6 .4h0m.3-.3h0m1.7-.4h0m.2 2h0m.5 .3h0m.7-.4h0m.7-.4h0m.4-.1h0m.4 .2h0m.8-.2h0m.7-.9h0m.6 .6h0m.5 1.8h0m.8-4.6h0m1 1.6h0m1.3 2h0m1.4-1.5h0m.6-.4h0m1.6 0h0m.3-.2h0m.4 3.3h0m.4-1.6h0m.8 .5h0m.9-1.4h0m1.5-1.5h0m1.3 3.6h0m.2-.1h0m.2-.7h0m.5-.2h0m.8 0h0m.1-.2h0m.9-.9h0m1.4 1.1h0m.4-.1h0m1-2.7h0m1.7 3.1h0m1.7-.8h0m1.2 1.4h0m.9-1.7h0m.5 .8h0m.7-1.5h0m.2 4.7h0m1.1-3.8h0m1.1 1.4h0m.8-3.9h0m1.3 4.4h0m.3-2.3h0m.5 2h0m.6-.1h0m.7 2.2h0m1-4h0m.2 1.4h0m1 1.4h0m.4-.4h0m.7 .7h0m1-.6h0m.7-.9h0m.5-.9h0m.3 2.3h0m1.2-.9h0m1-2h0m.6 1.8h0m1.2-1.4h0m.6 1.7h0m1.2-1h0m.4 .6h0m1.9-2.7h0m.6 2.5h0m.6-.7h0m1 .1h0m1.2 2.3h0m1-1h0m.5-.4h0m.5-.2h0m1.7-.2h0m.6 .1h0m.6-.3h0m.6-.6h0m1.2-1.4h0m.2 2.9h0m1.2-.3h0m1 .1h0m.6-.9h0m.3 0h0m2.1-.4h0m.5 .2h0m.5 1.6h0m1.3-1.9h0m.4 1.3h0m.9 0h0m1.2-1h0m.9 .2h0m.8-.9h0m1 .8h0m.3 2.5h0m.9-3.1h0m.9 .9h0m.7-.8h0m.5 1.6h0m.2-2.2h0m2.1 1.1h0m1.4 .8h0m1.4-1.2h0m.7 .4h0m1-1.6h0m1.8 2.3h0m1 1.5h0m.3-1.4h0m.6-1.9h0m1.3 1.6h0m1.6-.5h0m.5 1.1h0m.4-.7h0m.4 .7h0m.9 .1h0m1-1.5h0m.5-1.5h0m.4 2.4h0m.7-1h0m.4 .7h0m.3-.8h0m.1 1.5h0m.5 .4h0m.4-.2h0m.2-2.1h0m1.5 1.6h0m.3 2.8h0m1.2-5.1h0m1.1 3.9h0m1-.9h0m.9-.3h0m.7 .4h0m.5-.4h0m.8-2h0m1 .4h0m.9 2.7h0m1.1-2.3h0m.9-1.6h0m.6 3.4h0m1.3-.2h0m.7-.6h0m.8 .6h0m1-1.5h0m1 .5h0m1.2 2.1h0m.5-2.5h0m.8 1.1h0m1.1-1.3h0m1 .4h0m1.1 2.1h0m1.3-.5h0m.3-2.6h0m.3 2.4h0m1.1-.3h0m.9-2.1h0m.3 2.4h0m.8-.4h0m.5-2.2h0m.6 2.5h0m.9-3.3h0m.4-1h0m.8 3.6h0m1-.3h0m1-.3h0m.7-1.8h0m1-1h0m.8 2.4h0m.5-3h0m.9 0h0m.7-.8h0m1.4 2.5h0m.3-3.1h0m.2 2.3h0m1.3-1h0m.4 .9h0m.7-1.3h0m.2 .4h0m1.5-1.5h0m.5 .3h0m.9-1.2h0m.8-.6h0m.5-2.4h0m.5 .9h0m1.5 .7h0m1-1.9h0m1.4-3h0m1.2-3.6h0m1-1.1h0m1.3-4.1h0m.9-4.8h0m1.3-3.5h0m1.2-7h0m1.1-5.7h0m.5-4h0m.8-6h0m.7-1.1h0m.6-5.9h0m.4 0h0m.7-1.5h0m.4 .6h0m1 4.3h0m.8 1.6h0m.9 4.6h0m.6 3h0m.4 4.1h0m.8 3.2h0m.8 7h0m.4 1.1h0m.3 1.3h0m.6 2.6h0m.2 1.9h0m.9 3h0m1.1 4.3h0m.2 .1h0m1.1 1.6h0m.2 .9h0m.3 3.4h0m1-.7h0m.5 1.9h0m.4 0h0m.8 1.8h0m1.4 .8h0m.5 1.9h0m.4 .1h0m.2 .2h0m.7 1.5h0m.5 .2h0m1.1-2.2h0m.2 .6h0m.5 2.2h0m.2-1.4h0m.7 .5h0m.5 .6h0m.5 1.4h0m1.5 .2h0m.5-.8h0m1.7 1h0m1.4 1.2h0m1.7 .9h0m.5-1.5h0m.3 .4h0m.6 .8h0m.9-1.1h0m.7-.7h0m.6 .8h0m1.1-1.5h0m.9 1.9h0m1.4 2h0m1.7-.6h0m.9 2.2h0m.7-2.7h0m.9 .5h0m.5 0h0m1.7 1.7h0m.5-1.4h0m1-.4h0m.4 1.1h0m.1-1.4h0m.5 .2h0m.3 2.5h0m1.4-.5h0m.8-.8h0m.3 1.9h0m.4-1h0m.3-1.2h0m.9 .9h0m1.2 .3h0m.8-1.1h0m.5-3h0m.2 3h0m.8 1.4h0m.3-.6h0m1.1-1.1h0m1.2-.3h0m1.2-.2h0m.1 .9h0m.7-.5h0m1.1 .4h0m.8-.8h0m1 .5h0m.9-.1h0m.4-.3h0m1.1-.6h0m.9-.4h0m1.1 1.6h0m.7 2.1h0m.3-3.6h0m1.3 2.8h0m.8-2.2h0m.6 1h0m.9 .6h0m.7-1.2h0m.8-1.3h0m.2 .7h0m.5-.6h0m.6-.4h0m.6 2.5h0m.4 .3h0m1.7 .5h0m.7-3.1h0m.7 1.5h0m.5 1.6h0m.6-2.2h0m.6-1.6h0m1.4 2.4h0m.5-1.1h0m.2-1h0m.3 3.1h0m.4 .5h0m.4-2.2h0m1 .7h0m.6 0h0m.3 1.4h0m.8 .8h0m.3-.9h0m1.5-1h0m.6 1.2h0m.5-.9h0m.7 1.7h0m.6-1.4h0m.8 .8h0m.8-.6h0m.5 3.4h0m.7-3.8h0m.3 1h0m.4-.7h0m1.5 .5h0m.6 1.8h0m.7-2.5h0m1.5 .1h0m.3 .8h0m1.6-1h0m.7 2.1h0m1.1-1h0m.3 0h0m.6 .9h0m.7-2.8h0m.7 1.5h0m.2-.4h0m.3 .3h0m.8 1.4h0m.2-.1h0m1.1-.5h0m.8 0h0m1.4 1.4h0m.2-1.9h0m.5 1.5h0m.9 .2h0m.5-1.2h0m1.3 1h0m.6 .1h0m1 1.9h0m.2-4h0m.7 1h0m.3-2.5h0m.8 2h0m1-.7h0m.9 .4h0m.5-.6h0m.3 2h0m1.2-1.4h0m.9-.1h0m.9 .3h0m.4-1.3h0m1.3 2.1h0m.9-3.9h0m.5 2.9h0m.7-.2h0m.5-.4h0m.3 2.5h0m.5-1.7h0m.8-.5h0m.9 .3h0m.8 1h0m.2-1.8h0m.7 .4h0m2 0h0m2.4 .9h0m.5-.8h0m.7 1.7h0m.5-1h0m.5-1.4h0m.3 .5h0m.6 1.9h0m.4-1.6h0m1.4 2.5h0m1.2-2.4h0m.9 .5h0m.4 .8h0m.7-2.1h0m.4 1.7h0m1 .8h0m.8-1.5h0m.8 .2h0m.5 1.7h0m.5-1.7h0m2.1-1.9h0m1 1.5h0m.8 .8h0m.8 .3h0m.3-.4h0m.7-.2h0m.3-1.8h0m.6 1.1h0m1 1.1h0m.2 1.7h0m.9-3.7h0m.8 .4h0m.7-1h0m.6 1.6h0m.8-1.5h0m.5 2.4h0m1.2-1.3h0m1.2 0h0m.5 1.1h0m.8-2.4h0m.6 0h0m1.1 1.6h0m.8 0h0m.7-1.1h0m.6-1.2h0m.8-.3h0m2.1-1.5h0m.6 2.5h0m.8 .4h0m.9-.1h0m.6 1h0m.9-.9h0m.3 1.9h0m.3-.8h0m.5 0h0m1.2-2.2h0m1.2 .5h0m.3 1.6h0m.8-1.4h0m1 .4h0m.8 .3h0m2.2-2.4h0m.5 1.2h0m1.1 2.4h0m.3-2.4h0m.6-.1h0m1-1.6h0m.9 .9h0m1.2-2.1h0m.6 2.3h0m1.1 .9h0m1.6-1.7h0m.7 1.5h0m.5-2.6h0m.7-.5h0m.7 .3h0m.2-.2h0m.8-.2h0m.2 1.6h0m.8-2.2h0m.8-1.7h0m1.1-.5h0m.6 1.6h0m.7-2.7h0m.8 1.5h0m.9-1h0m.2 1.6h0m.9-1.6h0m2.2-3.5h0m1.1 1.1h0m.1-2.2h0m.3 1.7h0m.8-1.7h0m1.3-1.1h0m.9-1.7h0m.6-1.6h0m1.5-2.1h0m.6-2.6h0m.8-1h0m1.8-2.7h0m.2 .5h0m.6-1.5h0m.9 .5h0m1.2 3.3h0m.6-.3h0m.6 .9h0m.4 3h0m1-.8h0m.6 3.6h0m.3 .6h0m.6 2.2h0m1.7 5.3h0m1.1 2.2h0m.9 1.3h0m.8 .1h0m1.4 2.1h0m.9 3.7h0m1.1-1.8h0m.7-.8h0m.8-.2h0m1 2.4h0m.9 1.1h0m.4 .5h0m.5 .3h0m.3-.7h0m.4-.5h0m.4 1.3h0m.8-1h0m.6 1.1h0m.3-2.6h0m.7 2.3h0m.9 .9h0m.6 .1h0m.9 .8h0m.5 .7h0m.7-.6h0m.6-1.1h0m.6 0h0m.9 .6h0m.5-1.1h0m1 1.5h0m.9-1.9h0m.3 2.7h0m1-.3h0m.8 .1h0m.8-1.2h0m.5 2.9h0m.4-1.2h0m1-1.1h0m1 .8h0m.9-1.3h0m.9 1.4h0m1.2 .3h0m1 .5h0m1-1.2h0m.4 .1h0m1.1 .6h0m.2-1.4h0m.9 1.7h0m.3-.5h0m.3 1.6h0m.7-1.8h0m.3 .2h0m.6 .2h0m.4-.4h0m1.6 1.8h0m.6-1.9h0m.8 1.7h0m.4 .3h0m.8 0h0m.7-.8h0m.7 1h0m.7-1.4h0m1 0h0m.6 .4h0m1.5-.6h0m.8-.9h0m.6 2h0m.4-.2h0m.5-2.8h0m.2 2.1h0m.5-1.8h0m.6 .1h0m.7 .9h0m1.1-.8h0m.2-.6h0m.7 .2h0m.4 .8h0m.4-.4h0m.5 0h0m.8 .8h0m1.1-.4h0m.8-1.4h0m.5-.4h0m1.1 1.7h0m1.1 1.2h0m.5-2.4h0m.6 .8h0m.2-.1h0m1 1h0m1.1 .5h0m.6-.2h0m.8-1.4h0m1.2 1.1h0m.1-2h0m1.3 1.5h0m1.6-.4h0m.8 1.4h0m1.4-.7h0m.7-.3h0m1.1-1.1h0m.5 .7h0m1.3 0h0m.9-.3h0m1 .8h0m.5 .7h0m.6-1.3h0m.7 .2h0m.4-.6h0"/>
<path fill="none" stroke="#00f" stroke-opacity="0.42" stroke-width="4.4" stroke-linecap="round" d="M75.6 604.3h0m.9 2.4h0m1.5-2.9h0m.5 2.2h0m.9 .1h0m.5 .6h0m.7-1.8h0m1 2.7h0m.7-2h0m.9-.4h0m.8 .9h0m.8-2.3h0m1.1 3.5h0m.5-.7h0m.7-1.6h0m1.2 1.7h0m.6-.9h0m1.1 .2h0m1.2 .1h0m.6-1.4h0m.9 .2h0m.4 .4h0m.6 0h0m.6 0h0m.5 0h0m1-.7h0m.4 .8h0m.7-1.1h0m.2-.3h0m.5 2.4h0m.7-2.7h0m1.2 1.7h0m.8-.5h0m1 .8h0m1-1.4h0m.8-.2h0m1 .6h0m.3-.5h0m.6 .7h0m.4 1.7h0m1-.7h0m.9-3.3h0m.9 1.4h0m.3-.2h0m.6 .5h0m.5-.7h0m.4 1.5h0m1.2-1.6h0m.6 1.5h0m.8-1.2h0m.2 1.6h0m1.3-1.5h0m.9 .8h0m.7-.5h0m.7 .5h0m.6 0h0m.9-2h0m1.5 .9h0m.6 2.1h0m.7-2.4h0m.7 .9h0m.5-1.5h0m.7 1.5h0m1.1-1.8h0m1.3 1.3h0m.8-2.5h0m1.1 .9h0m.8 1.1h0m.2 .3h0m.7-2.1h0m.4 .3h0m.8-1.5h0m.7 0h0m1.2 1.5h0m.8-2.3h0m.2-.1h0m1-.6h0m.5 1.7h0m1.2-.5h0m1.1-3.9h0m.7-1.9h0m.9 .1h0m1.1-2.4h0m.6-1.1h0m1.8-5.9h0m.7-2.3h0m1.1-3.7h0m.6-3.4h0m1.2-.1h0m.7-3.3h0m.7-.5h0m1.1-2.8h0m.7 2.4h0m.5 .3h0m.6-1.5h0m.7 4.7h0m.4 .9h0m1 2h0m1 1.4h0m.3 .8h0m.9 2h0m.9 1.4h0m.5-.8h0m.7 2.7h0m.1-.7h0m.2 .9h0m.5-.6h0m1.9 1.7h0m.4 1.1h0m1 1.2h0m.8 0h0m.7 2.8h0m1.1-.5h0m1-1.7h0m.7 1.8h0m.2-.1h0m.3 1.8h0m.4-1.3h0m.4-1.8h0m1.5 3.2h0m.7-2.6h0m.6 3.3h0m1.3-1.7h0m.8 .4h0m.8 .4h0m.8 1.1h0m.8 .8h0m1 .4h0m1-1.1h0m.7 .4h0m.9 0h0m.7 .4h0m.9 .5h0m.9 .1h0m.8-.2h0m1.1-.3h0m.8-1.8h0m1.2 2.8h0m.9 .7h0m1.4 .4h0m.5-2.9h0m.9 .7h0m.9 .4h0m.3 2.2h0m.3 .1h0m1.2-1.4h0m.5-.5h0m.2 1.7h0m.7 .2h0m.2-.6h0m.9 1.5h0m.8-.3h0m1.2-.6h0m1-.9h0m.8-1h0m.4 2.1h0m.5-2.6h0m1.4 3.5h0m.3-1.9h0m.7 2.2h0m.9-.3h0m.3-.4h0m.6-1h0m.3 .8h0m.7-1h0m.7-.6h0m.5 0h0m.7-1.4h0m1.1 1.2h0m.8 3.3h0m1.2-3h0m1.4 .1h0m.9 1.8h0m1.2-.6h0m.2-1.8h0m.4 3h0m.8-1.6h0m.5-1.4h0m1.2-.3h0m1.2 1.2h0m1.2 1.3h0m.2-.8h0m.3 .2h0m.7-1.7h0m.5 4h0m.2-1.7h0m1.3-1.2h0m1 1.5h0m.8 1.3h0m1.4-1.8h0m.9-1.5h0m1.8 1.6h0m1.3 1.3h0m.7-1.1h0m.5 .3h0m.6-.7h0m.4-1.2h0m1 1.6h0m1.1-.7h0m.8-1.2h0m1.2 .8h0m.3 4.7h0m.7-2.5h0m.6-.5h0m.5-.5h0m1.1-.1h0m.5-.1h0m.6-.8h0m1 1.8h0m.2-1.2h0m1.2 .6h0m.6 .4h0m.3-.1h0m.5 2.1h0m1.4-1.6h0m.7 1.6h0m.7-3.8h0m1 2.4h0m.7 .2h0m1.3-2.4h0m1 1.3h0m1.3-1.3h0m.5 1.8h0m.5-.7h0m1.2-.1h0m1.3 1.6h0m.9-3.7h0m.3 3.6h0m1.8-3.9h0m.4 2.4h0m1 .4h0m.2 .2h0m1-1.2h0m.8 1.3h0m.6 1.3h0m1 1.3h0m.8-3h0m.7-1.3h0m.9 1.5h0m1.6 .5h0m.3-.4h0m.8-.1h0m1-.9h0m.6 .9h0m1.4 .4h0m.8-1.1h0m.8 2.8h0m.8-.2h0m1-3.8h0m.2 1.2h0m1.5 .8h0m.3 .1h0m1-.5h0m.2 .5h0m.2 .2h0m2.3-.1h0m1.2-3h0m1.6 3.5h0m.4 .5h0m1.2-2.6h0m2.3-.1h0m.3 2.4h0m.4-1.8h0m.8 .7h0m1.7 .3h0m1-2.2h0m.5 2h0m.5 .1h0m.6 1.8h0m.8-.9h0m.7-1.2h0m.6 1.4h0m.4-1.2h0m.6 .2h0m.5-1.7h0m.2-.2h0m.4-.1h0m.5 1.3h0m.2-.2h0m.9-.6h0m.8-.5h0m.3 .2h0m1.2 3.5h0m1.2-2.6h0m.9 .9h0m.9-.7h0m.8-.1h0m.9 .1h0m.5 0h0m1-1h0m.8 3.3h0m1-1.5h0m1.2-.2h0m.5-.3h0m1-.1h0m.7 1.7h0m1.5-2h0m.3 1.8h0m1.3-.9h0m.9-.9h0m.6 .3h0m1 0h0m.9 1.5h0m1.3-1.4h0m.7-1.2h0m1.4 0h0m.3 1.4h0m.5-1.2h0m.8-.4h0m.9-.2h0m.4 .8h0m.7 0h0m.6-1.6h0m.9 2h0m.7-2.3h0m.3 3.3h0m1.2-2.4h0m.6 .4h0m1.4 .6h0m.4-3h0m1 1.1h0m.7 .2h0m.6-1.8h0m.7 2.9h0m.9-1.6h0m1.3 .1h0m.3-.3h0m.3-.4h0m1.3-.6h0m.2 1.2h0m.8-3h0m.2-1h0m1.4-.6h0m.8 1.9h0m.7 .3h0m.9-1h0m.3-1.1h0m1.1-.1h0m1.1-2.3h0m.9-1.8h0m1.4-2.3h0m1.8-3.7h0m.9-2.2h0m.8-.9h0m.9-5.4h0m1.6-7.6h0m1.1-3.3h0m.8-6h0m1-5h0m.4-3.2h0m.7-6.3h0m.8-2.7h0m.2-.6h0m.6 .4h0m.5 1.1h0m.9 1.2h0m1.2 7h0m.6 3.5h0m.5 3.5h0m.5 1.4h0m.9 4.7h0m.8 6h0m.3 1.4h0m.2 3.8h0m.8 1.6h0m.5 1.8h0m.6 1.4h0m.9 2.2h0m.2 3.8h0m1.2 .9h0m.2 3.8h0m.6-3h0m.7 1.5h0m.5 3.4h0m.3-2h0m.9 1.1h0m1.4 4.2h0m.6-2h0m.3 1h0m.3 1.3h0m.7-.2h0m.4 2.1h0m1.1-1.2h0m.1 2.5h0m.6-2.9h0m.2 .8h0m.6 1.4h0m.5 .1h0m.8-1h0m1.3 .8h0m.4 .6h0m2.2 3h0m.9-.4h0m2.1-.4h0m.1 .2h0m.4-1.2h0m.7 .1h0m.9-.8h0m.5 1.6h0m.9 .9h0m1.2 .5h0m.6-2.5h0m2.1 2.6h0m1.4 0h0m.6-2.2h0m.7 3h0m1-.8h0m.2-.5h0m1.9 .3h0m.7-1h0m.7 2.2h0m.4-1h0m.4 .1h0m.1 1.1h0m.5-1.3h0m1.4-.8h0m.6-1.3h0m.5 2.9h0m.4 .5h0m.2-.5h0m.9 .6h0m1.2-1h0m.7-1.8h0m.5 3.3h0m.5-1.7h0m.7 .7h0m.1-.2h0m1.7 .9h0m.6-.1h0m1.2-.1h0m.2-1.8h0m1 .7h0m.7-1.2h0m.9 .9h0m.9-.5h0m1.3 .3h0m.2-2.4h0m1 2.8h0m1.4 .7h0m.5 1h0m.9-1.7h0m.2 .1h0m1.3-1.7h0m.7-.1h0m.6 .3h0m.9 1.4h0m1-1.4h0m.6 1.9h0m.2-1.3h0m.8 .4h0m.3 1h0m.5-4.2h0m1 4.1h0m1.2-1h0m.8-1.6h0m.7 2h0m.5 1.8h0m.5-3.7h0m.5-.3h0m1.5 .7h0m.4 .7h0m.2 .7h0m.4 2.7h0m.5-2.8h0m.3 3.4h0m1.1-.8h0m.5-1.2h0m.3-.6h0m.8 .7h0m1 .1h0m.9-.3h0m.5-.7h0m.4 1h0m.9 .4h0m.6-1.9h0m.7 1.1h0m.9 1.6h0m.5-.1h0m.6 .1h0m.3-.4h0m.5-1.2h0m1.5 .3h0m.9 .1h0m.6-1.1h0m1.3 .9h0m.2 1.7h0m1.5-1.2h0m.8 .8h0m1.1 .9h0m.3-2.3h0m.6-.5h0m.6 .7h0m.8 1.9h0m.1-1h0m.4-.6h0m.7-.6h0m.3 .8h0m1.1-1.5h0m1.3 5.5h0m.9-3.6h0m.3-1h0m.4 2.2h0m1 .2h0m.4-1.6h0m1.6 .1h0m.4-1.2h0m.9-.7h0m.1 3h0m.7-1.4h0m.3 .2h0m.8-.5h0m1.1-1h0m.9 2.7h0m.4-.9h0m.7-.6h0m1.2-1.1h0m.6 2.1h0m.9-.6h0m.6-1.4h0m1.5 2h0m.4-3.1h0m.6 0h0m.6 5h0m.6-4.5h0m.2 .5h0m.5-.8h0m.8 .8h0m1 1.6h0m.8 .6h0m.4-1.8h0m.8 .2h0m2.4 1.6h0m1.6-2.7h0m.7 .1h0m.8-1.1h0m.3 2.6h0m.4-.8h0m.7 .4h0m.2-1.2h0m.5 1.4h0m1.8-1h0m.8 2.5h0m.8-3.4h0m.4 2.7h0m.8-1.5h0m.4 .5h0m1.2 1.6h0m.5 .1h0m.8-2h0m.5 .3h0m.5 .1h0m2.5-1.6h0m.6 2.2h0m.8-.9h0m1 1.6h0m.3-.5h0m.5-3.1h0m.5 2.7h0m.6-1.2h0m.8 .4h0m.4 1.2h0m.8 .4h0m1 .1h0m.6-1.6h0m.5-1h0m1.2-1.2h0m.1 2.1h0m1.7-.1h0m.6 .3h0m1-1.8h0m.8 3.7h0m.2-4.1h0m1.1 1.7h0m.7-1h0m1 .2h0m.6 1.7h0m1.3-1h0m1.3 .7h0m.7-1.8h0m.9 .8h0m.7-1.9h0m.8 .1h0m.7 .5h0m.3 2.6h0m.7-2.9h0m.1 .9h0m1.6 1.1h0m.9-.3h0m.4-.5h0m.7 .9h0m1.3-1.6h0m.9 .1h0m1.9-1h0m.7 2.1h0m.7-1.5h0m.7-1.1h0m.5 1.4h0m.7-.3h0m1-.9h0m1.3 3.3h0m.5-1.5h0m1.2-1.5h0m1.4-.6h0m.8 .7h0m.6-.4h0m.7-.6h0m.6-.7h0m.2 .8h0m.7-.4h0m.3-.6h0m.7-2.6h0m1.2 1.4h0m.8-.7h0m.6 .1h0m.7-.4h0m1.1-1.1h0m.5 .2h0m.7-2.2h0m.6 2.3h0m2.2-3.5h0m.9 .1h0m.2-1.7h0m.5 .2h0m.5 1.2h0m1.3-.5h0m1.2-5.4h0m.8-2.1h0m1-1.3h0m1.1-.4h0m.3-2.9h0m1.8-3.7h0m.3 2.1h0m.6-1h0m1 .3h0m1.1 2.4h0m.5-.1h0m.8 3.5h0m.4 1.5h0m.9 2.5h0m.6 .7h0m.2-.1h0m.8 4.2h0m1.6 3.3h0m1.3 2.5h0m.7-.9h0m.8 1.4h0m2.1 2.4h0m.4 .3h0m.9 .9h0m1.2-.4h0m.3 1.5h0m1 .2h0m.8 2.2h0m.6-1.7h0m.3 1.3h0m.5-.7h0m.5 .6h0m.6 .8h0m.4-2.7h0m.7 2h0m.2 1.1h0m1.1-1.5h0m.8 1.1h0m.3-.8h0m.8 1.9h0m.6-.7h0m.7 1.4h0m.5-3.8h0m.6 1h0m1 2.4h0m.7-1.7h0m1.3 1.5h0m.5 .1h0m.2 1.2h0m1 1.1h0m.8-.2h0m.9-2.9h0m.3 2.2h0m.7 .1h0m1 1.2h0m.8-.6h0m.9 0h0m1.5-2.7h0m.6 .7h0m1.1 1.4h0m1.1 .1h0m.4-1.2h0m.9 2h0m.4 0h0m.7-1.9h0m.3 .8h0m.2 2.2h0m.7 .4h0m.6-2.7h0m.5 2.4h0m.4-2.8h0m1.5 .3h0m.9 1h0m.4-3.6h0m.7 1.5h0m.5 4.2h0m.8-2.2h0m.7-1.8h0m.9 1.4h0m.9-1.1h0m.8-1.1h0m1.3 .9h0m.6 1.1h0m.8 .5h0m.2-2.5h0m.5 .7h0m.4 1.9h0m.3-2.4h0m.9 1.3h0m.5 .1h0m1.2 1.2h0m.1 .1h0m.6-3.5h0m.4 2h0m.4 2h0m.7-2.7h0m.6 1h0m1.2 .9h0m.9-1.5h0m.9-.1h0m1.2-.2h0m.5 1.2h0m.4 .2h0m.7-2.2h0m.2 2.7h0m1.1-2.2h0m1 .1h0m.6 .7h0m.8 1.7h0m1.1-1.5h0m.4-1.4h0m1.1 1.9h0m1.6 .2h0m1-1.1h0m1.4 .5h0m1 .2h0m.9-.4h0m.2-.8h0m1.3 .9h0m.8-.6h0m1.2-.2h0m.6 .5h0m.4-1.9h0m.7 1.5h0m.5 .4h0"/>
<path fill="none" stroke="#00f" stroke-opacity="0.42" stroke-width="4.4" stroke-linecap="round" d="M75.8 605.2h0m1.2 .8h0m1.1-1.9h0m.5 3.4h0m.9-1.6h0m.5-.2h0m.7 1.6h0m1.3-1.2h0m.5-.1h0m.9 .7h0m.7 1.2h0m1-1.8h0m.9 .7h0m.5-.9h0m.7-.8h0m1.5-.2h0m.2 2.5h0m1.1-.3h0m1.4-3.1h0m.6 1.3h0m1-.4h0m.1 .5h0m.8 .8h0m.9-1.8h0m.3 1.4h0m.8-2.2h0m.3 1.6h0m.8-.3h0m.2-1.8h0m.5 1.4h0m1.4 .9h0m.6 .6h0m.7-.6h0m1-2.7h0m1 1.6h0m.9 1.3h0m.8-2.8h0m.6 1.7h0m.3 .6h0m1 1.5h0m.4-3.2h0m.9 1.5h0m.9 .2h0m.4-1.1h0m.6-1.8h0m.6 2.3h0m.2-.3h0m1.5-.2h0m.4 2.6h0m.7-.9h0m.4-2.8h0m1.2 .4h0m1 1.4h0m.5-2.1h0m.8 3.6h0m.8-2.9h0m.6 .1h0m1.6 3.2h0m.8-2.3h0m.6-1.4h0m.8 .4h0m.3 1.1h0m.8-2h0m1 .7h0m1.6 .1h0m.6-.4h0m.9 .8h0m.8-1.6h0m.4-2.1h0m.5 2.2h0m.6 .2h0m.9-.6h0m.8-2.3h0m.9-1.1h0m.7 2.6h0m.8 0h0m.4-2.5h0m1.2-1.1h0m.7 .5h0m1.1 0h0m.7-4.4h0m.8 1.3h0m1.1-3.1h0m.9-1.5h0m1.6-7.5h0m.7-1.5h0m1.4-3.9h0m.4-.5h0m1-2h0m.9-1.7h0m.7-3.2h0m.9 1.6h0m.9 .4h0m.4 2.5h0m.5 .3h0m.7-1.2h0m.3 .6h0m1.6 4.1h0m.4 2.9h0m.4 .9h0m.9 1.3h0m1 .6h0m.4-.4h0m.6 .4h0m.2 2.1h0m.4-3.5h0m.5 4.7h0m1.6 .2h0m.5 0h0m1 .5h0m.7 2.3h0m1.6-.7h0m.2-1.5h0m1.5 2.2h0m.3 1.5h0m.2 .1h0m.3-.3h0m.4-1.1h0m.7 .7h0m1.3 2h0m.5 .9h0m1.3-2.2h0m1.2 3h0m.3 1.7h0m.8-3.1h0m1.2 1.1h0m.4-2.2h0m1 1.4h0m1 1.9h0m.8-.4h0m.9-.4h0m.6-.9h0m.9 1.3h0m1.1 .1h0m1.1-.5h0m.8-.2h0m.6 .8h0m1.2 .6h0m.9-.7h0m1.5 2.3h0m.5-2.5h0m.8 2.2h0m.8-.8h0m.3-.5h0m.4 .2h0m1.3-1.7h0m.4 3.2h0m.1 0h0m.8-.3h0m.8-.2h0m.3-.9h0m1.1 2.6h0m1.5-.9h0m.4-2h0m.7 .4h0m.4 1.9h0m1-1.3h0m1-.1h0m.4 .4h0m.5-1.5h0m.9 2.5h0m.3-.1h0m.7-1.2h0m.5 .2h0m.6-2.1h0m.6 1.3h0m.5 .5h0m.7 .3h0m1.1 4.7h0m.9-3.8h0m1.6-.7h0m1-.8h0m1-.2h0m.9 1h0m.2 .2h0m.5-1.7h0m.8 3.4h0m.7-3.6h0m1.3 1.6h0m1.1 0h0m1 .2h0m.1-2.2h0m.4 3.3h0m.6 .1h0m.5-.7h0m.9-1.3h0m1.3 .6h0m.3 0h0m1.2 1h0m1.2-2h0m1.4 1.5h0m1.1 .5h0m1.4 .3h0m.7-1h0m.5 .8h0m.6 0h0m.9-.5h0m.8 2.3h0m.7-3h0m.8 .8h0m1.4 .4h0m.2 1.3h0m.6-.7h0m.8-.5h0m.8 .3h0m.6-.2h0m.7-1.1h0m.8 1.5h0m.6-1.9h0m.4 1.4h0m1.1 1.1h0m.7-.9h0m.2 .5h0m.7-.9h0m1.2 1.4h0m.9-.2h0m1 .8h0m1-2h0m.1 2.4h0m1.4-1.6h0m1.2-1.2h0m1.3 2.3h0m.4-2h0m.6-.6h0m1.4 1.4h0m.9-.3h0m.9-1.1h0m.4-.9h0m1.9 3.5h0m.4-.2h0m.8-2.8h0m.3 .3h0m.9-.1h0m.8 .8h0m.6 .4h0m1.1-.5h0m1.1-.5h0m.3-1.3h0m1.2 1.9h0m1.4 .9h0m.2 .2h0m.7-.4h0m1.1-1.1h0m1 .2h0m.9 .5h0m1.1-.6h0m.8 1.6h0m1.1-.9h0m.4 0h0m.5 1h0m1.3-.4h0m.3 1.5h0m.9-1.7h0m.3 .1h0m.1-1.6h0m2.5 2.3h0m2-1.9h0m.8 .3h0m.6 2.2h0m1.1-2.5h0m2 2.3h0m.3-2h0m.6-.7h0m.6 1.4h0m2-.9h0m.8 0h0m.7-.4h0m.3 4.3h0m.8-3.4h0m.8 .3h0m.8-1.2h0m.4 1.1h0m.3-1.7h0m.7 3.5h0m.3-2.4h0m.2-1.8h0m.5 4.5h0m.4-1.9h0m.2-.5h0m1.5-1.2h0m.2 1.1h0m.3-.6h0m1.4 .1h0m1.8 1h0m.4-1.3h0m.9 .5h0m.5-.1h0m.9 .2h0m.7 .4h0m1.1-.6h0m.7 .6h0m.8 1h0m1.3-2.7h0m.7 2.7h0m.9-3.4h0m.7 2.2h0m1.5 .5h0m.6 1h0m1.6-3.5h0m.2 3.2h0m.9-2.2h0m.8 2.7h0m1.4-3.1h0m.8-.4h0m1.5 2.8h0m.4-.7h0m.3-1.1h0m.5 .5h0m1.5-.4h0m.3 .3h0m.5 .6h0m.6-1.4h0m.5 1.5h0m1.2-1.9h0m.4 0h0m.6-1h0m1.2 1.3h0m.5-1.1h0m1.2-.4h0m.8-.9h0m.7 2.8h0m.6-.7h0m.6-.6h0m.7-2.2h0m1.1 3.3h0m1.2-2.4h0m.2-.3h0m1.1 1.5h0m.7-1.1h0m.1-.5h0m.7-.7h0m.4-.7h0m1.2 .2h0m.8 .3h0m.9-2.5h0m.8 .2h0m.5 1.1h0m1.4-4.2h0m.7 1h0m1.1 0h0m1-1.9h0m2-6.3h0m1.3-2.8h0m.3-.1h0m1.2-5.9h0m1.8-9.2h0m.7-4.6h0m.6-1.6h0m1.2-7.8h0m.6-5.3h0m.5-5.3h0m.7 2.7h0m.4-.8h0m.4-2.6h0m.6 .4h0m.9 4.5h0m1.1 3.7h0m.6 4.9h0m.4 1h0m.5 3.4h0m1.1 8.2h0m.6 3.2h0m.3 1.5h0m.4-.5h0m.6 3.5h0m.8 5.4h0m.5 1.8h0m.8 3.3h0m.6-.3h0m.7 1.4h0m.3 1.2h0m.6 1.8h0m.7-.1h0m.4 2.4h0m.9 .7h0m1.1 .9h0m.8 .4h0m.6 .8h0m.1-.7h0m.6 .1h0m.5 2h0m.3-1.1h0m1.1 1.4h0m.3 .2h0m.4 3.1h0m.3-2.3h0m.8 1.7h0m.5-2.5h0m1-.1h0m.8 2.3h0m1.2-.2h0m2 1.8h0m1-.2h0m1.4 1.3h0m.1-.8h0m.7 .6h0m.5 1.3h0m1-2.7h0m.6 2.8h0m1.2-1.2h0m.9 2.1h0m.6-3.7h0m1.9 3.1h0m1.4 .5h0m.7-2.3h0m.7 1.9h0m.8-1.9h0m.8 3.8h0m1.4-1h0m.8-.1h0m.5-.4h0m.4-.1h0m.4 2.7h0m.2-2h0m.6 0h0m1.3 .9h0m.6-1.5h0m.6 .3h0m.2 1h0m.2-1.4h0m1.2 1.1h0m1 1.1h0m.6 0h0m.6 0h0m.5-2.7h0m.6 1.2h0m.2-.6h0m2.1 1.2h0m.2-.2h0m1.2-1.3h0m.1-1.4h0m1.4 1.5h0m.6-1.5h0m.9 1.4h0m1 0h0m.9-.3h0m.2 .9h0m1.2-.8h0m1.5 1.8h0m.3-2.6h0m.8 .1h0m.4 .5h0m1.3 0h0m.6 1h0m.8-2h0m.6-.2h0m1.1 1.5h0m.5-1.7h0m.4 1.3h0m.7 0h0m.3 .3h0m.4 .5h0m1.2-1.8h0m1.5 2.1h0m.6-1.2h0m.6 1.7h0m.4-1.5h0m.6-.6h0m.4 2h0m1.6-1.7h0m.2 1.4h0m.3-2.1h0m.4 2.3h0m.5-1h0m.3-.2h0m1.1-1.1h0m.4 1.4h0m.4 .7h0m.8 .7h0m1.2-1.8h0m.6 2.2h0m.6-2.3h0m.4 2.3h0m1-1.5h0m.8 1.2h0m.5-.9h0m.7-1.6h0m.5 1.1h0m.7 1.8h0m.3-1.5h0m1.3-.1h0m.7 1.8h0m.9 .1h0m1.1-1.8h0m.7 2.1h0m.8 .3h0m1.1-1h0m.9 0h0m.9-.2h0m.3 .8h0m.5 1.5h0m.7-3.4h0m.7-.4h0m.2 2.4h0m.6-1h0m.4-2.1h0m.3 1.1h0m1.3 .7h0m1.1-.4h0m.9 2.5h0m.3-2.2h0m.5 .7h0m1.1-.2h0m.3 2.5h0m1.6-2.4h0m.5-.4h0m.7-.8h0m.3 .2h0m.7 .8h0m.6-.7h0m.7 .9h0m.9-.9h0m.7 1.4h0m.4-.6h0m1 .8h0m1.3-.6h0m.3-2.2h0m.8 1.5h0m.7-.3h0m1.6-.5h0m.5 2.3h0m.5-4.5h0m.8 2h0m.3 .5h0m.1 1.5h0m.7-1.4h0m.7-.5h0m1-.3h0m.8 0h0m.3 2.3h0m1.5-1.9h0m1.9 .5h0m1.6 .2h0m.6-1h0m.7 .6h0m.6-.5h0m.1 2.5h0m.8-2.6h0m.2 1.3h0m1 .2h0m1.3-1.5h0m1.2 0h0m.5 1.3h0m.4-1.7h0m.8 1.6h0m.8 1.1h0m.8-.9h0m.6-.4h0m.9-.2h0m.4-.9h0m1.2-.8h0m1.5 2.8h0m.6-1.6h0m1-.7h0m.9 1.5h0m.2 .3h0m.7-1h0m.4-.9h0m.8 1.9h0m.6-1.2h0m.4-.8h0m1 2.4h0m.9 .9h0m.6-3.6h0m.4 1.7h0m1.1 .6h0m.7 .4h0m1.6-.4h0m.3-.1h0m.8-1.4h0m.8-1h0m.8 1.3h0m.6-1.6h0m.7 1.8h0m1-1.4h0m.6 0h0m1.4 1.9h0m1.2-1.6h0m.6 0h0m.9 .2h0m1 0h0m.5-.3h0m.8 .7h0m.3 2.2h0m.6-2.2h0m.6-.7h0m1.4 .6h0m.7 1.7h0m.5-3.1h0m.7 1.4h0m1.2 .3h0m.9 .7h0m2-2h0m1.1-.2h0m.2-1.4h0m.7 1.2h0m.5-.3h0m.9-.7h0m1.2-.9h0m.9 2.4h0m.8-1.5h0m1.9 1.3h0m.8-1.7h0m.3-.5h0m.7-.5h0m.6 0h0m.7 .2h0m.7-.1h0m.1 .2h0m.6-2.2h0m.6-1.3h0m1.1 2.4h0m.8-2.2h0m.8 1.3h0m.5-.2h0m1.4-4.1h0m.2 4.6h0m1-1.7h0m1.2-3.4h0m1.3 1.6h0m.8-2.6h0m.3 .1h0m.6 1.3h0m1-4.9h0m1 0h0m.9-3.3h0m.8 1.9h0m1.2-2.8h0m.9-4.2h0m.2 1.9h0m1.9-3.8h0m.5-1.8h0m.4 1.3h0m1.1 .4h0m1.2 6.5h0m.6-1.9h0m.4 .2h0m.9 1.1h0m.6 2.9h0m.5 2.6h0m.2-1.3h0m1.6 6.9h0m.9 1.8h0m1.4 .3h0m1.1 3h0m.3 1.3h0m2-.3h0m.7 1.9h0m.6 1h0m1.2-2.5h0m.5 3.5h0m.8-1.6h0m.9 1.8h0m.5-2.3h0m.4 2.9h0m.5-2.1h0m.3 1.7h0m.6-1h0m.7 1h0m.5 .8h0m.1-1.4h0m1.1 1.4h0m.8-1.4h0m.7 1.3h0m.7-1.5h0m.4 1h0m1.1 .6h0m.1 1h0m.9 1.2h0m.7-2.7h0m.9 2.8h0m1.1 .1h0m.4-.1h0m.3-1.8h0m1.3 2.2h0m.6-.8h0m.8-.2h0m.3 1.3h0m.8-2.1h0m1.1 1.4h0m.7 .4h0m.8-1.7h0m1.6 1.2h0m.4 2.1h0m1.7-1.2h0m.5-.1h0m.6 .7h0m.7-2.1h0m.7 1.4h0m.5-.2h0m.3-1.6h0m.7 1.2h0m.1 2.2h0m.7-.3h0m.5-1.1h0m.8-2.2h0m1.3 3.6h0m.9-3h0m.3 .3h0m.7 1.5h0m.7 1.4h0m.4-2.4h0m1 .3h0m.7-.9h0m.9-1.5h0m1.1 1h0m1 .1h0m.8 4.1h0m.6-2.4h0m.3-.3h0m.5-1.7h0m.3 2.6h0m.3-1.8h0m1 1.6h0m.4-1.6h0m1.1 0h0m.3 1.5h0m.4-.6h0m.4 1h0m.7-1h0m.9-.7h0m.7-.3h0m.9 1.4h0m.7-1.8h0m.8 .2h0m1.3-.2h0m.6 .7h0m.7-1h0m.3 .8h0m.9 1.1h0m.8-.7h0m.7-.1h0m.7-.5h0m1-.6h0m.7 .4h0m.4-.4h0m1.6 1.6h0m1-2.3h0m1 2h0m1.6-1.4h0m1.2 .4h0m.5 .3h0m.3 .5h0m1.2 .3h0m.9-1.5h0m1.3 1.2h0m.4 .4h0m.5-1.3h0m.6 .2h0m1-.7h0"/>
</g>
<path stroke="#000" stroke-width="2" fill="none" d="M47.0 1.00H685.0M47.0 89.43H685.0M47.0 177.86H685.0M47.0 266.29H685.0M47.0 354.72H685.0M47.0 443.15H685.0M47.0 531.58H685.0M47.0 620.01H685.0M48.0 0.00V621.01M684.0 0.00V621.01"/>
<path stroke="#000" stroke-width="1" fill="none" d="M99.38 2.00v2.8M99.38 88.43v-2.8M185.50 2.00v2.8M185.50 88.43v-2.8M271.62 2.00v2.8M271.62 88.43v-2.8M357.75 2.00v2.8M357.75 88.43v-2.8M443.88 2.00v2.8M443.88 88.43v-2.8M530.00 2.00v2.8M530.00 88.43v-2.8M616.12 2.00v2.8M616.12 88.43v-2.8M49.0 78.40h2.8M683.0 78.40h-2.8M49.0 43.35h2.8M683.0 43.35h-2.8M49.0 8.30h2.8M683.0 8.30h-2.8M102.60 90.43v2.8M102.60 176.86v-2.8M187.60 90.43v2.8M187.60 176.86v-2.8M272.60 90.43v2.8M272.60 176.86v-2.8M357.60 90.43v2.8M357.60 176.86v-2.8M442.60 90.43v2.8M442.60 176.86v-2.8M527.60 90.43v2.8M527.60 176.86v-2.8M612.60 90.43v2.8M612.60 176.86v-2.8M49.0 166.83h2.8M683.0 166.83h-2.8M49.0 131.78h2.8M683.0 131.78h-2.8M49.0 96.73h2.8M683.0 96.73h-2.8M102.60 178.86v2.8M102.60 265.29v-2.8M187.60 178.86v2.8M187.60 265.29v-2.8M272.60 178.86v2.8M272.60 265.29v-2.8M357.60 178.86v2.8M357.60 265.29v-2.8M442.60 178.86v2.8M442.60 265.29v-2.8M527.60 178.86v2.8M527.60 265.29v-2.8M612.60 178.86v2.8M612.60 265.29v-2.8M49.0 255.26h2.8M683.0 255.26h-2.8M49.0 220.21h2.8M683.0 220.21h-2.8M49.0 185.16h2.8M683.0 185.16h-2.8M102.60 267.29v2.8M102.60 353.72v-2.8M187.60 267.29v2.8M187.60 353.72v-2.8M272.60 267.29v2.8M272.60 353.72v-2.8M357.60 267.29v2.8M357.60 353.72v-2.8M442.60 267.29v2.8M442.60 353.72v-2.8M527.60 267.29v2.8M527.60 353.72v-2.8M612.60 267.29v2.8M612.60 353.72v-2.8M49.0 343.69h2.8M683.0 343.69h-2.8M49.0 308.64h2.8M683.0 308.64h-2.8M49.0 273.59h2.8M683.0 273.59h-2.8M102.60 355.72v2.8M102.60 442.15v-2.8M187.60 355.72v2.8M187.60 442.15v-2.8M272.60 355.72v2.8M272.60 442.15v-2.8M357.60 355.72v2.8M357.60 442.15v-2.8M442.60 355.72v2.8M442.60 442.15v-2.8M527.60 355.72v2.8M527.60 442.15v-2.8M612.60 355.72v2.8M612.60 442.15v-2.8M49.0 432.12h2.8M683.0 432.12h-2.8M49.0 397.07h2.8M683.0 397.07h-2.8M49.0 362.02h2.8M683.0 362.02h-2.8M102.60 444.15v2.8M102.60 530.58v-2.8M187.60 444.15v2.8M187.60 530.58v-2.8M272.60 444.15v2.8M272.60 530.58v-2.8M357.60 444.15v2.8M357.60 530.58v-2.8M442.60 444.15v2.8M442.60 530.58v-2.8M527.60 444.15v2.8M527.60 530.58v-2.8M612.60 444.15v2.8M612.60 530.58v-2.8M49.0 520.55h2.8M683.0 520.55h-2.8M49.0 485.50h2.8M683.0 485.50h-2.8M49.0 450.45h2.8M683.0 450.45h-2.8M102.60 532.58v2.8M102.60 619.01v-2.8M187.60 532.58v2.8M187.60 619.01v-2.8M272.60 532.58v2.8M272.60 619.01v-2.8M357.60 532.58v2.8M357.60 619.01v-2.8M442.60 532.58v2.8M442.60 619.01v-2.8M527.60 532.58v2.8M527.60 619.01v-2.8M612.60 532.58v2.8M612.60 619.01v-2.8M49.0 608.98h2.8M683.0 608.98h-2.8M49.0 573.93h2.8M683.0 573.93h-2.8M49.0 538.88h2.8M683.0 538.88h-2.8"/>
<g font-family="Liberation Sans, sans-serif" font-size="15.6" fill="#000"><text x="44.6" y="84.30" text-anchor="end">0.0</text><text x="44.6" y="49.25" text-anchor="end">0.5</text><text x="44.6" y="14.20" text-anchor="end">1.0</text><text x="44.6" y="172.73" text-anchor="end">0.0</text><text x="44.6" y="137.68" text-anchor="end">0.5</text><text x="44.6" y="102.63" text-anchor="end">1.0</text><text x="44.6" y="261.16" text-anchor="end">0.0</text><text x="44.6" y="226.11" text-anchor="end">0.5</text><text x="44.6" y="191.06" text-anchor="end">1.0</text><text x="44.6" y="349.59" text-anchor="end">0.0</text><text x="44.6" y="314.54" text-anchor="end">0.5</text><text x="44.6" y="279.49" text-anchor="end">1.0</text><text x="44.6" y="438.02" text-anchor="end">0.0</text><text x="44.6" y="402.97" text-anchor="end">0.5</text><text x="44.6" y="367.92" text-anchor="end">1.0</text><text x="44.6" y="526.45" text-anchor="end">0.0</text><text x="44.6" y="491.40" text-anchor="end">0.5</text><text x="44.6" y="456.35" text-anchor="end">1.0</text><text x="44.6" y="614.88" text-anchor="end">0.0</text><text x="44.6" y="579.83" text-anchor="end">0.5</text><text x="44.6" y="544.78" text-anchor="end">1.0</text><text x="102.80" y="635.4" text-anchor="middle" textLength="27.8" lengthAdjust="spacingAndGlyphs">−75</text><text x="187.80" y="635.4" text-anchor="middle" textLength="27.8" lengthAdjust="spacingAndGlyphs">−50</text><text x="272.80" y="635.4" text-anchor="middle" textLength="27.8" lengthAdjust="spacingAndGlyphs">−25</text><text x="357.60" y="635.4" text-anchor="middle">0</text><text x="442.60" y="635.4" text-anchor="middle">25</text><text x="527.60" y="635.4" text-anchor="middle">50</text><text x="612.60" y="635.4" text-anchor="middle">75</text></g>
<g font-family="Liberation Serif, serif" font-size="30" fill="#000" stroke="#000" stroke-width="0.75"><text x="90.1" y="31.10">a</text><text x="89.8" y="120.33">b</text><text x="90.0" y="208.56">c</text><text x="89.5" y="296.69">d</text><text x="89.8" y="385.42">e</text><text x="93.0" y="473.45">f</text><text x="89.2" y="558.48">g</text></g>
<g font-family="Liberation Sans, sans-serif" font-size="17.8" fill="#000"><text x="582" y="37.10" textLength="32.5" lengthAdjust="spacingAndGlyphs">CPT</text><text x="579.6" y="124.73" textLength="66.8" lengthAdjust="spacingAndGlyphs">Ramsey</text><text x="579" y="213.26"><tspan font-style="italic">N</tspan> = 1</text><text x="579" y="301.69"><tspan font-style="italic">N</tspan> = 3</text><text x="579" y="390.12"><tspan font-style="italic">N</tspan> = 7</text><text x="579" y="478.55"><tspan font-style="italic">N</tspan> = 15</text><text x="579" y="566.98"><tspan font-style="italic">N</tspan> = 31</text></g>
<path stroke="#f00" stroke-width="2.2" d="M126 21.6H162.2"/>
<circle cx="144.1" cy="46.7" r="2.2" fill="#00f" fill-opacity="0.45"/>
<g font-family="Liberation Sans, sans-serif" font-size="17.8" fill="#000"><text x="176.2" y="27.6" textLength="86.5" lengthAdjust="spacingAndGlyphs">Numerical</text><text x="176.2" y="53.3" textLength="112.5" lengthAdjust="spacingAndGlyphs">Experimental</text></g>
<text font-family="Liberation Sans, sans-serif" font-size="20.4" fill="#000" transform="translate(14.8 310.2) rotate(-90)" text-anchor="middle" textLength="137" lengthAdjust="spacingAndGlyphs">Normalized TS</text>
<g font-family="Liberation Serif, serif" fill="#000"><text x="313.6" y="656.3" font-size="23.3" font-style="italic">δ</text><text x="336.4" y="656.4" font-size="21.6">2</text><text x="347.4" y="656.4" font-size="26" font-style="italic">π</text></g>
<path d="M335.2 639.6L326.6 662" stroke="#000" stroke-width="1.35"/>
<text font-family="Liberation Sans, sans-serif" font-size="24.4" fill="#000" x="369.9" y="656.6">(kHz)</text>
</svg></body></html>
